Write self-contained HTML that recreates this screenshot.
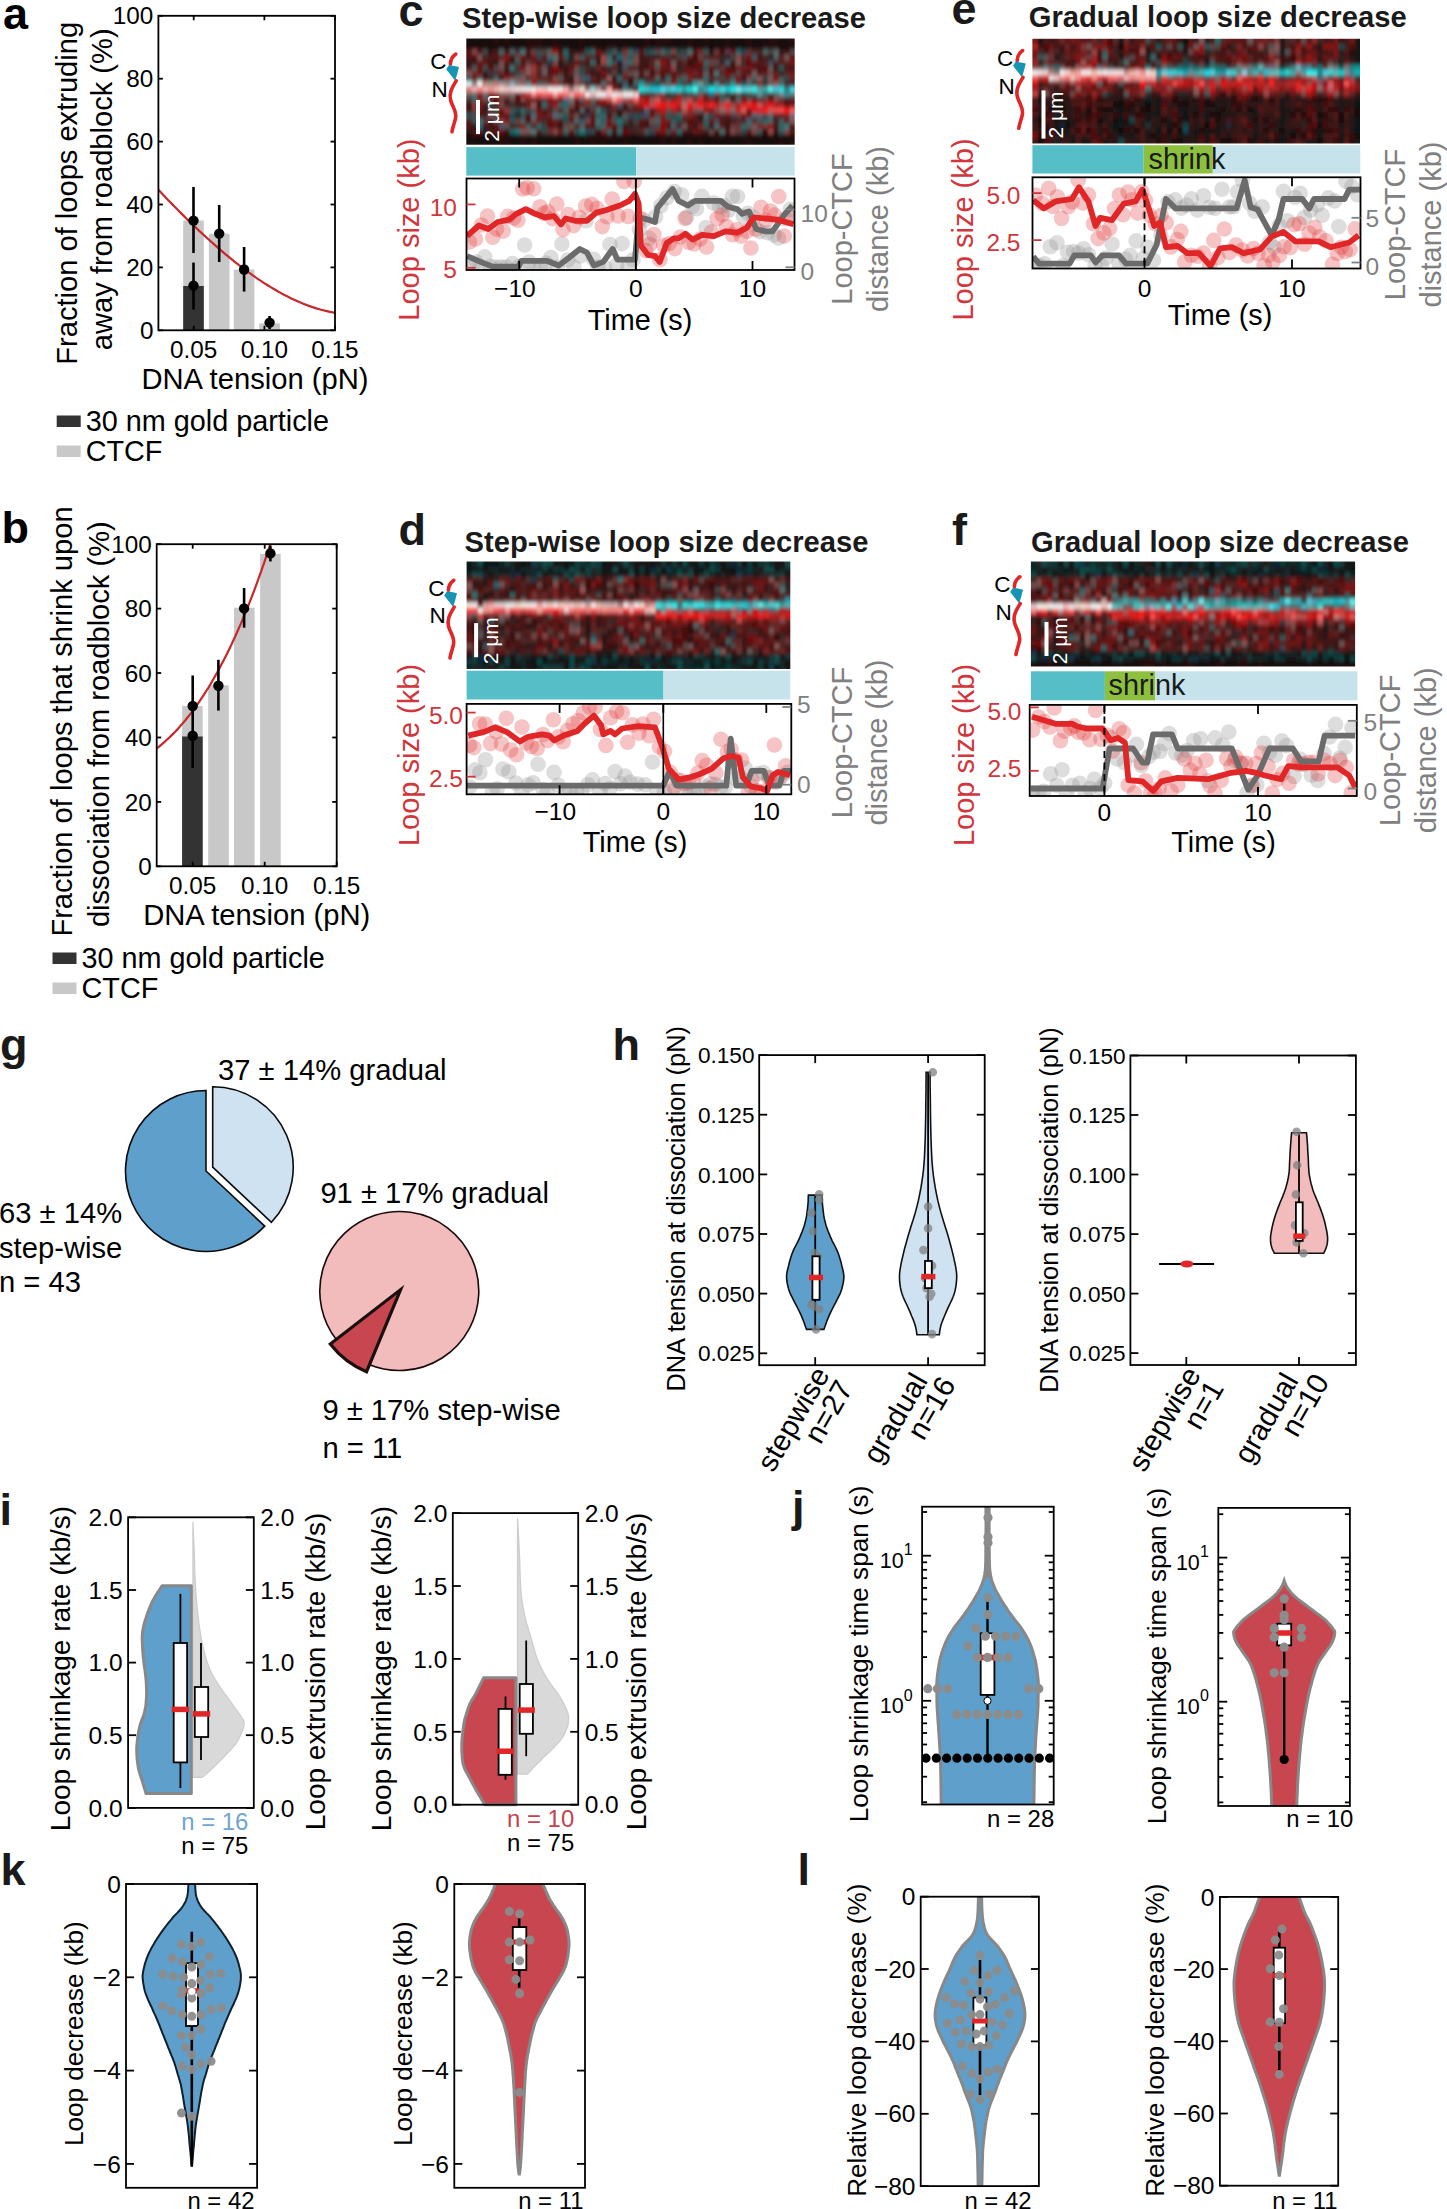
<!DOCTYPE html>
<html><head><meta charset="utf-8"><style>
html,body{margin:0;padding:0;background:#fff;}
svg{display:block;}
text{font-family:"Liberation Sans",sans-serif;}
</style></head><body>
<svg width="1447" height="2209" viewBox="0 0 1447 2209">
<defs><filter id="kblur" x="-2%" y="-5%" width="104%" height="110%"><feGaussianBlur stdDeviation="0.9 2.0"/></filter></defs>
<rect width="1447" height="2209" fill="#fff"/>
<rect x="183.2" y="220.5" width="20.6" height="109.8" fill="#c8c8c8"/>
<rect x="208.9" y="233.7" width="20.6" height="96.6" fill="#c8c8c8"/>
<rect x="233.8" y="269.6" width="20.6" height="60.7" fill="#c8c8c8"/>
<rect x="259.3" y="323.4" width="20.6" height="6.9" fill="#c8c8c8"/>
<rect x="183.2" y="286" width="20.6" height="44.3" fill="#333333"/>
<clipPath id="cpa"><rect x="158.4" y="15.8" width="176.6" height="314.5"/></clipPath>
<path d="M156.4 187.7 L158.7 190.1 L161 192.5 L163.3 194.9 L165.5 197.3 L167.8 199.7 L170.1 202.1 L172.4 204.4 L174.7 206.7 L177 209 L179.3 211.4 L181.5 213.6 L183.8 215.9 L186.1 218.2 L188.4 220.4 L190.7 222.6 L193 224.8 L195.3 227 L197.5 229.2 L199.8 231.4 L202.1 233.5 L204.4 235.6 L206.7 237.7 L209 239.8 L211.3 241.9 L213.6 243.9 L215.8 245.9 L218.1 247.9 L220.4 249.9 L222.7 251.8 L225 253.8 L227.3 255.7 L229.6 257.6 L231.8 259.4 L234.1 261.3 L236.4 263.1 L238.7 264.9 L241 266.6 L243.3 268.4 L245.6 270.1 L247.8 271.8 L250.1 273.4 L252.4 275.1 L254.7 276.7 L257 278.3 L259.3 279.8 L261.6 281.3 L263.8 282.8 L266.1 284.3 L268.4 285.7 L270.7 287.1 L273 288.5 L275.3 289.8 L277.6 291.2 L279.8 292.4 L282.1 293.7 L284.4 294.9 L286.7 296.1 L289 297.2 L291.3 298.4 L293.6 299.5 L295.9 300.5 L298.1 301.5 L300.4 302.5 L302.7 303.4 L305 304.4 L307.3 305.2 L309.6 306.1 L311.9 306.9 L314.1 307.6 L316.4 308.4 L318.7 309 L321 309.7 L323.3 310.3 L325.6 310.9 L327.9 311.4 L330.1 311.9 L332.4 312.3 L334.7 312.8 L337 313.1" stroke="#c8282a" stroke-width="2.2" fill="none" clip-path="url(#cpa)"/>
<line x1="193.5" y1="187" x2="193.5" y2="253" stroke="#000" stroke-width="2.6"/>
<line x1="193.5" y1="262.6" x2="193.5" y2="309.6" stroke="#000" stroke-width="2.6"/>
<line x1="219.2" y1="205" x2="219.2" y2="262" stroke="#000" stroke-width="2.6"/>
<line x1="244.1" y1="247" x2="244.1" y2="291.6" stroke="#000" stroke-width="2.6"/>
<line x1="269.6" y1="316" x2="269.6" y2="329" stroke="#000" stroke-width="2.6"/>
<circle cx="193.5" cy="220.6" r="5.2" fill="#000"/>
<circle cx="193.5" cy="285.6" r="5.2" fill="#000"/>
<circle cx="219.2" cy="233.6" r="5.2" fill="#000"/>
<circle cx="244.1" cy="269.5" r="5.2" fill="#000"/>
<circle cx="269.6" cy="322.6" r="5.2" fill="#000"/>
<rect x="158.4" y="15.8" width="176.6" height="314.5" fill="none" stroke="#000" stroke-width="1.8"/>
<line x1="193.7" y1="330.3" x2="193.7" y2="325.8" stroke="#000" stroke-width="1.8"/>
<line x1="193.7" y1="15.8" x2="193.7" y2="20.3" stroke="#000" stroke-width="1.8"/>
<line x1="264.4" y1="330.3" x2="264.4" y2="325.8" stroke="#000" stroke-width="1.8"/>
<line x1="264.4" y1="15.8" x2="264.4" y2="20.3" stroke="#000" stroke-width="1.8"/>
<line x1="335" y1="330.3" x2="335" y2="325.8" stroke="#000" stroke-width="1.8"/>
<line x1="335" y1="15.8" x2="335" y2="20.3" stroke="#000" stroke-width="1.8"/>
<line x1="158.4" y1="330.3" x2="162.9" y2="330.3" stroke="#000" stroke-width="1.8"/>
<line x1="335" y1="330.3" x2="330.5" y2="330.3" stroke="#000" stroke-width="1.8"/>
<text x="153.4" y="338.9" text-anchor="end" style="font-size:24.3px">0</text>
<line x1="158.4" y1="267.4" x2="162.9" y2="267.4" stroke="#000" stroke-width="1.8"/>
<line x1="335" y1="267.4" x2="330.5" y2="267.4" stroke="#000" stroke-width="1.8"/>
<text x="153.4" y="276" text-anchor="end" style="font-size:24.3px">20</text>
<line x1="158.4" y1="204.5" x2="162.9" y2="204.5" stroke="#000" stroke-width="1.8"/>
<line x1="335" y1="204.5" x2="330.5" y2="204.5" stroke="#000" stroke-width="1.8"/>
<text x="153.4" y="213.1" text-anchor="end" style="font-size:24.3px">40</text>
<line x1="158.4" y1="141.6" x2="162.9" y2="141.6" stroke="#000" stroke-width="1.8"/>
<line x1="335" y1="141.6" x2="330.5" y2="141.6" stroke="#000" stroke-width="1.8"/>
<text x="153.4" y="150.2" text-anchor="end" style="font-size:24.3px">60</text>
<line x1="158.4" y1="78.7" x2="162.9" y2="78.7" stroke="#000" stroke-width="1.8"/>
<line x1="335" y1="78.7" x2="330.5" y2="78.7" stroke="#000" stroke-width="1.8"/>
<text x="153.4" y="87.3" text-anchor="end" style="font-size:24.3px">80</text>
<line x1="158.4" y1="15.8" x2="162.9" y2="15.8" stroke="#000" stroke-width="1.8"/>
<line x1="335" y1="15.8" x2="330.5" y2="15.8" stroke="#000" stroke-width="1.8"/>
<text x="153.4" y="24.4" text-anchor="end" style="font-size:24.3px">100</text>
<text x="193.7" y="357.8" text-anchor="middle" style="font-size:24.3px">0.05</text>
<text x="264.4" y="357.8" text-anchor="middle" style="font-size:24.3px">0.10</text>
<text x="335" y="357.8" text-anchor="middle" style="font-size:24.3px">0.15</text>
<text x="255" y="388.8" text-anchor="middle" style="font-size:29.2px">DNA tension (pN)</text>
<text x="3" y="29" style="font-size:45px;font-weight:bold">a</text>
<text x="77.3" y="193.3" text-anchor="middle" transform="rotate(-90 77.3 193.3)" style="font-size:29.1px">Fraction of loops extruding</text>
<text x="112" y="189.3" text-anchor="middle" transform="rotate(-90 112 189.3)" style="font-size:29.1px">away from roadblock (%)</text>
<rect x="56.7" y="415.5" width="24" height="11.5" fill="#333333"/>
<text x="85.7" y="431" style="font-size:28.8px">30 nm gold particle</text>
<rect x="56.7" y="445.5" width="24" height="11.5" fill="#c8c8c8"/>
<text x="85.7" y="461" style="font-size:28.8px">CTCF</text>
<rect x="182.1" y="705.9" width="20.6" height="160.4" fill="#c8c8c8"/>
<rect x="208.2" y="685.3" width="20.6" height="181" fill="#c8c8c8"/>
<rect x="234" y="607.7" width="20.6" height="258.6" fill="#c8c8c8"/>
<rect x="260.1" y="553.9" width="20.6" height="312.4" fill="#c8c8c8"/>
<rect x="182.1" y="736.5" width="20.6" height="129.8" fill="#333333"/>
<clipPath id="cpb"><rect x="156.7" y="544.2" width="180" height="322.1"/></clipPath>
<path d="M154.7 750 L157 748.2 L159.4 746.4 L161.7 744.4 L164 742.4 L166.3 740.3 L168.7 738.2 L171 735.9 L173.3 733.6 L175.7 731.2 L178 728.7 L180.3 726.1 L182.6 723.4 L185 720.7 L187.3 717.8 L189.6 714.9 L192 711.8 L194.3 708.7 L196.6 705.5 L199 702.1 L201.3 698.7 L203.6 695.2 L205.9 691.5 L208.3 687.8 L210.6 684 L212.9 680 L215.3 675.9 L217.6 671.8 L219.9 667.5 L222.2 663.1 L224.6 658.6 L226.9 653.9 L229.2 649.2 L231.6 644.3 L233.9 639.3 L236.2 634.2 L238.5 629 L240.9 623.6 L243.2 618.1 L245.5 612.5 L247.9 606.7 L250.2 600.8 L252.5 594.8 L254.9 588.6 L257.2 582.3 L259.5 575.9 L261.8 569.3 L264.2 562.6 L266.5 555.7 L268.8 548.7 L271.2 541.6 L273.5 534.3 L275.8 526.8 L278.1 519.2 L280.5 511.5 L282.8 503.5 L285.1 495.5 L287.5 487.2 L289.8 478.9 L292.1 470.3 L294.4 461.6 L296.8 452.7 L299.1 443.7 L301.4 434.5 L303.8 425.1 L306.1 415.6 L308.4 405.9 L310.8 396 L313.1 386 L315.4 375.7 L317.7 365.3 L320.1 354.7 L322.4 344 L324.7 333 L327.1 321.9 L329.4 310.5 L331.7 299 L334 287.3 L336.4 275.5 L338.7 263.4" stroke="#c8282a" stroke-width="2.2" fill="none" clip-path="url(#cpb)"/>
<line x1="192.7" y1="675.5" x2="192.7" y2="768" stroke="#000" stroke-width="2.6"/>
<line x1="218.4" y1="659.8" x2="218.4" y2="710.6" stroke="#000" stroke-width="2.6"/>
<line x1="244.1" y1="588" x2="244.1" y2="627.7" stroke="#000" stroke-width="2.6"/>
<line x1="270.4" y1="545.6" x2="270.4" y2="561.4" stroke="#000" stroke-width="2.6"/>
<circle cx="192.7" cy="706" r="5.2" fill="#000"/>
<circle cx="192.7" cy="735.8" r="5.2" fill="#000"/>
<circle cx="218.4" cy="685.8" r="5.2" fill="#000"/>
<circle cx="244.1" cy="608.4" r="5.2" fill="#000"/>
<circle cx="270.4" cy="553.4" r="5.2" fill="#000"/>
<rect x="156.7" y="544.2" width="180" height="322.1" fill="none" stroke="#000" stroke-width="1.8"/>
<line x1="192.7" y1="866.3" x2="192.7" y2="861.8" stroke="#000" stroke-width="1.8"/>
<line x1="192.7" y1="544.2" x2="192.7" y2="548.7" stroke="#000" stroke-width="1.8"/>
<line x1="264.7" y1="866.3" x2="264.7" y2="861.8" stroke="#000" stroke-width="1.8"/>
<line x1="264.7" y1="544.2" x2="264.7" y2="548.7" stroke="#000" stroke-width="1.8"/>
<line x1="336.7" y1="866.3" x2="336.7" y2="861.8" stroke="#000" stroke-width="1.8"/>
<line x1="336.7" y1="544.2" x2="336.7" y2="548.7" stroke="#000" stroke-width="1.8"/>
<line x1="156.7" y1="866.3" x2="161.2" y2="866.3" stroke="#000" stroke-width="1.8"/>
<line x1="336.7" y1="866.3" x2="332.2" y2="866.3" stroke="#000" stroke-width="1.8"/>
<text x="151.7" y="874.9" text-anchor="end" style="font-size:24.3px">0</text>
<line x1="156.7" y1="801.9" x2="161.2" y2="801.9" stroke="#000" stroke-width="1.8"/>
<line x1="336.7" y1="801.9" x2="332.2" y2="801.9" stroke="#000" stroke-width="1.8"/>
<text x="151.7" y="810.5" text-anchor="end" style="font-size:24.3px">20</text>
<line x1="156.7" y1="737.5" x2="161.2" y2="737.5" stroke="#000" stroke-width="1.8"/>
<line x1="336.7" y1="737.5" x2="332.2" y2="737.5" stroke="#000" stroke-width="1.8"/>
<text x="151.7" y="746.1" text-anchor="end" style="font-size:24.3px">40</text>
<line x1="156.7" y1="673" x2="161.2" y2="673" stroke="#000" stroke-width="1.8"/>
<line x1="336.7" y1="673" x2="332.2" y2="673" stroke="#000" stroke-width="1.8"/>
<text x="151.7" y="681.6" text-anchor="end" style="font-size:24.3px">60</text>
<line x1="156.7" y1="608.6" x2="161.2" y2="608.6" stroke="#000" stroke-width="1.8"/>
<line x1="336.7" y1="608.6" x2="332.2" y2="608.6" stroke="#000" stroke-width="1.8"/>
<text x="151.7" y="617.2" text-anchor="end" style="font-size:24.3px">80</text>
<line x1="156.7" y1="544.2" x2="161.2" y2="544.2" stroke="#000" stroke-width="1.8"/>
<line x1="336.7" y1="544.2" x2="332.2" y2="544.2" stroke="#000" stroke-width="1.8"/>
<text x="151.7" y="552.8" text-anchor="end" style="font-size:24.3px">100</text>
<text x="192.7" y="893.8" text-anchor="middle" style="font-size:24.3px">0.05</text>
<text x="264.7" y="893.8" text-anchor="middle" style="font-size:24.3px">0.10</text>
<text x="336.7" y="893.8" text-anchor="middle" style="font-size:24.3px">0.15</text>
<text x="256.7" y="924.8" text-anchor="middle" style="font-size:29.2px">DNA tension (pN)</text>
<text x="1.5" y="542.5" style="font-size:45px;font-weight:bold">b</text>
<text x="72" y="721.5" text-anchor="middle" transform="rotate(-90 72 721.5)" style="font-size:29.1px">Fraction of loops that shrink upon</text>
<text x="109" y="724.2" text-anchor="middle" transform="rotate(-90 109 724.2)" style="font-size:29.1px">dissociation from roadblock (%)</text>
<rect x="52.5" y="952.5" width="24" height="11.5" fill="#333333"/>
<text x="81.5" y="968" style="font-size:28.8px">30 nm gold particle</text>
<rect x="52.5" y="982.5" width="24" height="11.5" fill="#c8c8c8"/>
<text x="81.5" y="998" style="font-size:28.8px">CTCF</text>
<text x="-0.5" y="1524.8" fill="#1a1a1a" style="font-size:45px;font-weight:bold">i</text>
<path d="M192.9 1522.3 L192.9 1522.3 L193.1 1526.7 L193.4 1533 L193.7 1540.3 L194.1 1547.8 L194.4 1554.6 L194.6 1560.8 L194.7 1567 L194.9 1573 L195.1 1578.9 L195.4 1584.5 L195.7 1589.9 L196.1 1595 L196.5 1600 L196.9 1604.8 L197.3 1609.4 L197.8 1613.7 L198.2 1617.7 L198.7 1621.6 L199.2 1625.4 L199.8 1629.3 L200.5 1633.3 L201.1 1637.2 L201.8 1641.2 L202.6 1645.2 L203.6 1649.2 L204.6 1653.2 L205.7 1657.3 L206.9 1661.3 L208.3 1665.3 L209.8 1669.1 L211.5 1672.7 L213.4 1676.2 L215.4 1679.7 L217.5 1683.1 L219.7 1686.5 L222.1 1690.1 L224.7 1693.7 L227.4 1697.3 L229.9 1700.7 L232.2 1703.9 L234.2 1706.8 L236.2 1709.5 L238 1712.1 L239.6 1714.3 L240.9 1716.4 L242 1718 L242.8 1719.2 L243.5 1720.2 L243.9 1721.3 L244.1 1722.6 L244.1 1724.1 L243.9 1725.7 L243.5 1727.4 L242.9 1729.3 L242.1 1731.3 L241.2 1733.5 L240.2 1736 L239 1738.6 L237.5 1741.2 L235.9 1743.7 L234 1746.2 L231.8 1748.7 L229.5 1751.2 L227.1 1753.7 L224.7 1756.2 L222.3 1758.7 L219.7 1761.3 L217.1 1763.9 L214.6 1766.4 L212.3 1768.6 L210 1770.7 L207.6 1772.8 L205.5 1774.6 L203.6 1776.2 L202.3 1777.3 L192.9 1777.3Z" fill="#d9d9d9" stroke="#cccccc" stroke-width="1.2" stroke-linejoin="round"/>
<path d="M191.3 1585.7 L162.2 1585.7 L160.9 1587.6 L159.2 1590.2 L157.2 1593.2 L155.2 1596.4 L153.5 1599.4 L152 1602.3 L150.7 1605.3 L149.5 1608.3 L148.3 1611.3 L147.2 1614.3 L146.2 1617.4 L145.2 1620.4 L144.3 1623.5 L143.6 1626.4 L143 1629.3 L142.6 1631.8 L142.4 1634.2 L142.2 1636.5 L142.2 1638.9 L142.3 1641.7 L142.4 1644.8 L142.6 1648.2 L142.8 1651.7 L143.1 1655.4 L143.5 1659.1 L143.9 1663 L144.5 1667 L145.1 1671.1 L145.6 1675.2 L146 1679 L146.3 1682.7 L146.4 1686.3 L146.5 1689.8 L146.6 1693.2 L146.5 1696.5 L146.3 1699.6 L146.1 1702.6 L145.8 1705.5 L145.3 1708.4 L144.7 1711.4 L143.9 1714.4 L142.9 1717.3 L141.7 1720.3 L140.7 1723.3 L139.8 1726.3 L139.1 1729.3 L138.5 1732.4 L138 1735.4 L137.6 1738.4 L137.3 1741.2 L137 1743.8 L136.8 1746.3 L136.7 1748.6 L136.7 1751.1 L136.8 1753.7 L137 1756.5 L137.2 1759.6 L137.6 1762.7 L138 1765.7 L138.5 1768.6 L139.1 1771.2 L139.9 1773.8 L140.7 1776.2 L141.5 1778.6 L142.3 1781 L143.1 1783.7 L143.9 1786.6 L144.8 1789.4 L145.5 1791.8 L146 1793.5 L191.3 1793.5Z" fill="#5e9fcb" stroke="#888888" stroke-width="3" stroke-linejoin="round"/>
<line x1="180.4" y1="1593.9" x2="180.4" y2="1788" stroke="#000" stroke-width="1.8"/>
<rect x="173.7" y="1643" width="13.4" height="119.4" fill="#fff" stroke="#000" stroke-width="1.8"/>
<line x1="171.7" y1="1709.4" x2="189.1" y2="1709.4" stroke="#e02626" stroke-width="5.5"/>
<line x1="201" y1="1643" x2="201" y2="1759.9" stroke="#000" stroke-width="1.8"/>
<rect x="194.8" y="1687" width="13.4" height="50" fill="#fff" stroke="#000" stroke-width="1.8"/>
<line x1="192.8" y1="1713.9" x2="210.2" y2="1713.9" stroke="#e02626" stroke-width="5.5"/>
<rect x="128.1" y="1517.3" width="125.7" height="290.6" fill="none" stroke="#000" stroke-width="1.8"/>
<line x1="128.1" y1="1807.9" x2="136.1" y2="1807.9" stroke="#000" stroke-width="1.8"/>
<line x1="253.8" y1="1807.9" x2="245.8" y2="1807.9" stroke="#000" stroke-width="1.8"/>
<line x1="128.1" y1="1735.2" x2="136.1" y2="1735.2" stroke="#000" stroke-width="1.8"/>
<line x1="253.8" y1="1735.2" x2="245.8" y2="1735.2" stroke="#000" stroke-width="1.8"/>
<line x1="128.1" y1="1662.6" x2="136.1" y2="1662.6" stroke="#000" stroke-width="1.8"/>
<line x1="253.8" y1="1662.6" x2="245.8" y2="1662.6" stroke="#000" stroke-width="1.8"/>
<line x1="128.1" y1="1590" x2="136.1" y2="1590" stroke="#000" stroke-width="1.8"/>
<line x1="253.8" y1="1590" x2="245.8" y2="1590" stroke="#000" stroke-width="1.8"/>
<line x1="128.1" y1="1517.3" x2="136.1" y2="1517.3" stroke="#000" stroke-width="1.8"/>
<line x1="253.8" y1="1517.3" x2="245.8" y2="1517.3" stroke="#000" stroke-width="1.8"/>
<text x="122.6" y="1816.6" text-anchor="end" style="font-size:24.5px">0.0</text>
<text x="260.3" y="1816.6" style="font-size:24.5px">0.0</text>
<text x="122.6" y="1744" text-anchor="end" style="font-size:24.5px">0.5</text>
<text x="260.3" y="1744" style="font-size:24.5px">0.5</text>
<text x="122.6" y="1671.3" text-anchor="end" style="font-size:24.5px">1.0</text>
<text x="260.3" y="1671.3" style="font-size:24.5px">1.0</text>
<text x="122.6" y="1598.7" text-anchor="end" style="font-size:24.5px">1.5</text>
<text x="260.3" y="1598.7" style="font-size:24.5px">1.5</text>
<text x="122.6" y="1526" text-anchor="end" style="font-size:24.5px">2.0</text>
<text x="260.3" y="1526" style="font-size:24.5px">2.0</text>
<text x="248.3" y="1829.9" text-anchor="end" fill="#6fa6cf" style="font-size:23.9px">n = 16</text>
<text x="248.3" y="1854.4" text-anchor="end" style="font-size:23.9px">n = 75</text>
<path d="M517.5 1518.6 L517.5 1518.6 L517.8 1523.4 L518.2 1530.3 L518.7 1538.4 L519.1 1546.8 L519.5 1554.6 L519.8 1562.2 L520 1570.1 L520.3 1577.9 L520.6 1585.3 L521 1592 L521.6 1597.8 L522.4 1603.2 L523.2 1608 L524.1 1612.5 L525 1616.8 L525.9 1620.7 L526.8 1624 L527.8 1627.1 L528.8 1630.4 L530 1634.3 L531.3 1638.8 L532.7 1643.9 L534.2 1649.2 L535.8 1654.4 L537.4 1659.1 L539.2 1663.5 L541.1 1667.6 L543.1 1671.5 L545.2 1675.3 L547.4 1679 L549.8 1682.7 L552.4 1686.3 L555.1 1689.8 L557.6 1693.2 L559.8 1696.5 L561.7 1699.7 L563.5 1702.9 L565 1706 L566.3 1708.8 L567.3 1711.4 L568 1713.5 L568.4 1715.3 L568.6 1716.9 L568.6 1718.4 L568.5 1720.1 L568.5 1721.8 L568.3 1723.4 L568 1725 L567.5 1726.8 L566.8 1728.8 L565.8 1731 L564.7 1733.5 L563.3 1736.1 L561.7 1738.7 L559.8 1741.2 L557.7 1743.7 L555.3 1746.2 L552.6 1748.7 L550 1751.2 L547.4 1753.7 L544.8 1756.2 L542.2 1758.9 L539.6 1761.5 L537.1 1763.9 L535 1766.1 L533 1768.1 L531.3 1770 L529.7 1771.7 L528.4 1773.1 L527.5 1774.1 L517.5 1774.1Z" fill="#d9d9d9" stroke="#cccccc" stroke-width="1.2" stroke-linejoin="round"/>
<path d="M515.9 1677.8 L483.6 1677.8 L482.5 1680.1 L480.9 1683.4 L479 1687.2 L477.2 1690.9 L475.6 1694 L474.3 1696.3 L473.1 1698.2 L472 1699.9 L471 1701.7 L469.9 1703.9 L468.8 1706.7 L467.7 1709.8 L466.7 1713 L465.7 1716.1 L464.9 1718.8 L464.4 1721.1 L464 1723.1 L463.7 1724.9 L463.5 1726.7 L463.2 1728.8 L462.9 1731.1 L462.6 1733.6 L462.3 1736.1 L462.1 1738.7 L462 1741.2 L461.8 1743.7 L461.8 1746.2 L461.8 1748.7 L461.8 1751.2 L462 1753.7 L462.1 1756.2 L462.3 1758.6 L462.6 1761.1 L463 1763.6 L463.7 1766.1 L464.6 1768.6 L465.8 1771.1 L467.2 1773.6 L468.6 1776.1 L469.9 1778.6 L471.2 1781 L472.5 1783.5 L473.8 1785.9 L475.2 1788.4 L476.6 1791 L478.3 1793.9 L480.2 1797 L482.1 1800.1 L483.7 1802.8 L484.8 1804.7 L515.9 1804.7Z" fill="#c8464f" stroke="#888888" stroke-width="3" stroke-linejoin="round"/>
<line x1="505.5" y1="1696.5" x2="505.5" y2="1779.8" stroke="#000" stroke-width="1.8"/>
<rect x="498.6" y="1708.9" width="13.2" height="65.9" fill="#fff" stroke="#000" stroke-width="1.8"/>
<line x1="496.6" y1="1751.2" x2="513.8" y2="1751.2" stroke="#e02626" stroke-width="5.5"/>
<line x1="526.2" y1="1640.5" x2="526.2" y2="1756.2" stroke="#000" stroke-width="1.8"/>
<rect x="519.7" y="1684" width="13.2" height="49.8" fill="#fff" stroke="#000" stroke-width="1.8"/>
<line x1="517.7" y1="1710.1" x2="534.9" y2="1710.1" stroke="#e02626" stroke-width="5.5"/>
<rect x="452.8" y="1513.1" width="125.4" height="291.6" fill="none" stroke="#000" stroke-width="1.8"/>
<line x1="452.8" y1="1804.7" x2="460.8" y2="1804.7" stroke="#000" stroke-width="1.8"/>
<line x1="578.2" y1="1804.7" x2="570.2" y2="1804.7" stroke="#000" stroke-width="1.8"/>
<line x1="452.8" y1="1731.8" x2="460.8" y2="1731.8" stroke="#000" stroke-width="1.8"/>
<line x1="578.2" y1="1731.8" x2="570.2" y2="1731.8" stroke="#000" stroke-width="1.8"/>
<line x1="452.8" y1="1658.9" x2="460.8" y2="1658.9" stroke="#000" stroke-width="1.8"/>
<line x1="578.2" y1="1658.9" x2="570.2" y2="1658.9" stroke="#000" stroke-width="1.8"/>
<line x1="452.8" y1="1586" x2="460.8" y2="1586" stroke="#000" stroke-width="1.8"/>
<line x1="578.2" y1="1586" x2="570.2" y2="1586" stroke="#000" stroke-width="1.8"/>
<line x1="452.8" y1="1513.1" x2="460.8" y2="1513.1" stroke="#000" stroke-width="1.8"/>
<line x1="578.2" y1="1513.1" x2="570.2" y2="1513.1" stroke="#000" stroke-width="1.8"/>
<text x="447.3" y="1813.4" text-anchor="end" style="font-size:24.5px">0.0</text>
<text x="584.7" y="1813.4" style="font-size:24.5px">0.0</text>
<text x="447.3" y="1740.5" text-anchor="end" style="font-size:24.5px">0.5</text>
<text x="584.7" y="1740.5" style="font-size:24.5px">0.5</text>
<text x="447.3" y="1667.6" text-anchor="end" style="font-size:24.5px">1.0</text>
<text x="584.7" y="1667.6" style="font-size:24.5px">1.0</text>
<text x="447.3" y="1594.7" text-anchor="end" style="font-size:24.5px">1.5</text>
<text x="584.7" y="1594.7" style="font-size:24.5px">1.5</text>
<text x="447.3" y="1521.8" text-anchor="end" style="font-size:24.5px">2.0</text>
<text x="584.7" y="1521.8" style="font-size:24.5px">2.0</text>
<text x="574.2" y="1826.7" text-anchor="end" fill="#c4434d" style="font-size:23.9px">n = 10</text>
<text x="574.2" y="1851.2" text-anchor="end" style="font-size:23.9px">n = 75</text>
<text x="69.8" y="1668.5" text-anchor="middle" transform="rotate(-90 69.8 1668.5)" style="font-size:28px">Loop shrinkage rate (kb/s)</text>
<text x="324.7" y="1671.5" text-anchor="middle" transform="rotate(-90 324.7 1671.5)" style="font-size:28px">Loop extrusion rate (kb/s)</text>
<text x="391" y="1668.5" text-anchor="middle" transform="rotate(-90 391 1668.5)" style="font-size:28px">Loop shrinkage rate (kb/s)</text>
<text x="645.5" y="1671.5" text-anchor="middle" transform="rotate(-90 645.5 1671.5)" style="font-size:28px">Loop extrusion rate (kb/s)</text>
<text x="792" y="1522" fill="#1a1a1a" style="font-size:45px;font-weight:bold">j</text>
<clipPath id="cj1"><rect x="922.1" y="1506.7" width="131.6" height="297.8"/></clipPath>
<g clip-path="url(#cj1)">
<path d="M989.1 1502.8 L989.1 1507.5 L989.1 1514.2 L989.1 1522 L989.1 1529.9 L989.1 1537 L989.2 1543.5 L989.2 1550.1 L989.3 1556.3 L989.4 1562 L989.6 1566.7 L989.8 1570.1 L990.1 1572.6 L990.4 1574.5 L990.7 1576.2 L991.2 1578.1 L991.7 1580.1 L992.3 1582 L993 1583.8 L993.7 1585.5 L994.4 1587.2 L995 1588.6 L995.6 1589.9 L996.2 1591.1 L996.9 1592.4 L997.8 1594 L998.9 1596 L1000.2 1598.3 L1001.7 1600.7 L1003.1 1603.1 L1004.6 1605.4 L1006.2 1607.7 L1007.7 1610 L1009.3 1612.3 L1011 1614.6 L1012.6 1616.8 L1014.3 1619.1 L1016.1 1621.4 L1017.9 1623.7 L1019.7 1626 L1021.3 1628.2 L1022.8 1630.5 L1024.3 1632.8 L1025.6 1635.1 L1026.9 1637.4 L1028.1 1639.6 L1029.2 1641.9 L1030.2 1644.2 L1031.1 1646.5 L1031.9 1648.8 L1032.7 1651 L1033.4 1653.3 L1034 1655.6 L1034.6 1657.9 L1035.2 1660.2 L1035.7 1662.4 L1036.1 1664.7 L1036.5 1667 L1036.9 1669.3 L1037.2 1671.6 L1037.5 1673.9 L1037.7 1676.1 L1038 1678.4 L1038.2 1680.7 L1038.3 1683 L1038.4 1685.3 L1038.4 1687.5 L1038.4 1689.8 L1038.3 1692.1 L1038.2 1694.4 L1038.2 1696.7 L1038.1 1698.8 L1038.1 1700.7 L1038.1 1702.7 L1038.1 1705.1 L1037.9 1708.1 L1037.7 1711.9 L1037.4 1716.4 L1037 1721.2 L1036.7 1726.1 L1036.3 1730.9 L1036 1735.4 L1035.7 1740 L1035.5 1744.6 L1035.2 1749.1 L1035 1753.7 L1034.8 1758.1 L1034.6 1762.4 L1034.5 1766.7 L1034.4 1771.3 L1034.3 1776.5 L1034.2 1782.8 L1034.1 1790.1 L1034 1797.5 L1033.9 1803.9 L1033.8 1808.4 L941.2 1808.4 L941.2 1803.9 L941.1 1797.5 L941 1790.1 L940.9 1782.8 L940.8 1776.5 L940.7 1771.3 L940.6 1766.7 L940.4 1762.4 L940.3 1758.1 L940.1 1753.7 L939.9 1749.1 L939.6 1744.6 L939.3 1740 L939 1735.4 L938.7 1730.9 L938.4 1726.1 L938 1721.2 L937.7 1716.4 L937.4 1711.9 L937.1 1708.1 L937 1705.1 L936.9 1702.7 L936.9 1700.7 L936.9 1698.8 L936.9 1696.7 L936.8 1694.4 L936.8 1692.1 L936.7 1689.8 L936.7 1687.5 L936.7 1685.3 L936.8 1683 L936.9 1680.7 L937.1 1678.4 L937.3 1676.1 L937.6 1673.9 L937.9 1671.6 L938.2 1669.3 L938.6 1667 L939 1664.7 L939.4 1662.4 L939.9 1660.2 L940.4 1657.9 L941 1655.6 L941.7 1653.3 L942.4 1651 L943.2 1648.8 L944 1646.5 L944.9 1644.2 L945.9 1641.9 L946.9 1639.6 L948.1 1637.4 L949.4 1635.1 L950.8 1632.8 L952.3 1630.5 L953.8 1628.2 L955.4 1626 L957.2 1623.7 L958.9 1621.4 L960.7 1619.1 L962.4 1616.8 L964.1 1614.6 L965.7 1612.3 L967.4 1610 L968.9 1607.7 L970.4 1605.4 L971.9 1603.1 L973.4 1600.7 L974.8 1598.3 L976.1 1596 L977.3 1594 L978.2 1592.4 L978.9 1591.1 L979.5 1589.9 L980.1 1588.6 L980.7 1587.2 L981.4 1585.5 L982.1 1583.8 L982.7 1582 L983.4 1580.1 L983.9 1578.1 L984.3 1576.2 L984.7 1574.5 L985 1572.6 L985.3 1570.1 L985.5 1566.7 L985.7 1562 L985.8 1556.3 L985.8 1550.1 L985.9 1543.5 L985.9 1537 L986 1529.9 L986 1522 L986 1514.2 L985.9 1507.5 L985.9 1502.8Z" fill="#5e9fcb" stroke="#888888" stroke-width="3"/>
<path d="M988.9 1502.8 L988.9 1507.5 L989 1514.2 L989 1522 L989.1 1529.9 L989.1 1537 L989.2 1543.5 L989.2 1550.1 L989.3 1556.3 L989.3 1562 L989.4 1566.7 L989.4 1570.3 L989.5 1573.1 L989.7 1575.2 L989.8 1576.8 L989.8 1578.1 L985.3 1578.1 L985.3 1576.8 L985.4 1575.2 L985.5 1573.1 L985.6 1570.3 L985.7 1566.7 L985.8 1562 L985.8 1556.3 L985.9 1550.1 L985.9 1543.5 L985.9 1537 L986 1529.9 L986 1522 L986.1 1514.2 L986.1 1507.5 L986.2 1502.8Z" fill="#888888"/>
<line x1="987.5" y1="1600.9" x2="987.5" y2="1756" stroke="#000" stroke-width="2.4"/>
<rect x="980.7" y="1633.3" width="13.7" height="61.6" fill="#fff" stroke="#000" stroke-width="1.8"/>
<line x1="980.2" y1="1657.4" x2="994.8" y2="1657.4" stroke="#e02626" stroke-width="5.5"/>
<path fill="#8c8c8c" d="M983.4 1517.6a4.6 4.6 0 1 0 9.2 0a4.6 4.6 0 1 0 -9.2 0M983.4 1537a4.6 4.6 0 1 0 9.2 0a4.6 4.6 0 1 0 -9.2 0M983.4 1542.7a4.6 4.6 0 1 0 9.2 0a4.6 4.6 0 1 0 -9.2 0M983.4 1597.5a4.6 4.6 0 1 0 9.2 0a4.6 4.6 0 1 0 -9.2 0M983.4 1614.6a4.6 4.6 0 1 0 9.2 0a4.6 4.6 0 1 0 -9.2 0M971.1 1628.2a4.6 4.6 0 1 0 9.2 0a4.6 4.6 0 1 0 -9.2 0M963.5 1646a4.6 4.6 0 1 0 9.2 0a4.6 4.6 0 1 0 -9.2 0M980.7 1636.2a4.6 4.6 0 1 0 9.2 0a4.6 4.6 0 1 0 -9.2 0M990.9 1636.2a4.6 4.6 0 1 0 9.2 0a4.6 4.6 0 1 0 -9.2 0M1001.2 1636.2a4.6 4.6 0 1 0 9.2 0a4.6 4.6 0 1 0 -9.2 0M1011.4 1636.2a4.6 4.6 0 1 0 9.2 0a4.6 4.6 0 1 0 -9.2 0M972.7 1657.4a4.6 4.6 0 1 0 9.2 0a4.6 4.6 0 1 0 -9.2 0M982.9 1657.4a4.6 4.6 0 1 0 9.2 0a4.6 4.6 0 1 0 -9.2 0M993.2 1657.4a4.6 4.6 0 1 0 9.2 0a4.6 4.6 0 1 0 -9.2 0M1003.5 1657.4a4.6 4.6 0 1 0 9.2 0a4.6 4.6 0 1 0 -9.2 0M923.2 1688.7a4.6 4.6 0 1 0 9.2 0a4.6 4.6 0 1 0 -9.2 0M932.8 1688.7a4.6 4.6 0 1 0 9.2 0a4.6 4.6 0 1 0 -9.2 0M943 1688.7a4.6 4.6 0 1 0 9.2 0a4.6 4.6 0 1 0 -9.2 0M1024 1688.7a4.6 4.6 0 1 0 9.2 0a4.6 4.6 0 1 0 -9.2 0M1034.2 1688.7a4.6 4.6 0 1 0 9.2 0a4.6 4.6 0 1 0 -9.2 0M952.1 1714.4a4.6 4.6 0 1 0 9.2 0a4.6 4.6 0 1 0 -9.2 0M962.4 1714.4a4.6 4.6 0 1 0 9.2 0a4.6 4.6 0 1 0 -9.2 0M972.7 1714.4a4.6 4.6 0 1 0 9.2 0a4.6 4.6 0 1 0 -9.2 0M982.9 1714.4a4.6 4.6 0 1 0 9.2 0a4.6 4.6 0 1 0 -9.2 0M993.2 1714.4a4.6 4.6 0 1 0 9.2 0a4.6 4.6 0 1 0 -9.2 0M1003.5 1714.4a4.6 4.6 0 1 0 9.2 0a4.6 4.6 0 1 0 -9.2 0M1013.7 1714.4a4.6 4.6 0 1 0 9.2 0a4.6 4.6 0 1 0 -9.2 0"/>
<circle cx="987.5" cy="1700.8" r="3.6" fill="#fff" stroke="#000" stroke-width="1"/>
<path fill="#000" d="M921.4 1758.2a4.6 4.6 0 1 0 9.2 0a4.6 4.6 0 1 0 -9.2 0M931.7 1758.2a4.6 4.6 0 1 0 9.2 0a4.6 4.6 0 1 0 -9.2 0M942 1758.2a4.6 4.6 0 1 0 9.2 0a4.6 4.6 0 1 0 -9.2 0M952.3 1758.2a4.6 4.6 0 1 0 9.2 0a4.6 4.6 0 1 0 -9.2 0M962.6 1758.2a4.6 4.6 0 1 0 9.2 0a4.6 4.6 0 1 0 -9.2 0M972.9 1758.2a4.6 4.6 0 1 0 9.2 0a4.6 4.6 0 1 0 -9.2 0M983.2 1758.2a4.6 4.6 0 1 0 9.2 0a4.6 4.6 0 1 0 -9.2 0M993.5 1758.2a4.6 4.6 0 1 0 9.2 0a4.6 4.6 0 1 0 -9.2 0M1003.8 1758.2a4.6 4.6 0 1 0 9.2 0a4.6 4.6 0 1 0 -9.2 0M1014.1 1758.2a4.6 4.6 0 1 0 9.2 0a4.6 4.6 0 1 0 -9.2 0M1024.4 1758.2a4.6 4.6 0 1 0 9.2 0a4.6 4.6 0 1 0 -9.2 0M1034.7 1758.2a4.6 4.6 0 1 0 9.2 0a4.6 4.6 0 1 0 -9.2 0M1045 1758.2a4.6 4.6 0 1 0 9.2 0a4.6 4.6 0 1 0 -9.2 0"/>
</g>
<rect x="922.1" y="1506.7" width="131.6" height="297.8" fill="none" stroke="#000" stroke-width="1.8"/>
<line x1="922.1" y1="1802.2" x2="927.1" y2="1802.2" stroke="#000" stroke-width="1.8"/>
<line x1="1053.7" y1="1802.2" x2="1048.7" y2="1802.2" stroke="#000" stroke-width="1.8"/>
<line x1="922.1" y1="1776.7" x2="927.1" y2="1776.7" stroke="#000" stroke-width="1.8"/>
<line x1="1053.7" y1="1776.7" x2="1048.7" y2="1776.7" stroke="#000" stroke-width="1.8"/>
<line x1="922.1" y1="1758.5" x2="927.1" y2="1758.5" stroke="#000" stroke-width="1.8"/>
<line x1="1053.7" y1="1758.5" x2="1048.7" y2="1758.5" stroke="#000" stroke-width="1.8"/>
<line x1="922.1" y1="1744.5" x2="927.1" y2="1744.5" stroke="#000" stroke-width="1.8"/>
<line x1="1053.7" y1="1744.5" x2="1048.7" y2="1744.5" stroke="#000" stroke-width="1.8"/>
<line x1="922.1" y1="1733" x2="927.1" y2="1733" stroke="#000" stroke-width="1.8"/>
<line x1="1053.7" y1="1733" x2="1048.7" y2="1733" stroke="#000" stroke-width="1.8"/>
<line x1="922.1" y1="1723.3" x2="927.1" y2="1723.3" stroke="#000" stroke-width="1.8"/>
<line x1="1053.7" y1="1723.3" x2="1048.7" y2="1723.3" stroke="#000" stroke-width="1.8"/>
<line x1="922.1" y1="1714.9" x2="927.1" y2="1714.9" stroke="#000" stroke-width="1.8"/>
<line x1="1053.7" y1="1714.9" x2="1048.7" y2="1714.9" stroke="#000" stroke-width="1.8"/>
<line x1="922.1" y1="1707.4" x2="927.1" y2="1707.4" stroke="#000" stroke-width="1.8"/>
<line x1="1053.7" y1="1707.4" x2="1048.7" y2="1707.4" stroke="#000" stroke-width="1.8"/>
<line x1="922.1" y1="1700.8" x2="931.1" y2="1700.8" stroke="#000" stroke-width="1.8"/>
<line x1="1053.7" y1="1700.8" x2="1044.7" y2="1700.8" stroke="#000" stroke-width="1.8"/>
<line x1="922.1" y1="1657.1" x2="927.1" y2="1657.1" stroke="#000" stroke-width="1.8"/>
<line x1="1053.7" y1="1657.1" x2="1048.7" y2="1657.1" stroke="#000" stroke-width="1.8"/>
<line x1="922.1" y1="1631.6" x2="927.1" y2="1631.6" stroke="#000" stroke-width="1.8"/>
<line x1="1053.7" y1="1631.6" x2="1048.7" y2="1631.6" stroke="#000" stroke-width="1.8"/>
<line x1="922.1" y1="1613.4" x2="927.1" y2="1613.4" stroke="#000" stroke-width="1.8"/>
<line x1="1053.7" y1="1613.4" x2="1048.7" y2="1613.4" stroke="#000" stroke-width="1.8"/>
<line x1="922.1" y1="1599.4" x2="927.1" y2="1599.4" stroke="#000" stroke-width="1.8"/>
<line x1="1053.7" y1="1599.4" x2="1048.7" y2="1599.4" stroke="#000" stroke-width="1.8"/>
<line x1="922.1" y1="1587.9" x2="927.1" y2="1587.9" stroke="#000" stroke-width="1.8"/>
<line x1="1053.7" y1="1587.9" x2="1048.7" y2="1587.9" stroke="#000" stroke-width="1.8"/>
<line x1="922.1" y1="1578.2" x2="927.1" y2="1578.2" stroke="#000" stroke-width="1.8"/>
<line x1="1053.7" y1="1578.2" x2="1048.7" y2="1578.2" stroke="#000" stroke-width="1.8"/>
<line x1="922.1" y1="1569.8" x2="927.1" y2="1569.8" stroke="#000" stroke-width="1.8"/>
<line x1="1053.7" y1="1569.8" x2="1048.7" y2="1569.8" stroke="#000" stroke-width="1.8"/>
<line x1="922.1" y1="1562.3" x2="927.1" y2="1562.3" stroke="#000" stroke-width="1.8"/>
<line x1="1053.7" y1="1562.3" x2="1048.7" y2="1562.3" stroke="#000" stroke-width="1.8"/>
<line x1="922.1" y1="1555.7" x2="931.1" y2="1555.7" stroke="#000" stroke-width="1.8"/>
<line x1="1053.7" y1="1555.7" x2="1044.7" y2="1555.7" stroke="#000" stroke-width="1.8"/>
<line x1="922.1" y1="1512" x2="927.1" y2="1512" stroke="#000" stroke-width="1.8"/>
<line x1="1053.7" y1="1512" x2="1048.7" y2="1512" stroke="#000" stroke-width="1.8"/>
<text x="903.6" y="1567.6" text-anchor="end" style="font-size:21.5px">10</text>
<text x="903.8" y="1555.4" style="font-size:16px">1</text>
<text x="903.6" y="1712.7" text-anchor="end" style="font-size:21.5px">10</text>
<text x="903.8" y="1700.5" style="font-size:16px">0</text>
<text x="1054.2" y="1826.6" text-anchor="end" style="font-size:23.9px">n = 28</text>
<text x="868.3" y="1653.9" text-anchor="middle" transform="rotate(-90 868.3 1653.9)" style="font-size:26.1px">Loop shrinkage time span (s)</text>
<clipPath id="cj2"><rect x="1218.3" y="1507.9" width="131.6" height="298.1"/></clipPath>
<g clip-path="url(#cj2)">
<path d="M1284.2 1580.6 L1284.5 1581.5 L1284.9 1582.6 L1285.4 1584 L1286.1 1585.5 L1287 1587.1 L1288.1 1588.8 L1289.4 1590.5 L1290.8 1592.4 L1292.6 1594.4 L1294.7 1596.4 L1297.2 1598.6 L1300.2 1600.9 L1303.4 1603.3 L1306.7 1605.7 L1309.8 1608.1 L1313 1610.5 L1316.2 1612.9 L1319.4 1615.2 L1322.4 1617.6 L1325 1619.7 L1327.1 1621.8 L1329 1623.9 L1330.7 1625.8 L1332 1627.5 L1333.1 1629.1 L1333.9 1630.2 L1334.5 1631 L1334.7 1631.7 L1334.8 1632.6 L1334.7 1633.7 L1334.5 1635.2 L1334.1 1637 L1333.5 1638.9 L1332.7 1640.9 L1331.7 1643 L1330.4 1645.2 L1328.9 1647.5 L1327.1 1649.9 L1325.4 1652.3 L1323.8 1654.7 L1322.3 1656.8 L1320.9 1658.8 L1319.6 1660.8 L1318.2 1663.2 L1316.8 1666.3 L1315.4 1670.2 L1313.9 1674.8 L1312.5 1679.7 L1311.1 1684.8 L1309.8 1689.6 L1308.7 1694.3 L1307.7 1698.9 L1306.8 1703.6 L1306 1708.2 L1305.2 1712.9 L1304.4 1717.6 L1303.6 1722.2 L1302.9 1726.9 L1302.3 1731.5 L1301.7 1736.2 L1301.1 1740.8 L1300.6 1745.5 L1300.2 1750.2 L1299.7 1754.8 L1299.3 1759.5 L1299 1764.1 L1298.6 1768.6 L1298.3 1773.1 L1298 1777.8 L1297.7 1782.8 L1297.4 1788.5 L1297.2 1794.9 L1296.9 1801.3 L1296.7 1806.8 L1296.5 1810.7 L1271.9 1810.7 L1271.7 1806.8 L1271.5 1801.3 L1271.3 1794.9 L1271 1788.5 L1270.7 1782.8 L1270.4 1777.8 L1270.1 1773.1 L1269.8 1768.6 L1269.4 1764.1 L1269.1 1759.5 L1268.7 1754.8 L1268.2 1750.2 L1267.8 1745.5 L1267.3 1740.8 L1266.7 1736.2 L1266.1 1731.5 L1265.5 1726.9 L1264.8 1722.2 L1264 1717.6 L1263.2 1712.9 L1262.4 1708.2 L1261.6 1703.6 L1260.7 1698.9 L1259.7 1694.3 L1258.6 1689.6 L1257.3 1684.8 L1256 1679.7 L1254.5 1674.8 L1253 1670.2 L1251.6 1666.3 L1250.2 1663.2 L1248.8 1660.8 L1247.5 1658.8 L1246.1 1656.8 L1244.6 1654.7 L1243 1652.3 L1241.3 1649.9 L1239.6 1647.5 L1238 1645.2 L1236.7 1643 L1235.7 1640.9 L1234.9 1638.9 L1234.3 1637 L1233.9 1635.2 L1233.7 1633.7 L1233.6 1632.6 L1233.7 1631.7 L1234 1631 L1234.5 1630.2 L1235.3 1629.1 L1236.4 1627.5 L1237.8 1625.8 L1239.4 1623.9 L1241.3 1621.8 L1243.4 1619.7 L1246 1617.6 L1249 1615.2 L1252.2 1612.9 L1255.4 1610.5 L1258.6 1608.1 L1261.7 1605.7 L1265 1603.3 L1268.2 1600.9 L1271.2 1598.6 L1273.7 1596.4 L1275.8 1594.4 L1277.6 1592.4 L1279 1590.5 L1280.3 1588.8 L1281.4 1587.1 L1282.3 1585.5 L1283 1584 L1283.5 1582.6 L1283.9 1581.5 L1284.2 1580.6Z" fill="#c8464f" stroke="#888888" stroke-width="3"/>
<line x1="1284.2" y1="1603.4" x2="1284.2" y2="1759.5" stroke="#000" stroke-width="2.4"/>
<rect x="1277.2" y="1623.7" width="14" height="21.7" fill="#fff" stroke="#000" stroke-width="1.8"/>
<line x1="1276.8" y1="1633" x2="1291.7" y2="1633" stroke="#e02626" stroke-width="5.5"/>
<path fill="#8c8c8c" d="M1279.6 1598.8a4.6 4.6 0 1 0 9.2 0a4.6 4.6 0 1 0 -9.2 0M1279.6 1615.1a4.6 4.6 0 1 0 9.2 0a4.6 4.6 0 1 0 -9.2 0M1279.6 1619.7a4.6 4.6 0 1 0 9.2 0a4.6 4.6 0 1 0 -9.2 0M1269.6 1628.4a4.6 4.6 0 1 0 9.2 0a4.6 4.6 0 1 0 -9.2 0M1296.8 1628.4a4.6 4.6 0 1 0 9.2 0a4.6 4.6 0 1 0 -9.2 0M1269.6 1637.2a4.6 4.6 0 1 0 9.2 0a4.6 4.6 0 1 0 -9.2 0M1296.8 1637.2a4.6 4.6 0 1 0 9.2 0a4.6 4.6 0 1 0 -9.2 0M1279.6 1647.2a4.6 4.6 0 1 0 9.2 0a4.6 4.6 0 1 0 -9.2 0M1269.6 1672.8a4.6 4.6 0 1 0 9.2 0a4.6 4.6 0 1 0 -9.2 0M1279.6 1672.8a4.6 4.6 0 1 0 9.2 0a4.6 4.6 0 1 0 -9.2 0"/>
<circle cx="1284.2" cy="1759.5" r="4.6" fill="#000"/>
</g>
<rect x="1218.3" y="1507.9" width="131.6" height="298.1" fill="none" stroke="#000" stroke-width="1.8"/>
<line x1="1218.3" y1="1802.4" x2="1223.3" y2="1802.4" stroke="#000" stroke-width="1.8"/>
<line x1="1349.9" y1="1802.4" x2="1344.9" y2="1802.4" stroke="#000" stroke-width="1.8"/>
<line x1="1218.3" y1="1777" x2="1223.3" y2="1777" stroke="#000" stroke-width="1.8"/>
<line x1="1349.9" y1="1777" x2="1344.9" y2="1777" stroke="#000" stroke-width="1.8"/>
<line x1="1218.3" y1="1759" x2="1223.3" y2="1759" stroke="#000" stroke-width="1.8"/>
<line x1="1349.9" y1="1759" x2="1344.9" y2="1759" stroke="#000" stroke-width="1.8"/>
<line x1="1218.3" y1="1745.1" x2="1223.3" y2="1745.1" stroke="#000" stroke-width="1.8"/>
<line x1="1349.9" y1="1745.1" x2="1344.9" y2="1745.1" stroke="#000" stroke-width="1.8"/>
<line x1="1218.3" y1="1733.7" x2="1223.3" y2="1733.7" stroke="#000" stroke-width="1.8"/>
<line x1="1349.9" y1="1733.7" x2="1344.9" y2="1733.7" stroke="#000" stroke-width="1.8"/>
<line x1="1218.3" y1="1724" x2="1223.3" y2="1724" stroke="#000" stroke-width="1.8"/>
<line x1="1349.9" y1="1724" x2="1344.9" y2="1724" stroke="#000" stroke-width="1.8"/>
<line x1="1218.3" y1="1715.7" x2="1223.3" y2="1715.7" stroke="#000" stroke-width="1.8"/>
<line x1="1349.9" y1="1715.7" x2="1344.9" y2="1715.7" stroke="#000" stroke-width="1.8"/>
<line x1="1218.3" y1="1708.3" x2="1223.3" y2="1708.3" stroke="#000" stroke-width="1.8"/>
<line x1="1349.9" y1="1708.3" x2="1344.9" y2="1708.3" stroke="#000" stroke-width="1.8"/>
<line x1="1218.3" y1="1701.7" x2="1227.3" y2="1701.7" stroke="#000" stroke-width="1.8"/>
<line x1="1349.9" y1="1701.7" x2="1340.9" y2="1701.7" stroke="#000" stroke-width="1.8"/>
<line x1="1218.3" y1="1658.3" x2="1223.3" y2="1658.3" stroke="#000" stroke-width="1.8"/>
<line x1="1349.9" y1="1658.3" x2="1344.9" y2="1658.3" stroke="#000" stroke-width="1.8"/>
<line x1="1218.3" y1="1632.9" x2="1223.3" y2="1632.9" stroke="#000" stroke-width="1.8"/>
<line x1="1349.9" y1="1632.9" x2="1344.9" y2="1632.9" stroke="#000" stroke-width="1.8"/>
<line x1="1218.3" y1="1614.9" x2="1223.3" y2="1614.9" stroke="#000" stroke-width="1.8"/>
<line x1="1349.9" y1="1614.9" x2="1344.9" y2="1614.9" stroke="#000" stroke-width="1.8"/>
<line x1="1218.3" y1="1601" x2="1223.3" y2="1601" stroke="#000" stroke-width="1.8"/>
<line x1="1349.9" y1="1601" x2="1344.9" y2="1601" stroke="#000" stroke-width="1.8"/>
<line x1="1218.3" y1="1589.6" x2="1223.3" y2="1589.6" stroke="#000" stroke-width="1.8"/>
<line x1="1349.9" y1="1589.6" x2="1344.9" y2="1589.6" stroke="#000" stroke-width="1.8"/>
<line x1="1218.3" y1="1579.9" x2="1223.3" y2="1579.9" stroke="#000" stroke-width="1.8"/>
<line x1="1349.9" y1="1579.9" x2="1344.9" y2="1579.9" stroke="#000" stroke-width="1.8"/>
<line x1="1218.3" y1="1571.6" x2="1223.3" y2="1571.6" stroke="#000" stroke-width="1.8"/>
<line x1="1349.9" y1="1571.6" x2="1344.9" y2="1571.6" stroke="#000" stroke-width="1.8"/>
<line x1="1218.3" y1="1564.2" x2="1223.3" y2="1564.2" stroke="#000" stroke-width="1.8"/>
<line x1="1349.9" y1="1564.2" x2="1344.9" y2="1564.2" stroke="#000" stroke-width="1.8"/>
<line x1="1218.3" y1="1557.6" x2="1227.3" y2="1557.6" stroke="#000" stroke-width="1.8"/>
<line x1="1349.9" y1="1557.6" x2="1340.9" y2="1557.6" stroke="#000" stroke-width="1.8"/>
<line x1="1218.3" y1="1514.2" x2="1223.3" y2="1514.2" stroke="#000" stroke-width="1.8"/>
<line x1="1349.9" y1="1514.2" x2="1344.9" y2="1514.2" stroke="#000" stroke-width="1.8"/>
<text x="1199.8" y="1569.5" text-anchor="end" style="font-size:21.5px">10</text>
<text x="1200" y="1557.3" style="font-size:16px">1</text>
<text x="1199.8" y="1713.6" text-anchor="end" style="font-size:21.5px">10</text>
<text x="1200" y="1701.4" style="font-size:16px">0</text>
<text x="1353.4" y="1827" text-anchor="end" style="font-size:23.9px">n = 10</text>
<text x="1166" y="1656" text-anchor="middle" transform="rotate(-90 1166 1656)" style="font-size:26.1px">Loop shrinkage time span (s)</text>
<text x="0.5" y="1885" fill="#1a1a1a" style="font-size:45px;font-weight:bold">k</text>
<clipPath id="cv284"><rect x="126" y="1884" width="131.1" height="303.8"/></clipPath>
<g clip-path="url(#cv284)">
<path d="M195.1 1884 L195.2 1885.8 L195.3 1888.2 L195.5 1891 L195.8 1893.9 L196.3 1896.5 L197 1898.7 L197.8 1900.8 L198.7 1902.8 L199.8 1904.8 L201.1 1906.8 L202.7 1908.9 L204.6 1911 L206.6 1913.1 L208.6 1915.1 L210.4 1917.2 L212.2 1919.3 L213.9 1921.3 L215.5 1923.4 L217.2 1925.5 L218.7 1927.6 L220.3 1929.6 L221.8 1931.7 L223.2 1933.8 L224.6 1935.9 L226 1937.9 L227.3 1940 L228.6 1942.1 L229.9 1944.2 L231.1 1946.2 L232.2 1948.3 L233.3 1950.4 L234.3 1952.4 L235.3 1954.5 L236.2 1956.6 L237 1958.7 L237.7 1960.8 L238.4 1962.9 L238.9 1965 L239.4 1967.1 L239.9 1969 L240.3 1970.8 L240.6 1972.3 L240.8 1973.8 L240.9 1975.4 L240.9 1977.3 L240.8 1979.6 L240.5 1982.1 L240.1 1984.7 L239.6 1987.3 L239 1989.8 L238.4 1992 L237.7 1994.1 L237 1996.1 L236.2 1998.1 L235.3 2000.1 L234.4 2002.2 L233.5 2004.3 L232.5 2006.3 L231.5 2008.4 L230.5 2010.5 L229.6 2012.6 L228.7 2014.6 L227.8 2016.7 L226.9 2018.8 L226 2020.9 L225.1 2022.9 L224.3 2025 L223.5 2027.1 L222.7 2029.2 L221.8 2031.2 L221 2033.3 L220.2 2035.4 L219.4 2037.4 L218.5 2039.5 L217.7 2041.6 L216.9 2043.7 L216 2045.7 L215.2 2047.8 L214.4 2049.9 L213.5 2052 L212.7 2054 L211.8 2056.1 L211 2058.2 L210.2 2060.3 L209.4 2062.3 L208.7 2064.4 L208.1 2066.5 L207.5 2068.5 L206.9 2070.6 L206.3 2072.7 L205.7 2074.8 L205 2076.8 L204.3 2078.9 L203.7 2081 L203.2 2083.1 L202.7 2085.1 L202.3 2087.2 L201.9 2089.3 L201.5 2091.4 L201.1 2093.4 L200.8 2095.3 L200.5 2097.1 L200.2 2098.9 L199.9 2101.1 L199.4 2103.8 L198.8 2107.3 L198.1 2111.3 L197.3 2115.7 L196.6 2120.2 L195.9 2124.5 L195.4 2128.7 L195 2132.8 L194.6 2137 L194.2 2141.1 L193.9 2145.3 L193.4 2149.7 L193 2154.5 L192.6 2159.2 L192.2 2163.2 L192 2166 L191.6 2166 L191.3 2163.2 L191 2159.2 L190.6 2154.5 L190.1 2149.7 L189.7 2145.3 L189.3 2141.1 L189 2137 L188.6 2132.8 L188.1 2128.7 L187.6 2124.5 L187 2120.2 L186.2 2115.7 L185.5 2111.3 L184.7 2107.3 L184.1 2103.8 L183.7 2101.1 L183.3 2098.9 L183.1 2097.1 L182.8 2095.3 L182.4 2093.4 L182.1 2091.4 L181.7 2089.3 L181.3 2087.2 L180.9 2085.1 L180.4 2083.1 L179.8 2081 L179.2 2078.9 L178.6 2076.8 L177.9 2074.8 L177.3 2072.7 L176.7 2070.6 L176.1 2068.5 L175.5 2066.5 L174.8 2064.4 L174.2 2062.3 L173.4 2060.3 L172.6 2058.2 L171.7 2056.1 L170.9 2054 L170 2052 L169.2 2049.9 L168.3 2047.8 L167.5 2045.7 L166.7 2043.7 L165.9 2041.6 L165 2039.5 L164.2 2037.4 L163.4 2035.4 L162.5 2033.3 L161.7 2031.2 L160.9 2029.2 L160.1 2027.1 L159.3 2025 L158.4 2022.9 L157.6 2020.9 L156.7 2018.8 L155.8 2016.7 L154.9 2014.6 L153.9 2012.6 L153 2010.5 L152.1 2008.4 L151.1 2006.3 L150.1 2004.3 L149.1 2002.2 L148.2 2000.1 L147.4 1998.1 L146.6 1996.1 L145.8 1994.1 L145.1 1992 L144.5 1989.8 L144 1987.3 L143.5 1984.7 L143.1 1982.1 L142.8 1979.6 L142.6 1977.3 L142.6 1975.4 L142.8 1973.8 L143 1972.3 L143.3 1970.8 L143.7 1969 L144.1 1967.1 L144.6 1965 L145.2 1962.9 L145.9 1960.8 L146.6 1958.7 L147.4 1956.6 L148.3 1954.5 L149.2 1952.4 L150.3 1950.4 L151.3 1948.3 L152.5 1946.2 L153.7 1944.2 L154.9 1942.1 L156.2 1940 L157.6 1937.9 L158.9 1935.9 L160.3 1933.8 L161.8 1931.7 L163.3 1929.6 L164.8 1927.6 L166.4 1925.5 L168 1923.4 L169.7 1921.3 L171.4 1919.3 L173.1 1917.2 L175 1915.1 L177 1913.1 L179 1911 L180.9 1908.9 L182.4 1906.8 L183.7 1904.8 L184.9 1902.8 L185.8 1900.8 L186.6 1898.7 L187.2 1896.5 L187.7 1893.9 L188 1891 L188.2 1888.2 L188.3 1885.8 L188.5 1884Z" fill="#5e9fcb" stroke="#10202c" stroke-width="2"/>
<line x1="191.8" y1="1931.7" x2="191.8" y2="2166" stroke="#000" stroke-width="2.6"/>
<rect x="186" y="1963.2" width="12" height="62.8" fill="#fff" stroke="#000" stroke-width="1.8"/>
<line x1="184.7" y1="1990.8" x2="199.2" y2="1990.8" stroke="#e02626" stroke-width="5"/>
<path fill="#8c8c8c" fill-opacity="0.95" d="M176.9 1944.2a4.5 4.5 0 1 0 9 0a4.5 4.5 0 1 0 -9 0M187.3 1946.2a4.5 4.5 0 1 0 9 0a4.5 4.5 0 1 0 -9 0M196.2 1942.1a4.5 4.5 0 1 0 9 0a4.5 4.5 0 1 0 -9 0M167.6 1958.2a4.5 4.5 0 1 0 9 0a4.5 4.5 0 1 0 -9 0M177.9 1961.8a4.5 4.5 0 1 0 9 0a4.5 4.5 0 1 0 -9 0M187.3 1967a4.5 4.5 0 1 0 9 0a4.5 4.5 0 1 0 -9 0M196.6 1964.5a4.5 4.5 0 1 0 9 0a4.5 4.5 0 1 0 -9 0M204.9 1956.6a4.5 4.5 0 1 0 9 0a4.5 4.5 0 1 0 -9 0M158.3 1974.2a4.5 4.5 0 1 0 9 0a4.5 4.5 0 1 0 -9 0M168.6 1976.3a4.5 4.5 0 1 0 9 0a4.5 4.5 0 1 0 -9 0M179 1977.3a4.5 4.5 0 1 0 9 0a4.5 4.5 0 1 0 -9 0M187.3 1983.5a4.5 4.5 0 1 0 9 0a4.5 4.5 0 1 0 -9 0M196.2 1980.4a4.5 4.5 0 1 0 9 0a4.5 4.5 0 1 0 -9 0M205.9 1974.2a4.5 4.5 0 1 0 9 0a4.5 4.5 0 1 0 -9 0M216.3 1973.6a4.5 4.5 0 1 0 9 0a4.5 4.5 0 1 0 -9 0M177.9 1989.8a4.5 4.5 0 1 0 9 0a4.5 4.5 0 1 0 -9 0M187.3 1991.8a4.5 4.5 0 1 0 9 0a4.5 4.5 0 1 0 -9 0M196.6 1993.5a4.5 4.5 0 1 0 9 0a4.5 4.5 0 1 0 -9 0M205.3 1987.7a4.5 4.5 0 1 0 9 0a4.5 4.5 0 1 0 -9 0M176.9 1994.3a4.5 4.5 0 1 0 9 0a4.5 4.5 0 1 0 -9 0M187.3 1998.1a4.5 4.5 0 1 0 9 0a4.5 4.5 0 1 0 -9 0M158.3 2005.9a4.5 4.5 0 1 0 9 0a4.5 4.5 0 1 0 -9 0M167.2 2010.9a4.5 4.5 0 1 0 9 0a4.5 4.5 0 1 0 -9 0M177.5 2014.6a4.5 4.5 0 1 0 9 0a4.5 4.5 0 1 0 -9 0M187.3 2016.3a4.5 4.5 0 1 0 9 0a4.5 4.5 0 1 0 -9 0M196.6 2014.6a4.5 4.5 0 1 0 9 0a4.5 4.5 0 1 0 -9 0M206.6 2009.5a4.5 4.5 0 1 0 9 0a4.5 4.5 0 1 0 -9 0M216.9 2008a4.5 4.5 0 1 0 9 0a4.5 4.5 0 1 0 -9 0M196.2 2029.2a4.5 4.5 0 1 0 9 0a4.5 4.5 0 1 0 -9 0M176.9 2035.4a4.5 4.5 0 1 0 9 0a4.5 4.5 0 1 0 -9 0M187.3 2035.4a4.5 4.5 0 1 0 9 0a4.5 4.5 0 1 0 -9 0M181.1 2047.4a4.5 4.5 0 1 0 9 0a4.5 4.5 0 1 0 -9 0M187.3 2055.1a4.5 4.5 0 1 0 9 0a4.5 4.5 0 1 0 -9 0M177.9 2066.1a4.5 4.5 0 1 0 9 0a4.5 4.5 0 1 0 -9 0M187.3 2069.6a4.5 4.5 0 1 0 9 0a4.5 4.5 0 1 0 -9 0M196.2 2064a4.5 4.5 0 1 0 9 0a4.5 4.5 0 1 0 -9 0M206.6 2061.3a4.5 4.5 0 1 0 9 0a4.5 4.5 0 1 0 -9 0M176.9 2113.1a4.5 4.5 0 1 0 9 0a4.5 4.5 0 1 0 -9 0M187.3 2116.2a4.5 4.5 0 1 0 9 0a4.5 4.5 0 1 0 -9 0"/>
<circle cx="191.8" cy="1991.4" r="3.5" fill="#fff"/>
</g>
<rect x="126" y="1884" width="131.1" height="303.8" fill="none" stroke="#000" stroke-width="1.8"/>
<line x1="126" y1="1884" x2="134" y2="1884" stroke="#000" stroke-width="1.8"/>
<line x1="257.1" y1="1884" x2="249.1" y2="1884" stroke="#000" stroke-width="1.8"/>
<line x1="126" y1="1977.3" x2="134" y2="1977.3" stroke="#000" stroke-width="1.8"/>
<line x1="257.1" y1="1977.3" x2="249.1" y2="1977.3" stroke="#000" stroke-width="1.8"/>
<line x1="126" y1="2070.6" x2="134" y2="2070.6" stroke="#000" stroke-width="1.8"/>
<line x1="257.1" y1="2070.6" x2="249.1" y2="2070.6" stroke="#000" stroke-width="1.8"/>
<line x1="126" y1="2163.9" x2="134" y2="2163.9" stroke="#000" stroke-width="1.8"/>
<line x1="257.1" y1="2163.9" x2="249.1" y2="2163.9" stroke="#000" stroke-width="1.8"/>
<text x="120.8" y="1892.7" text-anchor="end" style="font-size:24.5px">0</text>
<text x="120.8" y="1986" text-anchor="end" style="font-size:24.5px">−2</text>
<text x="120.8" y="2079.3" text-anchor="end" style="font-size:24.5px">−4</text>
<text x="120.8" y="2172.6" text-anchor="end" style="font-size:24.5px">−6</text>
<text x="254.5" y="2209" text-anchor="end" style="font-size:23.9px">n = 42</text>
<text x="83" y="2033.7" text-anchor="middle" transform="rotate(-90 83 2033.7)" style="font-size:26.1px">Loop decrease (kb)</text>
<clipPath id="cv308"><rect x="454.3" y="1884" width="130.7" height="303.8"/></clipPath>
<g clip-path="url(#cv308)">
<path d="M542 1879.9 L542.1 1880.3 L542.2 1880.8 L542.3 1881.6 L542.6 1882.6 L543.1 1884 L543.8 1886 L544.8 1888.5 L545.9 1891.2 L547.1 1894 L548.3 1896.5 L549.4 1898.7 L550.6 1900.8 L551.9 1902.8 L553.1 1904.8 L554.5 1906.8 L555.9 1908.9 L557.4 1911 L559 1913.1 L560.4 1915.1 L561.7 1917.2 L562.9 1919.3 L563.9 1921.3 L564.9 1923.4 L565.8 1925.5 L566.5 1927.6 L567.1 1929.7 L567.6 1931.8 L568 1933.9 L568.3 1936 L568.6 1937.9 L568.8 1939.7 L569 1941.2 L569 1942.7 L569.1 1944.3 L569 1946.2 L568.8 1948.5 L568.5 1951 L568.2 1953.6 L567.8 1956.2 L567.3 1958.7 L566.9 1960.9 L566.4 1963 L565.9 1965 L565.2 1967 L564.4 1969 L563.5 1971.1 L562.3 1973.2 L561.1 1975.2 L559.9 1977.3 L558.6 1979.4 L557.4 1981.5 L556.1 1983.5 L554.9 1985.6 L553.6 1987.7 L552.4 1989.8 L551.2 1991.8 L550 1993.9 L548.9 1996 L547.7 1998.1 L546.6 2000.1 L545.5 2002.2 L544.3 2004.3 L543.2 2006.3 L542.1 2008.4 L541 2010.5 L539.9 2012.6 L538.8 2014.6 L537.7 2016.7 L536.7 2018.8 L535.8 2020.9 L535 2022.9 L534.4 2025 L533.8 2027.1 L533.3 2029.2 L532.7 2031.2 L532.2 2033.1 L531.7 2034.9 L531.3 2036.7 L530.8 2038.9 L530.2 2041.6 L529.5 2045.1 L528.7 2049.1 L527.9 2053.5 L527.1 2058 L526.5 2062.3 L526 2066.5 L525.6 2070.6 L525.3 2074.8 L525.1 2078.9 L524.8 2083.1 L524.6 2087.2 L524.4 2091.4 L524.2 2095.5 L524 2099.6 L523.8 2103.8 L523.6 2107.9 L523.4 2112.1 L523.2 2116.2 L523 2120.4 L522.8 2124.5 L522.5 2128.7 L522.3 2132.8 L522.1 2137 L521.9 2141.1 L521.7 2145.3 L521.5 2149.6 L521.2 2154.1 L521 2158.5 L520.7 2162.6 L520.5 2166 L520.2 2168.7 L519.9 2171 L519.6 2172.8 L519.4 2174.2 L519.2 2175.3 L519.2 2175.3 L519.1 2174.2 L518.8 2172.8 L518.5 2171 L518.3 2168.7 L518 2166 L517.7 2162.6 L517.5 2158.5 L517.2 2154.1 L517 2149.6 L516.7 2145.3 L516.5 2141.1 L516.3 2137 L516.1 2132.8 L515.9 2128.7 L515.7 2124.5 L515.5 2120.4 L515.3 2116.2 L515.1 2112.1 L514.9 2107.9 L514.7 2103.8 L514.5 2099.6 L514.3 2095.5 L514.1 2091.4 L513.9 2087.2 L513.6 2083.1 L513.4 2078.9 L513.1 2074.8 L512.8 2070.6 L512.4 2066.5 L512 2062.3 L511.3 2058 L510.6 2053.5 L509.7 2049.1 L508.9 2045.1 L508.2 2041.6 L507.7 2038.9 L507.2 2036.7 L506.7 2034.9 L506.3 2033.1 L505.8 2031.2 L505.2 2029.2 L504.7 2027.1 L504.1 2025 L503.4 2022.9 L502.6 2020.9 L501.7 2018.8 L500.7 2016.7 L499.7 2014.6 L498.6 2012.6 L497.5 2010.5 L496.4 2008.4 L495.3 2006.3 L494.1 2004.3 L493 2002.2 L491.9 2000.1 L490.7 1998.1 L489.6 1996 L488.4 1993.9 L487.2 1991.8 L486.1 1989.8 L484.8 1987.7 L483.6 1985.6 L482.3 1983.5 L481.1 1981.5 L479.8 1979.4 L478.6 1977.3 L477.3 1975.2 L476.1 1973.2 L475 1971.1 L474 1969 L473.2 1967 L472.6 1965 L472.1 1963 L471.6 1960.9 L471.1 1958.7 L470.7 1956.2 L470.3 1953.6 L469.9 1951 L469.6 1948.5 L469.5 1946.2 L469.4 1944.3 L469.4 1942.7 L469.5 1941.2 L469.7 1939.7 L469.9 1937.9 L470.1 1936 L470.5 1933.9 L470.9 1931.8 L471.3 1929.7 L472 1927.6 L472.7 1925.5 L473.6 1923.4 L474.5 1921.3 L475.6 1919.3 L476.7 1917.2 L478 1915.1 L479.5 1913.1 L481 1911 L482.6 1908.9 L484 1906.8 L485.3 1904.8 L486.6 1902.8 L487.8 1900.8 L489 1898.7 L490.2 1896.5 L491.4 1894 L492.5 1891.2 L493.7 1888.5 L494.6 1886 L495.4 1884 L495.9 1882.6 L496.1 1881.6 L496.3 1880.8 L496.3 1880.3 L496.4 1879.9Z" fill="#c8464f" stroke="#888888" stroke-width="3"/>
<line x1="519.2" y1="1918.2" x2="519.2" y2="1987.7" stroke="#000" stroke-width="2.6"/>
<rect x="512.8" y="1927.1" width="13.5" height="42.9" fill="#fff" stroke="#000" stroke-width="1.8"/>
<line x1="511.6" y1="1942.1" x2="527.5" y2="1942.1" stroke="#e02626" stroke-width="5"/>
<path fill="#8c8c8c" fill-opacity="0.95" d="M504.8 1911.4a4.5 4.5 0 1 0 9 0a4.5 4.5 0 1 0 -9 0M515.1 1913.7a4.5 4.5 0 1 0 9 0a4.5 4.5 0 1 0 -9 0M504.8 1942.1a4.5 4.5 0 1 0 9 0a4.5 4.5 0 1 0 -9 0M515.1 1942.1a4.5 4.5 0 1 0 9 0a4.5 4.5 0 1 0 -9 0M525.5 1940a4.5 4.5 0 1 0 9 0a4.5 4.5 0 1 0 -9 0M504.8 1959.7a4.5 4.5 0 1 0 9 0a4.5 4.5 0 1 0 -9 0M515.1 1960.7a4.5 4.5 0 1 0 9 0a4.5 4.5 0 1 0 -9 0M511.4 1979.4a4.5 4.5 0 1 0 9 0a4.5 4.5 0 1 0 -9 0M515.1 1993.5a4.5 4.5 0 1 0 9 0a4.5 4.5 0 1 0 -9 0M515.1 2092.4a4.5 4.5 0 1 0 9 0a4.5 4.5 0 1 0 -9 0"/>
</g>
<rect x="454.3" y="1884" width="130.7" height="303.8" fill="none" stroke="#000" stroke-width="1.8"/>
<line x1="454.3" y1="1884" x2="462.3" y2="1884" stroke="#000" stroke-width="1.8"/>
<line x1="585" y1="1884" x2="577" y2="1884" stroke="#000" stroke-width="1.8"/>
<line x1="454.3" y1="1977.3" x2="462.3" y2="1977.3" stroke="#000" stroke-width="1.8"/>
<line x1="585" y1="1977.3" x2="577" y2="1977.3" stroke="#000" stroke-width="1.8"/>
<line x1="454.3" y1="2070.6" x2="462.3" y2="2070.6" stroke="#000" stroke-width="1.8"/>
<line x1="585" y1="2070.6" x2="577" y2="2070.6" stroke="#000" stroke-width="1.8"/>
<line x1="454.3" y1="2163.9" x2="462.3" y2="2163.9" stroke="#000" stroke-width="1.8"/>
<line x1="585" y1="2163.9" x2="577" y2="2163.9" stroke="#000" stroke-width="1.8"/>
<text x="449" y="1892.7" text-anchor="end" style="font-size:24.5px">0</text>
<text x="449" y="1986" text-anchor="end" style="font-size:24.5px">−2</text>
<text x="449" y="2079.3" text-anchor="end" style="font-size:24.5px">−4</text>
<text x="449" y="2172.6" text-anchor="end" style="font-size:24.5px">−6</text>
<text x="583.5" y="2209" text-anchor="end" style="font-size:23.9px">n = 11</text>
<text x="412" y="2033.7" text-anchor="middle" transform="rotate(-90 412 2033.7)" style="font-size:26.1px">Loop decrease (kb)</text>
<text x="797.5" y="1885" fill="#1a1a1a" style="font-size:45px;font-weight:bold">l</text>
<clipPath id="cv332"><rect x="920.7" y="1896.7" width="118.2" height="289.4"/></clipPath>
<g clip-path="url(#cv332)">
<path d="M981.6 1897.2 L981.7 1899.3 L981.7 1902.2 L981.8 1905.6 L981.9 1909 L982.1 1912 L982.2 1914.5 L982.4 1916.8 L982.7 1919 L983 1921.2 L983.4 1923.4 L983.9 1925.7 L984.5 1928 L985.2 1930.3 L986.1 1932.5 L987.3 1934.8 L989 1937.1 L991.1 1939.4 L993.4 1941.7 L995.6 1943.9 L997.6 1946.2 L999.3 1948.5 L1000.9 1950.8 L1002.4 1953.1 L1003.8 1955.3 L1005.1 1957.6 L1006.3 1959.9 L1007.3 1962.2 L1008.2 1964.5 L1009.1 1966.7 L1010.1 1969 L1011.2 1971.3 L1012.2 1973.6 L1013.3 1975.9 L1014.3 1978.2 L1015.4 1980.4 L1016.3 1982.7 L1017.3 1985 L1018.2 1987.3 L1019.1 1989.6 L1019.9 1991.8 L1020.7 1994.1 L1021.5 1996.4 L1022.2 1998.7 L1022.8 2001 L1023.3 2003.2 L1023.8 2005.5 L1024.3 2007.8 L1024.6 2010.1 L1024.9 2012.4 L1024.9 2014.6 L1024.9 2016.9 L1024.7 2019.2 L1024.3 2021.5 L1023.9 2023.8 L1023.3 2026 L1022.6 2028.3 L1021.8 2030.6 L1020.8 2032.9 L1019.8 2035.2 L1018.8 2037.4 L1017.7 2039.7 L1016.6 2042 L1015.4 2044.3 L1014.2 2046.6 L1013.1 2048.9 L1011.9 2051.1 L1010.7 2053.4 L1009.6 2055.7 L1008.4 2058 L1007.4 2060.3 L1006.4 2062.5 L1005.5 2064.8 L1004.6 2067.1 L1003.7 2069.4 L1002.8 2071.7 L1001.9 2073.9 L1001 2076.2 L1000 2078.5 L999.1 2080.8 L998.3 2083.1 L997.4 2085.3 L996.6 2087.6 L995.8 2089.9 L995 2092.2 L994.1 2094.5 L993.2 2096.7 L992.3 2099 L991.3 2101.3 L990.4 2103.6 L989.6 2105.9 L988.9 2108.1 L988.3 2110.4 L987.8 2112.7 L987.3 2115 L986.9 2117.3 L986.4 2119.4 L986.1 2121.3 L985.7 2123.3 L985.4 2125.7 L985 2128.7 L984.6 2132.3 L984.1 2136.3 L983.6 2140.8 L983.1 2145.9 L982.7 2151.5 L982.5 2158.5 L982.2 2166.8 L982.1 2175.3 L981.9 2182.8 L981.8 2188 L978.2 2188 L978.1 2182.8 L978 2175.3 L977.8 2166.8 L977.6 2158.5 L977.3 2151.5 L976.9 2145.9 L976.4 2140.8 L975.9 2136.3 L975.4 2132.3 L975 2128.7 L974.6 2125.7 L974.3 2123.3 L973.9 2121.3 L973.6 2119.4 L973.2 2117.3 L972.7 2115 L972.2 2112.7 L971.7 2110.4 L971.1 2108.1 L970.4 2105.9 L969.6 2103.6 L968.7 2101.3 L967.7 2099 L966.8 2096.7 L965.9 2094.5 L965 2092.2 L964.2 2089.9 L963.4 2087.6 L962.6 2085.3 L961.8 2083.1 L960.9 2080.8 L960 2078.5 L959 2076.2 L958.1 2073.9 L957.2 2071.7 L956.3 2069.4 L955.4 2067.1 L954.5 2064.8 L953.6 2062.5 L952.6 2060.3 L951.6 2058 L950.4 2055.7 L949.3 2053.4 L948.1 2051.1 L946.9 2048.9 L945.8 2046.6 L944.6 2044.3 L943.4 2042 L942.3 2039.7 L941.2 2037.4 L940.2 2035.2 L939.2 2032.9 L938.2 2030.6 L937.4 2028.3 L936.7 2026 L936.1 2023.8 L935.7 2021.5 L935.3 2019.2 L935.1 2016.9 L935.1 2014.6 L935.2 2012.4 L935.4 2010.1 L935.8 2007.8 L936.2 2005.5 L936.7 2003.2 L937.2 2001 L937.9 1998.7 L938.6 1996.4 L939.3 1994.1 L940.1 1991.8 L940.9 1989.6 L941.8 1987.3 L942.7 1985 L943.7 1982.7 L944.7 1980.4 L945.7 1978.2 L946.7 1975.9 L947.8 1973.6 L948.9 1971.3 L949.9 1969 L950.9 1966.7 L951.8 1964.5 L952.7 1962.2 L953.8 1959.9 L954.9 1957.6 L956.2 1955.3 L957.6 1953.1 L959.1 1950.8 L960.7 1948.5 L962.4 1946.2 L964.4 1943.9 L966.7 1941.7 L968.9 1939.4 L971 1937.1 L972.7 1934.8 L973.9 1932.5 L974.8 1930.3 L975.5 1928 L976.1 1925.7 L976.6 1923.4 L977 1921.2 L977.4 1919 L977.6 1916.8 L977.8 1914.5 L978 1912 L978.1 1909 L978.2 1905.6 L978.3 1902.2 L978.4 1899.3 L978.4 1897.2Z" fill="#5e9fcb" stroke="#888888" stroke-width="3"/>
<line x1="980" y1="1959.9" x2="980" y2="2095.6" stroke="#000" stroke-width="2.6"/>
<rect x="973.4" y="1997.5" width="13" height="47.9" fill="#fff" stroke="#000" stroke-width="1.8"/>
<line x1="972" y1="2021" x2="987.8" y2="2021" stroke="#e02626" stroke-width="5"/>
<path fill="#8c8c8c" fill-opacity="0.95" d="M975.5 1955.3a4.5 4.5 0 1 0 9 0a4.5 4.5 0 1 0 -9 0M969.4 1970.2a4.5 4.5 0 1 0 9 0a4.5 4.5 0 1 0 -9 0M983.5 1975.4a4.5 4.5 0 1 0 9 0a4.5 4.5 0 1 0 -9 0M992.6 1970.2a4.5 4.5 0 1 0 9 0a4.5 4.5 0 1 0 -9 0M960.2 1981.6a4.5 4.5 0 1 0 9 0a4.5 4.5 0 1 0 -9 0M975.5 1982.7a4.5 4.5 0 1 0 9 0a4.5 4.5 0 1 0 -9 0M966.6 1993a4.5 4.5 0 1 0 9 0a4.5 4.5 0 1 0 -9 0M984.2 1991.8a4.5 4.5 0 1 0 9 0a4.5 4.5 0 1 0 -9 0M1009.9 1990.7a4.5 4.5 0 1 0 9 0a4.5 4.5 0 1 0 -9 0M941.5 1997.5a4.5 4.5 0 1 0 9 0a4.5 4.5 0 1 0 -9 0M975.5 1999.1a4.5 4.5 0 1 0 9 0a4.5 4.5 0 1 0 -9 0M1000.1 1997.5a4.5 4.5 0 1 0 9 0a4.5 4.5 0 1 0 -9 0M950 2003.7a4.5 4.5 0 1 0 9 0a4.5 4.5 0 1 0 -9 0M959.1 2005.1a4.5 4.5 0 1 0 9 0a4.5 4.5 0 1 0 -9 0M983 2006.7a4.5 4.5 0 1 0 9 0a4.5 4.5 0 1 0 -9 0M991 2004.4a4.5 4.5 0 1 0 9 0a4.5 4.5 0 1 0 -9 0M967.1 2014.6a4.5 4.5 0 1 0 9 0a4.5 4.5 0 1 0 -9 0M975.5 2014.6a4.5 4.5 0 1 0 9 0a4.5 4.5 0 1 0 -9 0M1004.7 2013.5a4.5 4.5 0 1 0 9 0a4.5 4.5 0 1 0 -9 0M943.1 2023.3a4.5 4.5 0 1 0 9 0a4.5 4.5 0 1 0 -9 0M955.7 2019.7a4.5 4.5 0 1 0 9 0a4.5 4.5 0 1 0 -9 0M987.6 2021.9a4.5 4.5 0 1 0 9 0a4.5 4.5 0 1 0 -9 0M997.9 2024.9a4.5 4.5 0 1 0 9 0a4.5 4.5 0 1 0 -9 0M950.7 2032.4a4.5 4.5 0 1 0 9 0a4.5 4.5 0 1 0 -9 0M961.4 2031.1a4.5 4.5 0 1 0 9 0a4.5 4.5 0 1 0 -9 0M971.6 2034a4.5 4.5 0 1 0 9 0a4.5 4.5 0 1 0 -9 0M979.6 2031.1a4.5 4.5 0 1 0 9 0a4.5 4.5 0 1 0 -9 0M991.7 2035.6a4.5 4.5 0 1 0 9 0a4.5 4.5 0 1 0 -9 0M956.8 2043.8a4.5 4.5 0 1 0 9 0a4.5 4.5 0 1 0 -9 0M967.1 2046.6a4.5 4.5 0 1 0 9 0a4.5 4.5 0 1 0 -9 0M975.5 2046.6a4.5 4.5 0 1 0 9 0a4.5 4.5 0 1 0 -9 0M984.2 2045.4a4.5 4.5 0 1 0 9 0a4.5 4.5 0 1 0 -9 0M957.9 2066a4.5 4.5 0 1 0 9 0a4.5 4.5 0 1 0 -9 0M967.1 2073.5a4.5 4.5 0 1 0 9 0a4.5 4.5 0 1 0 -9 0M983.5 2072.1a4.5 4.5 0 1 0 9 0a4.5 4.5 0 1 0 -9 0M992.6 2069.4a4.5 4.5 0 1 0 9 0a4.5 4.5 0 1 0 -9 0M975.5 2079a4.5 4.5 0 1 0 9 0a4.5 4.5 0 1 0 -9 0M965.9 2094a4.5 4.5 0 1 0 9 0a4.5 4.5 0 1 0 -9 0M984.9 2094a4.5 4.5 0 1 0 9 0a4.5 4.5 0 1 0 -9 0M975.5 2099.5a4.5 4.5 0 1 0 9 0a4.5 4.5 0 1 0 -9 0"/>
</g>
<rect x="920.7" y="1896.7" width="118.2" height="289.4" fill="none" stroke="#000" stroke-width="1.8"/>
<line x1="920.7" y1="1896.7" x2="928.7" y2="1896.7" stroke="#000" stroke-width="1.8"/>
<line x1="1038.9" y1="1896.7" x2="1030.9" y2="1896.7" stroke="#000" stroke-width="1.8"/>
<line x1="920.7" y1="1969" x2="928.7" y2="1969" stroke="#000" stroke-width="1.8"/>
<line x1="1038.9" y1="1969" x2="1030.9" y2="1969" stroke="#000" stroke-width="1.8"/>
<line x1="920.7" y1="2041.4" x2="928.7" y2="2041.4" stroke="#000" stroke-width="1.8"/>
<line x1="1038.9" y1="2041.4" x2="1030.9" y2="2041.4" stroke="#000" stroke-width="1.8"/>
<line x1="920.7" y1="2113.8" x2="928.7" y2="2113.8" stroke="#000" stroke-width="1.8"/>
<line x1="1038.9" y1="2113.8" x2="1030.9" y2="2113.8" stroke="#000" stroke-width="1.8"/>
<line x1="920.7" y1="2186.1" x2="928.7" y2="2186.1" stroke="#000" stroke-width="1.8"/>
<line x1="1038.9" y1="2186.1" x2="1030.9" y2="2186.1" stroke="#000" stroke-width="1.8"/>
<text x="915.5" y="1905.4" text-anchor="end" style="font-size:24.5px">0</text>
<text x="915.5" y="1977.8" text-anchor="end" style="font-size:24.5px">−20</text>
<text x="915.5" y="2050.1" text-anchor="end" style="font-size:24.5px">−40</text>
<text x="915.5" y="2122.4" text-anchor="end" style="font-size:24.5px">−60</text>
<text x="915.5" y="2194.8" text-anchor="end" style="font-size:24.5px">−80</text>
<text x="1031.5" y="2209" text-anchor="end" style="font-size:23.9px">n = 42</text>
<text x="866.5" y="2040.2" text-anchor="middle" transform="rotate(-90 866.5 2040.2)" style="font-size:26.1px">Relative loop decrease (%)</text>
<clipPath id="cv358"><rect x="1219.9" y="1896.9" width="118.3" height="288.8"/></clipPath>
<g clip-path="url(#cv358)">
<path d="M1297.9 1892.3 L1298 1892.7 L1298.1 1893.2 L1298.3 1894 L1298.6 1895.2 L1299.1 1896.9 L1300 1899.5 L1301.1 1902.8 L1302.4 1906.5 L1303.7 1910.1 L1304.9 1913.2 L1306.1 1915.7 L1307.1 1917.7 L1308.3 1919.6 L1309.4 1921.9 L1310.8 1924.9 L1312.3 1928.8 L1314 1933.3 L1315.8 1938.3 L1317.5 1943.3 L1318.9 1948.2 L1320.1 1952.9 L1321.2 1957.7 L1322.1 1962.5 L1322.9 1967.1 L1323.6 1971.4 L1324.1 1975.3 L1324.4 1978.8 L1324.6 1982.2 L1324.6 1985.8 L1324.5 1990.1 L1324.2 1995.1 L1323.7 2000.8 L1323 2006.7 L1322.2 2012.6 L1321.2 2018 L1320 2023 L1318.6 2027.7 L1317 2032.2 L1315.4 2036.7 L1313.8 2041.3 L1312.2 2046 L1310.6 2050.6 L1308.9 2055.3 L1307.3 2059.9 L1305.6 2064.6 L1304 2069.3 L1302.3 2073.9 L1300.7 2078.6 L1299 2083.2 L1297.5 2087.9 L1296 2092.6 L1294.5 2097.2 L1293.1 2101.9 L1291.8 2106.5 L1290.5 2111.2 L1289.3 2115.8 L1288.1 2120.5 L1287 2125.2 L1286 2129.8 L1285.1 2134.5 L1284.4 2139.2 L1283.7 2144 L1283.2 2148.8 L1282.7 2153.4 L1282.1 2157.8 L1281.5 2162.1 L1280.8 2166.4 L1280.2 2170.5 L1279.7 2173.9 L1279.3 2176.4 L1279.3 2176.4 L1278.9 2173.9 L1278.4 2170.5 L1277.8 2166.4 L1277.1 2162.1 L1276.5 2157.8 L1276 2153.4 L1275.4 2148.8 L1274.9 2144 L1274.2 2139.2 L1273.5 2134.5 L1272.6 2129.8 L1271.6 2125.2 L1270.5 2120.5 L1269.3 2115.8 L1268.1 2111.2 L1266.9 2106.5 L1265.5 2101.9 L1264.1 2097.2 L1262.6 2092.6 L1261.1 2087.9 L1259.6 2083.2 L1258 2078.6 L1256.3 2073.9 L1254.6 2069.3 L1253 2064.6 L1251.4 2059.9 L1249.7 2055.3 L1248.1 2050.6 L1246.4 2046 L1244.8 2041.3 L1243.2 2036.7 L1241.6 2032.2 L1240 2027.7 L1238.6 2023 L1237.4 2018 L1236.4 2012.6 L1235.6 2006.7 L1234.9 2000.8 L1234.4 1995.1 L1234.1 1990.1 L1234 1985.8 L1234 1982.2 L1234.2 1978.8 L1234.6 1975.3 L1235.1 1971.4 L1235.7 1967.1 L1236.5 1962.5 L1237.4 1957.7 L1238.5 1952.9 L1239.7 1948.2 L1241.2 1943.3 L1242.8 1938.3 L1244.6 1933.3 L1246.3 1928.8 L1247.9 1924.9 L1249.2 1921.9 L1250.4 1919.6 L1251.5 1917.7 L1252.6 1915.7 L1253.7 1913.2 L1254.9 1910.1 L1256.2 1906.5 L1257.5 1902.8 L1258.7 1899.5 L1259.5 1896.9 L1260.1 1895.2 L1260.4 1894 L1260.5 1893.2 L1260.6 1892.7 L1260.7 1892.3Z" fill="#c8464f" stroke="#888888" stroke-width="3"/>
<line x1="1279.3" y1="1929.5" x2="1279.3" y2="2070.4" stroke="#000" stroke-width="2.6"/>
<rect x="1273.7" y="1947.7" width="11.4" height="75.5" fill="#fff" stroke="#000" stroke-width="1.8"/>
<line x1="1272.3" y1="1975.6" x2="1286.5" y2="1975.6" stroke="#e02626" stroke-width="5"/>
<path fill="#8c8c8c" fill-opacity="0.95" d="M1277.4 1929.1a4.5 4.5 0 1 0 9 0a4.5 4.5 0 1 0 -9 0M1270.9 1940a4.5 4.5 0 1 0 9 0a4.5 4.5 0 1 0 -9 0M1274.3 1955.1a4.5 4.5 0 1 0 9 0a4.5 4.5 0 1 0 -9 0M1265.7 1968.7a4.5 4.5 0 1 0 9 0a4.5 4.5 0 1 0 -9 0M1275 1975.6a4.5 4.5 0 1 0 9 0a4.5 4.5 0 1 0 -9 0M1279 2008.7a4.5 4.5 0 1 0 9 0a4.5 4.5 0 1 0 -9 0M1265.7 2022a4.5 4.5 0 1 0 9 0a4.5 4.5 0 1 0 -9 0M1274.8 2022.2a4.5 4.5 0 1 0 9 0a4.5 4.5 0 1 0 -9 0M1274.3 2046.4a4.5 4.5 0 1 0 9 0a4.5 4.5 0 1 0 -9 0M1274.8 2074.4a4.5 4.5 0 1 0 9 0a4.5 4.5 0 1 0 -9 0"/>
</g>
<rect x="1219.9" y="1896.9" width="118.3" height="288.8" fill="none" stroke="#000" stroke-width="1.8"/>
<line x1="1219.9" y1="1896.9" x2="1227.9" y2="1896.9" stroke="#000" stroke-width="1.8"/>
<line x1="1338.2" y1="1896.9" x2="1330.2" y2="1896.9" stroke="#000" stroke-width="1.8"/>
<line x1="1219.9" y1="1969.1" x2="1227.9" y2="1969.1" stroke="#000" stroke-width="1.8"/>
<line x1="1338.2" y1="1969.1" x2="1330.2" y2="1969.1" stroke="#000" stroke-width="1.8"/>
<line x1="1219.9" y1="2041.3" x2="1227.9" y2="2041.3" stroke="#000" stroke-width="1.8"/>
<line x1="1338.2" y1="2041.3" x2="1330.2" y2="2041.3" stroke="#000" stroke-width="1.8"/>
<line x1="1219.9" y1="2113.5" x2="1227.9" y2="2113.5" stroke="#000" stroke-width="1.8"/>
<line x1="1338.2" y1="2113.5" x2="1330.2" y2="2113.5" stroke="#000" stroke-width="1.8"/>
<line x1="1219.9" y1="2185.7" x2="1227.9" y2="2185.7" stroke="#000" stroke-width="1.8"/>
<line x1="1338.2" y1="2185.7" x2="1330.2" y2="2185.7" stroke="#000" stroke-width="1.8"/>
<text x="1214.5" y="1905.6" text-anchor="end" style="font-size:24.5px">0</text>
<text x="1214.5" y="1977.8" text-anchor="end" style="font-size:24.5px">−20</text>
<text x="1214.5" y="2050" text-anchor="end" style="font-size:24.5px">−40</text>
<text x="1214.5" y="2122.2" text-anchor="end" style="font-size:24.5px">−60</text>
<text x="1214.5" y="2194.4" text-anchor="end" style="font-size:24.5px">−80</text>
<text x="1337.5" y="2209" text-anchor="end" style="font-size:23.9px">n = 11</text>
<text x="1164.5" y="2040.2" text-anchor="middle" transform="rotate(-90 1164.5 2040.2)" style="font-size:26.1px">Relative loop decrease (%)</text>
<text x="0" y="1059.5" fill="#1a1a1a" style="font-size:45px;font-weight:bold">g</text>
<path d="M206 1171 L264.7 1226.1 A80.5 80.5 0 1 1 206 1090.5Z" fill="#5e9fcb" stroke="#0a0a0a" stroke-width="1.6" stroke-linejoin="miter"/>
<path d="M212.7 1167.2 L212.7 1086.7 A80.5 80.5 0 0 1 271.4 1222.3Z" fill="#cfe2f1" stroke="#0a0a0a" stroke-width="1.6" stroke-linejoin="miter"/>
<path d="M399.3 1291.1 L336.5 1339.8 A79.5 79.5 0 1 1 368.9 1364.5Z" fill="#f2bcbc" stroke="#1a0a0a" stroke-width="1.6"/>
<path d="M400.6 1289.6 L366.5 1371.8 A89 89 0 0 1 330.3 1344.1Z" fill="#c8464f" stroke="#1a1010" stroke-width="3.2" stroke-linejoin="miter"/>
<text x="218" y="1080.3" style="font-size:29.2px">37 ± 14% gradual</text>
<text x="-1" y="1223.3" style="font-size:29.2px">63 ± 14%</text>
<text x="-1" y="1257.5" style="font-size:29.2px">step-wise</text>
<text x="-1" y="1291.8" style="font-size:29.2px">n = 43</text>
<text x="320.4" y="1202.6" style="font-size:29.2px">91 ± 17% gradual</text>
<text x="322.4" y="1420.3" style="font-size:29.2px">9 ± 17% step-wise</text>
<text x="322.4" y="1457.6" style="font-size:29.2px">n = 11</text>
<text x="612.5" y="1060.4" fill="#1a1a1a" style="font-size:45px;font-weight:bold">h</text>
<path d="M822 1195.1 L822.1 1196.6 L822.2 1198.7 L822.3 1201.1 L822.4 1203.8 L822.7 1206.6 L823 1209.4 L823.4 1212.5 L823.8 1215.7 L824.4 1219 L825.2 1222.1 L826 1225.2 L827.1 1228.4 L828.2 1231.5 L829.5 1234.6 L830.8 1237.7 L832.2 1240.8 L833.8 1243.9 L835.4 1247 L836.9 1250.1 L838.2 1253.2 L839.3 1256.4 L840.3 1259.8 L841.2 1263 L841.9 1266.1 L842.6 1268.8 L843.1 1271 L843.5 1272.8 L843.7 1274.5 L843.9 1276.2 L843.8 1278.1 L843.6 1280.5 L843.2 1283 L842.6 1285.7 L842 1288.2 L841.3 1290.6 L840.6 1292.5 L839.9 1294.2 L839 1295.9 L838.1 1297.7 L837 1299.9 L835.6 1302.6 L834 1305.7 L832.3 1309 L830.6 1312.3 L829.2 1315.4 L827.9 1318.6 L826.6 1321.8 L825.5 1324.9 L824.6 1327.6 L823.9 1329.4 L806.5 1329.4 L805.8 1327.6 L804.9 1324.9 L803.8 1321.8 L802.5 1318.6 L801.2 1315.4 L799.8 1312.3 L798.1 1309 L796.4 1305.7 L794.8 1302.6 L793.4 1299.9 L792.3 1297.7 L791.4 1295.9 L790.5 1294.2 L789.8 1292.5 L789.1 1290.6 L788.4 1288.2 L787.8 1285.7 L787.2 1283 L786.8 1280.5 L786.6 1278.1 L786.6 1276.2 L786.7 1274.5 L786.9 1272.8 L787.3 1271 L787.8 1268.8 L788.5 1266.1 L789.2 1263 L790.1 1259.8 L791.1 1256.4 L792.2 1253.2 L793.5 1250.1 L795 1247 L796.7 1243.9 L798.2 1240.8 L799.7 1237.7 L800.9 1234.6 L802.2 1231.5 L803.3 1228.4 L804.4 1225.2 L805.2 1222.1 L806 1219 L806.6 1215.7 L807 1212.5 L807.4 1209.4 L807.7 1206.6 L808 1203.8 L808.2 1201.1 L808.2 1198.7 L808.3 1196.6 L808.4 1195.1Z" fill="#5e9fcb" stroke="#111" stroke-width="1.6"/>
<path d="M930.1 1072.2 L930.1 1075.4 L930.1 1079.6 L930.1 1084.8 L930.2 1090.9 L930.3 1097.7 L930.4 1106 L930.5 1115.6 L930.7 1125.8 L930.9 1135.7 L931.2 1144.4 L931.5 1151.6 L931.8 1158 L932.2 1163.8 L932.7 1169.5 L933.4 1175.5 L934.3 1181.7 L935.3 1187.9 L936.5 1194.2 L937.8 1200.4 L939.3 1206.6 L941 1212.9 L942.9 1219.3 L944.9 1225.7 L946.9 1231.9 L948.6 1237.7 L950.1 1243.2 L951.5 1248.5 L952.8 1253.6 L953.9 1258.3 L954.8 1262.6 L955.6 1266.3 L956.1 1269.5 L956.5 1272.3 L956.7 1275.2 L956.7 1278.1 L956.5 1281.2 L956.2 1284.3 L955.7 1287.4 L955.1 1290.6 L954.2 1293.7 L953.1 1296.8 L951.8 1299.9 L950.3 1303 L948.8 1306.1 L947.4 1309.2 L946 1312.4 L944.6 1315.7 L943.3 1318.9 L942.1 1322 L941.1 1324.8 L940.5 1327.3 L940 1329.6 L939.7 1331.7 L939.5 1333.5 L939.3 1334.7 L916.9 1334.7 L916.7 1333.5 L916.5 1331.7 L916.2 1329.6 L915.7 1327.3 L915 1324.8 L914.1 1322 L912.9 1318.9 L911.5 1315.7 L910.2 1312.4 L908.8 1309.2 L907.4 1306.1 L905.9 1303 L904.4 1299.9 L903.1 1296.8 L902 1293.7 L901.1 1290.6 L900.4 1287.4 L900 1284.3 L899.6 1281.2 L899.5 1278.1 L899.5 1275.2 L899.7 1272.3 L900.1 1269.5 L900.6 1266.3 L901.3 1262.6 L902.3 1258.3 L903.4 1253.6 L904.6 1248.5 L906.1 1243.2 L907.6 1237.7 L909.3 1231.9 L911.2 1225.7 L913.3 1219.3 L915.2 1212.9 L916.9 1206.6 L918.4 1200.4 L919.7 1194.2 L920.9 1187.9 L921.9 1181.7 L922.8 1175.5 L923.5 1169.5 L924 1163.8 L924.4 1158 L924.7 1151.6 L925 1144.4 L925.3 1135.7 L925.5 1125.8 L925.7 1115.6 L925.8 1106 L925.9 1097.7 L926 1090.9 L926 1084.8 L926.1 1079.6 L926.1 1075.4 L926.1 1072.2Z" fill="#cfe2f1" stroke="#111" stroke-width="1.6"/>
<line x1="815.2" y1="1195.1" x2="815.2" y2="1329.4" stroke="#000" stroke-width="1.8"/>
<line x1="928.1" y1="1072.2" x2="928.1" y2="1334.7" stroke="#000" stroke-width="1.8"/>
<path fill="#808080" fill-opacity="0.75" d="M814.9 1194.2a4.3 4.3 0 1 0 8.6 0a4.3 4.3 0 1 0 -8.6 0M814.9 1199.7a4.3 4.3 0 1 0 8.6 0a4.3 4.3 0 1 0 -8.6 0M807.2 1212.8a4.3 4.3 0 1 0 8.6 0a4.3 4.3 0 1 0 -8.6 0M808.7 1231.5a4.3 4.3 0 1 0 8.6 0a4.3 4.3 0 1 0 -8.6 0M810.3 1253.2a4.3 4.3 0 1 0 8.6 0a4.3 4.3 0 1 0 -8.6 0M813.4 1256.3a4.3 4.3 0 1 0 8.6 0a4.3 4.3 0 1 0 -8.6 0M811.8 1278.1a4.3 4.3 0 1 0 8.6 0a4.3 4.3 0 1 0 -8.6 0M809.7 1306.1a4.3 4.3 0 1 0 8.6 0a4.3 4.3 0 1 0 -8.6 0M814.9 1309.2a4.3 4.3 0 1 0 8.6 0a4.3 4.3 0 1 0 -8.6 0M811.8 1329.4a4.3 4.3 0 1 0 8.6 0a4.3 4.3 0 1 0 -8.6 0M807.2 1304.6a4.3 4.3 0 1 0 8.6 0a4.3 4.3 0 1 0 -8.6 0"/>
<path fill="#808080" fill-opacity="0.75" d="M928.5 1072.2a4.3 4.3 0 1 0 8.6 0a4.3 4.3 0 1 0 -8.6 0M923.8 1206.6a4.3 4.3 0 1 0 8.6 0a4.3 4.3 0 1 0 -8.6 0M923.8 1228.4a4.3 4.3 0 1 0 8.6 0a4.3 4.3 0 1 0 -8.6 0M919.1 1250.1a4.3 4.3 0 1 0 8.6 0a4.3 4.3 0 1 0 -8.6 0M927.8 1265.7a4.3 4.3 0 1 0 8.6 0a4.3 4.3 0 1 0 -8.6 0M925.3 1268.8a4.3 4.3 0 1 0 8.6 0a4.3 4.3 0 1 0 -8.6 0M920.7 1278.1a4.3 4.3 0 1 0 8.6 0a4.3 4.3 0 1 0 -8.6 0M922.2 1288.1a4.3 4.3 0 1 0 8.6 0a4.3 4.3 0 1 0 -8.6 0M926.9 1293.7a4.3 4.3 0 1 0 8.6 0a4.3 4.3 0 1 0 -8.6 0M925.3 1296.8a4.3 4.3 0 1 0 8.6 0a4.3 4.3 0 1 0 -8.6 0M927.8 1334.1a4.3 4.3 0 1 0 8.6 0a4.3 4.3 0 1 0 -8.6 0"/>
<rect x="812.4" y="1256.3" width="7.2" height="43.5" fill="#fff" stroke="#000" stroke-width="1.8"/>
<line x1="809" y1="1277.5" x2="823" y2="1277.5" stroke="#e02626" stroke-width="5.5"/>
<rect x="925" y="1261" width="6.8" height="27.1" fill="#fff" stroke="#000" stroke-width="1.8"/>
<line x1="921.4" y1="1276.6" x2="935.4" y2="1276.6" stroke="#e02626" stroke-width="5.5"/>
<rect x="759.2" y="1055.1" width="225.5" height="310.1" fill="none" stroke="#000" stroke-width="1.8"/>
<line x1="759.2" y1="1353.3" x2="767.2" y2="1353.3" stroke="#000" stroke-width="1.8"/>
<line x1="984.7" y1="1353.3" x2="976.7" y2="1353.3" stroke="#000" stroke-width="1.8"/>
<line x1="759.2" y1="1293.6" x2="767.2" y2="1293.6" stroke="#000" stroke-width="1.8"/>
<line x1="984.7" y1="1293.6" x2="976.7" y2="1293.6" stroke="#000" stroke-width="1.8"/>
<line x1="759.2" y1="1234" x2="767.2" y2="1234" stroke="#000" stroke-width="1.8"/>
<line x1="984.7" y1="1234" x2="976.7" y2="1234" stroke="#000" stroke-width="1.8"/>
<line x1="759.2" y1="1174.4" x2="767.2" y2="1174.4" stroke="#000" stroke-width="1.8"/>
<line x1="984.7" y1="1174.4" x2="976.7" y2="1174.4" stroke="#000" stroke-width="1.8"/>
<line x1="759.2" y1="1114.7" x2="767.2" y2="1114.7" stroke="#000" stroke-width="1.8"/>
<line x1="984.7" y1="1114.7" x2="976.7" y2="1114.7" stroke="#000" stroke-width="1.8"/>
<line x1="759.2" y1="1055.1" x2="767.2" y2="1055.1" stroke="#000" stroke-width="1.8"/>
<line x1="984.7" y1="1055.1" x2="976.7" y2="1055.1" stroke="#000" stroke-width="1.8"/>
<line x1="815.2" y1="1365.2" x2="815.2" y2="1357.2" stroke="#000" stroke-width="1.8"/>
<line x1="815.2" y1="1055.1" x2="815.2" y2="1063.1" stroke="#000" stroke-width="1.8"/>
<line x1="928.1" y1="1365.2" x2="928.1" y2="1357.2" stroke="#000" stroke-width="1.8"/>
<line x1="928.1" y1="1055.1" x2="928.1" y2="1063.1" stroke="#000" stroke-width="1.8"/>
<text x="754.5" y="1361.4" text-anchor="end" style="font-size:22.6px">0.025</text>
<text x="754.5" y="1301.7" text-anchor="end" style="font-size:22.6px">0.050</text>
<text x="754.5" y="1242.1" text-anchor="end" style="font-size:22.6px">0.075</text>
<text x="754.5" y="1182.5" text-anchor="end" style="font-size:22.6px">0.100</text>
<text x="754.5" y="1122.8" text-anchor="end" style="font-size:22.6px">0.125</text>
<text x="754.5" y="1063.2" text-anchor="end" style="font-size:22.6px">0.150</text>
<text x="684.8" y="1208.8" text-anchor="middle" transform="rotate(-90 684.8 1208.8)" style="font-size:25.4px">DNA tension at dissociation (pN)</text>
<text x="830.5" y="1374.4" text-anchor="end" transform="rotate(-60 830.5 1374.4)" style="font-size:29.4px">stepwise</text>
<text x="853.6" y="1388.2" text-anchor="end" transform="rotate(-60 853.6 1388.2)" style="font-size:29.4px">n=27</text>
<text x="928.4" y="1380.5" text-anchor="end" transform="rotate(-60 928.4 1380.5)" style="font-size:29.4px">gradual</text>
<text x="956.5" y="1384.4" text-anchor="end" transform="rotate(-60 956.5 1384.4)" style="font-size:29.4px">n=16</text>
<path d="M1306.4 1132.8 L1306.6 1134.2 L1306.8 1136.1 L1307 1138.4 L1307.2 1140.9 L1307.4 1143.6 L1307.6 1146.4 L1307.7 1149.4 L1307.9 1152.6 L1308.1 1155.8 L1308.3 1159 L1308.4 1162.1 L1308.5 1165.2 L1308.7 1168.3 L1308.9 1171.4 L1309.2 1174.5 L1309.8 1177.5 L1310.4 1180.6 L1311.1 1183.7 L1312 1186.8 L1312.9 1189.9 L1314 1193 L1315.3 1196.1 L1316.6 1199.2 L1317.9 1202.3 L1319.1 1205.4 L1320.3 1208.4 L1321.4 1211.5 L1322.5 1214.6 L1323.5 1217.7 L1324.4 1220.8 L1325.2 1224 L1325.9 1227.3 L1326.6 1230.5 L1327.1 1233.5 L1327.5 1236.2 L1327.6 1238.5 L1327.6 1240.5 L1327.4 1242.2 L1327.2 1243.9 L1326.8 1245.5 L1326.3 1247.3 L1325.6 1249.1 L1324.9 1250.8 L1324.2 1252.2 L1323.7 1253.2 L1274.3 1253.2 L1273.9 1252.2 L1273.2 1250.8 L1272.4 1249.1 L1271.7 1247.3 L1271.2 1245.5 L1270.9 1243.9 L1270.6 1242.2 L1270.5 1240.5 L1270.5 1238.5 L1270.6 1236.2 L1271 1233.5 L1271.5 1230.5 L1272.1 1227.3 L1272.9 1224 L1273.7 1220.8 L1274.6 1217.7 L1275.6 1214.6 L1276.7 1211.5 L1277.8 1208.4 L1279 1205.4 L1280.2 1202.3 L1281.5 1199.2 L1282.8 1196.1 L1284 1193 L1285.1 1189.9 L1286.1 1186.8 L1286.9 1183.7 L1287.7 1180.6 L1288.3 1177.5 L1288.8 1174.5 L1289.2 1171.4 L1289.4 1168.3 L1289.5 1165.2 L1289.6 1162.1 L1289.8 1159 L1290 1155.8 L1290.1 1152.6 L1290.3 1149.4 L1290.5 1146.4 L1290.7 1143.6 L1290.9 1140.9 L1291.1 1138.4 L1291.3 1136.1 L1291.5 1134.2 L1291.6 1132.8Z" fill="#f2bcbc" stroke="#111" stroke-width="1.6"/>
<line x1="1299" y1="1132.8" x2="1299" y2="1253.2" stroke="#000" stroke-width="1.8"/>
<path fill="#808080" fill-opacity="0.75" d="M1292.3 1131.8a4.3 4.3 0 1 0 8.6 0a4.3 4.3 0 1 0 -8.6 0M1292.9 1165.2a4.3 4.3 0 1 0 8.6 0a4.3 4.3 0 1 0 -8.6 0M1291.6 1194.5a4.3 4.3 0 1 0 8.6 0a4.3 4.3 0 1 0 -8.6 0M1290.7 1225.4a4.3 4.3 0 1 0 8.6 0a4.3 4.3 0 1 0 -8.6 0M1300 1233.2a4.3 4.3 0 1 0 8.6 0a4.3 4.3 0 1 0 -8.6 0M1292.3 1242.4a4.3 4.3 0 1 0 8.6 0a4.3 4.3 0 1 0 -8.6 0M1299.1 1253.2a4.3 4.3 0 1 0 8.6 0a4.3 4.3 0 1 0 -8.6 0"/>
<rect x="1295.9" y="1202.3" width="6.8" height="38.6" fill="#fff" stroke="#000" stroke-width="1.8"/>
<line x1="1293.3" y1="1236.2" x2="1305.3" y2="1236.2" stroke="#e02626" stroke-width="5.5"/>
<line x1="1159.1" y1="1264" x2="1214.1" y2="1264" stroke="#000" stroke-width="2.2"/>
<ellipse cx="1186.9" cy="1264" rx="6.5" ry="3.4" fill="#e02626"/>
<rect x="1130.4" y="1055.5" width="225.5" height="309.5" fill="none" stroke="#000" stroke-width="1.8"/>
<line x1="1130.4" y1="1353.1" x2="1138.4" y2="1353.1" stroke="#000" stroke-width="1.8"/>
<line x1="1355.9" y1="1353.1" x2="1347.9" y2="1353.1" stroke="#000" stroke-width="1.8"/>
<line x1="1130.4" y1="1293.6" x2="1138.4" y2="1293.6" stroke="#000" stroke-width="1.8"/>
<line x1="1355.9" y1="1293.6" x2="1347.9" y2="1293.6" stroke="#000" stroke-width="1.8"/>
<line x1="1130.4" y1="1234.1" x2="1138.4" y2="1234.1" stroke="#000" stroke-width="1.8"/>
<line x1="1355.9" y1="1234.1" x2="1347.9" y2="1234.1" stroke="#000" stroke-width="1.8"/>
<line x1="1130.4" y1="1174.5" x2="1138.4" y2="1174.5" stroke="#000" stroke-width="1.8"/>
<line x1="1355.9" y1="1174.5" x2="1347.9" y2="1174.5" stroke="#000" stroke-width="1.8"/>
<line x1="1130.4" y1="1115" x2="1138.4" y2="1115" stroke="#000" stroke-width="1.8"/>
<line x1="1355.9" y1="1115" x2="1347.9" y2="1115" stroke="#000" stroke-width="1.8"/>
<line x1="1130.4" y1="1055.5" x2="1138.4" y2="1055.5" stroke="#000" stroke-width="1.8"/>
<line x1="1355.9" y1="1055.5" x2="1347.9" y2="1055.5" stroke="#000" stroke-width="1.8"/>
<line x1="1186.3" y1="1365" x2="1186.3" y2="1357" stroke="#000" stroke-width="1.8"/>
<line x1="1186.3" y1="1055.5" x2="1186.3" y2="1063.5" stroke="#000" stroke-width="1.8"/>
<line x1="1299" y1="1365" x2="1299" y2="1357" stroke="#000" stroke-width="1.8"/>
<line x1="1299" y1="1055.5" x2="1299" y2="1063.5" stroke="#000" stroke-width="1.8"/>
<text x="1125.6" y="1361.2" text-anchor="end" style="font-size:22.6px">0.025</text>
<text x="1125.6" y="1301.7" text-anchor="end" style="font-size:22.6px">0.050</text>
<text x="1125.6" y="1242.2" text-anchor="end" style="font-size:22.6px">0.075</text>
<text x="1125.6" y="1182.6" text-anchor="end" style="font-size:22.6px">0.100</text>
<text x="1125.6" y="1123.1" text-anchor="end" style="font-size:22.6px">0.125</text>
<text x="1125.6" y="1063.6" text-anchor="end" style="font-size:22.6px">0.150</text>
<text x="1058.3" y="1210" text-anchor="middle" transform="rotate(-90 1058.3 1210)" style="font-size:25.4px">DNA tension at dissociation (pN)</text>
<text x="1201.6" y="1374.4" text-anchor="end" transform="rotate(-60 1201.6 1374.4)" style="font-size:29.4px">stepwise</text>
<text x="1224.7" y="1388.2" text-anchor="end" transform="rotate(-60 1224.7 1388.2)" style="font-size:29.4px">n=1</text>
<text x="1299.3" y="1380.5" text-anchor="end" transform="rotate(-60 1299.3 1380.5)" style="font-size:29.4px">gradual</text>
<text x="1330" y="1381.5" text-anchor="end" transform="rotate(-60 1330 1381.5)" style="font-size:29.4px">n=10</text>
<clipPath id="kcc"><rect x="466.3" y="38.6" width="328.4" height="106.2"/></clipPath>
<g clip-path="url(#kcc)"><g filter="url(#kblur)">
<rect x="463.3" y="35.6" width="334.4" height="112.2" fill="#3a0a0a"/>
<path fill="#180808" d="M463.3 35.6h8.7v8.6h-8.7zM471.7 35.6h5.7v8.6h-5.7zM477.1 35.6h5.7v8.6h-5.7zM482.5 35.6h5.7v8.6h-5.7zM487.8 35.6h5.7v8.6h-5.7zM498.6 35.6h5.7v8.6h-5.7zM509.4 35.6h5.7v8.6h-5.7zM514.8 35.6h5.7v8.6h-5.7zM520.1 35.6h5.7v8.6h-5.7zM541.7 35.6h5.7v8.6h-5.7zM547.1 35.6h5.7v8.6h-5.7zM557.8 35.6h5.7v8.6h-5.7zM563.2 35.6h5.7v8.6h-5.7zM568.6 35.6h5.7v8.6h-5.7zM574 35.6h5.7v8.6h-5.7zM584.7 35.6h5.7v8.6h-5.7zM590.1 35.6h5.7v8.6h-5.7zM595.5 35.6h5.7v8.6h-5.7zM600.9 35.6h5.7v8.6h-5.7zM606.3 35.6h5.7v8.6h-5.7zM611.7 35.6h5.7v8.6h-5.7zM617 35.6h5.7v8.6h-5.7zM622.4 35.6h5.7v8.6h-5.7zM627.8 35.6h5.7v8.6h-5.7zM633.2 35.6h5.7v8.6h-5.7zM638.6 35.6h5.7v8.6h-5.7zM649.3 35.6h5.7v8.6h-5.7zM670.9 35.6h5.7v8.6h-5.7zM676.3 35.6h5.7v8.6h-5.7zM681.6 35.6h5.7v8.6h-5.7zM692.4 35.6h5.7v8.6h-5.7zM697.8 35.6h5.7v8.6h-5.7zM708.6 35.6h5.7v8.6h-5.7zM713.9 35.6h5.7v8.6h-5.7zM719.3 35.6h5.7v8.6h-5.7zM730.1 35.6h5.7v8.6h-5.7zM735.5 35.6h5.7v8.6h-5.7zM740.9 35.6h5.7v8.6h-5.7zM751.6 35.6h5.7v8.6h-5.7zM757 35.6h5.7v8.6h-5.7zM762.4 35.6h5.7v8.6h-5.7zM778.5 35.6h5.7v8.6h-5.7zM783.9 35.6h5.7v8.6h-5.7zM463.3 43.9h8.7v5.6h-8.7zM471.7 43.9h5.7v5.6h-5.7zM477.1 43.9h5.7v5.6h-5.7zM482.5 43.9h5.7v5.6h-5.7zM487.8 43.9h5.7v5.6h-5.7zM493.2 43.9h5.7v5.6h-5.7zM498.6 43.9h5.7v5.6h-5.7zM504 43.9h5.7v5.6h-5.7zM509.4 43.9h5.7v5.6h-5.7zM514.8 43.9h5.7v5.6h-5.7zM520.1 43.9h5.7v5.6h-5.7zM541.7 43.9h5.7v5.6h-5.7zM547.1 43.9h5.7v5.6h-5.7zM563.2 43.9h5.7v5.6h-5.7zM568.6 43.9h5.7v5.6h-5.7zM574 43.9h5.7v5.6h-5.7zM579.4 43.9h5.7v5.6h-5.7zM584.7 43.9h5.7v5.6h-5.7zM595.5 43.9h5.7v5.6h-5.7zM600.9 43.9h5.7v5.6h-5.7zM617 43.9h5.7v5.6h-5.7zM627.8 43.9h5.7v5.6h-5.7zM633.2 43.9h5.7v5.6h-5.7zM638.6 43.9h5.7v5.6h-5.7zM649.3 43.9h5.7v5.6h-5.7zM654.7 43.9h5.7v5.6h-5.7zM660.1 43.9h5.7v5.6h-5.7zM665.5 43.9h5.7v5.6h-5.7zM670.9 43.9h5.7v5.6h-5.7zM676.3 43.9h5.7v5.6h-5.7zM681.6 43.9h5.7v5.6h-5.7zM692.4 43.9h5.7v5.6h-5.7zM697.8 43.9h5.7v5.6h-5.7zM703.2 43.9h5.7v5.6h-5.7zM708.6 43.9h5.7v5.6h-5.7zM713.9 43.9h5.7v5.6h-5.7zM719.3 43.9h5.7v5.6h-5.7zM730.1 43.9h5.7v5.6h-5.7zM735.5 43.9h5.7v5.6h-5.7zM740.9 43.9h5.7v5.6h-5.7zM746.2 43.9h5.7v5.6h-5.7zM751.6 43.9h5.7v5.6h-5.7zM757 43.9h5.7v5.6h-5.7zM773.2 43.9h5.7v5.6h-5.7zM778.5 43.9h5.7v5.6h-5.7zM783.9 43.9h5.7v5.6h-5.7zM789.3 43.9h8.7v5.6h-8.7zM463.3 134.2h8.7v5.6h-8.7zM477.1 134.2h5.7v5.6h-5.7zM482.5 134.2h5.7v5.6h-5.7zM487.8 134.2h5.7v5.6h-5.7zM493.2 134.2h5.7v5.6h-5.7zM509.4 134.2h5.7v5.6h-5.7zM514.8 134.2h5.7v5.6h-5.7zM520.1 134.2h5.7v5.6h-5.7zM525.5 134.2h5.7v5.6h-5.7zM536.3 134.2h5.7v5.6h-5.7zM541.7 134.2h5.7v5.6h-5.7zM547.1 134.2h5.7v5.6h-5.7zM552.4 134.2h5.7v5.6h-5.7zM557.8 134.2h5.7v5.6h-5.7zM563.2 134.2h5.7v5.6h-5.7zM568.6 134.2h5.7v5.6h-5.7zM574 134.2h5.7v5.6h-5.7zM579.4 134.2h5.7v5.6h-5.7zM590.1 134.2h5.7v5.6h-5.7zM600.9 134.2h5.7v5.6h-5.7zM617 134.2h5.7v5.6h-5.7zM622.4 134.2h5.7v5.6h-5.7zM627.8 134.2h5.7v5.6h-5.7zM633.2 134.2h5.7v5.6h-5.7zM638.6 134.2h5.7v5.6h-5.7zM644 134.2h5.7v5.6h-5.7zM649.3 134.2h5.7v5.6h-5.7zM654.7 134.2h5.7v5.6h-5.7zM665.5 134.2h5.7v5.6h-5.7zM676.3 134.2h5.7v5.6h-5.7zM681.6 134.2h5.7v5.6h-5.7zM687 134.2h5.7v5.6h-5.7zM692.4 134.2h5.7v5.6h-5.7zM697.8 134.2h5.7v5.6h-5.7zM703.2 134.2h5.7v5.6h-5.7zM708.6 134.2h5.7v5.6h-5.7zM719.3 134.2h5.7v5.6h-5.7zM724.7 134.2h5.7v5.6h-5.7zM730.1 134.2h5.7v5.6h-5.7zM735.5 134.2h5.7v5.6h-5.7zM746.2 134.2h5.7v5.6h-5.7zM751.6 134.2h5.7v5.6h-5.7zM757 134.2h5.7v5.6h-5.7zM762.4 134.2h5.7v5.6h-5.7zM767.8 134.2h5.7v5.6h-5.7zM773.2 134.2h5.7v5.6h-5.7zM778.5 134.2h5.7v5.6h-5.7zM783.9 134.2h5.7v5.6h-5.7zM789.3 134.2h8.7v5.6h-8.7zM463.3 139.5h8.7v8.6h-8.7zM471.7 139.5h5.7v8.6h-5.7zM477.1 139.5h5.7v8.6h-5.7zM482.5 139.5h5.7v8.6h-5.7zM487.8 139.5h5.7v8.6h-5.7zM493.2 139.5h5.7v8.6h-5.7zM509.4 139.5h5.7v8.6h-5.7zM514.8 139.5h5.7v8.6h-5.7zM525.5 139.5h5.7v8.6h-5.7zM536.3 139.5h5.7v8.6h-5.7zM541.7 139.5h5.7v8.6h-5.7zM547.1 139.5h5.7v8.6h-5.7zM552.4 139.5h5.7v8.6h-5.7zM557.8 139.5h5.7v8.6h-5.7zM563.2 139.5h5.7v8.6h-5.7zM568.6 139.5h5.7v8.6h-5.7zM579.4 139.5h5.7v8.6h-5.7zM584.7 139.5h5.7v8.6h-5.7zM595.5 139.5h5.7v8.6h-5.7zM606.3 139.5h5.7v8.6h-5.7zM611.7 139.5h5.7v8.6h-5.7zM617 139.5h5.7v8.6h-5.7zM627.8 139.5h5.7v8.6h-5.7zM633.2 139.5h5.7v8.6h-5.7zM638.6 139.5h5.7v8.6h-5.7zM644 139.5h5.7v8.6h-5.7zM649.3 139.5h5.7v8.6h-5.7zM654.7 139.5h5.7v8.6h-5.7zM665.5 139.5h5.7v8.6h-5.7zM676.3 139.5h5.7v8.6h-5.7zM681.6 139.5h5.7v8.6h-5.7zM692.4 139.5h5.7v8.6h-5.7zM703.2 139.5h5.7v8.6h-5.7zM708.6 139.5h5.7v8.6h-5.7zM713.9 139.5h5.7v8.6h-5.7zM719.3 139.5h5.7v8.6h-5.7zM724.7 139.5h5.7v8.6h-5.7zM730.1 139.5h5.7v8.6h-5.7zM735.5 139.5h5.7v8.6h-5.7zM740.9 139.5h5.7v8.6h-5.7zM751.6 139.5h5.7v8.6h-5.7zM757 139.5h5.7v8.6h-5.7zM762.4 139.5h5.7v8.6h-5.7zM767.8 139.5h5.7v8.6h-5.7zM773.2 139.5h5.7v8.6h-5.7zM783.9 139.5h5.7v8.6h-5.7z"/>
<path fill="#280808" d="M493.2 35.6h5.7v8.6h-5.7zM504 35.6h5.7v8.6h-5.7zM525.5 35.6h5.7v8.6h-5.7zM530.9 35.6h5.7v8.6h-5.7zM536.3 35.6h5.7v8.6h-5.7zM552.4 35.6h5.7v8.6h-5.7zM579.4 35.6h5.7v8.6h-5.7zM644 35.6h5.7v8.6h-5.7zM654.7 35.6h5.7v8.6h-5.7zM660.1 35.6h5.7v8.6h-5.7zM665.5 35.6h5.7v8.6h-5.7zM687 35.6h5.7v8.6h-5.7zM703.2 35.6h5.7v8.6h-5.7zM724.7 35.6h5.7v8.6h-5.7zM746.2 35.6h5.7v8.6h-5.7zM767.8 35.6h5.7v8.6h-5.7zM773.2 35.6h5.7v8.6h-5.7zM789.3 35.6h8.7v8.6h-8.7zM525.5 43.9h5.7v5.6h-5.7zM530.9 43.9h5.7v5.6h-5.7zM536.3 43.9h5.7v5.6h-5.7zM552.4 43.9h5.7v5.6h-5.7zM557.8 43.9h5.7v5.6h-5.7zM590.1 43.9h5.7v5.6h-5.7zM606.3 43.9h5.7v5.6h-5.7zM611.7 43.9h5.7v5.6h-5.7zM622.4 43.9h5.7v5.6h-5.7zM644 43.9h5.7v5.6h-5.7zM687 43.9h5.7v5.6h-5.7zM724.7 43.9h5.7v5.6h-5.7zM762.4 43.9h5.7v5.6h-5.7zM767.8 43.9h5.7v5.6h-5.7zM627.8 81.1h5.7v5.6h-5.7zM471.7 134.2h5.7v5.6h-5.7zM498.6 134.2h5.7v5.6h-5.7zM504 134.2h5.7v5.6h-5.7zM530.9 134.2h5.7v5.6h-5.7zM584.7 134.2h5.7v5.6h-5.7zM595.5 134.2h5.7v5.6h-5.7zM606.3 134.2h5.7v5.6h-5.7zM611.7 134.2h5.7v5.6h-5.7zM660.1 134.2h5.7v5.6h-5.7zM670.9 134.2h5.7v5.6h-5.7zM713.9 134.2h5.7v5.6h-5.7zM740.9 134.2h5.7v5.6h-5.7zM498.6 139.5h5.7v8.6h-5.7zM504 139.5h5.7v8.6h-5.7zM520.1 139.5h5.7v8.6h-5.7zM530.9 139.5h5.7v8.6h-5.7zM574 139.5h5.7v8.6h-5.7zM590.1 139.5h5.7v8.6h-5.7zM600.9 139.5h5.7v8.6h-5.7zM622.4 139.5h5.7v8.6h-5.7zM660.1 139.5h5.7v8.6h-5.7zM670.9 139.5h5.7v8.6h-5.7zM687 139.5h5.7v8.6h-5.7zM697.8 139.5h5.7v8.6h-5.7zM746.2 139.5h5.7v8.6h-5.7zM778.5 139.5h5.7v8.6h-5.7zM789.3 139.5h8.7v8.6h-8.7z"/>
<path fill="#581818" d="M463.3 49.2h8.7v5.6h-8.7zM477.1 49.2h5.7v5.6h-5.7zM525.5 49.2h5.7v5.6h-5.7zM638.6 49.2h5.7v5.6h-5.7zM692.4 49.2h5.7v5.6h-5.7zM487.8 54.5h5.7v5.6h-5.7zM493.2 54.5h5.7v5.6h-5.7zM498.6 54.5h5.7v5.6h-5.7zM541.7 54.5h5.7v5.6h-5.7zM660.1 54.5h5.7v5.6h-5.7zM703.2 54.5h5.7v5.6h-5.7zM789.3 54.5h8.7v5.6h-8.7zM504 59.8h5.7v5.6h-5.7zM665.5 59.8h5.7v5.6h-5.7zM757 59.8h5.7v5.6h-5.7zM778.5 59.8h5.7v5.6h-5.7zM627.8 65.2h5.7v5.6h-5.7zM681.6 65.2h5.7v5.6h-5.7zM687 65.2h5.7v5.6h-5.7zM708.6 65.2h5.7v5.6h-5.7zM547.1 70.5h5.7v5.6h-5.7zM584.7 70.5h5.7v5.6h-5.7zM638.6 70.5h5.7v5.6h-5.7zM660.1 70.5h5.7v5.6h-5.7zM665.5 70.5h5.7v5.6h-5.7zM670.9 70.5h5.7v5.6h-5.7zM676.3 70.5h5.7v5.6h-5.7zM708.6 70.5h5.7v5.6h-5.7zM525.5 75.8h5.7v5.6h-5.7zM541.7 75.8h5.7v5.6h-5.7zM692.4 75.8h5.7v5.6h-5.7zM697.8 75.8h5.7v5.6h-5.7zM713.9 75.8h5.7v5.6h-5.7zM563.2 81.1h5.7v5.6h-5.7zM611.7 81.1h5.7v5.6h-5.7zM783.9 81.1h5.7v5.6h-5.7zM514.8 91.7h5.7v5.6h-5.7zM493.2 97h5.7v5.6h-5.7zM530.9 97h5.7v5.6h-5.7zM713.9 97h5.7v5.6h-5.7zM751.6 97h5.7v5.6h-5.7zM789.3 97h8.7v5.6h-8.7zM493.2 102.3h5.7v5.6h-5.7zM574 102.3h5.7v5.6h-5.7zM595.5 102.3h5.7v5.6h-5.7zM783.9 102.3h5.7v5.6h-5.7zM557.8 107.6h5.7v5.6h-5.7zM627.8 107.6h5.7v5.6h-5.7zM633.2 107.6h5.7v5.6h-5.7zM504 112.9h5.7v5.6h-5.7zM590.1 112.9h5.7v5.6h-5.7zM692.4 112.9h5.7v5.6h-5.7zM778.5 112.9h5.7v5.6h-5.7zM463.3 118.2h8.7v5.6h-8.7zM547.1 118.2h5.7v5.6h-5.7zM568.6 118.2h5.7v5.6h-5.7zM638.6 118.2h5.7v5.6h-5.7zM692.4 118.2h5.7v5.6h-5.7zM719.3 118.2h5.7v5.6h-5.7zM783.9 118.2h5.7v5.6h-5.7zM514.8 123.6h5.7v5.6h-5.7zM552.4 123.6h5.7v5.6h-5.7zM574 123.6h5.7v5.6h-5.7zM676.3 123.6h5.7v5.6h-5.7zM687 123.6h5.7v5.6h-5.7zM719.3 123.6h5.7v5.6h-5.7zM493.2 128.9h5.7v5.6h-5.7zM627.8 128.9h5.7v5.6h-5.7zM697.8 128.9h5.7v5.6h-5.7zM746.2 128.9h5.7v5.6h-5.7zM789.3 128.9h8.7v5.6h-8.7z"/>
<path fill="#884848" d="M471.7 49.2h5.7v5.6h-5.7zM670.9 49.2h5.7v5.6h-5.7zM574 54.5h5.7v5.6h-5.7zM735.5 54.5h5.7v5.6h-5.7zM670.9 65.2h5.7v5.6h-5.7zM552.4 75.8h5.7v5.6h-5.7zM746.2 75.8h5.7v5.6h-5.7zM574 81.1h5.7v5.6h-5.7zM520.1 97h5.7v5.6h-5.7zM773.2 97h5.7v5.6h-5.7zM692.4 107.6h5.7v5.6h-5.7zM713.9 107.6h5.7v5.6h-5.7zM552.4 128.9h5.7v5.6h-5.7z"/>
<path fill="#484848" d="M482.5 49.2h5.7v5.6h-5.7zM536.3 49.2h5.7v5.6h-5.7zM541.7 49.2h5.7v5.6h-5.7zM767.8 49.2h5.7v5.6h-5.7zM611.7 59.8h5.7v5.6h-5.7zM611.7 70.5h5.7v5.6h-5.7zM735.5 70.5h5.7v5.6h-5.7zM719.3 75.8h5.7v5.6h-5.7zM590.1 102.3h5.7v5.6h-5.7zM552.4 107.6h5.7v5.6h-5.7zM471.7 112.9h5.7v5.6h-5.7zM493.2 112.9h5.7v5.6h-5.7zM611.7 112.9h5.7v5.6h-5.7zM654.7 112.9h5.7v5.6h-5.7zM735.5 112.9h5.7v5.6h-5.7zM665.5 128.9h5.7v5.6h-5.7z"/>
<path fill="#281818" d="M487.8 49.2h5.7v5.6h-5.7zM574 49.2h5.7v5.6h-5.7zM708.6 49.2h5.7v5.6h-5.7zM654.7 54.5h5.7v5.6h-5.7zM463.3 59.8h8.7v5.6h-8.7zM493.2 59.8h5.7v5.6h-5.7zM557.8 59.8h5.7v5.6h-5.7zM617 59.8h5.7v5.6h-5.7zM649.3 70.5h5.7v5.6h-5.7zM617 81.1h5.7v5.6h-5.7zM617 112.9h5.7v5.6h-5.7zM471.7 123.6h5.7v5.6h-5.7zM463.3 128.9h8.7v5.6h-8.7z"/>
<path fill="#481818" d="M493.2 49.2h5.7v5.6h-5.7zM504 49.2h5.7v5.6h-5.7zM557.8 49.2h5.7v5.6h-5.7zM463.3 54.5h8.7v5.6h-8.7zM595.5 54.5h5.7v5.6h-5.7zM644 54.5h5.7v5.6h-5.7zM757 54.5h5.7v5.6h-5.7zM762.4 54.5h5.7v5.6h-5.7zM520.1 59.8h5.7v5.6h-5.7zM579.4 59.8h5.7v5.6h-5.7zM584.7 59.8h5.7v5.6h-5.7zM638.6 59.8h5.7v5.6h-5.7zM676.3 59.8h5.7v5.6h-5.7zM730.1 59.8h5.7v5.6h-5.7zM463.3 65.2h8.7v5.6h-8.7zM504 65.2h5.7v5.6h-5.7zM547.1 65.2h5.7v5.6h-5.7zM697.8 65.2h5.7v5.6h-5.7zM724.7 65.2h5.7v5.6h-5.7zM751.6 65.2h5.7v5.6h-5.7zM757 65.2h5.7v5.6h-5.7zM783.9 65.2h5.7v5.6h-5.7zM509.4 70.5h5.7v5.6h-5.7zM746.2 70.5h5.7v5.6h-5.7zM757 70.5h5.7v5.6h-5.7zM487.8 75.8h5.7v5.6h-5.7zM563.2 75.8h5.7v5.6h-5.7zM595.5 75.8h5.7v5.6h-5.7zM600.9 75.8h5.7v5.6h-5.7zM660.1 75.8h5.7v5.6h-5.7zM595.5 81.1h5.7v5.6h-5.7zM606.3 81.1h5.7v5.6h-5.7zM504 97h5.7v5.6h-5.7zM514.8 97h5.7v5.6h-5.7zM783.9 97h5.7v5.6h-5.7zM482.5 102.3h5.7v5.6h-5.7zM514.8 102.3h5.7v5.6h-5.7zM622.4 102.3h5.7v5.6h-5.7zM463.3 107.6h8.7v5.6h-8.7zM541.7 107.6h5.7v5.6h-5.7zM622.4 107.6h5.7v5.6h-5.7zM649.3 107.6h5.7v5.6h-5.7zM477.1 112.9h5.7v5.6h-5.7zM525.5 112.9h5.7v5.6h-5.7zM606.3 112.9h5.7v5.6h-5.7zM487.8 118.2h5.7v5.6h-5.7zM557.8 118.2h5.7v5.6h-5.7zM627.8 118.2h5.7v5.6h-5.7zM644 118.2h5.7v5.6h-5.7zM730.1 118.2h5.7v5.6h-5.7zM463.3 123.6h8.7v5.6h-8.7zM487.8 123.6h5.7v5.6h-5.7zM509.4 123.6h5.7v5.6h-5.7zM584.7 123.6h5.7v5.6h-5.7zM590.1 123.6h5.7v5.6h-5.7zM638.6 123.6h5.7v5.6h-5.7zM665.5 123.6h5.7v5.6h-5.7zM773.2 123.6h5.7v5.6h-5.7zM789.3 123.6h8.7v5.6h-8.7zM471.7 128.9h5.7v5.6h-5.7zM487.8 128.9h5.7v5.6h-5.7zM681.6 128.9h5.7v5.6h-5.7zM703.2 128.9h5.7v5.6h-5.7zM713.9 128.9h5.7v5.6h-5.7zM724.7 128.9h5.7v5.6h-5.7z"/>
<path fill="#486868" d="M498.6 49.2h5.7v5.6h-5.7zM509.4 49.2h5.7v5.6h-5.7zM660.1 49.2h5.7v5.6h-5.7zM762.4 49.2h5.7v5.6h-5.7zM547.1 54.5h5.7v5.6h-5.7zM773.2 54.5h5.7v5.6h-5.7zM633.2 81.1h5.7v5.6h-5.7zM703.2 81.1h5.7v5.6h-5.7zM778.5 81.1h5.7v5.6h-5.7zM773.2 91.7h5.7v5.6h-5.7zM579.4 107.6h5.7v5.6h-5.7zM557.8 112.9h5.7v5.6h-5.7zM703.2 112.9h5.7v5.6h-5.7zM520.1 118.2h5.7v5.6h-5.7zM574 118.2h5.7v5.6h-5.7zM654.7 118.2h5.7v5.6h-5.7zM719.3 128.9h5.7v5.6h-5.7z"/>
<path fill="#483848" d="M514.8 49.2h5.7v5.6h-5.7zM541.7 97h5.7v5.6h-5.7zM730.1 112.9h5.7v5.6h-5.7z"/>
<path fill="#487878" d="M520.1 49.2h5.7v5.6h-5.7zM687 49.2h5.7v5.6h-5.7zM713.9 70.5h5.7v5.6h-5.7zM595.5 107.6h5.7v5.6h-5.7z"/>
<path fill="#584848" d="M530.9 49.2h5.7v5.6h-5.7zM789.3 49.2h8.7v5.6h-8.7zM697.8 54.5h5.7v5.6h-5.7zM713.9 59.8h5.7v5.6h-5.7zM493.2 65.2h5.7v5.6h-5.7zM633.2 75.8h5.7v5.6h-5.7zM676.3 75.8h5.7v5.6h-5.7zM660.1 81.1h5.7v5.6h-5.7zM509.4 97h5.7v5.6h-5.7zM627.8 102.3h5.7v5.6h-5.7zM530.9 107.6h5.7v5.6h-5.7zM665.5 107.6h5.7v5.6h-5.7z"/>
<path fill="#685858" d="M547.1 49.2h5.7v5.6h-5.7zM670.9 59.8h5.7v5.6h-5.7zM498.6 65.2h5.7v5.6h-5.7zM541.7 65.2h5.7v5.6h-5.7zM767.8 65.2h5.7v5.6h-5.7zM541.7 70.5h5.7v5.6h-5.7zM633.2 70.5h5.7v5.6h-5.7zM514.8 75.8h5.7v5.6h-5.7zM665.5 81.1h5.7v5.6h-5.7zM697.8 107.6h5.7v5.6h-5.7zM649.3 118.2h5.7v5.6h-5.7zM568.6 123.6h5.7v5.6h-5.7zM681.6 123.6h5.7v5.6h-5.7z"/>
<path fill="#981818" d="M552.4 49.2h5.7v5.6h-5.7zM530.9 81.1h5.7v5.6h-5.7zM552.4 102.3h5.7v5.6h-5.7zM703.2 107.6h5.7v5.6h-5.7z"/>
<path fill="#286868" d="M563.2 49.2h5.7v5.6h-5.7zM735.5 49.2h5.7v5.6h-5.7zM493.2 75.8h5.7v5.6h-5.7zM665.5 75.8h5.7v5.6h-5.7zM751.6 75.8h5.7v5.6h-5.7zM762.4 91.7h5.7v5.6h-5.7zM557.8 102.3h5.7v5.6h-5.7zM563.2 102.3h5.7v5.6h-5.7zM762.4 118.2h5.7v5.6h-5.7zM778.5 123.6h5.7v5.6h-5.7zM676.3 128.9h5.7v5.6h-5.7z"/>
<path fill="#381818" d="M568.6 49.2h5.7v5.6h-5.7zM600.9 49.2h5.7v5.6h-5.7zM778.5 49.2h5.7v5.6h-5.7zM783.9 49.2h5.7v5.6h-5.7zM509.4 54.5h5.7v5.6h-5.7zM525.5 54.5h5.7v5.6h-5.7zM611.7 54.5h5.7v5.6h-5.7zM638.6 54.5h5.7v5.6h-5.7zM649.3 54.5h5.7v5.6h-5.7zM670.9 54.5h5.7v5.6h-5.7zM724.7 54.5h5.7v5.6h-5.7zM767.8 54.5h5.7v5.6h-5.7zM471.7 59.8h5.7v5.6h-5.7zM487.8 59.8h5.7v5.6h-5.7zM509.4 59.8h5.7v5.6h-5.7zM595.5 59.8h5.7v5.6h-5.7zM644 59.8h5.7v5.6h-5.7zM692.4 59.8h5.7v5.6h-5.7zM557.8 65.2h5.7v5.6h-5.7zM563.2 65.2h5.7v5.6h-5.7zM600.9 65.2h5.7v5.6h-5.7zM638.6 65.2h5.7v5.6h-5.7zM730.1 65.2h5.7v5.6h-5.7zM773.2 65.2h5.7v5.6h-5.7zM789.3 65.2h8.7v5.6h-8.7zM482.5 70.5h5.7v5.6h-5.7zM563.2 70.5h5.7v5.6h-5.7zM590.1 70.5h5.7v5.6h-5.7zM595.5 70.5h5.7v5.6h-5.7zM778.5 70.5h5.7v5.6h-5.7zM482.5 75.8h5.7v5.6h-5.7zM498.6 75.8h5.7v5.6h-5.7zM568.6 75.8h5.7v5.6h-5.7zM611.7 75.8h5.7v5.6h-5.7zM627.8 75.8h5.7v5.6h-5.7zM638.6 75.8h5.7v5.6h-5.7zM644 75.8h5.7v5.6h-5.7zM740.9 75.8h5.7v5.6h-5.7zM568.6 81.1h5.7v5.6h-5.7zM590.1 81.1h5.7v5.6h-5.7zM789.3 81.1h8.7v5.6h-8.7zM463.3 102.3h8.7v5.6h-8.7zM536.3 102.3h5.7v5.6h-5.7zM606.3 102.3h5.7v5.6h-5.7zM482.5 107.6h5.7v5.6h-5.7zM574 107.6h5.7v5.6h-5.7zM584.7 107.6h5.7v5.6h-5.7zM617 107.6h5.7v5.6h-5.7zM638.6 107.6h5.7v5.6h-5.7zM697.8 112.9h5.7v5.6h-5.7zM697.8 118.2h5.7v5.6h-5.7zM724.7 118.2h5.7v5.6h-5.7zM482.5 123.6h5.7v5.6h-5.7zM557.8 123.6h5.7v5.6h-5.7zM622.4 123.6h5.7v5.6h-5.7zM692.4 123.6h5.7v5.6h-5.7zM724.7 123.6h5.7v5.6h-5.7zM611.7 128.9h5.7v5.6h-5.7zM687 128.9h5.7v5.6h-5.7zM773.2 128.9h5.7v5.6h-5.7z"/>
<path fill="#480808" d="M579.4 49.2h5.7v5.6h-5.7zM719.3 49.2h5.7v5.6h-5.7zM692.4 54.5h5.7v5.6h-5.7zM644 65.2h5.7v5.6h-5.7zM504 70.5h5.7v5.6h-5.7zM568.6 107.6h5.7v5.6h-5.7zM525.5 118.2h5.7v5.6h-5.7zM493.2 123.6h5.7v5.6h-5.7zM644 123.6h5.7v5.6h-5.7z"/>
<path fill="#285858" d="M584.7 49.2h5.7v5.6h-5.7zM649.3 49.2h5.7v5.6h-5.7zM665.5 49.2h5.7v5.6h-5.7zM563.2 54.5h5.7v5.6h-5.7zM627.8 54.5h5.7v5.6h-5.7zM514.8 59.8h5.7v5.6h-5.7zM482.5 65.2h5.7v5.6h-5.7zM654.7 65.2h5.7v5.6h-5.7zM778.5 65.2h5.7v5.6h-5.7zM649.3 81.1h5.7v5.6h-5.7zM563.2 112.9h5.7v5.6h-5.7zM665.5 112.9h5.7v5.6h-5.7zM509.4 118.2h5.7v5.6h-5.7zM617 123.6h5.7v5.6h-5.7zM574 128.9h5.7v5.6h-5.7z"/>
<path fill="#386868" d="M590.1 49.2h5.7v5.6h-5.7zM627.8 49.2h5.7v5.6h-5.7zM606.3 54.5h5.7v5.6h-5.7zM590.1 59.8h5.7v5.6h-5.7zM627.8 59.8h5.7v5.6h-5.7zM703.2 59.8h5.7v5.6h-5.7zM617 75.8h5.7v5.6h-5.7zM654.7 75.8h5.7v5.6h-5.7zM681.6 75.8h5.7v5.6h-5.7zM703.2 75.8h5.7v5.6h-5.7zM471.7 97h5.7v5.6h-5.7zM735.5 97h5.7v5.6h-5.7zM541.7 102.3h5.7v5.6h-5.7zM520.1 107.6h5.7v5.6h-5.7zM600.9 112.9h5.7v5.6h-5.7zM767.8 118.2h5.7v5.6h-5.7zM525.5 123.6h5.7v5.6h-5.7zM536.3 123.6h5.7v5.6h-5.7zM595.5 123.6h5.7v5.6h-5.7zM740.9 123.6h5.7v5.6h-5.7zM563.2 128.9h5.7v5.6h-5.7zM606.3 128.9h5.7v5.6h-5.7zM617 128.9h5.7v5.6h-5.7z"/>
<path fill="#681818" d="M595.5 49.2h5.7v5.6h-5.7zM730.1 49.2h5.7v5.6h-5.7zM520.1 54.5h5.7v5.6h-5.7zM557.8 54.5h5.7v5.6h-5.7zM687 54.5h5.7v5.6h-5.7zM713.9 54.5h5.7v5.6h-5.7zM477.1 59.8h5.7v5.6h-5.7zM751.6 59.8h5.7v5.6h-5.7zM477.1 65.2h5.7v5.6h-5.7zM611.7 65.2h5.7v5.6h-5.7zM649.3 65.2h5.7v5.6h-5.7zM660.1 65.2h5.7v5.6h-5.7zM665.5 65.2h5.7v5.6h-5.7zM477.1 70.5h5.7v5.6h-5.7zM697.8 70.5h5.7v5.6h-5.7zM730.1 70.5h5.7v5.6h-5.7zM740.9 70.5h5.7v5.6h-5.7zM762.4 70.5h5.7v5.6h-5.7zM471.7 75.8h5.7v5.6h-5.7zM536.3 75.8h5.7v5.6h-5.7zM622.4 75.8h5.7v5.6h-5.7zM649.3 75.8h5.7v5.6h-5.7zM670.9 75.8h5.7v5.6h-5.7zM557.8 97h5.7v5.6h-5.7zM574 97h5.7v5.6h-5.7zM708.6 97h5.7v5.6h-5.7zM767.8 97h5.7v5.6h-5.7zM579.4 102.3h5.7v5.6h-5.7zM477.1 107.6h5.7v5.6h-5.7zM498.6 107.6h5.7v5.6h-5.7zM536.3 107.6h5.7v5.6h-5.7zM541.7 112.9h5.7v5.6h-5.7zM649.3 112.9h5.7v5.6h-5.7zM724.7 112.9h5.7v5.6h-5.7zM746.2 112.9h5.7v5.6h-5.7zM552.4 118.2h5.7v5.6h-5.7zM590.1 118.2h5.7v5.6h-5.7zM708.6 118.2h5.7v5.6h-5.7zM751.6 118.2h5.7v5.6h-5.7zM606.3 123.6h5.7v5.6h-5.7zM477.1 128.9h5.7v5.6h-5.7zM568.6 128.9h5.7v5.6h-5.7zM692.4 128.9h5.7v5.6h-5.7z"/>
<path fill="#284848" d="M606.3 49.2h5.7v5.6h-5.7zM644 49.2h5.7v5.6h-5.7zM676.3 49.2h5.7v5.6h-5.7zM579.4 65.2h5.7v5.6h-5.7zM514.8 70.5h5.7v5.6h-5.7zM762.4 75.8h5.7v5.6h-5.7zM783.9 75.8h5.7v5.6h-5.7zM654.7 81.1h5.7v5.6h-5.7zM514.8 107.6h5.7v5.6h-5.7zM600.9 107.6h5.7v5.6h-5.7zM633.2 112.9h5.7v5.6h-5.7zM670.9 112.9h5.7v5.6h-5.7zM563.2 118.2h5.7v5.6h-5.7zM676.3 118.2h5.7v5.6h-5.7zM541.7 123.6h5.7v5.6h-5.7zM740.9 128.9h5.7v5.6h-5.7z"/>
<path fill="#485858" d="M611.7 49.2h5.7v5.6h-5.7zM579.4 54.5h5.7v5.6h-5.7zM471.7 65.2h5.7v5.6h-5.7zM557.8 75.8h5.7v5.6h-5.7zM778.5 75.8h5.7v5.6h-5.7zM536.3 81.1h5.7v5.6h-5.7zM627.8 86.4h5.7v5.6h-5.7zM719.3 91.7h5.7v5.6h-5.7zM751.6 91.7h5.7v5.6h-5.7zM778.5 118.2h5.7v5.6h-5.7zM644 128.9h5.7v5.6h-5.7z"/>
<path fill="#283838" d="M617 49.2h5.7v5.6h-5.7zM687 81.1h5.7v5.6h-5.7zM708.6 81.1h5.7v5.6h-5.7zM740.9 91.7h5.7v5.6h-5.7z"/>
<path fill="#783838" d="M622.4 49.2h5.7v5.6h-5.7zM660.1 91.7h5.7v5.6h-5.7zM713.9 91.7h5.7v5.6h-5.7zM498.6 97h5.7v5.6h-5.7zM762.4 97h5.7v5.6h-5.7zM471.7 107.6h5.7v5.6h-5.7zM762.4 123.6h5.7v5.6h-5.7z"/>
<path fill="#384858" d="M633.2 49.2h5.7v5.6h-5.7zM681.6 54.5h5.7v5.6h-5.7zM767.8 59.8h5.7v5.6h-5.7zM638.6 112.9h5.7v5.6h-5.7zM713.9 118.2h5.7v5.6h-5.7z"/>
<path fill="#684848" d="M654.7 49.2h5.7v5.6h-5.7zM514.8 54.5h5.7v5.6h-5.7zM622.4 54.5h5.7v5.6h-5.7zM708.6 59.8h5.7v5.6h-5.7zM520.1 70.5h5.7v5.6h-5.7zM627.8 70.5h5.7v5.6h-5.7zM644 70.5h5.7v5.6h-5.7zM767.8 70.5h5.7v5.6h-5.7zM735.5 91.7h5.7v5.6h-5.7zM482.5 97h5.7v5.6h-5.7zM665.5 97h5.7v5.6h-5.7zM746.2 97h5.7v5.6h-5.7zM574 112.9h5.7v5.6h-5.7zM514.8 118.2h5.7v5.6h-5.7zM563.2 123.6h5.7v5.6h-5.7zM708.6 128.9h5.7v5.6h-5.7z"/>
<path fill="#384848" d="M681.6 49.2h5.7v5.6h-5.7zM730.1 54.5h5.7v5.6h-5.7zM703.2 65.2h5.7v5.6h-5.7zM579.4 70.5h5.7v5.6h-5.7zM463.3 75.8h8.7v5.6h-8.7zM740.9 81.1h5.7v5.6h-5.7zM746.2 91.7h5.7v5.6h-5.7zM493.2 107.6h5.7v5.6h-5.7zM525.5 107.6h5.7v5.6h-5.7zM520.1 112.9h5.7v5.6h-5.7zM762.4 112.9h5.7v5.6h-5.7zM622.4 118.2h5.7v5.6h-5.7zM633.2 118.2h5.7v5.6h-5.7zM654.7 123.6h5.7v5.6h-5.7zM541.7 128.9h5.7v5.6h-5.7zM590.1 128.9h5.7v5.6h-5.7z"/>
<path fill="#782828" d="M697.8 49.2h5.7v5.6h-5.7zM471.7 70.5h5.7v5.6h-5.7zM687 75.8h5.7v5.6h-5.7zM547.1 81.1h5.7v5.6h-5.7zM670.9 81.1h5.7v5.6h-5.7zM757 81.1h5.7v5.6h-5.7zM477.1 97h5.7v5.6h-5.7zM670.9 97h5.7v5.6h-5.7zM692.4 97h5.7v5.6h-5.7zM633.2 102.3h5.7v5.6h-5.7zM660.1 112.9h5.7v5.6h-5.7zM681.6 112.9h5.7v5.6h-5.7zM687 112.9h5.7v5.6h-5.7zM783.9 112.9h5.7v5.6h-5.7zM697.8 123.6h5.7v5.6h-5.7zM757 123.6h5.7v5.6h-5.7zM600.9 128.9h5.7v5.6h-5.7z"/>
<path fill="#385858" d="M703.2 49.2h5.7v5.6h-5.7zM730.1 75.8h5.7v5.6h-5.7zM724.7 81.1h5.7v5.6h-5.7zM692.4 91.7h5.7v5.6h-5.7zM719.3 97h5.7v5.6h-5.7zM509.4 107.6h5.7v5.6h-5.7zM595.5 112.9h5.7v5.6h-5.7zM471.7 118.2h5.7v5.6h-5.7zM611.7 118.2h5.7v5.6h-5.7zM670.9 118.2h5.7v5.6h-5.7zM703.2 118.2h5.7v5.6h-5.7zM757 118.2h5.7v5.6h-5.7zM703.2 123.6h5.7v5.6h-5.7zM757 128.9h5.7v5.6h-5.7zM778.5 128.9h5.7v5.6h-5.7z"/>
<path fill="#683838" d="M713.9 49.2h5.7v5.6h-5.7zM746.2 49.2h5.7v5.6h-5.7zM525.5 59.8h5.7v5.6h-5.7zM719.3 65.2h5.7v5.6h-5.7zM622.4 70.5h5.7v5.6h-5.7zM579.4 81.1h5.7v5.6h-5.7zM735.5 81.1h5.7v5.6h-5.7zM654.7 91.7h5.7v5.6h-5.7zM584.7 102.3h5.7v5.6h-5.7zM482.5 118.2h5.7v5.6h-5.7zM730.1 123.6h5.7v5.6h-5.7zM735.5 123.6h5.7v5.6h-5.7zM547.1 128.9h5.7v5.6h-5.7zM735.5 128.9h5.7v5.6h-5.7z"/>
<path fill="#583848" d="M724.7 49.2h5.7v5.6h-5.7z"/>
<path fill="#284858" d="M740.9 49.2h5.7v5.6h-5.7zM536.3 54.5h5.7v5.6h-5.7zM509.4 112.9h5.7v5.6h-5.7zM627.8 112.9h5.7v5.6h-5.7zM708.6 112.9h5.7v5.6h-5.7zM584.7 128.9h5.7v5.6h-5.7zM649.3 128.9h5.7v5.6h-5.7z"/>
<path fill="#482828" d="M751.6 49.2h5.7v5.6h-5.7zM757 49.2h5.7v5.6h-5.7zM590.1 54.5h5.7v5.6h-5.7zM708.6 54.5h5.7v5.6h-5.7zM530.9 59.8h5.7v5.6h-5.7zM541.7 59.8h5.7v5.6h-5.7zM563.2 59.8h5.7v5.6h-5.7zM740.9 59.8h5.7v5.6h-5.7zM762.4 59.8h5.7v5.6h-5.7zM773.2 59.8h5.7v5.6h-5.7zM584.7 65.2h5.7v5.6h-5.7zM633.2 65.2h5.7v5.6h-5.7zM713.9 65.2h5.7v5.6h-5.7zM536.3 70.5h5.7v5.6h-5.7zM606.3 70.5h5.7v5.6h-5.7zM762.4 81.1h5.7v5.6h-5.7zM617 86.4h5.7v5.6h-5.7zM633.2 86.4h5.7v5.6h-5.7zM649.3 91.7h5.7v5.6h-5.7zM730.1 91.7h5.7v5.6h-5.7zM767.8 91.7h5.7v5.6h-5.7zM509.4 102.3h5.7v5.6h-5.7zM547.1 107.6h5.7v5.6h-5.7zM606.3 107.6h5.7v5.6h-5.7zM611.7 107.6h5.7v5.6h-5.7zM482.5 112.9h5.7v5.6h-5.7zM719.3 112.9h5.7v5.6h-5.7zM541.7 118.2h5.7v5.6h-5.7zM681.6 118.2h5.7v5.6h-5.7zM740.9 118.2h5.7v5.6h-5.7zM530.9 123.6h5.7v5.6h-5.7zM633.2 123.6h5.7v5.6h-5.7zM536.3 128.9h5.7v5.6h-5.7z"/>
<path fill="#586868" d="M773.2 49.2h5.7v5.6h-5.7zM600.9 81.1h5.7v5.6h-5.7zM463.3 91.7h8.7v5.6h-8.7zM724.7 97h5.7v5.6h-5.7zM767.8 112.9h5.7v5.6h-5.7zM713.9 123.6h5.7v5.6h-5.7z"/>
<path fill="#580808" d="M471.7 54.5h5.7v5.6h-5.7zM536.3 59.8h5.7v5.6h-5.7zM746.2 59.8h5.7v5.6h-5.7zM487.8 65.2h5.7v5.6h-5.7zM762.4 65.2h5.7v5.6h-5.7zM552.4 70.5h5.7v5.6h-5.7zM600.9 102.3h5.7v5.6h-5.7zM687 118.2h5.7v5.6h-5.7z"/>
<path fill="#785858" d="M477.1 54.5h5.7v5.6h-5.7zM783.9 54.5h5.7v5.6h-5.7zM654.7 59.8h5.7v5.6h-5.7zM735.5 59.8h5.7v5.6h-5.7zM463.3 70.5h8.7v5.6h-8.7zM751.6 70.5h5.7v5.6h-5.7zM520.1 75.8h5.7v5.6h-5.7zM767.8 75.8h5.7v5.6h-5.7zM498.6 91.7h5.7v5.6h-5.7zM487.8 112.9h5.7v5.6h-5.7zM751.6 123.6h5.7v5.6h-5.7zM525.5 128.9h5.7v5.6h-5.7z"/>
<path fill="#382828" d="M482.5 54.5h5.7v5.6h-5.7zM719.3 54.5h5.7v5.6h-5.7zM719.3 59.8h5.7v5.6h-5.7zM590.1 65.2h5.7v5.6h-5.7zM606.3 65.2h5.7v5.6h-5.7zM584.7 81.1h5.7v5.6h-5.7zM638.6 91.7h5.7v5.6h-5.7zM644 91.7h5.7v5.6h-5.7zM665.5 91.7h5.7v5.6h-5.7zM724.7 91.7h5.7v5.6h-5.7zM730.1 97h5.7v5.6h-5.7zM504 102.3h5.7v5.6h-5.7zM773.2 118.2h5.7v5.6h-5.7zM633.2 128.9h5.7v5.6h-5.7z"/>
<path fill="#881818" d="M504 54.5h5.7v5.6h-5.7zM660.1 59.8h5.7v5.6h-5.7zM611.7 86.4h5.7v5.6h-5.7zM477.1 91.7h5.7v5.6h-5.7zM552.4 97h5.7v5.6h-5.7zM654.7 107.6h5.7v5.6h-5.7zM504 118.2h5.7v5.6h-5.7zM660.1 118.2h5.7v5.6h-5.7zM767.8 123.6h5.7v5.6h-5.7z"/>
<path fill="#780808" d="M530.9 54.5h5.7v5.6h-5.7zM697.8 59.8h5.7v5.6h-5.7zM724.7 70.5h5.7v5.6h-5.7zM773.2 75.8h5.7v5.6h-5.7z"/>
<path fill="#387878" d="M552.4 54.5h5.7v5.6h-5.7zM606.3 59.8h5.7v5.6h-5.7zM509.4 65.2h5.7v5.6h-5.7zM477.1 118.2h5.7v5.6h-5.7zM595.5 118.2h5.7v5.6h-5.7zM783.9 123.6h5.7v5.6h-5.7z"/>
<path fill="#282828" d="M568.6 54.5h5.7v5.6h-5.7zM568.6 59.8h5.7v5.6h-5.7zM617 65.2h5.7v5.6h-5.7zM676.3 65.2h5.7v5.6h-5.7zM617 70.5h5.7v5.6h-5.7zM514.8 112.9h5.7v5.6h-5.7zM627.8 123.6h5.7v5.6h-5.7zM708.6 123.6h5.7v5.6h-5.7zM482.5 128.9h5.7v5.6h-5.7z"/>
<path fill="#582828" d="M584.7 54.5h5.7v5.6h-5.7zM665.5 54.5h5.7v5.6h-5.7zM740.9 54.5h5.7v5.6h-5.7zM778.5 54.5h5.7v5.6h-5.7zM649.3 59.8h5.7v5.6h-5.7zM681.6 59.8h5.7v5.6h-5.7zM783.9 59.8h5.7v5.6h-5.7zM514.8 65.2h5.7v5.6h-5.7zM740.9 65.2h5.7v5.6h-5.7zM493.2 70.5h5.7v5.6h-5.7zM568.6 70.5h5.7v5.6h-5.7zM681.6 70.5h5.7v5.6h-5.7zM719.3 70.5h5.7v5.6h-5.7zM773.2 70.5h5.7v5.6h-5.7zM783.9 70.5h5.7v5.6h-5.7zM547.1 75.8h5.7v5.6h-5.7zM590.1 75.8h5.7v5.6h-5.7zM708.6 75.8h5.7v5.6h-5.7zM724.7 75.8h5.7v5.6h-5.7zM719.3 81.1h5.7v5.6h-5.7zM751.6 81.1h5.7v5.6h-5.7zM703.2 91.7h5.7v5.6h-5.7zM536.3 97h5.7v5.6h-5.7zM757 97h5.7v5.6h-5.7zM487.8 107.6h5.7v5.6h-5.7zM773.2 112.9h5.7v5.6h-5.7zM536.3 118.2h5.7v5.6h-5.7zM735.5 118.2h5.7v5.6h-5.7zM638.6 128.9h5.7v5.6h-5.7z"/>
<path fill="#984848" d="M600.9 54.5h5.7v5.6h-5.7zM600.9 59.8h5.7v5.6h-5.7zM730.1 102.3h5.7v5.6h-5.7zM767.8 128.9h5.7v5.6h-5.7z"/>
<path fill="#286878" d="M617 54.5h5.7v5.6h-5.7zM751.6 112.9h5.7v5.6h-5.7zM477.1 123.6h5.7v5.6h-5.7z"/>
<path fill="#784848" d="M633.2 54.5h5.7v5.6h-5.7zM498.6 59.8h5.7v5.6h-5.7zM552.4 59.8h5.7v5.6h-5.7zM633.2 59.8h5.7v5.6h-5.7zM574 65.2h5.7v5.6h-5.7zM509.4 75.8h5.7v5.6h-5.7zM767.8 81.1h5.7v5.6h-5.7zM600.9 86.4h5.7v5.6h-5.7zM697.8 91.7h5.7v5.6h-5.7zM498.6 102.3h5.7v5.6h-5.7zM568.6 102.3h5.7v5.6h-5.7zM493.2 118.2h5.7v5.6h-5.7zM498.6 118.2h5.7v5.6h-5.7zM530.9 118.2h5.7v5.6h-5.7zM584.7 118.2h5.7v5.6h-5.7zM730.1 128.9h5.7v5.6h-5.7zM751.6 128.9h5.7v5.6h-5.7zM783.9 128.9h5.7v5.6h-5.7z"/>
<path fill="#583838" d="M676.3 54.5h5.7v5.6h-5.7zM487.8 97h5.7v5.6h-5.7zM590.1 107.6h5.7v5.6h-5.7zM649.3 123.6h5.7v5.6h-5.7z"/>
<path fill="#781818" d="M746.2 54.5h5.7v5.6h-5.7zM789.3 59.8h8.7v5.6h-8.7zM520.1 65.2h5.7v5.6h-5.7zM735.5 65.2h5.7v5.6h-5.7zM746.2 65.2h5.7v5.6h-5.7zM600.9 70.5h5.7v5.6h-5.7zM654.7 70.5h5.7v5.6h-5.7zM687 70.5h5.7v5.6h-5.7zM789.3 70.5h8.7v5.6h-8.7zM735.5 75.8h5.7v5.6h-5.7zM487.8 91.7h5.7v5.6h-5.7zM547.1 97h5.7v5.6h-5.7zM703.2 97h5.7v5.6h-5.7zM740.9 97h5.7v5.6h-5.7zM477.1 102.3h5.7v5.6h-5.7zM525.5 102.3h5.7v5.6h-5.7zM789.3 102.3h8.7v5.6h-8.7zM676.3 107.6h5.7v5.6h-5.7zM708.6 107.6h5.7v5.6h-5.7zM746.2 107.6h5.7v5.6h-5.7zM536.3 112.9h5.7v5.6h-5.7zM713.9 112.9h5.7v5.6h-5.7zM740.9 112.9h5.7v5.6h-5.7zM606.3 118.2h5.7v5.6h-5.7zM520.1 123.6h5.7v5.6h-5.7zM654.7 128.9h5.7v5.6h-5.7zM660.1 128.9h5.7v5.6h-5.7z"/>
<path fill="#385868" d="M751.6 54.5h5.7v5.6h-5.7zM584.7 75.8h5.7v5.6h-5.7zM617 102.3h5.7v5.6h-5.7zM579.4 118.2h5.7v5.6h-5.7zM600.9 118.2h5.7v5.6h-5.7z"/>
<path fill="#680808" d="M482.5 59.8h5.7v5.6h-5.7zM574 59.8h5.7v5.6h-5.7zM568.6 65.2h5.7v5.6h-5.7zM692.4 65.2h5.7v5.6h-5.7zM498.6 112.9h5.7v5.6h-5.7zM547.1 123.6h5.7v5.6h-5.7zM611.7 123.6h5.7v5.6h-5.7zM498.6 128.9h5.7v5.6h-5.7zM622.4 128.9h5.7v5.6h-5.7z"/>
<path fill="#283848" d="M547.1 59.8h5.7v5.6h-5.7z"/>
<path fill="#585868" d="M622.4 59.8h5.7v5.6h-5.7z"/>
<path fill="#380808" d="M687 59.8h5.7v5.6h-5.7zM520.1 102.3h5.7v5.6h-5.7zM579.4 112.9h5.7v5.6h-5.7zM504 128.9h5.7v5.6h-5.7zM595.5 128.9h5.7v5.6h-5.7zM762.4 128.9h5.7v5.6h-5.7z"/>
<path fill="#485868" d="M724.7 59.8h5.7v5.6h-5.7zM579.4 75.8h5.7v5.6h-5.7zM644 107.6h5.7v5.6h-5.7zM498.6 123.6h5.7v5.6h-5.7zM670.9 123.6h5.7v5.6h-5.7z"/>
<path fill="#885858" d="M525.5 65.2h5.7v5.6h-5.7zM525.5 70.5h5.7v5.6h-5.7zM574 75.8h5.7v5.6h-5.7zM757 75.8h5.7v5.6h-5.7zM773.2 81.1h5.7v5.6h-5.7zM504 91.7h5.7v5.6h-5.7zM681.6 97h5.7v5.6h-5.7zM789.3 118.2h8.7v5.6h-8.7zM520.1 128.9h5.7v5.6h-5.7z"/>
<path fill="#a83838" d="M530.9 65.2h5.7v5.6h-5.7z"/>
<path fill="#682828" d="M536.3 65.2h5.7v5.6h-5.7zM595.5 65.2h5.7v5.6h-5.7zM498.6 70.5h5.7v5.6h-5.7zM557.8 70.5h5.7v5.6h-5.7zM692.4 70.5h5.7v5.6h-5.7zM789.3 75.8h8.7v5.6h-8.7zM557.8 81.1h5.7v5.6h-5.7zM676.3 91.7h5.7v5.6h-5.7zM525.5 97h5.7v5.6h-5.7zM778.5 97h5.7v5.6h-5.7zM547.1 102.3h5.7v5.6h-5.7zM547.1 112.9h5.7v5.6h-5.7zM568.6 112.9h5.7v5.6h-5.7zM665.5 118.2h5.7v5.6h-5.7zM557.8 128.9h5.7v5.6h-5.7zM670.9 128.9h5.7v5.6h-5.7z"/>
<path fill="#880808" d="M552.4 65.2h5.7v5.6h-5.7zM660.1 123.6h5.7v5.6h-5.7z"/>
<path fill="#484858" d="M622.4 65.2h5.7v5.6h-5.7zM644 112.9h5.7v5.6h-5.7z"/>
<path fill="#383848" d="M487.8 70.5h5.7v5.6h-5.7zM584.7 112.9h5.7v5.6h-5.7z"/>
<path fill="#883838" d="M530.9 70.5h5.7v5.6h-5.7zM471.7 102.3h5.7v5.6h-5.7z"/>
<path fill="#585858" d="M574 70.5h5.7v5.6h-5.7zM703.2 70.5h5.7v5.6h-5.7zM477.1 75.8h5.7v5.6h-5.7zM541.7 81.1h5.7v5.6h-5.7zM644 81.1h5.7v5.6h-5.7zM579.4 97h5.7v5.6h-5.7zM563.2 107.6h5.7v5.6h-5.7zM622.4 112.9h5.7v5.6h-5.7zM504 123.6h5.7v5.6h-5.7zM579.4 123.6h5.7v5.6h-5.7zM600.9 123.6h5.7v5.6h-5.7zM746.2 123.6h5.7v5.6h-5.7z"/>
<path fill="#882828" d="M504 75.8h5.7v5.6h-5.7zM530.9 75.8h5.7v5.6h-5.7zM493.2 91.7h5.7v5.6h-5.7zM595.5 97h5.7v5.6h-5.7zM611.7 102.3h5.7v5.6h-5.7z"/>
<path fill="#985858" d="M606.3 75.8h5.7v5.6h-5.7zM520.1 81.1h5.7v5.6h-5.7zM649.3 97h5.7v5.6h-5.7zM530.9 102.3h5.7v5.6h-5.7z"/>
<path fill="#d8f8f8" d="M463.3 81.1h8.7v5.6h-8.7z"/>
<path fill="#888888" d="M471.7 81.1h5.7v5.6h-5.7zM504 81.1h5.7v5.6h-5.7z"/>
<path fill="#f8f8f8" d="M477.1 81.1h5.7v5.6h-5.7zM520.1 86.4h5.7v5.6h-5.7zM525.5 86.4h5.7v5.6h-5.7zM530.9 86.4h5.7v5.6h-5.7zM547.1 86.4h5.7v5.6h-5.7zM552.4 86.4h5.7v5.6h-5.7zM557.8 86.4h5.7v5.6h-5.7zM584.7 91.7h5.7v5.6h-5.7zM595.5 91.7h5.7v5.6h-5.7zM600.9 91.7h5.7v5.6h-5.7zM622.4 91.7h5.7v5.6h-5.7zM627.8 91.7h5.7v5.6h-5.7z"/>
<path fill="#b88878" d="M482.5 81.1h5.7v5.6h-5.7z"/>
<path fill="#989888" d="M487.8 81.1h5.7v5.6h-5.7z"/>
<path fill="#c87878" d="M493.2 81.1h5.7v5.6h-5.7z"/>
<path fill="#a89898" d="M498.6 81.1h5.7v5.6h-5.7z"/>
<path fill="#88a8b8" d="M509.4 81.1h5.7v5.6h-5.7z"/>
<path fill="#887878" d="M514.8 81.1h5.7v5.6h-5.7z"/>
<path fill="#588888" d="M525.5 81.1h5.7v5.6h-5.7z"/>
<path fill="#982828" d="M552.4 81.1h5.7v5.6h-5.7zM660.1 97h5.7v5.6h-5.7zM778.5 102.3h5.7v5.6h-5.7zM670.9 107.6h5.7v5.6h-5.7zM687 107.6h5.7v5.6h-5.7z"/>
<path fill="#285868" d="M622.4 81.1h5.7v5.6h-5.7z"/>
<path fill="#289898" d="M638.6 81.1h5.7v5.6h-5.7zM692.4 81.1h5.7v5.6h-5.7z"/>
<path fill="#186868" d="M676.3 81.1h5.7v5.6h-5.7zM676.3 112.9h5.7v5.6h-5.7zM509.4 128.9h5.7v5.6h-5.7z"/>
<path fill="#483838" d="M681.6 81.1h5.7v5.6h-5.7zM463.3 97h8.7v5.6h-8.7z"/>
<path fill="#789898" d="M697.8 81.1h5.7v5.6h-5.7z"/>
<path fill="#488888" d="M713.9 81.1h5.7v5.6h-5.7z"/>
<path fill="#388888" d="M730.1 81.1h5.7v5.6h-5.7z"/>
<path fill="#386878" d="M746.2 81.1h5.7v5.6h-5.7zM746.2 118.2h5.7v5.6h-5.7z"/>
<path fill="#e87878" d="M463.3 86.4h8.7v5.6h-8.7z"/>
<path fill="#f8b8b8" d="M471.7 86.4h5.7v5.6h-5.7zM482.5 86.4h5.7v5.6h-5.7zM493.2 86.4h5.7v5.6h-5.7zM563.2 86.4h5.7v5.6h-5.7zM590.1 91.7h5.7v5.6h-5.7z"/>
<path fill="#f88888" d="M477.1 86.4h5.7v5.6h-5.7zM530.9 91.7h5.7v5.6h-5.7z"/>
<path fill="#f89898" d="M487.8 86.4h5.7v5.6h-5.7zM611.7 97h5.7v5.6h-5.7z"/>
<path fill="#f8d8c8" d="M498.6 86.4h5.7v5.6h-5.7z"/>
<path fill="#f8c8c8" d="M504 86.4h5.7v5.6h-5.7zM541.7 86.4h5.7v5.6h-5.7zM606.3 91.7h5.7v5.6h-5.7z"/>
<path fill="#f8d8d8" d="M509.4 86.4h5.7v5.6h-5.7zM536.3 86.4h5.7v5.6h-5.7zM617 91.7h5.7v5.6h-5.7zM633.2 91.7h5.7v5.6h-5.7z"/>
<path fill="#f8e8e8" d="M514.8 86.4h5.7v5.6h-5.7zM611.7 91.7h5.7v5.6h-5.7z"/>
<path fill="#987878" d="M568.6 86.4h5.7v5.6h-5.7z"/>
<path fill="#d8b8b8" d="M574 86.4h5.7v5.6h-5.7z"/>
<path fill="#e8e8d8" d="M579.4 86.4h5.7v5.6h-5.7z"/>
<path fill="#a87878" d="M584.7 86.4h5.7v5.6h-5.7z"/>
<path fill="#98d8d8" d="M590.1 86.4h5.7v5.6h-5.7z"/>
<path fill="#b89898" d="M595.5 86.4h5.7v5.6h-5.7z"/>
<path fill="#f8a8a8" d="M606.3 86.4h5.7v5.6h-5.7zM552.4 91.7h5.7v5.6h-5.7zM568.6 91.7h5.7v5.6h-5.7z"/>
<path fill="#587878" d="M622.4 86.4h5.7v5.6h-5.7zM789.3 91.7h8.7v5.6h-8.7zM530.9 128.9h5.7v5.6h-5.7z"/>
<path fill="#08e8e8" d="M638.6 86.4h5.7v5.6h-5.7zM778.5 86.4h5.7v5.6h-5.7z"/>
<path fill="#48c8c8" d="M644 86.4h5.7v5.6h-5.7zM665.5 86.4h5.7v5.6h-5.7z"/>
<path fill="#08c8d8" d="M649.3 86.4h5.7v5.6h-5.7zM654.7 86.4h5.7v5.6h-5.7z"/>
<path fill="#38e8f8" d="M660.1 86.4h5.7v5.6h-5.7zM670.9 86.4h5.7v5.6h-5.7z"/>
<path fill="#28d8d8" d="M676.3 86.4h5.7v5.6h-5.7z"/>
<path fill="#28b8b8" d="M681.6 86.4h5.7v5.6h-5.7z"/>
<path fill="#18e8e8" d="M687 86.4h5.7v5.6h-5.7z"/>
<path fill="#58f8f8" d="M692.4 86.4h5.7v5.6h-5.7z"/>
<path fill="#189898" d="M697.8 86.4h5.7v5.6h-5.7z"/>
<path fill="#38a8b8" d="M703.2 86.4h5.7v5.6h-5.7z"/>
<path fill="#08f8f8" d="M708.6 86.4h5.7v5.6h-5.7zM730.1 86.4h5.7v5.6h-5.7z"/>
<path fill="#28c8d8" d="M713.9 86.4h5.7v5.6h-5.7zM724.7 86.4h5.7v5.6h-5.7z"/>
<path fill="#38e8e8" d="M719.3 86.4h5.7v5.6h-5.7z"/>
<path fill="#78f8f8" d="M735.5 86.4h5.7v5.6h-5.7z"/>
<path fill="#48d8e8" d="M740.9 86.4h5.7v5.6h-5.7zM789.3 86.4h8.7v5.6h-8.7z"/>
<path fill="#68d8d8" d="M746.2 86.4h5.7v5.6h-5.7z"/>
<path fill="#28f8f8" d="M751.6 86.4h5.7v5.6h-5.7z"/>
<path fill="#58a8a8" d="M757 86.4h5.7v5.6h-5.7z"/>
<path fill="#48a8a8" d="M762.4 86.4h5.7v5.6h-5.7z"/>
<path fill="#48f8f8" d="M767.8 86.4h5.7v5.6h-5.7z"/>
<path fill="#48c8d8" d="M773.2 86.4h5.7v5.6h-5.7z"/>
<path fill="#288888" d="M783.9 86.4h5.7v5.6h-5.7z"/>
<path fill="#686868" d="M471.7 91.7h5.7v5.6h-5.7zM482.5 91.7h5.7v5.6h-5.7zM590.1 97h5.7v5.6h-5.7z"/>
<path fill="#886868" d="M509.4 91.7h5.7v5.6h-5.7zM730.1 107.6h5.7v5.6h-5.7z"/>
<path fill="#a81818" d="M520.1 91.7h5.7v5.6h-5.7zM644 97h5.7v5.6h-5.7zM773.2 102.3h5.7v5.6h-5.7z"/>
<path fill="#c83838" d="M525.5 91.7h5.7v5.6h-5.7z"/>
<path fill="#f84848" d="M536.3 91.7h5.7v5.6h-5.7zM773.2 107.6h5.7v5.6h-5.7zM778.5 107.6h5.7v5.6h-5.7z"/>
<path fill="#f86868" d="M541.7 91.7h5.7v5.6h-5.7zM574 91.7h5.7v5.6h-5.7zM633.2 97h5.7v5.6h-5.7z"/>
<path fill="#f85858" d="M547.1 91.7h5.7v5.6h-5.7zM557.8 91.7h5.7v5.6h-5.7zM617 97h5.7v5.6h-5.7zM789.3 107.6h8.7v5.6h-8.7z"/>
<path fill="#f87878" d="M563.2 91.7h5.7v5.6h-5.7zM579.4 91.7h5.7v5.6h-5.7z"/>
<path fill="#383838" d="M670.9 91.7h5.7v5.6h-5.7zM681.6 91.7h5.7v5.6h-5.7zM687 91.7h5.7v5.6h-5.7z"/>
<path fill="#186878" d="M708.6 91.7h5.7v5.6h-5.7z"/>
<path fill="#589898" d="M757 91.7h5.7v5.6h-5.7z"/>
<path fill="#788888" d="M778.5 91.7h5.7v5.6h-5.7z"/>
<path fill="#388898" d="M783.9 91.7h5.7v5.6h-5.7z"/>
<path fill="#486878" d="M563.2 97h5.7v5.6h-5.7zM530.9 112.9h5.7v5.6h-5.7z"/>
<path fill="#687878" d="M568.6 97h5.7v5.6h-5.7z"/>
<path fill="#a82828" d="M584.7 97h5.7v5.6h-5.7zM735.5 102.3h5.7v5.6h-5.7z"/>
<path fill="#b82828" d="M600.9 97h5.7v5.6h-5.7zM638.6 97h5.7v5.6h-5.7zM676.3 97h5.7v5.6h-5.7zM697.8 97h5.7v5.6h-5.7zM676.3 102.3h5.7v5.6h-5.7zM713.9 102.3h5.7v5.6h-5.7zM762.4 102.3h5.7v5.6h-5.7z"/>
<path fill="#c84848" d="M606.3 97h5.7v5.6h-5.7zM692.4 102.3h5.7v5.6h-5.7z"/>
<path fill="#a85858" d="M622.4 97h5.7v5.6h-5.7zM687 97h5.7v5.6h-5.7zM681.6 107.6h5.7v5.6h-5.7z"/>
<path fill="#b83838" d="M627.8 97h5.7v5.6h-5.7z"/>
<path fill="#c85858" d="M654.7 97h5.7v5.6h-5.7zM757 102.3h5.7v5.6h-5.7zM767.8 107.6h5.7v5.6h-5.7z"/>
<path fill="#184848" d="M487.8 102.3h5.7v5.6h-5.7z"/>
<path fill="#b81818" d="M638.6 102.3h5.7v5.6h-5.7zM660.1 107.6h5.7v5.6h-5.7z"/>
<path fill="#d81818" d="M644 102.3h5.7v5.6h-5.7zM751.6 107.6h5.7v5.6h-5.7zM757 107.6h5.7v5.6h-5.7z"/>
<path fill="#c84858" d="M649.3 102.3h5.7v5.6h-5.7z"/>
<path fill="#f82828" d="M654.7 102.3h5.7v5.6h-5.7zM708.6 102.3h5.7v5.6h-5.7zM746.2 102.3h5.7v5.6h-5.7z"/>
<path fill="#f81818" d="M660.1 102.3h5.7v5.6h-5.7zM670.9 102.3h5.7v5.6h-5.7zM687 102.3h5.7v5.6h-5.7zM697.8 102.3h5.7v5.6h-5.7zM724.7 102.3h5.7v5.6h-5.7zM762.4 107.6h5.7v5.6h-5.7zM783.9 107.6h5.7v5.6h-5.7z"/>
<path fill="#d82828" d="M665.5 102.3h5.7v5.6h-5.7zM740.9 102.3h5.7v5.6h-5.7z"/>
<path fill="#c86868" d="M681.6 102.3h5.7v5.6h-5.7z"/>
<path fill="#c82828" d="M703.2 102.3h5.7v5.6h-5.7zM735.5 107.6h5.7v5.6h-5.7z"/>
<path fill="#b84848" d="M719.3 102.3h5.7v5.6h-5.7zM724.7 107.6h5.7v5.6h-5.7z"/>
<path fill="#e81818" d="M751.6 102.3h5.7v5.6h-5.7zM767.8 102.3h5.7v5.6h-5.7z"/>
<path fill="#983838" d="M504 107.6h5.7v5.6h-5.7z"/>
<path fill="#986868" d="M719.3 107.6h5.7v5.6h-5.7z"/>
<path fill="#d85858" d="M740.9 107.6h5.7v5.6h-5.7z"/>
<path fill="#185858" d="M463.3 112.9h8.7v5.6h-8.7z"/>
<path fill="#586878" d="M552.4 112.9h5.7v5.6h-5.7z"/>
<path fill="#685868" d="M757 112.9h5.7v5.6h-5.7z"/>
<path fill="#786878" d="M789.3 112.9h8.7v5.6h-8.7z"/>
<path fill="#287878" d="M617 118.2h5.7v5.6h-5.7zM514.8 128.9h5.7v5.6h-5.7zM579.4 128.9h5.7v5.6h-5.7z"/>
</g></g>
<rect x="476" y="99.9" width="4" height="34.2" fill="#fff"/>
<text x="499" y="141.7" fill="#fff" transform="rotate(-90 499 141.7)" style="font-size:21px">2 μm</text>
<rect x="466.3" y="147.1" width="169.9" height="28.5" fill="#56bec6"/>
<rect x="636.2" y="147.1" width="158.5" height="28.5" fill="#c6e3ec"/>
<text x="462.1" y="28.3" fill="#1a1a1a" style="font-size:29.2px;font-weight:bold">Step-wise loop size decrease</text>
<text x="398.5" y="26" fill="#1a1a1a" style="font-size:45px;font-weight:bold">c</text>
<text x="430.3" y="69.3" style="font-size:22.5px">C</text>
<text x="431.6" y="97.2" style="font-size:22.5px">N</text>
<path d="M455.8 54.1 Q450.5 57.8 450.4 64.1" fill="none" stroke="#e02626" stroke-width="3.6" stroke-linecap="round"/>
<path d="M446.2 69.3 L449 65.1 L454 65.9 L459 67.1 Q457.5 73.3 455.2 80.7 Z" fill="#1793b3"/>
<path d="M456.2 80.9 C453 86.3 448.5 92.3 450.6 100.3 C452.5 107.3 457 111.3 455.5 118.3 C454.5 123.3 452.5 127.3 452 131.8" fill="none" stroke="#e02626" stroke-width="3.6" stroke-linecap="round"/>
<clipPath id="pcc"><rect x="466.5" y="178.5" width="328" height="91.5"/></clipPath>
<g clip-path="url(#pcc)">
<g fill="#999999" fill-opacity="0.33">
<circle cx="469.5" cy="264.2" r="7.8"/>
<circle cx="476" cy="262" r="7.8"/>
<circle cx="480.6" cy="267" r="7.8"/>
<circle cx="484.7" cy="256.9" r="7.8"/>
<circle cx="490.3" cy="266.6" r="7.8"/>
<circle cx="495.3" cy="267" r="7.8"/>
<circle cx="501" cy="267" r="7.8"/>
<circle cx="506.1" cy="267" r="7.8"/>
<circle cx="512.6" cy="263.6" r="7.8"/>
<circle cx="518.1" cy="267" r="7.8"/>
<circle cx="524.6" cy="245" r="7.8"/>
<circle cx="529.1" cy="262" r="7.8"/>
<circle cx="533.6" cy="267" r="7.8"/>
<circle cx="540.7" cy="267" r="7.8"/>
<circle cx="546.1" cy="263" r="7.8"/>
<circle cx="550.9" cy="257.5" r="7.8"/>
<circle cx="557.3" cy="267" r="7.8"/>
<circle cx="561.9" cy="244" r="7.8"/>
<circle cx="567.8" cy="260" r="7.8"/>
<circle cx="573.9" cy="267" r="7.8"/>
<circle cx="580.4" cy="256" r="7.8"/>
<circle cx="586" cy="220.7" r="7.8"/>
<circle cx="593.6" cy="259.2" r="7.8"/>
<circle cx="598" cy="267" r="7.8"/>
<circle cx="604.5" cy="267" r="7.8"/>
<circle cx="609.9" cy="244.5" r="7.8"/>
<circle cx="616.8" cy="265" r="7.8"/>
<circle cx="622.1" cy="243.6" r="7.8"/>
<circle cx="627.9" cy="267" r="7.8"/>
<circle cx="633" cy="259.8" r="7.8"/>
<circle cx="639.4" cy="229.4" r="7.8"/>
<circle cx="643.9" cy="220.1" r="7.8"/>
<circle cx="649.2" cy="238.4" r="7.8"/>
<circle cx="655.5" cy="216.7" r="7.8"/>
<circle cx="660.8" cy="205.8" r="7.8"/>
<circle cx="666.8" cy="197.8" r="7.8"/>
<circle cx="674.3" cy="191.6" r="7.8"/>
<circle cx="681.7" cy="194.9" r="7.8"/>
<circle cx="686.5" cy="217.4" r="7.8"/>
<circle cx="692.2" cy="206.5" r="7.8"/>
<circle cx="696.5" cy="208.8" r="7.8"/>
<circle cx="701.9" cy="196.4" r="7.8"/>
<circle cx="706.1" cy="227.6" r="7.8"/>
<circle cx="713.5" cy="203.1" r="7.8"/>
<circle cx="719.7" cy="206.7" r="7.8"/>
<circle cx="724.3" cy="205.6" r="7.8"/>
<circle cx="728.4" cy="210.3" r="7.8"/>
<circle cx="732.5" cy="196.3" r="7.8"/>
<circle cx="737.5" cy="196.5" r="7.8"/>
<circle cx="743.4" cy="216.6" r="7.8"/>
<circle cx="747.9" cy="213.3" r="7.8"/>
<circle cx="753.5" cy="217.9" r="7.8"/>
<circle cx="760.1" cy="231.8" r="7.8"/>
<circle cx="767.6" cy="232.8" r="7.8"/>
<circle cx="774.1" cy="235" r="7.8"/>
<circle cx="778.5" cy="238.1" r="7.8"/>
<circle cx="785.4" cy="218.8" r="7.8"/>
<circle cx="790.3" cy="209.4" r="7.8"/>
</g>
<g fill="#e23c3c" fill-opacity="0.3">
<circle cx="469.5" cy="241.9" r="7.8"/>
<circle cx="475.5" cy="238.9" r="7.8"/>
<circle cx="481.4" cy="225" r="7.8"/>
<circle cx="487.5" cy="216.1" r="7.8"/>
<circle cx="492.8" cy="237.2" r="7.8"/>
<circle cx="496.6" cy="229.1" r="7.8"/>
<circle cx="503.2" cy="231.1" r="7.8"/>
<circle cx="507.8" cy="216.4" r="7.8"/>
<circle cx="513.8" cy="218.1" r="7.8"/>
<circle cx="518" cy="220.2" r="7.8"/>
<circle cx="522.8" cy="189" r="7.8"/>
<circle cx="527.1" cy="187.7" r="7.8"/>
<circle cx="533.7" cy="188.7" r="7.8"/>
<circle cx="539.9" cy="206.7" r="7.8"/>
<circle cx="544" cy="213.4" r="7.8"/>
<circle cx="547.7" cy="211.9" r="7.8"/>
<circle cx="552.5" cy="218.6" r="7.8"/>
<circle cx="556.8" cy="204" r="7.8"/>
<circle cx="563" cy="229.4" r="7.8"/>
<circle cx="568.1" cy="214.5" r="7.8"/>
<circle cx="573.7" cy="225.6" r="7.8"/>
<circle cx="579.1" cy="217.2" r="7.8"/>
<circle cx="585.7" cy="206.1" r="7.8"/>
<circle cx="591.8" cy="204.4" r="7.8"/>
<circle cx="597" cy="208.4" r="7.8"/>
<circle cx="602.3" cy="226.6" r="7.8"/>
<circle cx="607" cy="216.7" r="7.8"/>
<circle cx="612.2" cy="199" r="7.8"/>
<circle cx="618.2" cy="215.9" r="7.8"/>
<circle cx="623.9" cy="181.5" r="7.8"/>
<circle cx="628.3" cy="216.4" r="7.8"/>
<circle cx="634.2" cy="181.5" r="7.8"/>
<circle cx="640.2" cy="218.5" r="7.8"/>
<circle cx="645.7" cy="250.6" r="7.8"/>
<circle cx="649.8" cy="244.5" r="7.8"/>
<circle cx="653.9" cy="234.6" r="7.8"/>
<circle cx="659.9" cy="259.8" r="7.8"/>
<circle cx="663.7" cy="245.5" r="7.8"/>
<circle cx="669.2" cy="243.5" r="7.8"/>
<circle cx="674.8" cy="248.6" r="7.8"/>
<circle cx="680.4" cy="237" r="7.8"/>
<circle cx="685.1" cy="218.5" r="7.8"/>
<circle cx="688.8" cy="242.4" r="7.8"/>
<circle cx="694.1" cy="244" r="7.8"/>
<circle cx="700" cy="239" r="7.8"/>
<circle cx="706.5" cy="246.9" r="7.8"/>
<circle cx="711.4" cy="232" r="7.8"/>
<circle cx="717.1" cy="218.5" r="7.8"/>
<circle cx="722.2" cy="214.8" r="7.8"/>
<circle cx="726.4" cy="226.3" r="7.8"/>
<circle cx="732.5" cy="234.7" r="7.8"/>
<circle cx="736.8" cy="229.8" r="7.8"/>
<circle cx="741.2" cy="236.1" r="7.8"/>
<circle cx="746.8" cy="231.3" r="7.8"/>
<circle cx="750.9" cy="248" r="7.8"/>
<circle cx="755.8" cy="229.3" r="7.8"/>
<circle cx="761.1" cy="207.2" r="7.8"/>
<circle cx="766.1" cy="220.3" r="7.8"/>
<circle cx="770.4" cy="211" r="7.8"/>
<circle cx="774.5" cy="215" r="7.8"/>
<circle cx="778.8" cy="196.5" r="7.8"/>
<circle cx="784.3" cy="236.1" r="7.8"/>
<circle cx="791" cy="216" r="7.8"/>
</g>
<path d="M467 256.1 L483.5 263.1 L492.9 266.6 L518.7 266.6 L521.1 260.8 L546.9 260.8 L558.7 265.5 L568.1 258.4 L579.8 249 L586.9 252.5 L593.9 265.5 L603.3 261.9 L612.7 249 L617.4 259.6 L635 259.6 L638.6 217.3 L648 219.6 L655 222 L657.4 207.9 L666.8 196.1 L672.6 189.1 L678.5 200.8 L687.9 205.5 L695 200.8 L720.8 200.8 L727.9 206.7 L737.3 209.1 L742 213.8 L749 211.4 L756.1 229 L765.5 231.4 L772.5 231.4 L784.2 214.9 L792.5 205.5" stroke="#6b6b6b" stroke-width="5.8" fill="none" stroke-linejoin="round"/>
<path d="M467 236.1 L478.8 225.5 L488.2 229 L497.6 222 L509.3 219.6 L516.4 213.8 L525.8 209.1 L535.2 213.8 L544.6 217.3 L554 216.1 L561 224.3 L565.7 218.5 L575.1 220.8 L586.9 220.8 L596.3 212.6 L605.7 210.2 L619.8 205.5 L629.2 200.8 L635 193.8 L638.6 203.2 L640.9 245.5 L648 254.9 L655 256.1 L659.7 261.9 L666.8 243.1 L673.8 238.4 L678.5 238.4 L685.6 233.7 L692.6 239.6 L702 234.9 L713.8 236.1 L725.5 231.4 L737.3 232.6 L746.7 227.9 L753.7 217.3 L765.5 218.5 L777.2 219.6 L793.6 224.3" stroke="#e02626" stroke-width="5.8" fill="none" stroke-linejoin="round"/>
</g>
<line x1="635.8" y1="178.5" x2="635.8" y2="270" stroke="#000" stroke-width="1.6"/>
<rect x="466.5" y="178.5" width="328" height="91.5" fill="none" stroke="#000" stroke-width="1.8"/>
<line x1="519.2" y1="270" x2="519.2" y2="261" stroke="#000" stroke-width="1.8"/>
<line x1="519.2" y1="178.5" x2="519.2" y2="187.5" stroke="#000" stroke-width="1.8"/>
<text x="514.9" y="297" text-anchor="middle" style="font-size:24.5px">−10</text>
<line x1="635.8" y1="270" x2="635.8" y2="261" stroke="#000" stroke-width="1.8"/>
<line x1="635.8" y1="178.5" x2="635.8" y2="187.5" stroke="#000" stroke-width="1.8"/>
<text x="635.8" y="297" text-anchor="middle" style="font-size:24.5px">0</text>
<line x1="752.5" y1="270" x2="752.5" y2="261" stroke="#000" stroke-width="1.8"/>
<line x1="752.5" y1="178.5" x2="752.5" y2="187.5" stroke="#000" stroke-width="1.8"/>
<text x="752.5" y="297" text-anchor="middle" style="font-size:24.5px">10</text>
<line x1="466.5" y1="204.4" x2="475.5" y2="204.4" stroke="#d0363b" stroke-width="1.8"/>
<text x="457" y="216" text-anchor="end" fill="#d0363b" style="font-size:24.5px">10</text>
<line x1="466.5" y1="267.8" x2="475.5" y2="267.8" stroke="#d0363b" stroke-width="1.8"/>
<text x="457" y="278.2" text-anchor="end" fill="#d0363b" style="font-size:24.5px">5</text>
<line x1="794.5" y1="209.5" x2="785.5" y2="209.5" stroke="#808080" stroke-width="1.8"/>
<text x="800.5" y="222" fill="#808080" style="font-size:24.5px">10</text>
<line x1="794.5" y1="267.3" x2="785.5" y2="267.3" stroke="#808080" stroke-width="1.8"/>
<text x="800.5" y="280" fill="#808080" style="font-size:24.5px">0</text>
<text x="640.1" y="330.1" text-anchor="middle" style="font-size:28.8px">Time (s)</text>
<text x="419.3" y="229.6" text-anchor="middle" fill="#d0363b" transform="rotate(-90 419.3 229.6)" style="font-size:29px">Loop size (kb)</text>
<text x="852.3" y="229" text-anchor="middle" fill="#808080" transform="rotate(-90 852.3 229)" style="font-size:29px">Loop-CTCF</text>
<text x="888.1" y="229" text-anchor="middle" fill="#808080" transform="rotate(-90 888.1 229)" style="font-size:29px">distance (kb)</text>
<clipPath id="kce"><rect x="1032.4" y="38.7" width="327.6" height="104.7"/></clipPath>
<g clip-path="url(#kce)"><g filter="url(#kblur)">
<rect x="1029.4" y="35.7" width="333.6" height="110.7" fill="#3a0a0a"/>
<path fill="#781818" d="M1029.4 35.7h8.7v8.5h-8.7zM1070 35.7h5.7v8.5h-5.7zM1102.2 35.7h5.7v8.5h-5.7zM1258 35.7h5.7v8.5h-5.7zM1333.1 35.7h5.7v8.5h-5.7zM1091.5 43.9h5.7v5.5h-5.7zM1102.2 43.9h5.7v5.5h-5.7zM1123.7 43.9h5.7v5.5h-5.7zM1333.1 43.9h5.7v5.5h-5.7zM1029.4 49.2h8.7v5.5h-8.7zM1107.6 49.2h5.7v5.5h-5.7zM1333.1 49.2h5.7v5.5h-5.7zM1029.4 54.4h8.7v5.5h-8.7zM1080.7 54.4h5.7v5.5h-5.7zM1161.3 54.4h5.7v5.5h-5.7zM1333.1 54.4h5.7v5.5h-5.7zM1306.3 59.6h5.7v5.5h-5.7zM1295.6 75.3h5.7v5.5h-5.7zM1064.6 80.6h5.7v5.5h-5.7zM1322.4 80.6h5.7v5.5h-5.7zM1096.8 85.8h5.7v5.5h-5.7zM1123.7 85.8h5.7v5.5h-5.7zM1129.1 85.8h5.7v5.5h-5.7zM1134.4 85.8h5.7v5.5h-5.7zM1177.4 85.8h5.7v5.5h-5.7zM1182.8 85.8h5.7v5.5h-5.7zM1129.1 91.1h5.7v5.5h-5.7zM1236.5 91.1h5.7v5.5h-5.7zM1311.7 91.1h5.7v5.5h-5.7z"/>
<path fill="#181818" d="M1037.8 35.7h5.7v8.5h-5.7zM1118.3 35.7h5.7v8.5h-5.7zM1354.6 35.7h8.7v8.5h-8.7zM1354.6 43.9h8.7v5.5h-8.7zM1182.8 49.2h5.7v5.5h-5.7zM1354.6 49.2h8.7v5.5h-8.7zM1118.3 54.4h5.7v5.5h-5.7zM1354.6 54.4h8.7v5.5h-8.7zM1204.3 59.6h5.7v5.5h-5.7zM1354.6 59.6h8.7v5.5h-8.7zM1053.9 96.3h5.7v5.5h-5.7zM1118.3 96.3h5.7v5.5h-5.7zM1155.9 96.3h5.7v5.5h-5.7zM1182.8 96.3h5.7v5.5h-5.7zM1215 96.3h5.7v5.5h-5.7zM1247.2 96.3h5.7v5.5h-5.7zM1279.4 96.3h5.7v5.5h-5.7zM1284.8 96.3h5.7v5.5h-5.7zM1354.6 96.3h8.7v5.5h-8.7zM1037.8 101.5h5.7v5.5h-5.7zM1053.9 101.5h5.7v5.5h-5.7zM1059.3 101.5h5.7v5.5h-5.7zM1155.9 101.5h5.7v5.5h-5.7zM1172 101.5h5.7v5.5h-5.7zM1220.4 101.5h5.7v5.5h-5.7zM1279.4 101.5h5.7v5.5h-5.7zM1338.5 101.5h5.7v5.5h-5.7zM1113 106.8h5.7v5.5h-5.7zM1129.1 106.8h5.7v5.5h-5.7zM1155.9 106.8h5.7v5.5h-5.7zM1177.4 106.8h5.7v5.5h-5.7zM1182.8 106.8h5.7v5.5h-5.7zM1193.5 106.8h5.7v5.5h-5.7zM1215 106.8h5.7v5.5h-5.7zM1252.6 106.8h5.7v5.5h-5.7zM1279.4 106.8h5.7v5.5h-5.7zM1284.8 106.8h5.7v5.5h-5.7zM1118.3 112h5.7v5.5h-5.7zM1145.2 112h5.7v5.5h-5.7zM1150.6 112h5.7v5.5h-5.7zM1155.9 112h5.7v5.5h-5.7zM1220.4 112h5.7v5.5h-5.7zM1225.7 112h5.7v5.5h-5.7zM1231.1 112h5.7v5.5h-5.7zM1252.6 112h5.7v5.5h-5.7zM1279.4 112h5.7v5.5h-5.7zM1059.3 117.2h5.7v5.5h-5.7zM1064.6 117.2h5.7v5.5h-5.7zM1102.2 117.2h5.7v5.5h-5.7zM1145.2 117.2h5.7v5.5h-5.7zM1166.7 117.2h5.7v5.5h-5.7zM1204.3 117.2h5.7v5.5h-5.7zM1279.4 117.2h5.7v5.5h-5.7zM1317 117.2h5.7v5.5h-5.7zM1053.9 122.5h5.7v5.5h-5.7zM1070 122.5h5.7v5.5h-5.7zM1118.3 122.5h5.7v5.5h-5.7zM1123.7 122.5h5.7v5.5h-5.7zM1129.1 122.5h5.7v5.5h-5.7zM1166.7 122.5h5.7v5.5h-5.7zM1215 122.5h5.7v5.5h-5.7zM1252.6 122.5h5.7v5.5h-5.7zM1279.4 122.5h5.7v5.5h-5.7zM1338.5 122.5h5.7v5.5h-5.7zM1053.9 127.7h5.7v5.5h-5.7zM1059.3 127.7h5.7v5.5h-5.7zM1064.6 127.7h5.7v5.5h-5.7zM1113 127.7h5.7v5.5h-5.7zM1193.5 127.7h5.7v5.5h-5.7zM1204.3 127.7h5.7v5.5h-5.7zM1215 127.7h5.7v5.5h-5.7zM1290.2 127.7h5.7v5.5h-5.7zM1317 127.7h5.7v5.5h-5.7zM1349.3 127.7h5.7v5.5h-5.7zM1096.8 132.9h5.7v5.5h-5.7zM1118.3 132.9h5.7v5.5h-5.7zM1123.7 132.9h5.7v5.5h-5.7zM1129.1 132.9h5.7v5.5h-5.7zM1145.2 132.9h5.7v5.5h-5.7zM1155.9 132.9h5.7v5.5h-5.7zM1166.7 132.9h5.7v5.5h-5.7zM1177.4 132.9h5.7v5.5h-5.7zM1182.8 132.9h5.7v5.5h-5.7zM1193.5 132.9h5.7v5.5h-5.7zM1204.3 132.9h5.7v5.5h-5.7zM1215 132.9h5.7v5.5h-5.7zM1225.7 132.9h5.7v5.5h-5.7zM1252.6 132.9h5.7v5.5h-5.7zM1279.4 132.9h5.7v5.5h-5.7zM1338.5 132.9h5.7v5.5h-5.7zM1070 138.2h5.7v8.5h-5.7zM1080.7 138.2h5.7v8.5h-5.7zM1086.1 138.2h5.7v8.5h-5.7zM1102.2 138.2h5.7v8.5h-5.7zM1204.3 138.2h5.7v8.5h-5.7zM1252.6 138.2h5.7v8.5h-5.7zM1263.3 138.2h5.7v8.5h-5.7zM1306.3 138.2h5.7v8.5h-5.7zM1311.7 138.2h5.7v8.5h-5.7zM1338.5 138.2h5.7v8.5h-5.7zM1354.6 138.2h8.7v8.5h-8.7z"/>
<path fill="#481818" d="M1043.1 35.7h5.7v8.5h-5.7zM1053.9 35.7h5.7v8.5h-5.7zM1209.6 35.7h5.7v8.5h-5.7zM1295.6 35.7h5.7v8.5h-5.7zM1322.4 35.7h5.7v8.5h-5.7zM1327.8 35.7h5.7v8.5h-5.7zM1343.9 35.7h5.7v8.5h-5.7zM1053.9 43.9h5.7v5.5h-5.7zM1113 43.9h5.7v5.5h-5.7zM1134.4 43.9h5.7v5.5h-5.7zM1241.8 43.9h5.7v5.5h-5.7zM1284.8 43.9h5.7v5.5h-5.7zM1096.8 49.2h5.7v5.5h-5.7zM1155.9 49.2h5.7v5.5h-5.7zM1177.4 49.2h5.7v5.5h-5.7zM1215 49.2h5.7v5.5h-5.7zM1252.6 49.2h5.7v5.5h-5.7zM1258 49.2h5.7v5.5h-5.7zM1306.3 49.2h5.7v5.5h-5.7zM1327.8 49.2h5.7v5.5h-5.7zM1096.8 54.4h5.7v5.5h-5.7zM1107.6 54.4h5.7v5.5h-5.7zM1139.8 54.4h5.7v5.5h-5.7zM1193.5 54.4h5.7v5.5h-5.7zM1220.4 54.4h5.7v5.5h-5.7zM1252.6 54.4h5.7v5.5h-5.7zM1284.8 54.4h5.7v5.5h-5.7zM1059.3 59.6h5.7v5.5h-5.7zM1064.6 59.6h5.7v5.5h-5.7zM1129.1 59.6h5.7v5.5h-5.7zM1134.4 59.6h5.7v5.5h-5.7zM1177.4 59.6h5.7v5.5h-5.7zM1193.5 59.6h5.7v5.5h-5.7zM1215 59.6h5.7v5.5h-5.7zM1220.4 59.6h5.7v5.5h-5.7zM1252.6 59.6h5.7v5.5h-5.7zM1102.2 80.6h5.7v5.5h-5.7zM1091.5 85.8h5.7v5.5h-5.7zM1113 85.8h5.7v5.5h-5.7zM1064.6 91.1h5.7v5.5h-5.7zM1155.9 91.1h5.7v5.5h-5.7zM1172 91.1h5.7v5.5h-5.7zM1188.1 91.1h5.7v5.5h-5.7zM1231.1 91.1h5.7v5.5h-5.7zM1252.6 91.1h5.7v5.5h-5.7zM1258 91.1h5.7v5.5h-5.7zM1029.4 96.3h8.7v5.5h-8.7zM1070 96.3h5.7v5.5h-5.7zM1075.4 96.3h5.7v5.5h-5.7zM1129.1 96.3h5.7v5.5h-5.7zM1166.7 96.3h5.7v5.5h-5.7zM1209.6 96.3h5.7v5.5h-5.7zM1263.3 96.3h5.7v5.5h-5.7zM1274.1 96.3h5.7v5.5h-5.7zM1070 101.5h5.7v5.5h-5.7zM1075.4 101.5h5.7v5.5h-5.7zM1102.2 101.5h5.7v5.5h-5.7zM1107.6 101.5h5.7v5.5h-5.7zM1263.3 101.5h5.7v5.5h-5.7zM1274.1 101.5h5.7v5.5h-5.7zM1043.1 106.8h5.7v5.5h-5.7zM1080.7 106.8h5.7v5.5h-5.7zM1134.4 106.8h5.7v5.5h-5.7zM1172 106.8h5.7v5.5h-5.7zM1241.8 106.8h5.7v5.5h-5.7zM1268.7 106.8h5.7v5.5h-5.7zM1322.4 106.8h5.7v5.5h-5.7zM1161.3 112h5.7v5.5h-5.7zM1295.6 112h5.7v5.5h-5.7zM1311.7 112h5.7v5.5h-5.7zM1327.8 112h5.7v5.5h-5.7zM1343.9 112h5.7v5.5h-5.7zM1048.5 117.2h5.7v5.5h-5.7zM1091.5 117.2h5.7v5.5h-5.7zM1134.4 117.2h5.7v5.5h-5.7zM1172 117.2h5.7v5.5h-5.7zM1198.9 117.2h5.7v5.5h-5.7zM1209.6 117.2h5.7v5.5h-5.7zM1225.7 117.2h5.7v5.5h-5.7zM1236.5 117.2h5.7v5.5h-5.7zM1295.6 117.2h5.7v5.5h-5.7zM1333.1 117.2h5.7v5.5h-5.7zM1029.4 122.5h8.7v5.5h-8.7zM1075.4 122.5h5.7v5.5h-5.7zM1086.1 122.5h5.7v5.5h-5.7zM1091.5 122.5h5.7v5.5h-5.7zM1102.2 122.5h5.7v5.5h-5.7zM1134.4 122.5h5.7v5.5h-5.7zM1241.8 122.5h5.7v5.5h-5.7zM1327.8 122.5h5.7v5.5h-5.7zM1070 127.7h5.7v5.5h-5.7zM1139.8 127.7h5.7v5.5h-5.7zM1161.3 127.7h5.7v5.5h-5.7zM1172 127.7h5.7v5.5h-5.7zM1343.9 127.7h5.7v5.5h-5.7zM1048.5 132.9h5.7v5.5h-5.7zM1075.4 132.9h5.7v5.5h-5.7zM1086.1 132.9h5.7v5.5h-5.7zM1102.2 132.9h5.7v5.5h-5.7zM1139.8 132.9h5.7v5.5h-5.7zM1209.6 132.9h5.7v5.5h-5.7zM1236.5 132.9h5.7v5.5h-5.7zM1241.8 132.9h5.7v5.5h-5.7zM1322.4 132.9h5.7v5.5h-5.7zM1327.8 132.9h5.7v5.5h-5.7zM1333.1 132.9h5.7v5.5h-5.7zM1075.4 138.2h5.7v8.5h-5.7zM1139.8 138.2h5.7v8.5h-5.7zM1198.9 138.2h5.7v8.5h-5.7zM1327.8 138.2h5.7v8.5h-5.7z"/>
<path fill="#381818" d="M1048.5 35.7h5.7v8.5h-5.7zM1129.1 35.7h5.7v8.5h-5.7zM1193.5 35.7h5.7v8.5h-5.7zM1037.8 43.9h5.7v5.5h-5.7zM1059.3 43.9h5.7v5.5h-5.7zM1070 43.9h5.7v5.5h-5.7zM1145.2 43.9h5.7v5.5h-5.7zM1290.2 43.9h5.7v5.5h-5.7zM1311.7 43.9h5.7v5.5h-5.7zM1043.1 49.2h5.7v5.5h-5.7zM1059.3 49.2h5.7v5.5h-5.7zM1118.3 49.2h5.7v5.5h-5.7zM1166.7 49.2h5.7v5.5h-5.7zM1172 49.2h5.7v5.5h-5.7zM1220.4 49.2h5.7v5.5h-5.7zM1231.1 49.2h5.7v5.5h-5.7zM1247.2 49.2h5.7v5.5h-5.7zM1300.9 49.2h5.7v5.5h-5.7zM1317 49.2h5.7v5.5h-5.7zM1322.4 49.2h5.7v5.5h-5.7zM1188.1 54.4h5.7v5.5h-5.7zM1204.3 54.4h5.7v5.5h-5.7zM1258 54.4h5.7v5.5h-5.7zM1279.4 54.4h5.7v5.5h-5.7zM1317 54.4h5.7v5.5h-5.7zM1343.9 54.4h5.7v5.5h-5.7zM1070 59.6h5.7v5.5h-5.7zM1107.6 59.6h5.7v5.5h-5.7zM1113 59.6h5.7v5.5h-5.7zM1172 59.6h5.7v5.5h-5.7zM1284.8 59.6h5.7v5.5h-5.7zM1290.2 59.6h5.7v5.5h-5.7zM1349.3 59.6h5.7v5.5h-5.7zM1037.8 80.6h5.7v5.5h-5.7zM1037.8 91.1h5.7v5.5h-5.7zM1059.3 91.1h5.7v5.5h-5.7zM1113 91.1h5.7v5.5h-5.7zM1118.3 91.1h5.7v5.5h-5.7zM1150.6 91.1h5.7v5.5h-5.7zM1284.8 91.1h5.7v5.5h-5.7zM1354.6 91.1h8.7v5.5h-8.7zM1048.5 96.3h5.7v5.5h-5.7zM1080.7 96.3h5.7v5.5h-5.7zM1123.7 96.3h5.7v5.5h-5.7zM1290.2 96.3h5.7v5.5h-5.7zM1306.3 96.3h5.7v5.5h-5.7zM1349.3 96.3h5.7v5.5h-5.7zM1091.5 101.5h5.7v5.5h-5.7zM1096.8 101.5h5.7v5.5h-5.7zM1166.7 101.5h5.7v5.5h-5.7zM1247.2 101.5h5.7v5.5h-5.7zM1252.6 101.5h5.7v5.5h-5.7zM1258 101.5h5.7v5.5h-5.7zM1284.8 101.5h5.7v5.5h-5.7zM1290.2 101.5h5.7v5.5h-5.7zM1300.9 101.5h5.7v5.5h-5.7zM1333.1 101.5h5.7v5.5h-5.7zM1166.7 106.8h5.7v5.5h-5.7zM1231.1 106.8h5.7v5.5h-5.7zM1263.3 106.8h5.7v5.5h-5.7zM1274.1 106.8h5.7v5.5h-5.7zM1349.3 106.8h5.7v5.5h-5.7zM1059.3 112h5.7v5.5h-5.7zM1070 112h5.7v5.5h-5.7zM1107.6 112h5.7v5.5h-5.7zM1166.7 112h5.7v5.5h-5.7zM1236.5 112h5.7v5.5h-5.7zM1258 112h5.7v5.5h-5.7zM1263.3 112h5.7v5.5h-5.7zM1080.7 117.2h5.7v5.5h-5.7zM1107.6 117.2h5.7v5.5h-5.7zM1139.8 117.2h5.7v5.5h-5.7zM1150.6 117.2h5.7v5.5h-5.7zM1188.1 117.2h5.7v5.5h-5.7zM1231.1 117.2h5.7v5.5h-5.7zM1258 117.2h5.7v5.5h-5.7zM1268.7 117.2h5.7v5.5h-5.7zM1290.2 117.2h5.7v5.5h-5.7zM1300.9 117.2h5.7v5.5h-5.7zM1343.9 117.2h5.7v5.5h-5.7zM1048.5 122.5h5.7v5.5h-5.7zM1161.3 122.5h5.7v5.5h-5.7zM1177.4 122.5h5.7v5.5h-5.7zM1188.1 122.5h5.7v5.5h-5.7zM1198.9 122.5h5.7v5.5h-5.7zM1236.5 122.5h5.7v5.5h-5.7zM1258 122.5h5.7v5.5h-5.7zM1284.8 122.5h5.7v5.5h-5.7zM1290.2 122.5h5.7v5.5h-5.7zM1295.6 122.5h5.7v5.5h-5.7zM1333.1 122.5h5.7v5.5h-5.7zM1343.9 122.5h5.7v5.5h-5.7zM1029.4 127.7h8.7v5.5h-8.7zM1150.6 127.7h5.7v5.5h-5.7zM1225.7 127.7h5.7v5.5h-5.7zM1231.1 127.7h5.7v5.5h-5.7zM1236.5 127.7h5.7v5.5h-5.7zM1247.2 127.7h5.7v5.5h-5.7zM1258 127.7h5.7v5.5h-5.7zM1300.9 127.7h5.7v5.5h-5.7zM1043.1 132.9h5.7v5.5h-5.7zM1053.9 132.9h5.7v5.5h-5.7zM1080.7 132.9h5.7v5.5h-5.7zM1134.4 132.9h5.7v5.5h-5.7zM1220.4 132.9h5.7v5.5h-5.7zM1231.1 132.9h5.7v5.5h-5.7zM1247.2 132.9h5.7v5.5h-5.7zM1263.3 132.9h5.7v5.5h-5.7zM1343.9 132.9h5.7v5.5h-5.7zM1029.4 138.2h8.7v8.5h-8.7zM1048.5 138.2h5.7v8.5h-5.7zM1059.3 138.2h5.7v8.5h-5.7zM1064.6 138.2h5.7v8.5h-5.7zM1123.7 138.2h5.7v8.5h-5.7zM1150.6 138.2h5.7v8.5h-5.7zM1215 138.2h5.7v8.5h-5.7zM1236.5 138.2h5.7v8.5h-5.7zM1290.2 138.2h5.7v8.5h-5.7zM1300.9 138.2h5.7v8.5h-5.7zM1322.4 138.2h5.7v8.5h-5.7z"/>
<path fill="#682828" d="M1059.3 35.7h5.7v8.5h-5.7zM1091.5 35.7h5.7v8.5h-5.7zM1123.7 35.7h5.7v8.5h-5.7zM1263.3 35.7h5.7v8.5h-5.7zM1064.6 43.9h5.7v5.5h-5.7zM1048.5 49.2h5.7v5.5h-5.7zM1241.8 49.2h5.7v5.5h-5.7zM1209.6 54.4h5.7v5.5h-5.7zM1231.1 54.4h5.7v5.5h-5.7zM1043.1 59.6h5.7v5.5h-5.7zM1102.2 59.6h5.7v5.5h-5.7zM1198.9 59.6h5.7v5.5h-5.7zM1258 59.6h5.7v5.5h-5.7zM1268.7 59.6h5.7v5.5h-5.7zM1048.5 80.6h5.7v5.5h-5.7zM1053.9 80.6h5.7v5.5h-5.7zM1354.6 80.6h8.7v5.5h-8.7zM1043.1 85.8h5.7v5.5h-5.7zM1172 85.8h5.7v5.5h-5.7zM1188.1 85.8h5.7v5.5h-5.7zM1215 85.8h5.7v5.5h-5.7zM1134.4 91.1h5.7v5.5h-5.7zM1225.7 91.1h5.7v5.5h-5.7zM1268.7 91.1h5.7v5.5h-5.7zM1322.4 91.1h5.7v5.5h-5.7z"/>
<path fill="#581818" d="M1064.6 35.7h5.7v8.5h-5.7zM1080.7 35.7h5.7v8.5h-5.7zM1086.1 35.7h5.7v8.5h-5.7zM1134.4 35.7h5.7v8.5h-5.7zM1139.8 35.7h5.7v8.5h-5.7zM1161.3 35.7h5.7v8.5h-5.7zM1172 35.7h5.7v8.5h-5.7zM1188.1 35.7h5.7v8.5h-5.7zM1231.1 35.7h5.7v8.5h-5.7zM1236.5 35.7h5.7v8.5h-5.7zM1241.8 35.7h5.7v8.5h-5.7zM1306.3 35.7h5.7v8.5h-5.7zM1129.1 43.9h5.7v5.5h-5.7zM1172 43.9h5.7v5.5h-5.7zM1247.2 43.9h5.7v5.5h-5.7zM1252.6 43.9h5.7v5.5h-5.7zM1300.9 43.9h5.7v5.5h-5.7zM1070 49.2h5.7v5.5h-5.7zM1086.1 49.2h5.7v5.5h-5.7zM1123.7 49.2h5.7v5.5h-5.7zM1161.3 49.2h5.7v5.5h-5.7zM1343.9 49.2h5.7v5.5h-5.7zM1113 54.4h5.7v5.5h-5.7zM1177.4 54.4h5.7v5.5h-5.7zM1215 54.4h5.7v5.5h-5.7zM1263.3 54.4h5.7v5.5h-5.7zM1274.1 54.4h5.7v5.5h-5.7zM1327.8 54.4h5.7v5.5h-5.7zM1247.2 59.6h5.7v5.5h-5.7zM1263.3 59.6h5.7v5.5h-5.7zM1322.4 59.6h5.7v5.5h-5.7zM1139.8 64.9h5.7v5.5h-5.7zM1150.6 64.9h5.7v5.5h-5.7zM1043.1 80.6h5.7v5.5h-5.7zM1113 80.6h5.7v5.5h-5.7zM1064.6 85.8h5.7v5.5h-5.7zM1086.1 91.1h5.7v5.5h-5.7zM1198.9 91.1h5.7v5.5h-5.7zM1215 91.1h5.7v5.5h-5.7zM1236.5 96.3h5.7v5.5h-5.7zM1029.4 101.5h8.7v5.5h-8.7zM1295.6 101.5h5.7v5.5h-5.7zM1327.8 101.5h5.7v5.5h-5.7zM1091.5 106.8h5.7v5.5h-5.7zM1161.3 106.8h5.7v5.5h-5.7zM1258 106.8h5.7v5.5h-5.7zM1029.4 112h8.7v5.5h-8.7zM1274.1 112h5.7v5.5h-5.7zM1333.1 112h5.7v5.5h-5.7zM1043.1 117.2h5.7v5.5h-5.7zM1311.7 117.2h5.7v5.5h-5.7zM1080.7 122.5h5.7v5.5h-5.7zM1091.5 138.2h5.7v8.5h-5.7zM1241.8 138.2h5.7v8.5h-5.7zM1295.6 138.2h5.7v8.5h-5.7zM1343.9 138.2h5.7v8.5h-5.7z"/>
<path fill="#681818" d="M1075.4 35.7h5.7v8.5h-5.7zM1166.7 35.7h5.7v8.5h-5.7zM1225.7 35.7h5.7v8.5h-5.7zM1268.7 35.7h5.7v8.5h-5.7zM1349.3 35.7h5.7v8.5h-5.7zM1048.5 43.9h5.7v5.5h-5.7zM1075.4 43.9h5.7v5.5h-5.7zM1188.1 43.9h5.7v5.5h-5.7zM1064.6 49.2h5.7v5.5h-5.7zM1075.4 49.2h5.7v5.5h-5.7zM1236.5 49.2h5.7v5.5h-5.7zM1290.2 49.2h5.7v5.5h-5.7zM1311.7 49.2h5.7v5.5h-5.7zM1070 54.4h5.7v5.5h-5.7zM1134.4 54.4h5.7v5.5h-5.7zM1172 54.4h5.7v5.5h-5.7zM1236.5 54.4h5.7v5.5h-5.7zM1300.9 54.4h5.7v5.5h-5.7zM1311.7 54.4h5.7v5.5h-5.7zM1322.4 54.4h5.7v5.5h-5.7zM1048.5 59.6h5.7v5.5h-5.7zM1075.4 59.6h5.7v5.5h-5.7zM1166.7 59.6h5.7v5.5h-5.7zM1231.1 59.6h5.7v5.5h-5.7zM1241.8 59.6h5.7v5.5h-5.7zM1300.9 59.6h5.7v5.5h-5.7zM1343.9 59.6h5.7v5.5h-5.7zM1064.6 64.9h5.7v5.5h-5.7zM1123.7 64.9h5.7v5.5h-5.7zM1129.1 64.9h5.7v5.5h-5.7zM1123.7 80.6h5.7v5.5h-5.7zM1129.1 80.6h5.7v5.5h-5.7zM1059.3 85.8h5.7v5.5h-5.7zM1080.7 85.8h5.7v5.5h-5.7zM1107.6 85.8h5.7v5.5h-5.7zM1252.6 85.8h5.7v5.5h-5.7zM1338.5 85.8h5.7v5.5h-5.7zM1048.5 91.1h5.7v5.5h-5.7zM1096.8 91.1h5.7v5.5h-5.7zM1247.2 91.1h5.7v5.5h-5.7zM1274.1 91.1h5.7v5.5h-5.7zM1290.2 91.1h5.7v5.5h-5.7zM1091.5 96.3h5.7v5.5h-5.7zM1080.7 101.5h5.7v5.5h-5.7zM1241.8 117.2h5.7v5.5h-5.7zM1080.7 127.7h5.7v5.5h-5.7zM1268.7 132.9h5.7v5.5h-5.7zM1306.3 132.9h5.7v5.5h-5.7z"/>
<path fill="#382828" d="M1096.8 35.7h5.7v8.5h-5.7zM1317 35.7h5.7v8.5h-5.7zM1231.1 43.9h5.7v5.5h-5.7zM1343.9 43.9h5.7v5.5h-5.7zM1150.6 49.2h5.7v5.5h-5.7zM1209.6 49.2h5.7v5.5h-5.7zM1263.3 49.2h5.7v5.5h-5.7zM1059.3 54.4h5.7v5.5h-5.7zM1182.8 54.4h5.7v5.5h-5.7zM1150.6 59.6h5.7v5.5h-5.7zM1333.1 59.6h5.7v5.5h-5.7zM1118.3 64.9h5.7v5.5h-5.7zM1338.5 75.3h5.7v5.5h-5.7zM1354.6 75.3h8.7v5.5h-8.7zM1048.5 85.8h5.7v5.5h-5.7zM1053.9 91.1h5.7v5.5h-5.7zM1107.6 91.1h5.7v5.5h-5.7zM1145.2 91.1h5.7v5.5h-5.7zM1317 91.1h5.7v5.5h-5.7z"/>
<path fill="#480808" d="M1107.6 35.7h5.7v8.5h-5.7zM1096.8 59.6h5.7v5.5h-5.7zM1086.1 96.3h5.7v5.5h-5.7zM1327.8 96.3h5.7v5.5h-5.7zM1043.1 101.5h5.7v5.5h-5.7zM1086.1 101.5h5.7v5.5h-5.7zM1306.3 101.5h5.7v5.5h-5.7zM1322.4 101.5h5.7v5.5h-5.7zM1029.4 106.8h8.7v5.5h-8.7zM1198.9 106.8h5.7v5.5h-5.7zM1311.7 106.8h5.7v5.5h-5.7zM1048.5 112h5.7v5.5h-5.7zM1075.4 112h5.7v5.5h-5.7zM1091.5 112h5.7v5.5h-5.7zM1096.8 112h5.7v5.5h-5.7zM1123.7 112h5.7v5.5h-5.7zM1172 112h5.7v5.5h-5.7zM1247.2 122.5h5.7v5.5h-5.7zM1306.3 122.5h5.7v5.5h-5.7zM1322.4 122.5h5.7v5.5h-5.7zM1306.3 127.7h5.7v5.5h-5.7zM1333.1 127.7h5.7v5.5h-5.7zM1091.5 132.9h5.7v5.5h-5.7zM1172 132.9h5.7v5.5h-5.7zM1198.9 132.9h5.7v5.5h-5.7zM1311.7 132.9h5.7v5.5h-5.7zM1043.1 138.2h5.7v8.5h-5.7zM1258 138.2h5.7v8.5h-5.7z"/>
<path fill="#582828" d="M1113 35.7h5.7v8.5h-5.7zM1220.4 35.7h5.7v8.5h-5.7zM1252.6 35.7h5.7v8.5h-5.7zM1290.2 35.7h5.7v8.5h-5.7zM1263.3 43.9h5.7v5.5h-5.7zM1225.7 49.2h5.7v5.5h-5.7zM1064.6 54.4h5.7v5.5h-5.7zM1123.7 54.4h5.7v5.5h-5.7zM1247.2 54.4h5.7v5.5h-5.7zM1295.6 54.4h5.7v5.5h-5.7zM1070 64.9h5.7v5.5h-5.7zM1231.1 75.3h5.7v5.5h-5.7zM1327.8 75.3h5.7v5.5h-5.7zM1134.4 80.6h5.7v5.5h-5.7zM1295.6 91.1h5.7v5.5h-5.7zM1338.5 91.1h5.7v5.5h-5.7zM1349.3 91.1h5.7v5.5h-5.7z"/>
<path fill="#484848" d="M1145.2 35.7h5.7v8.5h-5.7zM1215 43.9h5.7v5.5h-5.7zM1155.9 59.6h5.7v5.5h-5.7zM1172 64.9h5.7v5.5h-5.7zM1204.3 75.3h5.7v5.5h-5.7z"/>
<path fill="#482828" d="M1150.6 35.7h5.7v8.5h-5.7zM1284.8 35.7h5.7v8.5h-5.7zM1161.3 43.9h5.7v5.5h-5.7zM1037.8 49.2h5.7v5.5h-5.7zM1053.9 49.2h5.7v5.5h-5.7zM1053.9 59.6h5.7v5.5h-5.7zM1188.1 59.6h5.7v5.5h-5.7zM1113 64.9h5.7v5.5h-5.7zM1284.8 75.3h5.7v5.5h-5.7zM1037.8 85.8h5.7v5.5h-5.7zM1279.4 91.1h5.7v5.5h-5.7z"/>
<path fill="#281818" d="M1155.9 35.7h5.7v8.5h-5.7zM1204.3 35.7h5.7v8.5h-5.7zM1279.4 35.7h5.7v8.5h-5.7zM1182.8 43.9h5.7v5.5h-5.7zM1225.7 43.9h5.7v5.5h-5.7zM1279.4 43.9h5.7v5.5h-5.7zM1317 43.9h5.7v5.5h-5.7zM1145.2 49.2h5.7v5.5h-5.7zM1279.4 49.2h5.7v5.5h-5.7zM1338.5 49.2h5.7v5.5h-5.7zM1053.9 54.4h5.7v5.5h-5.7zM1155.9 54.4h5.7v5.5h-5.7zM1349.3 54.4h5.7v5.5h-5.7zM1037.8 59.6h5.7v5.5h-5.7zM1145.2 59.6h5.7v5.5h-5.7zM1225.7 59.6h5.7v5.5h-5.7zM1317 59.6h5.7v5.5h-5.7zM1338.5 59.6h5.7v5.5h-5.7zM1053.9 85.8h5.7v5.5h-5.7zM1118.3 85.8h5.7v5.5h-5.7zM1043.1 96.3h5.7v5.5h-5.7zM1059.3 96.3h5.7v5.5h-5.7zM1064.6 96.3h5.7v5.5h-5.7zM1107.6 96.3h5.7v5.5h-5.7zM1113 96.3h5.7v5.5h-5.7zM1139.8 96.3h5.7v5.5h-5.7zM1150.6 96.3h5.7v5.5h-5.7zM1161.3 96.3h5.7v5.5h-5.7zM1177.4 96.3h5.7v5.5h-5.7zM1188.1 96.3h5.7v5.5h-5.7zM1220.4 96.3h5.7v5.5h-5.7zM1225.7 96.3h5.7v5.5h-5.7zM1258 96.3h5.7v5.5h-5.7zM1295.6 96.3h5.7v5.5h-5.7zM1300.9 96.3h5.7v5.5h-5.7zM1333.1 96.3h5.7v5.5h-5.7zM1338.5 96.3h5.7v5.5h-5.7zM1343.9 96.3h5.7v5.5h-5.7zM1048.5 101.5h5.7v5.5h-5.7zM1064.6 101.5h5.7v5.5h-5.7zM1134.4 101.5h5.7v5.5h-5.7zM1139.8 101.5h5.7v5.5h-5.7zM1150.6 101.5h5.7v5.5h-5.7zM1188.1 101.5h5.7v5.5h-5.7zM1193.5 101.5h5.7v5.5h-5.7zM1215 101.5h5.7v5.5h-5.7zM1225.7 101.5h5.7v5.5h-5.7zM1241.8 101.5h5.7v5.5h-5.7zM1268.7 101.5h5.7v5.5h-5.7zM1311.7 101.5h5.7v5.5h-5.7zM1317 101.5h5.7v5.5h-5.7zM1343.9 101.5h5.7v5.5h-5.7zM1349.3 101.5h5.7v5.5h-5.7zM1037.8 106.8h5.7v5.5h-5.7zM1064.6 106.8h5.7v5.5h-5.7zM1070 106.8h5.7v5.5h-5.7zM1150.6 106.8h5.7v5.5h-5.7zM1188.1 106.8h5.7v5.5h-5.7zM1204.3 106.8h5.7v5.5h-5.7zM1209.6 106.8h5.7v5.5h-5.7zM1225.7 106.8h5.7v5.5h-5.7zM1290.2 106.8h5.7v5.5h-5.7zM1300.9 106.8h5.7v5.5h-5.7zM1317 106.8h5.7v5.5h-5.7zM1338.5 106.8h5.7v5.5h-5.7zM1037.8 112h5.7v5.5h-5.7zM1064.6 112h5.7v5.5h-5.7zM1080.7 112h5.7v5.5h-5.7zM1102.2 112h5.7v5.5h-5.7zM1129.1 112h5.7v5.5h-5.7zM1177.4 112h5.7v5.5h-5.7zM1188.1 112h5.7v5.5h-5.7zM1198.9 112h5.7v5.5h-5.7zM1241.8 112h5.7v5.5h-5.7zM1247.2 112h5.7v5.5h-5.7zM1268.7 112h5.7v5.5h-5.7zM1284.8 112h5.7v5.5h-5.7zM1349.3 112h5.7v5.5h-5.7zM1029.4 117.2h8.7v5.5h-8.7zM1070 117.2h5.7v5.5h-5.7zM1155.9 117.2h5.7v5.5h-5.7zM1193.5 117.2h5.7v5.5h-5.7zM1220.4 117.2h5.7v5.5h-5.7zM1247.2 117.2h5.7v5.5h-5.7zM1274.1 117.2h5.7v5.5h-5.7zM1284.8 117.2h5.7v5.5h-5.7zM1327.8 117.2h5.7v5.5h-5.7zM1349.3 117.2h5.7v5.5h-5.7zM1096.8 122.5h5.7v5.5h-5.7zM1107.6 122.5h5.7v5.5h-5.7zM1139.8 122.5h5.7v5.5h-5.7zM1150.6 122.5h5.7v5.5h-5.7zM1155.9 122.5h5.7v5.5h-5.7zM1193.5 122.5h5.7v5.5h-5.7zM1220.4 122.5h5.7v5.5h-5.7zM1231.1 122.5h5.7v5.5h-5.7zM1263.3 122.5h5.7v5.5h-5.7zM1274.1 122.5h5.7v5.5h-5.7zM1349.3 122.5h5.7v5.5h-5.7zM1037.8 127.7h5.7v5.5h-5.7zM1096.8 127.7h5.7v5.5h-5.7zM1107.6 127.7h5.7v5.5h-5.7zM1129.1 127.7h5.7v5.5h-5.7zM1145.2 127.7h5.7v5.5h-5.7zM1188.1 127.7h5.7v5.5h-5.7zM1220.4 127.7h5.7v5.5h-5.7zM1241.8 127.7h5.7v5.5h-5.7zM1252.6 127.7h5.7v5.5h-5.7zM1268.7 127.7h5.7v5.5h-5.7zM1274.1 127.7h5.7v5.5h-5.7zM1284.8 127.7h5.7v5.5h-5.7zM1338.5 127.7h5.7v5.5h-5.7zM1059.3 132.9h5.7v5.5h-5.7zM1064.6 132.9h5.7v5.5h-5.7zM1070 132.9h5.7v5.5h-5.7zM1113 132.9h5.7v5.5h-5.7zM1188.1 132.9h5.7v5.5h-5.7zM1258 132.9h5.7v5.5h-5.7zM1284.8 132.9h5.7v5.5h-5.7zM1295.6 132.9h5.7v5.5h-5.7zM1107.6 138.2h5.7v8.5h-5.7zM1113 138.2h5.7v8.5h-5.7zM1129.1 138.2h5.7v8.5h-5.7zM1134.4 138.2h5.7v8.5h-5.7zM1145.2 138.2h5.7v8.5h-5.7zM1166.7 138.2h5.7v8.5h-5.7zM1182.8 138.2h5.7v8.5h-5.7zM1188.1 138.2h5.7v8.5h-5.7zM1193.5 138.2h5.7v8.5h-5.7zM1268.7 138.2h5.7v8.5h-5.7z"/>
<path fill="#380808" d="M1177.4 35.7h5.7v8.5h-5.7zM1338.5 35.7h5.7v8.5h-5.7zM1129.1 49.2h5.7v5.5h-5.7zM1198.9 54.4h5.7v5.5h-5.7zM1290.2 54.4h5.7v5.5h-5.7zM1279.4 59.6h5.7v5.5h-5.7zM1070 85.8h5.7v5.5h-5.7zM1220.4 91.1h5.7v5.5h-5.7zM1096.8 96.3h5.7v5.5h-5.7zM1134.4 96.3h5.7v5.5h-5.7zM1311.7 96.3h5.7v5.5h-5.7zM1123.7 101.5h5.7v5.5h-5.7zM1198.9 101.5h5.7v5.5h-5.7zM1231.1 101.5h5.7v5.5h-5.7zM1236.5 101.5h5.7v5.5h-5.7zM1075.4 106.8h5.7v5.5h-5.7zM1343.9 106.8h5.7v5.5h-5.7zM1043.1 112h5.7v5.5h-5.7zM1113 112h5.7v5.5h-5.7zM1139.8 112h5.7v5.5h-5.7zM1075.4 117.2h5.7v5.5h-5.7zM1086.1 117.2h5.7v5.5h-5.7zM1322.4 117.2h5.7v5.5h-5.7zM1043.1 122.5h5.7v5.5h-5.7zM1268.7 122.5h5.7v5.5h-5.7zM1048.5 127.7h5.7v5.5h-5.7zM1075.4 127.7h5.7v5.5h-5.7zM1102.2 127.7h5.7v5.5h-5.7zM1123.7 127.7h5.7v5.5h-5.7zM1295.6 127.7h5.7v5.5h-5.7zM1107.6 132.9h5.7v5.5h-5.7zM1161.3 132.9h5.7v5.5h-5.7zM1274.1 132.9h5.7v5.5h-5.7zM1349.3 132.9h5.7v5.5h-5.7zM1161.3 138.2h5.7v8.5h-5.7zM1231.1 138.2h5.7v8.5h-5.7zM1284.8 138.2h5.7v8.5h-5.7zM1333.1 138.2h5.7v8.5h-5.7z"/>
<path fill="#180808" d="M1182.8 35.7h5.7v8.5h-5.7zM1118.3 43.9h5.7v5.5h-5.7zM1204.3 96.3h5.7v5.5h-5.7zM1252.6 96.3h5.7v5.5h-5.7zM1113 101.5h5.7v5.5h-5.7zM1118.3 101.5h5.7v5.5h-5.7zM1182.8 101.5h5.7v5.5h-5.7zM1204.3 101.5h5.7v5.5h-5.7zM1209.6 101.5h5.7v5.5h-5.7zM1048.5 106.8h5.7v5.5h-5.7zM1053.9 106.8h5.7v5.5h-5.7zM1059.3 106.8h5.7v5.5h-5.7zM1086.1 106.8h5.7v5.5h-5.7zM1102.2 106.8h5.7v5.5h-5.7zM1107.6 106.8h5.7v5.5h-5.7zM1139.8 106.8h5.7v5.5h-5.7zM1145.2 106.8h5.7v5.5h-5.7zM1247.2 106.8h5.7v5.5h-5.7zM1354.6 106.8h8.7v5.5h-8.7zM1209.6 112h5.7v5.5h-5.7zM1215 112h5.7v5.5h-5.7zM1338.5 112h5.7v5.5h-5.7zM1354.6 112h8.7v5.5h-8.7zM1096.8 117.2h5.7v5.5h-5.7zM1113 117.2h5.7v5.5h-5.7zM1161.3 117.2h5.7v5.5h-5.7zM1182.8 117.2h5.7v5.5h-5.7zM1338.5 117.2h5.7v5.5h-5.7zM1064.6 122.5h5.7v5.5h-5.7zM1172 122.5h5.7v5.5h-5.7zM1317 122.5h5.7v5.5h-5.7zM1086.1 127.7h5.7v5.5h-5.7zM1134.4 127.7h5.7v5.5h-5.7zM1166.7 127.7h5.7v5.5h-5.7zM1177.4 127.7h5.7v5.5h-5.7zM1198.9 127.7h5.7v5.5h-5.7zM1209.6 127.7h5.7v5.5h-5.7zM1279.4 127.7h5.7v5.5h-5.7zM1311.7 127.7h5.7v5.5h-5.7zM1037.8 132.9h5.7v5.5h-5.7zM1150.6 132.9h5.7v5.5h-5.7zM1290.2 132.9h5.7v5.5h-5.7zM1354.6 132.9h8.7v5.5h-8.7zM1037.8 138.2h5.7v8.5h-5.7zM1172 138.2h5.7v8.5h-5.7zM1177.4 138.2h5.7v8.5h-5.7zM1220.4 138.2h5.7v8.5h-5.7zM1225.7 138.2h5.7v8.5h-5.7zM1317 138.2h5.7v8.5h-5.7z"/>
<path fill="#785858" d="M1198.9 35.7h5.7v8.5h-5.7zM1086.1 43.9h5.7v5.5h-5.7zM1193.5 43.9h5.7v5.5h-5.7zM1349.3 75.3h5.7v5.5h-5.7zM1043.1 91.1h5.7v5.5h-5.7zM1193.5 91.1h5.7v5.5h-5.7z"/>
<path fill="#286868" d="M1215 35.7h5.7v8.5h-5.7zM1053.9 64.9h5.7v5.5h-5.7z"/>
<path fill="#685858" d="M1247.2 35.7h5.7v8.5h-5.7zM1274.1 49.2h5.7v5.5h-5.7zM1043.1 54.4h5.7v5.5h-5.7zM1048.5 64.9h5.7v5.5h-5.7zM1059.3 64.9h5.7v5.5h-5.7z"/>
<path fill="#783838" d="M1274.1 35.7h5.7v8.5h-5.7zM1029.4 64.9h8.7v5.5h-8.7zM1172 75.3h5.7v5.5h-5.7z"/>
<path fill="#684848" d="M1300.9 35.7h5.7v8.5h-5.7zM1209.6 43.9h5.7v5.5h-5.7zM1188.1 49.2h5.7v5.5h-5.7zM1086.1 54.4h5.7v5.5h-5.7zM1037.8 64.9h5.7v5.5h-5.7z"/>
<path fill="#882828" d="M1311.7 35.7h5.7v8.5h-5.7zM1139.8 43.9h5.7v5.5h-5.7zM1295.6 49.2h5.7v5.5h-5.7zM1268.7 54.4h5.7v5.5h-5.7zM1236.5 59.6h5.7v5.5h-5.7zM1182.8 75.3h5.7v5.5h-5.7zM1086.1 80.6h5.7v5.5h-5.7zM1155.9 85.8h5.7v5.5h-5.7zM1220.4 85.8h5.7v5.5h-5.7zM1284.8 85.8h5.7v5.5h-5.7zM1161.3 91.1h5.7v5.5h-5.7z"/>
<path fill="#a82828" d="M1029.4 43.9h8.7v5.5h-8.7zM1080.7 64.9h5.7v5.5h-5.7zM1188.1 75.3h5.7v5.5h-5.7zM1300.9 75.3h5.7v5.5h-5.7zM1306.3 75.3h5.7v5.5h-5.7zM1204.3 80.6h5.7v5.5h-5.7zM1263.3 80.6h5.7v5.5h-5.7zM1268.7 85.8h5.7v5.5h-5.7zM1274.1 85.8h5.7v5.5h-5.7zM1343.9 85.8h5.7v5.5h-5.7zM1343.9 91.1h5.7v5.5h-5.7z"/>
<path fill="#580808" d="M1043.1 43.9h5.7v5.5h-5.7zM1107.6 43.9h5.7v5.5h-5.7zM1150.6 43.9h5.7v5.5h-5.7zM1349.3 43.9h5.7v5.5h-5.7zM1134.4 49.2h5.7v5.5h-5.7zM1166.7 54.4h5.7v5.5h-5.7zM1198.9 96.3h5.7v5.5h-5.7zM1161.3 101.5h5.7v5.5h-5.7zM1306.3 106.8h5.7v5.5h-5.7zM1306.3 112h5.7v5.5h-5.7zM1209.6 122.5h5.7v5.5h-5.7zM1311.7 122.5h5.7v5.5h-5.7zM1091.5 127.7h5.7v5.5h-5.7zM1096.8 138.2h5.7v8.5h-5.7zM1209.6 138.2h5.7v8.5h-5.7z"/>
<path fill="#883838" d="M1080.7 43.9h5.7v5.5h-5.7zM1198.9 75.3h5.7v5.5h-5.7zM1209.6 75.3h5.7v5.5h-5.7zM1139.8 91.1h5.7v5.5h-5.7z"/>
<path fill="#881818" d="M1096.8 43.9h5.7v5.5h-5.7zM1322.4 43.9h5.7v5.5h-5.7zM1327.8 43.9h5.7v5.5h-5.7zM1198.9 49.2h5.7v5.5h-5.7zM1075.4 54.4h5.7v5.5h-5.7zM1139.8 59.6h5.7v5.5h-5.7zM1091.5 64.9h5.7v5.5h-5.7zM1134.4 64.9h5.7v5.5h-5.7zM1155.9 80.6h5.7v5.5h-5.7zM1338.5 80.6h5.7v5.5h-5.7zM1086.1 85.8h5.7v5.5h-5.7zM1102.2 85.8h5.7v5.5h-5.7zM1161.3 85.8h5.7v5.5h-5.7zM1231.1 85.8h5.7v5.5h-5.7zM1279.4 85.8h5.7v5.5h-5.7zM1354.6 85.8h8.7v5.5h-8.7zM1166.7 91.1h5.7v5.5h-5.7zM1209.6 91.1h5.7v5.5h-5.7z"/>
<path fill="#185858" d="M1155.9 43.9h5.7v5.5h-5.7zM1338.5 64.9h5.7v5.5h-5.7z"/>
<path fill="#584848" d="M1166.7 43.9h5.7v5.5h-5.7zM1129.1 54.4h5.7v5.5h-5.7zM1231.1 64.9h5.7v5.5h-5.7z"/>
<path fill="#285858" d="M1177.4 43.9h5.7v5.5h-5.7zM1182.8 64.9h5.7v5.5h-5.7zM1193.5 64.9h5.7v5.5h-5.7z"/>
<path fill="#981818" d="M1198.9 43.9h5.7v5.5h-5.7zM1295.6 43.9h5.7v5.5h-5.7zM1306.3 43.9h5.7v5.5h-5.7zM1306.3 54.4h5.7v5.5h-5.7zM1161.3 59.6h5.7v5.5h-5.7zM1220.4 75.3h5.7v5.5h-5.7zM1252.6 75.3h5.7v5.5h-5.7zM1029.4 85.8h8.7v5.5h-8.7zM1241.8 91.1h5.7v5.5h-5.7z"/>
<path fill="#385858" d="M1204.3 43.9h5.7v5.5h-5.7zM1037.8 54.4h5.7v5.5h-5.7zM1209.6 59.6h5.7v5.5h-5.7zM1166.7 64.9h5.7v5.5h-5.7zM1284.8 64.9h5.7v5.5h-5.7z"/>
<path fill="#680808" d="M1220.4 43.9h5.7v5.5h-5.7zM1225.7 54.4h5.7v5.5h-5.7zM1241.8 96.3h5.7v5.5h-5.7z"/>
<path fill="#782828" d="M1236.5 43.9h5.7v5.5h-5.7zM1080.7 49.2h5.7v5.5h-5.7zM1311.7 59.6h5.7v5.5h-5.7zM1263.3 75.3h5.7v5.5h-5.7zM1290.2 75.3h5.7v5.5h-5.7zM1107.6 80.6h5.7v5.5h-5.7zM1150.6 85.8h5.7v5.5h-5.7zM1080.7 91.1h5.7v5.5h-5.7z"/>
<path fill="#884848" d="M1258 43.9h5.7v5.5h-5.7zM1268.7 49.2h5.7v5.5h-5.7zM1102.2 64.9h5.7v5.5h-5.7zM1225.7 75.3h5.7v5.5h-5.7zM1166.7 85.8h5.7v5.5h-5.7zM1300.9 91.1h5.7v5.5h-5.7z"/>
<path fill="#485858" d="M1268.7 43.9h5.7v5.5h-5.7zM1102.2 49.2h5.7v5.5h-5.7zM1284.8 49.2h5.7v5.5h-5.7zM1198.9 64.9h5.7v5.5h-5.7zM1118.3 80.6h5.7v5.5h-5.7zM1204.3 91.1h5.7v5.5h-5.7z"/>
<path fill="#885858" d="M1274.1 43.9h5.7v5.5h-5.7zM1075.4 85.8h5.7v5.5h-5.7zM1333.1 91.1h5.7v5.5h-5.7z"/>
<path fill="#284848" d="M1338.5 43.9h5.7v5.5h-5.7zM1204.3 64.9h5.7v5.5h-5.7z"/>
<path fill="#984848" d="M1091.5 49.2h5.7v5.5h-5.7zM1070 80.6h5.7v5.5h-5.7zM1215 80.6h5.7v5.5h-5.7zM1306.3 80.6h5.7v5.5h-5.7zM1241.8 85.8h5.7v5.5h-5.7z"/>
<path fill="#282828" d="M1113 49.2h5.7v5.5h-5.7zM1204.3 49.2h5.7v5.5h-5.7zM1145.2 54.4h5.7v5.5h-5.7zM1338.5 54.4h5.7v5.5h-5.7zM1177.4 91.1h5.7v5.5h-5.7zM1182.8 91.1h5.7v5.5h-5.7zM1300.9 122.5h5.7v5.5h-5.7z"/>
<path fill="#985858" d="M1139.8 49.2h5.7v5.5h-5.7zM1080.7 59.6h5.7v5.5h-5.7zM1274.1 59.6h5.7v5.5h-5.7zM1075.4 64.9h5.7v5.5h-5.7zM1166.7 75.3h5.7v5.5h-5.7zM1193.5 75.3h5.7v5.5h-5.7zM1322.4 75.3h5.7v5.5h-5.7zM1193.5 85.8h5.7v5.5h-5.7z"/>
<path fill="#780808" d="M1193.5 49.2h5.7v5.5h-5.7zM1241.8 54.4h5.7v5.5h-5.7zM1086.1 59.6h5.7v5.5h-5.7z"/>
<path fill="#280808" d="M1349.3 49.2h5.7v5.5h-5.7zM1102.2 96.3h5.7v5.5h-5.7zM1172 96.3h5.7v5.5h-5.7zM1193.5 96.3h5.7v5.5h-5.7zM1231.1 96.3h5.7v5.5h-5.7zM1268.7 96.3h5.7v5.5h-5.7zM1317 96.3h5.7v5.5h-5.7zM1322.4 96.3h5.7v5.5h-5.7zM1129.1 101.5h5.7v5.5h-5.7zM1177.4 101.5h5.7v5.5h-5.7zM1096.8 106.8h5.7v5.5h-5.7zM1123.7 106.8h5.7v5.5h-5.7zM1220.4 106.8h5.7v5.5h-5.7zM1236.5 106.8h5.7v5.5h-5.7zM1295.6 106.8h5.7v5.5h-5.7zM1327.8 106.8h5.7v5.5h-5.7zM1333.1 106.8h5.7v5.5h-5.7zM1086.1 112h5.7v5.5h-5.7zM1134.4 112h5.7v5.5h-5.7zM1193.5 112h5.7v5.5h-5.7zM1290.2 112h5.7v5.5h-5.7zM1300.9 112h5.7v5.5h-5.7zM1322.4 112h5.7v5.5h-5.7zM1053.9 117.2h5.7v5.5h-5.7zM1123.7 117.2h5.7v5.5h-5.7zM1177.4 117.2h5.7v5.5h-5.7zM1215 117.2h5.7v5.5h-5.7zM1252.6 117.2h5.7v5.5h-5.7zM1263.3 117.2h5.7v5.5h-5.7zM1306.3 117.2h5.7v5.5h-5.7zM1037.8 122.5h5.7v5.5h-5.7zM1043.1 127.7h5.7v5.5h-5.7zM1263.3 127.7h5.7v5.5h-5.7zM1322.4 127.7h5.7v5.5h-5.7zM1327.8 127.7h5.7v5.5h-5.7zM1300.9 132.9h5.7v5.5h-5.7zM1155.9 138.2h5.7v8.5h-5.7zM1247.2 138.2h5.7v8.5h-5.7zM1274.1 138.2h5.7v8.5h-5.7zM1349.3 138.2h5.7v8.5h-5.7z"/>
<path fill="#683838" d="M1048.5 54.4h5.7v5.5h-5.7zM1327.8 59.6h5.7v5.5h-5.7z"/>
<path fill="#982828" d="M1091.5 54.4h5.7v5.5h-5.7zM1029.4 59.6h8.7v5.5h-8.7zM1274.1 75.3h5.7v5.5h-5.7zM1080.7 80.6h5.7v5.5h-5.7zM1274.1 80.6h5.7v5.5h-5.7zM1279.4 80.6h5.7v5.5h-5.7zM1333.1 80.6h5.7v5.5h-5.7zM1236.5 85.8h5.7v5.5h-5.7zM1091.5 91.1h5.7v5.5h-5.7z"/>
<path fill="#386868" d="M1102.2 54.4h5.7v5.5h-5.7zM1150.6 54.4h5.7v5.5h-5.7z"/>
<path fill="#a81818" d="M1091.5 59.6h5.7v5.5h-5.7zM1295.6 59.6h5.7v5.5h-5.7zM1333.1 75.3h5.7v5.5h-5.7zM1343.9 75.3h5.7v5.5h-5.7zM1091.5 80.6h5.7v5.5h-5.7zM1188.1 80.6h5.7v5.5h-5.7zM1300.9 80.6h5.7v5.5h-5.7zM1139.8 85.8h5.7v5.5h-5.7zM1225.7 85.8h5.7v5.5h-5.7zM1290.2 85.8h5.7v5.5h-5.7zM1349.3 85.8h5.7v5.5h-5.7z"/>
<path fill="#383838" d="M1118.3 59.6h5.7v5.5h-5.7z"/>
<path fill="#486868" d="M1123.7 59.6h5.7v5.5h-5.7zM1096.8 80.6h5.7v5.5h-5.7z"/>
<path fill="#184848" d="M1182.8 59.6h5.7v5.5h-5.7zM1129.1 117.2h5.7v5.5h-5.7z"/>
<path fill="#587878" d="M1043.1 64.9h5.7v5.5h-5.7z"/>
<path fill="#b84848" d="M1086.1 64.9h5.7v5.5h-5.7zM1300.9 85.8h5.7v5.5h-5.7z"/>
<path fill="#586878" d="M1096.8 64.9h5.7v5.5h-5.7z"/>
<path fill="#484858" d="M1107.6 64.9h5.7v5.5h-5.7z"/>
<path fill="#187878" d="M1145.2 64.9h5.7v5.5h-5.7zM1317 64.9h5.7v5.5h-5.7z"/>
<path fill="#283838" d="M1155.9 64.9h5.7v5.5h-5.7z"/>
<path fill="#686868" d="M1161.3 64.9h5.7v5.5h-5.7zM1263.3 64.9h5.7v5.5h-5.7z"/>
<path fill="#186868" d="M1177.4 64.9h5.7v5.5h-5.7zM1215 64.9h5.7v5.5h-5.7zM1220.4 64.9h5.7v5.5h-5.7z"/>
<path fill="#187888" d="M1188.1 64.9h5.7v5.5h-5.7z"/>
<path fill="#387878" d="M1209.6 64.9h5.7v5.5h-5.7zM1252.6 64.9h5.7v5.5h-5.7zM1145.2 85.8h5.7v5.5h-5.7z"/>
<path fill="#483838" d="M1225.7 64.9h5.7v5.5h-5.7z"/>
<path fill="#588888" d="M1236.5 64.9h5.7v5.5h-5.7z"/>
<path fill="#886868" d="M1241.8 64.9h5.7v5.5h-5.7z"/>
<path fill="#687878" d="M1247.2 64.9h5.7v5.5h-5.7zM1274.1 64.9h5.7v5.5h-5.7zM1333.1 64.9h5.7v5.5h-5.7z"/>
<path fill="#58b8b8" d="M1258 64.9h5.7v5.5h-5.7z"/>
<path fill="#786878" d="M1268.7 64.9h5.7v5.5h-5.7z"/>
<path fill="#183838" d="M1279.4 64.9h5.7v5.5h-5.7zM1145.2 122.5h5.7v5.5h-5.7z"/>
<path fill="#487878" d="M1290.2 64.9h5.7v5.5h-5.7z"/>
<path fill="#58b8c8" d="M1295.6 64.9h5.7v5.5h-5.7z"/>
<path fill="#487888" d="M1300.9 64.9h5.7v5.5h-5.7z"/>
<path fill="#288898" d="M1306.3 64.9h5.7v5.5h-5.7z"/>
<path fill="#384858" d="M1311.7 64.9h5.7v5.5h-5.7z"/>
<path fill="#583838" d="M1322.4 64.9h5.7v5.5h-5.7z"/>
<path fill="#788888" d="M1327.8 64.9h5.7v5.5h-5.7z"/>
<path fill="#787878" d="M1343.9 64.9h5.7v5.5h-5.7zM1317 85.8h5.7v5.5h-5.7z"/>
<path fill="#188888" d="M1349.3 64.9h5.7v5.5h-5.7z"/>
<path fill="#089898" d="M1354.6 64.9h8.7v5.5h-8.7z"/>
<path fill="#f8f8f8" d="M1029.4 70.1h8.7v5.5h-8.7zM1059.3 70.1h5.7v5.5h-5.7zM1080.7 70.1h5.7v5.5h-5.7zM1086.1 70.1h5.7v5.5h-5.7zM1102.2 70.1h5.7v5.5h-5.7z"/>
<path fill="#f8e8e8" d="M1037.8 70.1h5.7v5.5h-5.7zM1096.8 70.1h5.7v5.5h-5.7zM1107.6 70.1h5.7v5.5h-5.7zM1113 70.1h5.7v5.5h-5.7zM1118.3 70.1h5.7v5.5h-5.7zM1145.2 70.1h5.7v5.5h-5.7zM1048.5 75.3h5.7v5.5h-5.7z"/>
<path fill="#f8d8d8" d="M1043.1 70.1h5.7v5.5h-5.7zM1064.6 70.1h5.7v5.5h-5.7z"/>
<path fill="#b88888" d="M1048.5 70.1h5.7v5.5h-5.7z"/>
<path fill="#887878" d="M1053.9 70.1h5.7v5.5h-5.7z"/>
<path fill="#e8a898" d="M1070 70.1h5.7v5.5h-5.7z"/>
<path fill="#f8a8a8" d="M1075.4 70.1h5.7v5.5h-5.7zM1145.2 75.3h5.7v5.5h-5.7zM1150.6 75.3h5.7v5.5h-5.7z"/>
<path fill="#f8c8b8" d="M1091.5 70.1h5.7v5.5h-5.7zM1070 75.3h5.7v5.5h-5.7z"/>
<path fill="#c89898" d="M1123.7 70.1h5.7v5.5h-5.7z"/>
<path fill="#f8b8a8" d="M1129.1 70.1h5.7v5.5h-5.7z"/>
<path fill="#f8c8c8" d="M1134.4 70.1h5.7v5.5h-5.7zM1053.9 75.3h5.7v5.5h-5.7z"/>
<path fill="#f89898" d="M1139.8 70.1h5.7v5.5h-5.7zM1059.3 75.3h5.7v5.5h-5.7zM1075.4 75.3h5.7v5.5h-5.7zM1134.4 75.3h5.7v5.5h-5.7z"/>
<path fill="#f8d8c8" d="M1150.6 70.1h5.7v5.5h-5.7z"/>
<path fill="#18a8b8" d="M1155.9 70.1h5.7v5.5h-5.7z"/>
<path fill="#68d8d8" d="M1161.3 70.1h5.7v5.5h-5.7z"/>
<path fill="#38d8e8" d="M1166.7 70.1h5.7v5.5h-5.7zM1322.4 70.1h5.7v5.5h-5.7z"/>
<path fill="#38d8d8" d="M1172 70.1h5.7v5.5h-5.7zM1231.1 70.1h5.7v5.5h-5.7zM1284.8 70.1h5.7v5.5h-5.7zM1327.8 70.1h5.7v5.5h-5.7z"/>
<path fill="#18c8d8" d="M1177.4 70.1h5.7v5.5h-5.7zM1263.3 70.1h5.7v5.5h-5.7z"/>
<path fill="#08a8b8" d="M1182.8 70.1h5.7v5.5h-5.7z"/>
<path fill="#689898" d="M1188.1 70.1h5.7v5.5h-5.7z"/>
<path fill="#38a8a8" d="M1193.5 70.1h5.7v5.5h-5.7z"/>
<path fill="#48b8b8" d="M1198.9 70.1h5.7v5.5h-5.7zM1252.6 70.1h5.7v5.5h-5.7z"/>
<path fill="#08e8f8" d="M1204.3 70.1h5.7v5.5h-5.7z"/>
<path fill="#48d8e8" d="M1209.6 70.1h5.7v5.5h-5.7zM1225.7 70.1h5.7v5.5h-5.7z"/>
<path fill="#18a8a8" d="M1215 70.1h5.7v5.5h-5.7z"/>
<path fill="#2898a8" d="M1220.4 70.1h5.7v5.5h-5.7z"/>
<path fill="#688888" d="M1236.5 70.1h5.7v5.5h-5.7z"/>
<path fill="#88d8e8" d="M1241.8 70.1h5.7v5.5h-5.7z"/>
<path fill="#489898" d="M1247.2 70.1h5.7v5.5h-5.7z"/>
<path fill="#388888" d="M1258 70.1h5.7v5.5h-5.7z"/>
<path fill="#38c8c8" d="M1268.7 70.1h5.7v5.5h-5.7z"/>
<path fill="#68c8c8" d="M1274.1 70.1h5.7v5.5h-5.7z"/>
<path fill="#08c8c8" d="M1279.4 70.1h5.7v5.5h-5.7z"/>
<path fill="#38b8b8" d="M1290.2 70.1h5.7v5.5h-5.7z"/>
<path fill="#987878" d="M1295.6 70.1h5.7v5.5h-5.7z"/>
<path fill="#48a8a8" d="M1300.9 70.1h5.7v5.5h-5.7z"/>
<path fill="#38f8f8" d="M1306.3 70.1h5.7v5.5h-5.7z"/>
<path fill="#18f8f8" d="M1311.7 70.1h5.7v5.5h-5.7z"/>
<path fill="#189898" d="M1317 70.1h5.7v5.5h-5.7z"/>
<path fill="#48c8c8" d="M1333.1 70.1h5.7v5.5h-5.7z"/>
<path fill="#08d8d8" d="M1338.5 70.1h5.7v5.5h-5.7z"/>
<path fill="#7898a8" d="M1343.9 70.1h5.7v5.5h-5.7z"/>
<path fill="#388898" d="M1349.3 70.1h5.7v5.5h-5.7z"/>
<path fill="#08b8b8" d="M1354.6 70.1h8.7v5.5h-8.7z"/>
<path fill="#f85858" d="M1029.4 75.3h8.7v5.5h-8.7zM1198.9 80.6h5.7v5.5h-5.7zM1343.9 80.6h5.7v5.5h-5.7z"/>
<path fill="#b83838" d="M1037.8 75.3h5.7v5.5h-5.7z"/>
<path fill="#d82828" d="M1043.1 75.3h5.7v5.5h-5.7zM1177.4 80.6h5.7v5.5h-5.7zM1295.6 80.6h5.7v5.5h-5.7zM1247.2 85.8h5.7v5.5h-5.7z"/>
<path fill="#f87878" d="M1064.6 75.3h5.7v5.5h-5.7zM1113 75.3h5.7v5.5h-5.7z"/>
<path fill="#f84848" d="M1080.7 75.3h5.7v5.5h-5.7zM1172 80.6h5.7v5.5h-5.7z"/>
<path fill="#e83838" d="M1086.1 75.3h5.7v5.5h-5.7zM1096.8 75.3h5.7v5.5h-5.7zM1161.3 75.3h5.7v5.5h-5.7z"/>
<path fill="#f88888" d="M1091.5 75.3h5.7v5.5h-5.7zM1129.1 75.3h5.7v5.5h-5.7z"/>
<path fill="#c82828" d="M1102.2 75.3h5.7v5.5h-5.7zM1241.8 75.3h5.7v5.5h-5.7zM1268.7 75.3h5.7v5.5h-5.7zM1150.6 80.6h5.7v5.5h-5.7zM1209.6 80.6h5.7v5.5h-5.7zM1231.1 80.6h5.7v5.5h-5.7zM1241.8 80.6h5.7v5.5h-5.7zM1247.2 80.6h5.7v5.5h-5.7zM1349.3 80.6h5.7v5.5h-5.7z"/>
<path fill="#f86868" d="M1107.6 75.3h5.7v5.5h-5.7z"/>
<path fill="#e86868" d="M1118.3 75.3h5.7v5.5h-5.7z"/>
<path fill="#f8b8b8" d="M1123.7 75.3h5.7v5.5h-5.7z"/>
<path fill="#f8a898" d="M1139.8 75.3h5.7v5.5h-5.7z"/>
<path fill="#586868" d="M1155.9 75.3h5.7v5.5h-5.7z"/>
<path fill="#a84848" d="M1177.4 75.3h5.7v5.5h-5.7zM1263.3 91.1h5.7v5.5h-5.7z"/>
<path fill="#786868" d="M1215 75.3h5.7v5.5h-5.7z"/>
<path fill="#d86868" d="M1236.5 75.3h5.7v5.5h-5.7z"/>
<path fill="#b82828" d="M1247.2 75.3h5.7v5.5h-5.7zM1145.2 80.6h5.7v5.5h-5.7zM1161.3 80.6h5.7v5.5h-5.7zM1225.7 80.6h5.7v5.5h-5.7zM1252.6 80.6h5.7v5.5h-5.7zM1258 80.6h5.7v5.5h-5.7zM1284.8 80.6h5.7v5.5h-5.7zM1290.2 80.6h5.7v5.5h-5.7zM1322.4 85.8h5.7v5.5h-5.7z"/>
<path fill="#e82828" d="M1258 75.3h5.7v5.5h-5.7zM1295.6 85.8h5.7v5.5h-5.7zM1306.3 85.8h5.7v5.5h-5.7z"/>
<path fill="#482838" d="M1279.4 75.3h5.7v5.5h-5.7z"/>
<path fill="#a86868" d="M1311.7 75.3h5.7v5.5h-5.7z"/>
<path fill="#386878" d="M1317 75.3h5.7v5.5h-5.7z"/>
<path fill="#d81818" d="M1029.4 80.6h8.7v5.5h-8.7zM1193.5 80.6h5.7v5.5h-5.7zM1236.5 80.6h5.7v5.5h-5.7zM1209.6 85.8h5.7v5.5h-5.7z"/>
<path fill="#784848" d="M1059.3 80.6h5.7v5.5h-5.7zM1204.3 85.8h5.7v5.5h-5.7zM1070 91.1h5.7v5.5h-5.7z"/>
<path fill="#b81818" d="M1075.4 80.6h5.7v5.5h-5.7zM1166.7 80.6h5.7v5.5h-5.7zM1311.7 80.6h5.7v5.5h-5.7zM1198.9 85.8h5.7v5.5h-5.7zM1258 85.8h5.7v5.5h-5.7zM1311.7 85.8h5.7v5.5h-5.7zM1306.3 91.1h5.7v5.5h-5.7zM1327.8 91.1h5.7v5.5h-5.7z"/>
<path fill="#f81818" d="M1139.8 80.6h5.7v5.5h-5.7z"/>
<path fill="#c81818" d="M1182.8 80.6h5.7v5.5h-5.7zM1333.1 85.8h5.7v5.5h-5.7z"/>
<path fill="#e81818" d="M1220.4 80.6h5.7v5.5h-5.7z"/>
<path fill="#f82828" d="M1268.7 80.6h5.7v5.5h-5.7z"/>
<path fill="#984858" d="M1317 80.6h5.7v5.5h-5.7z"/>
<path fill="#e85858" d="M1327.8 80.6h5.7v5.5h-5.7z"/>
<path fill="#a83838" d="M1263.3 85.8h5.7v5.5h-5.7z"/>
<path fill="#a86878" d="M1327.8 85.8h5.7v5.5h-5.7z"/>
<path fill="#c84848" d="M1029.4 91.1h8.7v5.5h-8.7z"/>
<path fill="#880808" d="M1075.4 91.1h5.7v5.5h-5.7zM1029.4 132.9h8.7v5.5h-8.7z"/>
<path fill="#384848" d="M1102.2 91.1h5.7v5.5h-5.7z"/>
<path fill="#585858" d="M1123.7 91.1h5.7v5.5h-5.7z"/>
<path fill="#081818" d="M1037.8 96.3h5.7v5.5h-5.7zM1354.6 101.5h8.7v5.5h-8.7zM1118.3 106.8h5.7v5.5h-5.7zM1182.8 112h5.7v5.5h-5.7zM1204.3 112h5.7v5.5h-5.7zM1118.3 117.2h5.7v5.5h-5.7zM1354.6 117.2h8.7v5.5h-8.7zM1113 122.5h5.7v5.5h-5.7zM1354.6 122.5h8.7v5.5h-8.7zM1155.9 127.7h5.7v5.5h-5.7zM1354.6 127.7h8.7v5.5h-8.7zM1317 132.9h5.7v5.5h-5.7zM1279.4 138.2h5.7v8.5h-5.7z"/>
<path fill="#082828" d="M1145.2 96.3h5.7v5.5h-5.7z"/>
<path fill="#080808" d="M1145.2 101.5h5.7v5.5h-5.7zM1317 112h5.7v5.5h-5.7zM1037.8 117.2h5.7v5.5h-5.7zM1204.3 122.5h5.7v5.5h-5.7zM1118.3 127.7h5.7v5.5h-5.7z"/>
<path fill="#182828" d="M1053.9 112h5.7v5.5h-5.7zM1053.9 138.2h5.7v8.5h-5.7z"/>
<path fill="#182838" d="M1059.3 122.5h5.7v5.5h-5.7zM1225.7 122.5h5.7v5.5h-5.7z"/>
<path fill="#084848" d="M1182.8 122.5h5.7v5.5h-5.7zM1118.3 138.2h5.7v8.5h-5.7z"/>
<path fill="#084858" d="M1182.8 127.7h5.7v5.5h-5.7z"/>
</g></g>
<rect x="1041.5" y="90.4" width="4" height="48.2" fill="#fff"/>
<text x="1063.5" y="138.6" fill="#fff" transform="rotate(-90 1063.5 138.6)" style="font-size:21px">2 μm</text>
<rect x="1032.4" y="145.2" width="111.3" height="28.3" fill="#56bec6"/>
<rect x="1143.7" y="145.2" width="69.1" height="28.3" fill="#8dc03f"/>
<rect x="1212.8" y="145.2" width="147.5" height="28.3" fill="#c6e3ec"/>
<text x="1148.5" y="168.5" fill="#1a1a1a" style="font-size:28.8px">shrink</text>
<text x="1028.7" y="26.8" fill="#1a1a1a" style="font-size:29.2px;font-weight:bold">Gradual loop size decrease</text>
<text x="951.6" y="24" fill="#1a1a1a" style="font-size:45px;font-weight:bold">e</text>
<text x="997.1" y="65.8" style="font-size:22.5px">C</text>
<text x="998.4" y="93.7" style="font-size:22.5px">N</text>
<path d="M1022.6 50.6 Q1017.3 54.3 1017.2 60.6" fill="none" stroke="#e02626" stroke-width="3.6" stroke-linecap="round"/>
<path d="M1013 65.8 L1015.8 61.6 L1020.8 62.4 L1025.8 63.6 Q1024.3 69.8 1022 77.2 Z" fill="#1793b3"/>
<path d="M1023 77.4 C1019.8 82.8 1015.3 88.8 1017.4 96.8 C1019.3 103.8 1023.8 107.8 1022.3 114.8 C1021.3 119.8 1019.3 123.8 1018.8 128.3" fill="none" stroke="#e02626" stroke-width="3.6" stroke-linecap="round"/>
<clipPath id="pce"><rect x="1032.5" y="177.3" width="328" height="91.2"/></clipPath>
<g clip-path="url(#pce)">
<g fill="#999999" fill-opacity="0.33">
<circle cx="1035.5" cy="265.5" r="7.8"/>
<circle cx="1039.6" cy="265.5" r="7.8"/>
<circle cx="1044.6" cy="263.9" r="7.8"/>
<circle cx="1050.3" cy="246.7" r="7.8"/>
<circle cx="1057" cy="242.7" r="7.8"/>
<circle cx="1063.2" cy="265.5" r="7.8"/>
<circle cx="1067.7" cy="252.2" r="7.8"/>
<circle cx="1073.6" cy="251.5" r="7.8"/>
<circle cx="1078.5" cy="253" r="7.8"/>
<circle cx="1083.6" cy="248.7" r="7.8"/>
<circle cx="1088.5" cy="254.7" r="7.8"/>
<circle cx="1095.1" cy="265.5" r="7.8"/>
<circle cx="1101.5" cy="265.5" r="7.8"/>
<circle cx="1105.8" cy="258.1" r="7.8"/>
<circle cx="1112.1" cy="244" r="7.8"/>
<circle cx="1118.9" cy="262.9" r="7.8"/>
<circle cx="1125.6" cy="259.4" r="7.8"/>
<circle cx="1130" cy="255.3" r="7.8"/>
<circle cx="1136.1" cy="240.9" r="7.8"/>
<circle cx="1143.2" cy="258.6" r="7.8"/>
<circle cx="1147.9" cy="247.4" r="7.8"/>
<circle cx="1153.5" cy="260.3" r="7.8"/>
<circle cx="1160.9" cy="235.2" r="7.8"/>
<circle cx="1167.9" cy="201.9" r="7.8"/>
<circle cx="1175.2" cy="199.9" r="7.8"/>
<circle cx="1181.4" cy="208.1" r="7.8"/>
<circle cx="1186.5" cy="205.1" r="7.8"/>
<circle cx="1191.3" cy="198.9" r="7.8"/>
<circle cx="1197.4" cy="210.1" r="7.8"/>
<circle cx="1203.5" cy="195.8" r="7.8"/>
<circle cx="1209.5" cy="207.2" r="7.8"/>
<circle cx="1214.9" cy="208.2" r="7.8"/>
<circle cx="1222" cy="189.2" r="7.8"/>
<circle cx="1229.4" cy="207" r="7.8"/>
<circle cx="1233.6" cy="206.7" r="7.8"/>
<circle cx="1237.6" cy="191.8" r="7.8"/>
<circle cx="1242.4" cy="180.3" r="7.8"/>
<circle cx="1249.5" cy="203" r="7.8"/>
<circle cx="1254.8" cy="211.3" r="7.8"/>
<circle cx="1262.2" cy="206.9" r="7.8"/>
<circle cx="1269.6" cy="242.3" r="7.8"/>
<circle cx="1274.1" cy="247.2" r="7.8"/>
<circle cx="1279.3" cy="225.5" r="7.8"/>
<circle cx="1283.4" cy="191.4" r="7.8"/>
<circle cx="1287.5" cy="220.7" r="7.8"/>
<circle cx="1294.9" cy="197.2" r="7.8"/>
<circle cx="1300.2" cy="193.3" r="7.8"/>
<circle cx="1304.4" cy="217.6" r="7.8"/>
<circle cx="1310.6" cy="209.9" r="7.8"/>
<circle cx="1317.2" cy="204.8" r="7.8"/>
<circle cx="1322.1" cy="215.3" r="7.8"/>
<circle cx="1328.3" cy="197.9" r="7.8"/>
<circle cx="1334.6" cy="200.9" r="7.8"/>
<circle cx="1338.8" cy="226.6" r="7.8"/>
<circle cx="1346" cy="181.5" r="7.8"/>
<circle cx="1352" cy="186.6" r="7.8"/>
<circle cx="1357.4" cy="194.8" r="7.8"/>
</g>
<g fill="#e23c3c" fill-opacity="0.3">
<circle cx="1035.5" cy="195.1" r="7.8"/>
<circle cx="1042.2" cy="203.3" r="7.8"/>
<circle cx="1048.7" cy="188.2" r="7.8"/>
<circle cx="1053" cy="206.5" r="7.8"/>
<circle cx="1057.3" cy="196.7" r="7.8"/>
<circle cx="1061.6" cy="218.4" r="7.8"/>
<circle cx="1068.3" cy="206.7" r="7.8"/>
<circle cx="1072.2" cy="202" r="7.8"/>
<circle cx="1078.2" cy="180.3" r="7.8"/>
<circle cx="1082.9" cy="203.1" r="7.8"/>
<circle cx="1088.5" cy="194.9" r="7.8"/>
<circle cx="1093.5" cy="223.8" r="7.8"/>
<circle cx="1098.1" cy="238.6" r="7.8"/>
<circle cx="1103.9" cy="232.9" r="7.8"/>
<circle cx="1109.6" cy="228.6" r="7.8"/>
<circle cx="1114.4" cy="208.6" r="7.8"/>
<circle cx="1119.4" cy="195" r="7.8"/>
<circle cx="1123" cy="214.7" r="7.8"/>
<circle cx="1128.1" cy="192.1" r="7.8"/>
<circle cx="1131.8" cy="199.7" r="7.8"/>
<circle cx="1137.7" cy="213.1" r="7.8"/>
<circle cx="1141.8" cy="191.7" r="7.8"/>
<circle cx="1145.5" cy="200.6" r="7.8"/>
<circle cx="1149.6" cy="215.4" r="7.8"/>
<circle cx="1155.4" cy="223.8" r="7.8"/>
<circle cx="1161.1" cy="215.4" r="7.8"/>
<circle cx="1166.2" cy="222.7" r="7.8"/>
<circle cx="1170.8" cy="246.9" r="7.8"/>
<circle cx="1177.2" cy="239.5" r="7.8"/>
<circle cx="1180.8" cy="231.4" r="7.8"/>
<circle cx="1184.7" cy="262.1" r="7.8"/>
<circle cx="1191.3" cy="255.3" r="7.8"/>
<circle cx="1197.7" cy="256.3" r="7.8"/>
<circle cx="1203.5" cy="253.1" r="7.8"/>
<circle cx="1209.6" cy="265.5" r="7.8"/>
<circle cx="1213.7" cy="240.4" r="7.8"/>
<circle cx="1217.9" cy="257.6" r="7.8"/>
<circle cx="1224.3" cy="229" r="7.8"/>
<circle cx="1229.3" cy="252.5" r="7.8"/>
<circle cx="1236" cy="245.1" r="7.8"/>
<circle cx="1242.4" cy="250.1" r="7.8"/>
<circle cx="1247.7" cy="256" r="7.8"/>
<circle cx="1253.5" cy="248.5" r="7.8"/>
<circle cx="1258" cy="253.3" r="7.8"/>
<circle cx="1264.2" cy="265.5" r="7.8"/>
<circle cx="1268.6" cy="255.2" r="7.8"/>
<circle cx="1272.9" cy="261.9" r="7.8"/>
<circle cx="1279.4" cy="255.4" r="7.8"/>
<circle cx="1284" cy="246.8" r="7.8"/>
<circle cx="1290.4" cy="247.4" r="7.8"/>
<circle cx="1294.1" cy="224.6" r="7.8"/>
<circle cx="1299.2" cy="223.8" r="7.8"/>
<circle cx="1304.6" cy="244.3" r="7.8"/>
<circle cx="1309.1" cy="233" r="7.8"/>
<circle cx="1314.8" cy="227.3" r="7.8"/>
<circle cx="1319.5" cy="236.9" r="7.8"/>
<circle cx="1326" cy="240.7" r="7.8"/>
<circle cx="1332.5" cy="264.3" r="7.8"/>
<circle cx="1337.3" cy="253.4" r="7.8"/>
<circle cx="1341.2" cy="247.3" r="7.8"/>
<circle cx="1345.3" cy="251.5" r="7.8"/>
<circle cx="1350.1" cy="249.4" r="7.8"/>
<circle cx="1355.1" cy="228.9" r="7.8"/>
</g>
<path d="M1033.2 256.6 L1039.1 263.6 L1069.6 263.6 L1074.3 255.4 L1090.8 255.4 L1095.5 262.5 L1102.5 255.4 L1119 255.4 L1126 263.6 L1147.2 263.6 L1156.6 244.8 L1166 199 L1175.4 208.4 L1236.5 208.4 L1244.7 180.2 L1250.6 207.2 L1257.6 209.6 L1271.7 235.4 L1278.8 219 L1283.5 199 L1302.3 199 L1309.3 208.4 L1314 199 L1344.5 199 L1349.2 189.6 L1359.8 189.6" stroke="#6b6b6b" stroke-width="5.8" fill="none" stroke-linejoin="round"/>
<path d="M1033.2 200.2 L1043.8 208.4 L1055.5 201.4 L1072 199 L1079 187.3 L1088.4 201.4 L1095.5 226 L1100.2 217.8 L1111.9 220.2 L1123.7 203.7 L1135.4 201.4 L1142.5 189.6 L1148.4 207.2 L1154.2 226 L1160.1 222.5 L1166 247.2 L1177.7 246 L1187.1 253.1 L1198.9 253.1 L1210.6 266 L1220 248.4 L1231.8 247.2 L1243.5 253.1 L1260 249.5 L1271.7 236.6 L1283.5 231.9 L1295.2 241.3 L1318.7 241.3 L1330.5 247.2 L1349.2 242.5 L1358.6 235.4" stroke="#e02626" stroke-width="5.8" fill="none" stroke-linejoin="round"/>
</g>
<line x1="1144.5" y1="177.3" x2="1144.5" y2="268.5" stroke="#000" stroke-width="1.8" stroke-dasharray="7 4.5"/>
<rect x="1032.5" y="177.3" width="328" height="91.2" fill="none" stroke="#000" stroke-width="1.8"/>
<line x1="1144.5" y1="268.5" x2="1144.5" y2="259.5" stroke="#000" stroke-width="1.8"/>
<line x1="1144.5" y1="177.3" x2="1144.5" y2="186.3" stroke="#000" stroke-width="1.8"/>
<text x="1144.5" y="296.5" text-anchor="middle" style="font-size:24.5px">0</text>
<line x1="1292" y1="268.5" x2="1292" y2="259.5" stroke="#000" stroke-width="1.8"/>
<line x1="1292" y1="177.3" x2="1292" y2="186.3" stroke="#000" stroke-width="1.8"/>
<text x="1292" y="296.5" text-anchor="middle" style="font-size:24.5px">10</text>
<line x1="1032.5" y1="193.1" x2="1041.5" y2="193.1" stroke="#d0363b" stroke-width="1.8"/>
<text x="1020.5" y="204.1" text-anchor="end" fill="#d0363b" style="font-size:24.5px">5.0</text>
<line x1="1032.5" y1="240.1" x2="1041.5" y2="240.1" stroke="#d0363b" stroke-width="1.8"/>
<text x="1020.5" y="251.3" text-anchor="end" fill="#d0363b" style="font-size:24.5px">2.5</text>
<line x1="1360.5" y1="217.8" x2="1351.5" y2="217.8" stroke="#808080" stroke-width="1.8"/>
<text x="1365.5" y="226.7" fill="#808080" style="font-size:24.5px">5</text>
<line x1="1360.5" y1="262.5" x2="1351.5" y2="262.5" stroke="#808080" stroke-width="1.8"/>
<text x="1365.5" y="274.7" fill="#808080" style="font-size:24.5px">0</text>
<text x="1220" y="324.8" text-anchor="middle" style="font-size:28.8px">Time (s)</text>
<text x="973" y="229.5" text-anchor="middle" fill="#d0363b" transform="rotate(-90 973 229.5)" style="font-size:29px">Loop size (kb)</text>
<text x="1404.8" y="224.5" text-anchor="middle" fill="#808080" transform="rotate(-90 1404.8 224.5)" style="font-size:29px">Loop-CTCF</text>
<text x="1441" y="224.5" text-anchor="middle" fill="#808080" transform="rotate(-90 1441 224.5)" style="font-size:29px">distance (kb)</text>
<clipPath id="kcd"><rect x="466.6" y="561.6" width="323.7" height="107.4"/></clipPath>
<g clip-path="url(#kcd)"><g filter="url(#kblur)">
<rect x="463.6" y="558.6" width="329.7" height="113.4" fill="#3a0a0a"/>
<path fill="#081818" d="M463.6 558.6h8.7v8.4h-8.7zM482.8 558.6h5.7v8.4h-5.7zM488.2 558.6h5.7v8.4h-5.7zM493.6 558.6h5.7v8.4h-5.7zM520.5 558.6h5.7v8.4h-5.7zM563.7 558.6h5.7v8.4h-5.7zM569.1 558.6h5.7v8.4h-5.7zM601.5 558.6h5.7v8.4h-5.7zM650 558.6h5.7v8.4h-5.7zM463.6 566.7h8.7v5.4h-8.7zM698.6 566.7h5.7v5.4h-5.7zM731 566.7h5.7v5.4h-5.7zM520.5 571.8h5.7v5.4h-5.7zM542.1 571.8h5.7v5.4h-5.7zM612.3 571.8h5.7v5.4h-5.7zM731 571.8h5.7v5.4h-5.7zM493.6 653.7h5.7v5.4h-5.7zM499 653.7h5.7v5.4h-5.7zM606.9 653.7h5.7v5.4h-5.7zM628.5 653.7h5.7v5.4h-5.7zM650 653.7h5.7v5.4h-5.7zM666.2 653.7h5.7v5.4h-5.7zM687.8 653.7h5.7v5.4h-5.7zM482.8 658.8h5.7v5.4h-5.7zM531.3 658.8h5.7v5.4h-5.7zM542.1 658.8h5.7v5.4h-5.7zM628.5 658.8h5.7v5.4h-5.7zM693.2 658.8h5.7v5.4h-5.7zM531.3 663.9h5.7v8.4h-5.7zM606.9 663.9h5.7v8.4h-5.7zM709.4 663.9h5.7v8.4h-5.7zM774.1 663.9h5.7v8.4h-5.7z"/>
<path fill="#182828" d="M472 558.6h5.7v8.4h-5.7zM509.8 558.6h5.7v8.4h-5.7zM585.3 558.6h5.7v8.4h-5.7zM617.7 558.6h5.7v8.4h-5.7zM628.5 558.6h5.7v8.4h-5.7zM725.6 558.6h5.7v8.4h-5.7zM488.2 566.7h5.7v5.4h-5.7zM493.6 566.7h5.7v5.4h-5.7zM509.8 566.7h5.7v5.4h-5.7zM520.5 566.7h5.7v5.4h-5.7zM525.9 566.7h5.7v5.4h-5.7zM531.3 566.7h5.7v5.4h-5.7zM704 566.7h5.7v5.4h-5.7zM741.7 566.7h5.7v5.4h-5.7zM752.5 566.7h5.7v5.4h-5.7zM779.5 566.7h5.7v5.4h-5.7zM784.9 566.7h8.7v5.4h-8.7zM463.6 571.8h8.7v5.4h-8.7zM482.8 571.8h5.7v5.4h-5.7zM493.6 571.8h5.7v5.4h-5.7zM499 571.8h5.7v5.4h-5.7zM504.4 571.8h5.7v5.4h-5.7zM590.7 571.8h5.7v5.4h-5.7zM596.1 571.8h5.7v5.4h-5.7zM639.2 571.8h5.7v5.4h-5.7zM655.4 571.8h5.7v5.4h-5.7zM671.6 571.8h5.7v5.4h-5.7zM698.6 571.8h5.7v5.4h-5.7zM720.2 571.8h5.7v5.4h-5.7zM757.9 571.8h5.7v5.4h-5.7zM763.3 571.8h5.7v5.4h-5.7zM768.7 571.8h5.7v5.4h-5.7zM714.8 628.1h5.7v5.4h-5.7zM504.4 653.7h5.7v5.4h-5.7zM520.5 653.7h5.7v5.4h-5.7zM574.5 653.7h5.7v5.4h-5.7zM585.3 653.7h5.7v5.4h-5.7zM623.1 653.7h5.7v5.4h-5.7zM633.8 653.7h5.7v5.4h-5.7zM639.2 653.7h5.7v5.4h-5.7zM644.6 653.7h5.7v5.4h-5.7zM671.6 653.7h5.7v5.4h-5.7zM682.4 653.7h5.7v5.4h-5.7zM714.8 653.7h5.7v5.4h-5.7zM720.2 653.7h5.7v5.4h-5.7zM741.7 653.7h5.7v5.4h-5.7zM515.2 658.8h5.7v5.4h-5.7zM520.5 658.8h5.7v5.4h-5.7zM606.9 658.8h5.7v5.4h-5.7zM644.6 658.8h5.7v5.4h-5.7zM666.2 658.8h5.7v5.4h-5.7zM682.4 658.8h5.7v5.4h-5.7zM687.8 658.8h5.7v5.4h-5.7zM736.3 658.8h5.7v5.4h-5.7zM763.3 658.8h5.7v5.4h-5.7zM779.5 658.8h5.7v5.4h-5.7zM472 663.9h5.7v8.4h-5.7zM477.4 663.9h5.7v8.4h-5.7zM504.4 663.9h5.7v8.4h-5.7zM596.1 663.9h5.7v8.4h-5.7zM617.7 663.9h5.7v8.4h-5.7zM623.1 663.9h5.7v8.4h-5.7zM655.4 663.9h5.7v8.4h-5.7zM682.4 663.9h5.7v8.4h-5.7zM731 663.9h5.7v8.4h-5.7zM779.5 663.9h5.7v8.4h-5.7z"/>
<path fill="#084848" d="M477.4 558.6h5.7v8.4h-5.7zM547.5 558.6h5.7v8.4h-5.7zM590.7 558.6h5.7v8.4h-5.7zM682.4 558.6h5.7v8.4h-5.7zM585.3 566.7h5.7v5.4h-5.7zM709.4 566.7h5.7v5.4h-5.7zM477.4 571.8h5.7v5.4h-5.7zM536.7 571.8h5.7v5.4h-5.7zM704 571.8h5.7v5.4h-5.7zM472 653.7h5.7v5.4h-5.7zM547.5 653.7h5.7v5.4h-5.7zM569.1 653.7h5.7v5.4h-5.7zM612.3 653.7h5.7v5.4h-5.7zM655.4 653.7h5.7v5.4h-5.7zM504.4 658.8h5.7v5.4h-5.7zM536.7 658.8h5.7v5.4h-5.7zM569.1 658.8h5.7v5.4h-5.7zM585.3 658.8h5.7v5.4h-5.7zM569.1 663.9h5.7v8.4h-5.7zM579.9 663.9h5.7v8.4h-5.7zM644.6 663.9h5.7v8.4h-5.7zM677 663.9h5.7v8.4h-5.7z"/>
<path fill="#082828" d="M499 558.6h5.7v8.4h-5.7zM714.8 558.6h5.7v8.4h-5.7zM768.7 558.6h5.7v8.4h-5.7zM671.6 566.7h5.7v5.4h-5.7zM525.9 571.8h5.7v5.4h-5.7zM547.5 571.8h5.7v5.4h-5.7zM569.1 571.8h5.7v5.4h-5.7zM666.2 571.8h5.7v5.4h-5.7zM709.4 571.8h5.7v5.4h-5.7zM741.7 571.8h5.7v5.4h-5.7zM525.9 653.7h5.7v5.4h-5.7zM563.7 653.7h5.7v5.4h-5.7zM579.9 653.7h5.7v5.4h-5.7zM601.5 653.7h5.7v5.4h-5.7zM747.1 653.7h5.7v5.4h-5.7zM752.5 653.7h5.7v5.4h-5.7zM612.3 658.8h5.7v5.4h-5.7zM623.1 658.8h5.7v5.4h-5.7zM655.4 658.8h5.7v5.4h-5.7zM709.4 658.8h5.7v5.4h-5.7zM725.6 658.8h5.7v5.4h-5.7zM463.6 663.9h8.7v8.4h-8.7zM482.8 663.9h5.7v8.4h-5.7zM493.6 663.9h5.7v8.4h-5.7zM520.5 663.9h5.7v8.4h-5.7zM536.7 663.9h5.7v8.4h-5.7zM660.8 663.9h5.7v8.4h-5.7zM687.8 663.9h5.7v8.4h-5.7zM693.2 663.9h5.7v8.4h-5.7zM698.6 663.9h5.7v8.4h-5.7zM714.8 663.9h5.7v8.4h-5.7zM720.2 663.9h5.7v8.4h-5.7zM736.3 663.9h5.7v8.4h-5.7z"/>
<path fill="#183838" d="M504.4 558.6h5.7v8.4h-5.7zM574.5 558.6h5.7v8.4h-5.7zM596.1 558.6h5.7v8.4h-5.7zM660.8 558.6h5.7v8.4h-5.7zM671.6 558.6h5.7v8.4h-5.7zM736.3 558.6h5.7v8.4h-5.7zM763.3 558.6h5.7v8.4h-5.7zM542.1 566.7h5.7v5.4h-5.7zM552.9 566.7h5.7v5.4h-5.7zM574.5 566.7h5.7v5.4h-5.7zM628.5 566.7h5.7v5.4h-5.7zM655.4 566.7h5.7v5.4h-5.7zM687.8 566.7h5.7v5.4h-5.7zM579.9 571.8h5.7v5.4h-5.7zM650 571.8h5.7v5.4h-5.7zM682.4 571.8h5.7v5.4h-5.7zM774.1 571.8h5.7v5.4h-5.7zM779.5 571.8h5.7v5.4h-5.7zM515.2 653.7h5.7v5.4h-5.7zM693.2 653.7h5.7v5.4h-5.7zM768.7 653.7h5.7v5.4h-5.7zM784.9 653.7h8.7v5.4h-8.7zM472 658.8h5.7v5.4h-5.7zM671.6 658.8h5.7v5.4h-5.7zM741.7 658.8h5.7v5.4h-5.7zM757.9 658.8h5.7v5.4h-5.7zM768.7 658.8h5.7v5.4h-5.7zM499 663.9h5.7v8.4h-5.7zM542.1 663.9h5.7v8.4h-5.7zM547.5 663.9h5.7v8.4h-5.7zM552.9 663.9h5.7v8.4h-5.7zM558.3 663.9h5.7v8.4h-5.7z"/>
<path fill="#181818" d="M515.2 558.6h5.7v8.4h-5.7zM525.9 558.6h5.7v8.4h-5.7zM552.9 558.6h5.7v8.4h-5.7zM558.3 558.6h5.7v8.4h-5.7zM606.9 558.6h5.7v8.4h-5.7zM612.3 558.6h5.7v8.4h-5.7zM633.8 558.6h5.7v8.4h-5.7zM639.2 558.6h5.7v8.4h-5.7zM644.6 558.6h5.7v8.4h-5.7zM655.4 558.6h5.7v8.4h-5.7zM666.2 558.6h5.7v8.4h-5.7zM677 558.6h5.7v8.4h-5.7zM687.8 558.6h5.7v8.4h-5.7zM693.2 558.6h5.7v8.4h-5.7zM704 558.6h5.7v8.4h-5.7zM720.2 558.6h5.7v8.4h-5.7zM741.7 558.6h5.7v8.4h-5.7zM752.5 558.6h5.7v8.4h-5.7zM774.1 558.6h5.7v8.4h-5.7zM779.5 558.6h5.7v8.4h-5.7zM472 566.7h5.7v5.4h-5.7zM477.4 566.7h5.7v5.4h-5.7zM482.8 566.7h5.7v5.4h-5.7zM499 566.7h5.7v5.4h-5.7zM504.4 566.7h5.7v5.4h-5.7zM515.2 566.7h5.7v5.4h-5.7zM536.7 566.7h5.7v5.4h-5.7zM547.5 566.7h5.7v5.4h-5.7zM563.7 566.7h5.7v5.4h-5.7zM579.9 566.7h5.7v5.4h-5.7zM601.5 566.7h5.7v5.4h-5.7zM606.9 566.7h5.7v5.4h-5.7zM617.7 566.7h5.7v5.4h-5.7zM623.1 566.7h5.7v5.4h-5.7zM633.8 566.7h5.7v5.4h-5.7zM644.6 566.7h5.7v5.4h-5.7zM660.8 566.7h5.7v5.4h-5.7zM682.4 566.7h5.7v5.4h-5.7zM693.2 566.7h5.7v5.4h-5.7zM720.2 566.7h5.7v5.4h-5.7zM725.6 566.7h5.7v5.4h-5.7zM774.1 566.7h5.7v5.4h-5.7zM488.2 571.8h5.7v5.4h-5.7zM552.9 571.8h5.7v5.4h-5.7zM558.3 571.8h5.7v5.4h-5.7zM601.5 571.8h5.7v5.4h-5.7zM606.9 571.8h5.7v5.4h-5.7zM617.7 571.8h5.7v5.4h-5.7zM623.1 571.8h5.7v5.4h-5.7zM633.8 571.8h5.7v5.4h-5.7zM644.6 571.8h5.7v5.4h-5.7zM660.8 571.8h5.7v5.4h-5.7zM693.2 571.8h5.7v5.4h-5.7zM714.8 571.8h5.7v5.4h-5.7zM725.6 571.8h5.7v5.4h-5.7zM752.5 571.8h5.7v5.4h-5.7zM784.9 571.8h8.7v5.4h-8.7zM463.6 653.7h8.7v5.4h-8.7zM482.8 653.7h5.7v5.4h-5.7zM488.2 653.7h5.7v5.4h-5.7zM509.8 653.7h5.7v5.4h-5.7zM531.3 653.7h5.7v5.4h-5.7zM536.7 653.7h5.7v5.4h-5.7zM542.1 653.7h5.7v5.4h-5.7zM558.3 653.7h5.7v5.4h-5.7zM596.1 653.7h5.7v5.4h-5.7zM617.7 653.7h5.7v5.4h-5.7zM660.8 653.7h5.7v5.4h-5.7zM677 653.7h5.7v5.4h-5.7zM704 653.7h5.7v5.4h-5.7zM709.4 653.7h5.7v5.4h-5.7zM731 653.7h5.7v5.4h-5.7zM736.3 653.7h5.7v5.4h-5.7zM757.9 653.7h5.7v5.4h-5.7zM763.3 653.7h5.7v5.4h-5.7zM779.5 653.7h5.7v5.4h-5.7zM493.6 658.8h5.7v5.4h-5.7zM499 658.8h5.7v5.4h-5.7zM509.8 658.8h5.7v5.4h-5.7zM525.9 658.8h5.7v5.4h-5.7zM547.5 658.8h5.7v5.4h-5.7zM552.9 658.8h5.7v5.4h-5.7zM558.3 658.8h5.7v5.4h-5.7zM563.7 658.8h5.7v5.4h-5.7zM574.5 658.8h5.7v5.4h-5.7zM579.9 658.8h5.7v5.4h-5.7zM596.1 658.8h5.7v5.4h-5.7zM617.7 658.8h5.7v5.4h-5.7zM660.8 658.8h5.7v5.4h-5.7zM698.6 658.8h5.7v5.4h-5.7zM720.2 658.8h5.7v5.4h-5.7zM731 658.8h5.7v5.4h-5.7zM752.5 658.8h5.7v5.4h-5.7zM784.9 658.8h8.7v5.4h-8.7zM509.8 663.9h5.7v8.4h-5.7zM515.2 663.9h5.7v8.4h-5.7zM525.9 663.9h5.7v8.4h-5.7zM563.7 663.9h5.7v8.4h-5.7zM590.7 663.9h5.7v8.4h-5.7zM601.5 663.9h5.7v8.4h-5.7zM612.3 663.9h5.7v8.4h-5.7zM628.5 663.9h5.7v8.4h-5.7zM633.8 663.9h5.7v8.4h-5.7zM639.2 663.9h5.7v8.4h-5.7zM650 663.9h5.7v8.4h-5.7zM666.2 663.9h5.7v8.4h-5.7zM671.6 663.9h5.7v8.4h-5.7zM741.7 663.9h5.7v8.4h-5.7zM747.1 663.9h5.7v8.4h-5.7zM752.5 663.9h5.7v8.4h-5.7zM763.3 663.9h5.7v8.4h-5.7zM784.9 663.9h8.7v8.4h-8.7z"/>
<path fill="#183848" d="M531.3 558.6h5.7v8.4h-5.7zM736.3 571.8h5.7v5.4h-5.7zM488.2 658.8h5.7v5.4h-5.7zM590.7 658.8h5.7v5.4h-5.7zM768.7 663.9h5.7v8.4h-5.7z"/>
<path fill="#083838" d="M536.7 558.6h5.7v8.4h-5.7zM579.9 558.6h5.7v8.4h-5.7zM698.6 558.6h5.7v8.4h-5.7zM709.4 558.6h5.7v8.4h-5.7zM747.1 558.6h5.7v8.4h-5.7zM757.9 558.6h5.7v8.4h-5.7zM558.3 566.7h5.7v5.4h-5.7zM596.1 566.7h5.7v5.4h-5.7zM639.2 566.7h5.7v5.4h-5.7zM677 566.7h5.7v5.4h-5.7zM714.8 566.7h5.7v5.4h-5.7zM747.1 566.7h5.7v5.4h-5.7zM585.3 571.8h5.7v5.4h-5.7zM590.7 653.7h5.7v5.4h-5.7zM698.6 653.7h5.7v5.4h-5.7zM463.6 658.8h8.7v5.4h-8.7zM601.5 658.8h5.7v5.4h-5.7zM639.2 658.8h5.7v5.4h-5.7zM704 658.8h5.7v5.4h-5.7zM714.8 658.8h5.7v5.4h-5.7zM585.3 663.9h5.7v8.4h-5.7zM725.6 663.9h5.7v8.4h-5.7zM757.9 663.9h5.7v8.4h-5.7z"/>
<path fill="#184848" d="M542.1 558.6h5.7v8.4h-5.7zM623.1 558.6h5.7v8.4h-5.7zM784.9 558.6h8.7v8.4h-8.7zM569.1 566.7h5.7v5.4h-5.7zM612.3 566.7h5.7v5.4h-5.7zM763.3 566.7h5.7v5.4h-5.7zM768.7 566.7h5.7v5.4h-5.7zM472 571.8h5.7v5.4h-5.7zM563.7 571.8h5.7v5.4h-5.7zM574.5 571.8h5.7v5.4h-5.7zM628.5 571.8h5.7v5.4h-5.7zM677 571.8h5.7v5.4h-5.7zM687.8 571.8h5.7v5.4h-5.7zM725.6 653.7h5.7v5.4h-5.7zM774.1 653.7h5.7v5.4h-5.7zM677 658.8h5.7v5.4h-5.7zM747.1 658.8h5.7v5.4h-5.7zM774.1 658.8h5.7v5.4h-5.7zM704 663.9h5.7v8.4h-5.7z"/>
<path fill="#082838" d="M731 558.6h5.7v8.4h-5.7zM650 566.7h5.7v5.4h-5.7zM736.3 566.7h5.7v5.4h-5.7zM509.8 571.8h5.7v5.4h-5.7zM477.4 653.7h5.7v5.4h-5.7zM477.4 658.8h5.7v5.4h-5.7z"/>
<path fill="#282828" d="M590.7 566.7h5.7v5.4h-5.7zM784.9 582.1h8.7v5.4h-8.7zM725.6 587.2h5.7v5.4h-5.7zM509.8 617.9h5.7v5.4h-5.7zM709.4 623h5.7v5.4h-5.7zM499 628.1h5.7v5.4h-5.7zM731 628.1h5.7v5.4h-5.7zM482.8 633.2h5.7v5.4h-5.7zM779.5 633.2h5.7v5.4h-5.7zM612.3 648.5h5.7v5.4h-5.7zM709.4 648.5h5.7v5.4h-5.7zM552.9 653.7h5.7v5.4h-5.7zM574.5 663.9h5.7v8.4h-5.7z"/>
<path fill="#083848" d="M666.2 566.7h5.7v5.4h-5.7z"/>
<path fill="#281818" d="M757.9 566.7h5.7v5.4h-5.7zM655.4 576.9h5.7v5.4h-5.7zM472 582.1h5.7v5.4h-5.7zM477.4 582.1h5.7v5.4h-5.7zM482.8 582.1h5.7v5.4h-5.7zM601.5 582.1h5.7v5.4h-5.7zM596.1 587.2h5.7v5.4h-5.7zM606.9 587.2h5.7v5.4h-5.7zM666.2 587.2h5.7v5.4h-5.7zM482.8 592.3h5.7v5.4h-5.7zM660.8 592.3h5.7v5.4h-5.7zM741.7 592.3h5.7v5.4h-5.7zM482.8 597.4h5.7v5.4h-5.7zM531.3 617.9h5.7v5.4h-5.7zM499 623h5.7v5.4h-5.7zM558.3 623h5.7v5.4h-5.7zM585.3 623h5.7v5.4h-5.7zM585.3 628.1h5.7v5.4h-5.7zM606.9 628.1h5.7v5.4h-5.7zM601.5 633.2h5.7v5.4h-5.7zM628.5 633.2h5.7v5.4h-5.7zM709.4 633.2h5.7v5.4h-5.7zM477.4 638.3h5.7v5.4h-5.7zM509.8 638.3h5.7v5.4h-5.7zM601.5 638.3h5.7v5.4h-5.7zM525.9 643.4h5.7v5.4h-5.7zM547.5 643.4h5.7v5.4h-5.7zM612.3 643.4h5.7v5.4h-5.7zM644.6 643.4h5.7v5.4h-5.7zM477.4 648.5h5.7v5.4h-5.7zM601.5 648.5h5.7v5.4h-5.7zM606.9 648.5h5.7v5.4h-5.7zM633.8 658.8h5.7v5.4h-5.7zM488.2 663.9h5.7v8.4h-5.7z"/>
<path fill="#182838" d="M515.2 571.8h5.7v5.4h-5.7zM531.3 571.8h5.7v5.4h-5.7zM747.1 571.8h5.7v5.4h-5.7zM650 658.8h5.7v5.4h-5.7z"/>
<path fill="#481818" d="M463.6 576.9h8.7v5.4h-8.7zM520.5 576.9h5.7v5.4h-5.7zM606.9 576.9h5.7v5.4h-5.7zM633.8 576.9h5.7v5.4h-5.7zM714.8 576.9h5.7v5.4h-5.7zM720.2 576.9h5.7v5.4h-5.7zM725.6 576.9h5.7v5.4h-5.7zM784.9 576.9h8.7v5.4h-8.7zM509.8 582.1h5.7v5.4h-5.7zM515.2 582.1h5.7v5.4h-5.7zM525.9 582.1h5.7v5.4h-5.7zM547.5 582.1h5.7v5.4h-5.7zM558.3 582.1h5.7v5.4h-5.7zM623.1 582.1h5.7v5.4h-5.7zM698.6 582.1h5.7v5.4h-5.7zM725.6 582.1h5.7v5.4h-5.7zM736.3 582.1h5.7v5.4h-5.7zM763.3 582.1h5.7v5.4h-5.7zM504.4 587.2h5.7v5.4h-5.7zM525.9 587.2h5.7v5.4h-5.7zM542.1 587.2h5.7v5.4h-5.7zM590.7 587.2h5.7v5.4h-5.7zM644.6 587.2h5.7v5.4h-5.7zM660.8 587.2h5.7v5.4h-5.7zM671.6 587.2h5.7v5.4h-5.7zM698.6 587.2h5.7v5.4h-5.7zM499 592.3h5.7v5.4h-5.7zM515.2 592.3h5.7v5.4h-5.7zM601.5 592.3h5.7v5.4h-5.7zM644.6 592.3h5.7v5.4h-5.7zM666.2 592.3h5.7v5.4h-5.7zM709.4 592.3h5.7v5.4h-5.7zM747.1 592.3h5.7v5.4h-5.7zM757.9 592.3h5.7v5.4h-5.7zM774.1 592.3h5.7v5.4h-5.7zM617.7 597.4h5.7v5.4h-5.7zM525.9 612.7h5.7v5.4h-5.7zM542.1 612.7h5.7v5.4h-5.7zM639.2 612.7h5.7v5.4h-5.7zM482.8 617.9h5.7v5.4h-5.7zM504.4 617.9h5.7v5.4h-5.7zM552.9 617.9h5.7v5.4h-5.7zM579.9 617.9h5.7v5.4h-5.7zM601.5 617.9h5.7v5.4h-5.7zM709.4 617.9h5.7v5.4h-5.7zM504.4 623h5.7v5.4h-5.7zM509.8 623h5.7v5.4h-5.7zM547.5 623h5.7v5.4h-5.7zM579.9 623h5.7v5.4h-5.7zM601.5 623h5.7v5.4h-5.7zM682.4 623h5.7v5.4h-5.7zM720.2 623h5.7v5.4h-5.7zM736.3 623h5.7v5.4h-5.7zM747.1 623h5.7v5.4h-5.7zM463.6 628.1h8.7v5.4h-8.7zM482.8 628.1h5.7v5.4h-5.7zM493.6 628.1h5.7v5.4h-5.7zM660.8 628.1h5.7v5.4h-5.7zM677 628.1h5.7v5.4h-5.7zM693.2 628.1h5.7v5.4h-5.7zM784.9 628.1h8.7v5.4h-8.7zM569.1 633.2h5.7v5.4h-5.7zM639.2 633.2h5.7v5.4h-5.7zM644.6 633.2h5.7v5.4h-5.7zM671.6 633.2h5.7v5.4h-5.7zM687.8 633.2h5.7v5.4h-5.7zM725.6 633.2h5.7v5.4h-5.7zM741.7 633.2h5.7v5.4h-5.7zM757.9 633.2h5.7v5.4h-5.7zM472 638.3h5.7v5.4h-5.7zM482.8 638.3h5.7v5.4h-5.7zM488.2 638.3h5.7v5.4h-5.7zM493.6 638.3h5.7v5.4h-5.7zM515.2 638.3h5.7v5.4h-5.7zM569.1 638.3h5.7v5.4h-5.7zM606.9 638.3h5.7v5.4h-5.7zM655.4 638.3h5.7v5.4h-5.7zM682.4 638.3h5.7v5.4h-5.7zM714.8 638.3h5.7v5.4h-5.7zM720.2 638.3h5.7v5.4h-5.7zM774.1 638.3h5.7v5.4h-5.7zM515.2 643.4h5.7v5.4h-5.7zM542.1 643.4h5.7v5.4h-5.7zM558.3 643.4h5.7v5.4h-5.7zM569.1 643.4h5.7v5.4h-5.7zM639.2 643.4h5.7v5.4h-5.7zM650 643.4h5.7v5.4h-5.7zM671.6 643.4h5.7v5.4h-5.7zM714.8 643.4h5.7v5.4h-5.7zM741.7 643.4h5.7v5.4h-5.7zM747.1 643.4h5.7v5.4h-5.7zM784.9 643.4h8.7v5.4h-8.7zM463.6 648.5h8.7v5.4h-8.7zM547.5 648.5h5.7v5.4h-5.7zM569.1 648.5h5.7v5.4h-5.7zM633.8 648.5h5.7v5.4h-5.7zM650 648.5h5.7v5.4h-5.7zM687.8 648.5h5.7v5.4h-5.7zM725.6 648.5h5.7v5.4h-5.7zM784.9 648.5h8.7v5.4h-8.7z"/>
<path fill="#581818" d="M472 576.9h5.7v5.4h-5.7zM542.1 576.9h5.7v5.4h-5.7zM547.5 576.9h5.7v5.4h-5.7zM644.6 576.9h5.7v5.4h-5.7zM671.6 576.9h5.7v5.4h-5.7zM677 576.9h5.7v5.4h-5.7zM704 576.9h5.7v5.4h-5.7zM709.4 576.9h5.7v5.4h-5.7zM741.7 576.9h5.7v5.4h-5.7zM747.1 576.9h5.7v5.4h-5.7zM752.5 576.9h5.7v5.4h-5.7zM757.9 576.9h5.7v5.4h-5.7zM639.2 582.1h5.7v5.4h-5.7zM644.6 582.1h5.7v5.4h-5.7zM677 582.1h5.7v5.4h-5.7zM720.2 582.1h5.7v5.4h-5.7zM768.7 582.1h5.7v5.4h-5.7zM499 587.2h5.7v5.4h-5.7zM515.2 587.2h5.7v5.4h-5.7zM520.5 587.2h5.7v5.4h-5.7zM536.7 587.2h5.7v5.4h-5.7zM569.1 587.2h5.7v5.4h-5.7zM574.5 587.2h5.7v5.4h-5.7zM704 587.2h5.7v5.4h-5.7zM741.7 587.2h5.7v5.4h-5.7zM463.6 592.3h8.7v5.4h-8.7zM525.9 592.3h5.7v5.4h-5.7zM547.5 592.3h5.7v5.4h-5.7zM558.3 592.3h5.7v5.4h-5.7zM585.3 592.3h5.7v5.4h-5.7zM671.6 592.3h5.7v5.4h-5.7zM731 592.3h5.7v5.4h-5.7zM768.7 592.3h5.7v5.4h-5.7zM779.5 592.3h5.7v5.4h-5.7zM463.6 597.4h8.7v5.4h-8.7zM515.2 597.4h5.7v5.4h-5.7zM525.9 597.4h5.7v5.4h-5.7zM596.1 597.4h5.7v5.4h-5.7zM606.9 597.4h5.7v5.4h-5.7zM520.5 617.9h5.7v5.4h-5.7zM547.5 617.9h5.7v5.4h-5.7zM623.1 617.9h5.7v5.4h-5.7zM628.5 617.9h5.7v5.4h-5.7zM644.6 617.9h5.7v5.4h-5.7zM731 617.9h5.7v5.4h-5.7zM752.5 617.9h5.7v5.4h-5.7zM763.3 617.9h5.7v5.4h-5.7zM493.6 623h5.7v5.4h-5.7zM515.2 623h5.7v5.4h-5.7zM612.3 623h5.7v5.4h-5.7zM617.7 623h5.7v5.4h-5.7zM666.2 623h5.7v5.4h-5.7zM704 623h5.7v5.4h-5.7zM741.7 623h5.7v5.4h-5.7zM784.9 623h8.7v5.4h-8.7zM488.2 628.1h5.7v5.4h-5.7zM520.5 628.1h5.7v5.4h-5.7zM552.9 628.1h5.7v5.4h-5.7zM558.3 628.1h5.7v5.4h-5.7zM633.8 628.1h5.7v5.4h-5.7zM650 628.1h5.7v5.4h-5.7zM666.2 628.1h5.7v5.4h-5.7zM709.4 628.1h5.7v5.4h-5.7zM741.7 628.1h5.7v5.4h-5.7zM779.5 628.1h5.7v5.4h-5.7zM493.6 633.2h5.7v5.4h-5.7zM525.9 633.2h5.7v5.4h-5.7zM612.3 633.2h5.7v5.4h-5.7zM660.8 633.2h5.7v5.4h-5.7zM784.9 633.2h8.7v5.4h-8.7zM463.6 638.3h8.7v5.4h-8.7zM542.1 638.3h5.7v5.4h-5.7zM547.5 638.3h5.7v5.4h-5.7zM563.7 638.3h5.7v5.4h-5.7zM585.3 638.3h5.7v5.4h-5.7zM612.3 638.3h5.7v5.4h-5.7zM698.6 638.3h5.7v5.4h-5.7zM704 638.3h5.7v5.4h-5.7zM763.3 638.3h5.7v5.4h-5.7zM509.8 643.4h5.7v5.4h-5.7zM617.7 643.4h5.7v5.4h-5.7zM698.6 643.4h5.7v5.4h-5.7zM704 643.4h5.7v5.4h-5.7zM757.9 643.4h5.7v5.4h-5.7zM482.8 648.5h5.7v5.4h-5.7zM493.6 648.5h5.7v5.4h-5.7zM520.5 648.5h5.7v5.4h-5.7zM531.3 648.5h5.7v5.4h-5.7zM590.7 648.5h5.7v5.4h-5.7zM671.6 648.5h5.7v5.4h-5.7zM768.7 648.5h5.7v5.4h-5.7zM774.1 648.5h5.7v5.4h-5.7z"/>
<path fill="#482828" d="M477.4 576.9h5.7v5.4h-5.7zM520.5 582.1h5.7v5.4h-5.7zM574.5 582.1h5.7v5.4h-5.7zM472 587.2h5.7v5.4h-5.7zM488.2 587.2h5.7v5.4h-5.7zM736.3 587.2h5.7v5.4h-5.7zM752.5 587.2h5.7v5.4h-5.7zM477.4 592.3h5.7v5.4h-5.7zM536.7 592.3h5.7v5.4h-5.7zM563.7 592.3h5.7v5.4h-5.7zM590.7 592.3h5.7v5.4h-5.7zM650 592.3h5.7v5.4h-5.7zM784.9 592.3h8.7v5.4h-8.7zM472 597.4h5.7v5.4h-5.7zM547.5 597.4h5.7v5.4h-5.7zM660.8 597.4h5.7v5.4h-5.7zM709.4 597.4h5.7v5.4h-5.7zM493.6 617.9h5.7v5.4h-5.7zM542.1 617.9h5.7v5.4h-5.7zM563.7 617.9h5.7v5.4h-5.7zM569.1 617.9h5.7v5.4h-5.7zM650 617.9h5.7v5.4h-5.7zM477.4 623h5.7v5.4h-5.7zM488.2 623h5.7v5.4h-5.7zM714.8 623h5.7v5.4h-5.7zM525.9 628.1h5.7v5.4h-5.7zM601.5 628.1h5.7v5.4h-5.7zM639.2 628.1h5.7v5.4h-5.7zM747.1 628.1h5.7v5.4h-5.7zM596.1 633.2h5.7v5.4h-5.7zM650 633.2h5.7v5.4h-5.7zM525.9 638.3h5.7v5.4h-5.7zM531.3 638.3h5.7v5.4h-5.7zM660.8 643.4h5.7v5.4h-5.7zM779.5 643.4h5.7v5.4h-5.7zM644.6 648.5h5.7v5.4h-5.7zM660.8 648.5h5.7v5.4h-5.7zM752.5 648.5h5.7v5.4h-5.7z"/>
<path fill="#381818" d="M482.8 576.9h5.7v5.4h-5.7zM488.2 576.9h5.7v5.4h-5.7zM493.6 576.9h5.7v5.4h-5.7zM563.7 576.9h5.7v5.4h-5.7zM590.7 576.9h5.7v5.4h-5.7zM601.5 576.9h5.7v5.4h-5.7zM666.2 576.9h5.7v5.4h-5.7zM687.8 576.9h5.7v5.4h-5.7zM774.1 576.9h5.7v5.4h-5.7zM531.3 582.1h5.7v5.4h-5.7zM542.1 582.1h5.7v5.4h-5.7zM569.1 582.1h5.7v5.4h-5.7zM687.8 582.1h5.7v5.4h-5.7zM693.2 582.1h5.7v5.4h-5.7zM704 582.1h5.7v5.4h-5.7zM714.8 582.1h5.7v5.4h-5.7zM731 582.1h5.7v5.4h-5.7zM741.7 582.1h5.7v5.4h-5.7zM747.1 582.1h5.7v5.4h-5.7zM558.3 587.2h5.7v5.4h-5.7zM585.3 587.2h5.7v5.4h-5.7zM601.5 587.2h5.7v5.4h-5.7zM612.3 587.2h5.7v5.4h-5.7zM633.8 587.2h5.7v5.4h-5.7zM655.4 587.2h5.7v5.4h-5.7zM687.8 587.2h5.7v5.4h-5.7zM709.4 587.2h5.7v5.4h-5.7zM731 587.2h5.7v5.4h-5.7zM763.3 587.2h5.7v5.4h-5.7zM504.4 592.3h5.7v5.4h-5.7zM574.5 592.3h5.7v5.4h-5.7zM612.3 592.3h5.7v5.4h-5.7zM628.5 592.3h5.7v5.4h-5.7zM633.8 592.3h5.7v5.4h-5.7zM477.4 597.4h5.7v5.4h-5.7zM569.1 597.4h5.7v5.4h-5.7zM579.9 597.4h5.7v5.4h-5.7zM601.5 597.4h5.7v5.4h-5.7zM612.3 597.4h5.7v5.4h-5.7zM628.5 597.4h5.7v5.4h-5.7zM509.8 612.7h5.7v5.4h-5.7zM520.5 612.7h5.7v5.4h-5.7zM585.3 612.7h5.7v5.4h-5.7zM472 617.9h5.7v5.4h-5.7zM515.2 617.9h5.7v5.4h-5.7zM536.7 617.9h5.7v5.4h-5.7zM585.3 617.9h5.7v5.4h-5.7zM596.1 617.9h5.7v5.4h-5.7zM639.2 617.9h5.7v5.4h-5.7zM463.6 623h8.7v5.4h-8.7zM482.8 623h5.7v5.4h-5.7zM520.5 623h5.7v5.4h-5.7zM531.3 623h5.7v5.4h-5.7zM596.1 623h5.7v5.4h-5.7zM725.6 623h5.7v5.4h-5.7zM509.8 628.1h5.7v5.4h-5.7zM515.2 628.1h5.7v5.4h-5.7zM542.1 628.1h5.7v5.4h-5.7zM612.3 628.1h5.7v5.4h-5.7zM623.1 628.1h5.7v5.4h-5.7zM671.6 628.1h5.7v5.4h-5.7zM704 628.1h5.7v5.4h-5.7zM725.6 628.1h5.7v5.4h-5.7zM757.9 628.1h5.7v5.4h-5.7zM472 633.2h5.7v5.4h-5.7zM579.9 633.2h5.7v5.4h-5.7zM585.3 633.2h5.7v5.4h-5.7zM606.9 633.2h5.7v5.4h-5.7zM714.8 633.2h5.7v5.4h-5.7zM763.3 633.2h5.7v5.4h-5.7zM536.7 638.3h5.7v5.4h-5.7zM558.3 638.3h5.7v5.4h-5.7zM574.5 638.3h5.7v5.4h-5.7zM628.5 638.3h5.7v5.4h-5.7zM633.8 638.3h5.7v5.4h-5.7zM741.7 638.3h5.7v5.4h-5.7zM477.4 643.4h5.7v5.4h-5.7zM504.4 643.4h5.7v5.4h-5.7zM520.5 643.4h5.7v5.4h-5.7zM531.3 643.4h5.7v5.4h-5.7zM579.9 643.4h5.7v5.4h-5.7zM601.5 643.4h5.7v5.4h-5.7zM655.4 643.4h5.7v5.4h-5.7zM693.2 643.4h5.7v5.4h-5.7zM768.7 643.4h5.7v5.4h-5.7zM515.2 648.5h5.7v5.4h-5.7zM552.9 648.5h5.7v5.4h-5.7zM585.3 648.5h5.7v5.4h-5.7zM698.6 648.5h5.7v5.4h-5.7zM741.7 648.5h5.7v5.4h-5.7zM757.9 648.5h5.7v5.4h-5.7z"/>
<path fill="#681818" d="M499 576.9h5.7v5.4h-5.7zM504.4 576.9h5.7v5.4h-5.7zM515.2 576.9h5.7v5.4h-5.7zM579.9 576.9h5.7v5.4h-5.7zM639.2 576.9h5.7v5.4h-5.7zM650 576.9h5.7v5.4h-5.7zM693.2 576.9h5.7v5.4h-5.7zM763.3 576.9h5.7v5.4h-5.7zM488.2 582.1h5.7v5.4h-5.7zM617.7 582.1h5.7v5.4h-5.7zM752.5 582.1h5.7v5.4h-5.7zM563.7 587.2h5.7v5.4h-5.7zM677 587.2h5.7v5.4h-5.7zM757.9 587.2h5.7v5.4h-5.7zM774.1 587.2h5.7v5.4h-5.7zM569.1 592.3h5.7v5.4h-5.7zM579.9 592.3h5.7v5.4h-5.7zM617.7 592.3h5.7v5.4h-5.7zM655.4 592.3h5.7v5.4h-5.7zM682.4 592.3h5.7v5.4h-5.7zM720.2 592.3h5.7v5.4h-5.7zM650 597.4h5.7v5.4h-5.7zM482.8 612.7h5.7v5.4h-5.7zM563.7 612.7h5.7v5.4h-5.7zM601.5 612.7h5.7v5.4h-5.7zM606.9 612.7h5.7v5.4h-5.7zM612.3 612.7h5.7v5.4h-5.7zM633.8 612.7h5.7v5.4h-5.7zM558.3 617.9h5.7v5.4h-5.7zM590.7 617.9h5.7v5.4h-5.7zM687.8 617.9h5.7v5.4h-5.7zM542.1 623h5.7v5.4h-5.7zM552.9 623h5.7v5.4h-5.7zM563.7 623h5.7v5.4h-5.7zM623.1 623h5.7v5.4h-5.7zM633.8 623h5.7v5.4h-5.7zM671.6 623h5.7v5.4h-5.7zM677 623h5.7v5.4h-5.7zM757.9 623h5.7v5.4h-5.7zM763.3 623h5.7v5.4h-5.7zM779.5 623h5.7v5.4h-5.7zM563.7 628.1h5.7v5.4h-5.7zM590.7 628.1h5.7v5.4h-5.7zM763.3 628.1h5.7v5.4h-5.7zM463.6 633.2h8.7v5.4h-8.7zM536.7 633.2h5.7v5.4h-5.7zM563.7 633.2h5.7v5.4h-5.7zM574.5 633.2h5.7v5.4h-5.7zM666.2 633.2h5.7v5.4h-5.7zM677 633.2h5.7v5.4h-5.7zM720.2 633.2h5.7v5.4h-5.7zM747.1 633.2h5.7v5.4h-5.7zM752.5 633.2h5.7v5.4h-5.7zM644.6 638.3h5.7v5.4h-5.7zM768.7 638.3h5.7v5.4h-5.7zM585.3 643.4h5.7v5.4h-5.7zM763.3 643.4h5.7v5.4h-5.7zM499 648.5h5.7v5.4h-5.7zM579.9 648.5h5.7v5.4h-5.7zM623.1 648.5h5.7v5.4h-5.7zM639.2 648.5h5.7v5.4h-5.7z"/>
<path fill="#382828" d="M509.8 576.9h5.7v5.4h-5.7zM655.4 582.1h5.7v5.4h-5.7zM493.6 587.2h5.7v5.4h-5.7zM639.2 587.2h5.7v5.4h-5.7zM768.7 587.2h5.7v5.4h-5.7zM784.9 587.2h8.7v5.4h-8.7zM520.5 592.3h5.7v5.4h-5.7zM623.1 592.3h5.7v5.4h-5.7zM714.8 592.3h5.7v5.4h-5.7zM493.6 597.4h5.7v5.4h-5.7zM499 597.4h5.7v5.4h-5.7zM757.9 597.4h5.7v5.4h-5.7zM774.1 597.4h5.7v5.4h-5.7zM606.9 617.9h5.7v5.4h-5.7zM612.3 617.9h5.7v5.4h-5.7zM531.3 628.1h5.7v5.4h-5.7zM720.2 628.1h5.7v5.4h-5.7zM752.5 628.1h5.7v5.4h-5.7zM499 633.2h5.7v5.4h-5.7zM504.4 633.2h5.7v5.4h-5.7zM520.5 633.2h5.7v5.4h-5.7zM552.9 633.2h5.7v5.4h-5.7zM623.1 633.2h5.7v5.4h-5.7zM574.5 643.4h5.7v5.4h-5.7zM725.6 643.4h5.7v5.4h-5.7zM509.8 648.5h5.7v5.4h-5.7zM525.9 648.5h5.7v5.4h-5.7z"/>
<path fill="#483838" d="M525.9 576.9h5.7v5.4h-5.7zM671.6 597.4h5.7v5.4h-5.7z"/>
<path fill="#283848" d="M531.3 576.9h5.7v5.4h-5.7zM731 633.2h5.7v5.4h-5.7z"/>
<path fill="#480808" d="M536.7 576.9h5.7v5.4h-5.7zM585.3 576.9h5.7v5.4h-5.7zM596.1 612.7h5.7v5.4h-5.7zM472 623h5.7v5.4h-5.7zM655.4 623h5.7v5.4h-5.7zM687.8 623h5.7v5.4h-5.7zM682.4 628.1h5.7v5.4h-5.7zM509.8 633.2h5.7v5.4h-5.7zM682.4 633.2h5.7v5.4h-5.7zM736.3 633.2h5.7v5.4h-5.7zM671.6 638.3h5.7v5.4h-5.7zM606.9 643.4h5.7v5.4h-5.7zM731 648.5h5.7v5.4h-5.7z"/>
<path fill="#385858" d="M552.9 576.9h5.7v5.4h-5.7zM472 612.7h5.7v5.4h-5.7zM617.7 628.1h5.7v5.4h-5.7zM482.8 643.4h5.7v5.4h-5.7zM666.2 643.4h5.7v5.4h-5.7z"/>
<path fill="#582828" d="M558.3 576.9h5.7v5.4h-5.7zM731 576.9h5.7v5.4h-5.7zM736.3 576.9h5.7v5.4h-5.7zM504.4 582.1h5.7v5.4h-5.7zM612.3 582.1h5.7v5.4h-5.7zM482.8 587.2h5.7v5.4h-5.7zM547.5 587.2h5.7v5.4h-5.7zM493.6 592.3h5.7v5.4h-5.7zM639.2 592.3h5.7v5.4h-5.7zM704 592.3h5.7v5.4h-5.7zM763.3 592.3h5.7v5.4h-5.7zM504.4 597.4h5.7v5.4h-5.7zM558.3 597.4h5.7v5.4h-5.7zM633.8 597.4h5.7v5.4h-5.7zM736.3 597.4h5.7v5.4h-5.7zM477.4 602.5h5.7v5.4h-5.7zM741.7 607.6h5.7v5.4h-5.7zM623.1 612.7h5.7v5.4h-5.7zM650 612.7h5.7v5.4h-5.7zM463.6 617.9h8.7v5.4h-8.7zM536.7 623h5.7v5.4h-5.7zM590.7 623h5.7v5.4h-5.7zM606.9 623h5.7v5.4h-5.7zM698.6 623h5.7v5.4h-5.7zM768.7 623h5.7v5.4h-5.7zM504.4 628.1h5.7v5.4h-5.7zM579.9 628.1h5.7v5.4h-5.7zM596.1 628.1h5.7v5.4h-5.7zM547.5 633.2h5.7v5.4h-5.7zM768.7 633.2h5.7v5.4h-5.7zM520.5 638.3h5.7v5.4h-5.7zM617.7 638.3h5.7v5.4h-5.7zM650 638.3h5.7v5.4h-5.7zM709.4 638.3h5.7v5.4h-5.7zM731 638.3h5.7v5.4h-5.7zM736.3 638.3h5.7v5.4h-5.7zM779.5 638.3h5.7v5.4h-5.7zM472 643.4h5.7v5.4h-5.7zM493.6 643.4h5.7v5.4h-5.7zM499 643.4h5.7v5.4h-5.7zM504.4 648.5h5.7v5.4h-5.7zM563.7 648.5h5.7v5.4h-5.7zM682.4 648.5h5.7v5.4h-5.7z"/>
<path fill="#284848" d="M569.1 576.9h5.7v5.4h-5.7zM741.7 597.4h5.7v5.4h-5.7zM558.3 648.5h5.7v5.4h-5.7z"/>
<path fill="#781818" d="M574.5 576.9h5.7v5.4h-5.7zM596.1 576.9h5.7v5.4h-5.7zM563.7 582.1h5.7v5.4h-5.7zM590.7 582.1h5.7v5.4h-5.7zM628.5 582.1h5.7v5.4h-5.7zM650 582.1h5.7v5.4h-5.7zM682.4 582.1h5.7v5.4h-5.7zM757.9 582.1h5.7v5.4h-5.7zM552.9 587.2h5.7v5.4h-5.7zM590.7 597.4h5.7v5.4h-5.7zM623.1 597.4h5.7v5.4h-5.7zM747.1 597.4h5.7v5.4h-5.7zM536.7 612.7h5.7v5.4h-5.7zM569.1 612.7h5.7v5.4h-5.7zM617.7 617.9h5.7v5.4h-5.7zM633.8 617.9h5.7v5.4h-5.7zM655.4 617.9h5.7v5.4h-5.7zM660.8 617.9h5.7v5.4h-5.7zM747.1 617.9h5.7v5.4h-5.7zM639.2 623h5.7v5.4h-5.7zM536.7 628.1h5.7v5.4h-5.7zM617.7 633.2h5.7v5.4h-5.7zM633.8 633.2h5.7v5.4h-5.7zM752.5 638.3h5.7v5.4h-5.7zM623.1 643.4h5.7v5.4h-5.7zM693.2 648.5h5.7v5.4h-5.7z"/>
<path fill="#683838" d="M612.3 576.9h5.7v5.4h-5.7zM628.5 587.2h5.7v5.4h-5.7zM736.3 592.3h5.7v5.4h-5.7zM552.9 597.4h5.7v5.4h-5.7zM693.2 597.4h5.7v5.4h-5.7zM725.6 607.6h5.7v5.4h-5.7zM525.9 617.9h5.7v5.4h-5.7zM784.9 638.3h8.7v5.4h-8.7zM542.1 648.5h5.7v5.4h-5.7zM736.3 648.5h5.7v5.4h-5.7z"/>
<path fill="#287878" d="M617.7 576.9h5.7v5.4h-5.7zM472 592.3h5.7v5.4h-5.7z"/>
<path fill="#883838" d="M623.1 576.9h5.7v5.4h-5.7zM644.6 597.4h5.7v5.4h-5.7zM720.2 607.6h5.7v5.4h-5.7zM628.5 623h5.7v5.4h-5.7zM628.5 648.5h5.7v5.4h-5.7z"/>
<path fill="#680808" d="M628.5 576.9h5.7v5.4h-5.7zM531.3 587.2h5.7v5.4h-5.7zM752.5 592.3h5.7v5.4h-5.7zM666.2 617.9h5.7v5.4h-5.7zM650 623h5.7v5.4h-5.7zM628.5 628.1h5.7v5.4h-5.7zM747.1 638.3h5.7v5.4h-5.7zM536.7 643.4h5.7v5.4h-5.7zM574.5 648.5h5.7v5.4h-5.7z"/>
<path fill="#784848" d="M660.8 576.9h5.7v5.4h-5.7zM774.1 582.1h5.7v5.4h-5.7zM720.2 587.2h5.7v5.4h-5.7zM606.9 592.3h5.7v5.4h-5.7zM687.8 592.3h5.7v5.4h-5.7zM725.6 592.3h5.7v5.4h-5.7zM531.3 633.2h5.7v5.4h-5.7zM463.6 643.4h8.7v5.4h-8.7z"/>
<path fill="#782828" d="M682.4 576.9h5.7v5.4h-5.7zM552.9 592.3h5.7v5.4h-5.7zM536.7 597.4h5.7v5.4h-5.7zM639.2 597.4h5.7v5.4h-5.7zM558.3 612.7h5.7v5.4h-5.7zM617.7 612.7h5.7v5.4h-5.7zM720.2 617.9h5.7v5.4h-5.7zM757.9 617.9h5.7v5.4h-5.7zM768.7 617.9h5.7v5.4h-5.7zM774.1 617.9h5.7v5.4h-5.7zM596.1 638.3h5.7v5.4h-5.7zM757.9 638.3h5.7v5.4h-5.7zM552.9 643.4h5.7v5.4h-5.7zM763.3 648.5h5.7v5.4h-5.7z"/>
<path fill="#584848" d="M698.6 576.9h5.7v5.4h-5.7zM660.8 582.1h5.7v5.4h-5.7zM547.5 612.7h5.7v5.4h-5.7zM655.4 633.2h5.7v5.4h-5.7zM682.4 643.4h5.7v5.4h-5.7zM731 643.4h5.7v5.4h-5.7z"/>
<path fill="#785858" d="M768.7 576.9h5.7v5.4h-5.7zM499 582.1h5.7v5.4h-5.7zM520.5 597.4h5.7v5.4h-5.7zM677 597.4h5.7v5.4h-5.7zM752.5 597.4h5.7v5.4h-5.7zM569.1 628.1h5.7v5.4h-5.7zM655.4 628.1h5.7v5.4h-5.7zM768.7 628.1h5.7v5.4h-5.7zM579.9 638.3h5.7v5.4h-5.7zM687.8 643.4h5.7v5.4h-5.7z"/>
<path fill="#682828" d="M779.5 576.9h5.7v5.4h-5.7zM623.1 587.2h5.7v5.4h-5.7zM650 587.2h5.7v5.4h-5.7zM542.1 592.3h5.7v5.4h-5.7zM698.6 592.3h5.7v5.4h-5.7zM488.2 597.4h5.7v5.4h-5.7zM509.8 597.4h5.7v5.4h-5.7zM531.3 597.4h5.7v5.4h-5.7zM542.1 597.4h5.7v5.4h-5.7zM574.5 597.4h5.7v5.4h-5.7zM704 597.4h5.7v5.4h-5.7zM693.2 607.6h5.7v5.4h-5.7zM493.6 612.7h5.7v5.4h-5.7zM515.2 612.7h5.7v5.4h-5.7zM644.6 612.7h5.7v5.4h-5.7zM574.5 617.9h5.7v5.4h-5.7zM714.8 617.9h5.7v5.4h-5.7zM741.7 617.9h5.7v5.4h-5.7zM784.9 617.9h8.7v5.4h-8.7zM660.8 623h5.7v5.4h-5.7zM731 623h5.7v5.4h-5.7zM774.1 623h5.7v5.4h-5.7zM644.6 628.1h5.7v5.4h-5.7zM736.3 628.1h5.7v5.4h-5.7zM774.1 628.1h5.7v5.4h-5.7zM693.2 633.2h5.7v5.4h-5.7zM698.6 633.2h5.7v5.4h-5.7zM666.2 638.3h5.7v5.4h-5.7zM563.7 643.4h5.7v5.4h-5.7zM736.3 643.4h5.7v5.4h-5.7zM752.5 643.4h5.7v5.4h-5.7zM472 648.5h5.7v5.4h-5.7zM536.7 648.5h5.7v5.4h-5.7zM617.7 648.5h5.7v5.4h-5.7zM655.4 648.5h5.7v5.4h-5.7zM704 648.5h5.7v5.4h-5.7zM779.5 648.5h5.7v5.4h-5.7z"/>
<path fill="#885858" d="M463.6 582.1h8.7v5.4h-8.7zM671.6 582.1h5.7v5.4h-5.7zM499 612.7h5.7v5.4h-5.7zM504.4 612.7h5.7v5.4h-5.7zM644.6 623h5.7v5.4h-5.7zM574.5 628.1h5.7v5.4h-5.7zM488.2 643.4h5.7v5.4h-5.7zM633.8 643.4h5.7v5.4h-5.7zM774.1 643.4h5.7v5.4h-5.7zM488.2 648.5h5.7v5.4h-5.7zM720.2 648.5h5.7v5.4h-5.7z"/>
<path fill="#286878" d="M493.6 582.1h5.7v5.4h-5.7z"/>
<path fill="#684848" d="M536.7 582.1h5.7v5.4h-5.7zM579.9 582.1h5.7v5.4h-5.7zM606.9 582.1h5.7v5.4h-5.7zM463.6 587.2h8.7v5.4h-8.7zM617.7 587.2h5.7v5.4h-5.7zM682.4 607.6h5.7v5.4h-5.7zM569.1 623h5.7v5.4h-5.7zM698.6 628.1h5.7v5.4h-5.7zM515.2 633.2h5.7v5.4h-5.7zM558.3 633.2h5.7v5.4h-5.7zM704 633.2h5.7v5.4h-5.7zM677 648.5h5.7v5.4h-5.7z"/>
<path fill="#884848" d="M552.9 582.1h5.7v5.4h-5.7zM682.4 587.2h5.7v5.4h-5.7zM693.2 592.3h5.7v5.4h-5.7zM563.7 597.4h5.7v5.4h-5.7zM768.7 597.4h5.7v5.4h-5.7zM671.6 607.6h5.7v5.4h-5.7zM779.5 617.9h5.7v5.4h-5.7zM488.2 633.2h5.7v5.4h-5.7zM542.1 633.2h5.7v5.4h-5.7z"/>
<path fill="#380808" d="M585.3 582.1h5.7v5.4h-5.7zM633.8 582.1h5.7v5.4h-5.7zM709.4 582.1h5.7v5.4h-5.7zM472 628.1h5.7v5.4h-5.7zM774.1 633.2h5.7v5.4h-5.7zM720.2 643.4h5.7v5.4h-5.7zM596.1 648.5h5.7v5.4h-5.7z"/>
<path fill="#580808" d="M596.1 582.1h5.7v5.4h-5.7zM477.4 587.2h5.7v5.4h-5.7zM752.5 623h5.7v5.4h-5.7zM504.4 638.3h5.7v5.4h-5.7zM677 638.3h5.7v5.4h-5.7zM693.2 638.3h5.7v5.4h-5.7zM677 643.4h5.7v5.4h-5.7zM666.2 648.5h5.7v5.4h-5.7z"/>
<path fill="#585858" d="M666.2 582.1h5.7v5.4h-5.7zM585.3 597.4h5.7v5.4h-5.7zM499 617.9h5.7v5.4h-5.7z"/>
<path fill="#484848" d="M779.5 582.1h5.7v5.4h-5.7zM714.8 587.2h5.7v5.4h-5.7zM596.1 592.3h5.7v5.4h-5.7zM677 592.3h5.7v5.4h-5.7zM779.5 597.4h5.7v5.4h-5.7zM574.5 623h5.7v5.4h-5.7zM477.4 628.1h5.7v5.4h-5.7z"/>
<path fill="#280808" d="M509.8 587.2h5.7v5.4h-5.7zM488.2 592.3h5.7v5.4h-5.7zM525.9 623h5.7v5.4h-5.7zM687.8 628.1h5.7v5.4h-5.7zM687.8 638.3h5.7v5.4h-5.7z"/>
<path fill="#985858" d="M579.9 587.2h5.7v5.4h-5.7z"/>
<path fill="#685858" d="M693.2 587.2h5.7v5.4h-5.7zM747.1 587.2h5.7v5.4h-5.7zM698.6 597.4h5.7v5.4h-5.7zM774.1 607.6h5.7v5.4h-5.7zM477.4 617.9h5.7v5.4h-5.7zM477.4 633.2h5.7v5.4h-5.7zM623.1 638.3h5.7v5.4h-5.7zM747.1 648.5h5.7v5.4h-5.7z"/>
<path fill="#487878" d="M779.5 587.2h5.7v5.4h-5.7z"/>
<path fill="#286868" d="M509.8 592.3h5.7v5.4h-5.7z"/>
<path fill="#783838" d="M531.3 592.3h5.7v5.4h-5.7zM655.4 607.6h5.7v5.4h-5.7zM709.4 607.6h5.7v5.4h-5.7zM714.8 607.6h5.7v5.4h-5.7z"/>
<path fill="#583838" d="M655.4 597.4h5.7v5.4h-5.7zM547.5 628.1h5.7v5.4h-5.7zM499 638.3h5.7v5.4h-5.7zM660.8 638.3h5.7v5.4h-5.7zM709.4 643.4h5.7v5.4h-5.7z"/>
<path fill="#285858" d="M666.2 597.4h5.7v5.4h-5.7zM731 597.4h5.7v5.4h-5.7z"/>
<path fill="#383838" d="M682.4 597.4h5.7v5.4h-5.7zM725.6 597.4h5.7v5.4h-5.7z"/>
<path fill="#283838" d="M687.8 597.4h5.7v5.4h-5.7zM720.2 597.4h5.7v5.4h-5.7z"/>
<path fill="#386868" d="M714.8 597.4h5.7v5.4h-5.7zM639.2 638.3h5.7v5.4h-5.7zM725.6 638.3h5.7v5.4h-5.7zM714.8 648.5h5.7v5.4h-5.7z"/>
<path fill="#384848" d="M763.3 597.4h5.7v5.4h-5.7z"/>
<path fill="#2898a8" d="M784.9 597.4h8.7v5.4h-8.7z"/>
<path fill="#f8f8e8" d="M463.6 602.5h8.7v5.4h-8.7zM520.5 602.5h5.7v5.4h-5.7z"/>
<path fill="#f8f8f8" d="M472 602.5h5.7v5.4h-5.7zM509.8 602.5h5.7v5.4h-5.7zM525.9 602.5h5.7v5.4h-5.7zM531.3 602.5h5.7v5.4h-5.7zM552.9 602.5h5.7v5.4h-5.7zM590.7 602.5h5.7v5.4h-5.7zM623.1 602.5h5.7v5.4h-5.7zM633.8 602.5h5.7v5.4h-5.7zM477.4 607.6h5.7v5.4h-5.7z"/>
<path fill="#d8a8a8" d="M482.8 602.5h5.7v5.4h-5.7z"/>
<path fill="#f8a8a8" d="M488.2 602.5h5.7v5.4h-5.7zM628.5 607.6h5.7v5.4h-5.7z"/>
<path fill="#e8d8d8" d="M493.6 602.5h5.7v5.4h-5.7z"/>
<path fill="#f8d8d8" d="M499 602.5h5.7v5.4h-5.7zM569.1 602.5h5.7v5.4h-5.7zM579.9 602.5h5.7v5.4h-5.7z"/>
<path fill="#e8f8f8" d="M504.4 602.5h5.7v5.4h-5.7z"/>
<path fill="#f8e8d8" d="M515.2 602.5h5.7v5.4h-5.7zM639.2 602.5h5.7v5.4h-5.7z"/>
<path fill="#e8a8a8" d="M536.7 602.5h5.7v5.4h-5.7z"/>
<path fill="#f8e8e8" d="M542.1 602.5h5.7v5.4h-5.7z"/>
<path fill="#f8d8c8" d="M547.5 602.5h5.7v5.4h-5.7zM558.3 602.5h5.7v5.4h-5.7z"/>
<path fill="#f8c8c8" d="M563.7 602.5h5.7v5.4h-5.7zM563.7 607.6h5.7v5.4h-5.7z"/>
<path fill="#e8c8b8" d="M574.5 602.5h5.7v5.4h-5.7zM596.1 602.5h5.7v5.4h-5.7z"/>
<path fill="#c8a8a8" d="M585.3 602.5h5.7v5.4h-5.7z"/>
<path fill="#d8b8b8" d="M601.5 602.5h5.7v5.4h-5.7zM612.3 602.5h5.7v5.4h-5.7z"/>
<path fill="#c8b8b8" d="M606.9 602.5h5.7v5.4h-5.7z"/>
<path fill="#a88888" d="M617.7 602.5h5.7v5.4h-5.7z"/>
<path fill="#e8b8b8" d="M628.5 602.5h5.7v5.4h-5.7z"/>
<path fill="#c88888" d="M644.6 602.5h5.7v5.4h-5.7z"/>
<path fill="#e89898" d="M650 602.5h5.7v5.4h-5.7z"/>
<path fill="#08f8f8" d="M655.4 602.5h5.7v5.4h-5.7zM671.6 602.5h5.7v5.4h-5.7z"/>
<path fill="#48c8c8" d="M660.8 602.5h5.7v5.4h-5.7zM736.3 602.5h5.7v5.4h-5.7z"/>
<path fill="#48e8e8" d="M666.2 602.5h5.7v5.4h-5.7zM774.1 602.5h5.7v5.4h-5.7z"/>
<path fill="#188888" d="M677 602.5h5.7v5.4h-5.7z"/>
<path fill="#38e8e8" d="M682.4 602.5h5.7v5.4h-5.7z"/>
<path fill="#18d8d8" d="M687.8 602.5h5.7v5.4h-5.7zM752.5 602.5h5.7v5.4h-5.7z"/>
<path fill="#38f8f8" d="M693.2 602.5h5.7v5.4h-5.7z"/>
<path fill="#28f8f8" d="M698.6 602.5h5.7v5.4h-5.7zM714.8 602.5h5.7v5.4h-5.7z"/>
<path fill="#28c8c8" d="M704 602.5h5.7v5.4h-5.7zM731 602.5h5.7v5.4h-5.7zM763.3 602.5h5.7v5.4h-5.7z"/>
<path fill="#28b8b8" d="M709.4 602.5h5.7v5.4h-5.7z"/>
<path fill="#38d8e8" d="M720.2 602.5h5.7v5.4h-5.7z"/>
<path fill="#28e8e8" d="M725.6 602.5h5.7v5.4h-5.7z"/>
<path fill="#08d8e8" d="M741.7 602.5h5.7v5.4h-5.7z"/>
<path fill="#38a8b8" d="M747.1 602.5h5.7v5.4h-5.7z"/>
<path fill="#78f8f8" d="M757.9 602.5h5.7v5.4h-5.7z"/>
<path fill="#48d8d8" d="M768.7 602.5h5.7v5.4h-5.7z"/>
<path fill="#28a8a8" d="M779.5 602.5h5.7v5.4h-5.7z"/>
<path fill="#48b8c8" d="M784.9 602.5h8.7v5.4h-8.7z"/>
<path fill="#f84848" d="M463.6 607.6h8.7v5.4h-8.7zM472 607.6h5.7v5.4h-5.7zM525.9 607.6h5.7v5.4h-5.7zM547.5 607.6h5.7v5.4h-5.7zM633.8 607.6h5.7v5.4h-5.7z"/>
<path fill="#f89888" d="M482.8 607.6h5.7v5.4h-5.7z"/>
<path fill="#f89898" d="M488.2 607.6h5.7v5.4h-5.7zM504.4 607.6h5.7v5.4h-5.7z"/>
<path fill="#f85858" d="M493.6 607.6h5.7v5.4h-5.7zM515.2 607.6h5.7v5.4h-5.7zM542.1 607.6h5.7v5.4h-5.7zM590.7 607.6h5.7v5.4h-5.7zM639.2 607.6h5.7v5.4h-5.7z"/>
<path fill="#e84848" d="M499 607.6h5.7v5.4h-5.7zM509.8 607.6h5.7v5.4h-5.7z"/>
<path fill="#d84848" d="M520.5 607.6h5.7v5.4h-5.7z"/>
<path fill="#f86868" d="M531.3 607.6h5.7v5.4h-5.7zM558.3 607.6h5.7v5.4h-5.7zM579.9 607.6h5.7v5.4h-5.7z"/>
<path fill="#f8a898" d="M536.7 607.6h5.7v5.4h-5.7z"/>
<path fill="#f82828" d="M552.9 607.6h5.7v5.4h-5.7zM655.4 612.7h5.7v5.4h-5.7zM660.8 612.7h5.7v5.4h-5.7zM671.6 612.7h5.7v5.4h-5.7zM687.8 612.7h5.7v5.4h-5.7zM698.6 612.7h5.7v5.4h-5.7z"/>
<path fill="#f87878" d="M569.1 607.6h5.7v5.4h-5.7zM585.3 607.6h5.7v5.4h-5.7zM596.1 607.6h5.7v5.4h-5.7zM606.9 607.6h5.7v5.4h-5.7zM612.3 607.6h5.7v5.4h-5.7z"/>
<path fill="#f86858" d="M574.5 607.6h5.7v5.4h-5.7z"/>
<path fill="#f88878" d="M601.5 607.6h5.7v5.4h-5.7z"/>
<path fill="#f88888" d="M617.7 607.6h5.7v5.4h-5.7z"/>
<path fill="#f83838" d="M623.1 607.6h5.7v5.4h-5.7z"/>
<path fill="#f8b8b8" d="M644.6 607.6h5.7v5.4h-5.7z"/>
<path fill="#f8c8b8" d="M650 607.6h5.7v5.4h-5.7z"/>
<path fill="#589898" d="M660.8 607.6h5.7v5.4h-5.7z"/>
<path fill="#c85858" d="M666.2 607.6h5.7v5.4h-5.7z"/>
<path fill="#786878" d="M677 607.6h5.7v5.4h-5.7z"/>
<path fill="#a86868" d="M687.8 607.6h5.7v5.4h-5.7zM731 612.7h5.7v5.4h-5.7z"/>
<path fill="#485858" d="M698.6 607.6h5.7v5.4h-5.7zM757.9 607.6h5.7v5.4h-5.7zM628.5 643.4h5.7v5.4h-5.7z"/>
<path fill="#785868" d="M704 607.6h5.7v5.4h-5.7z"/>
<path fill="#b85858" d="M731 607.6h5.7v5.4h-5.7z"/>
<path fill="#586878" d="M736.3 607.6h5.7v5.4h-5.7z"/>
<path fill="#688888" d="M747.1 607.6h5.7v5.4h-5.7z"/>
<path fill="#b81818" d="M752.5 607.6h5.7v5.4h-5.7zM677 612.7h5.7v5.4h-5.7zM774.1 612.7h5.7v5.4h-5.7z"/>
<path fill="#983838" d="M763.3 607.6h5.7v5.4h-5.7zM590.7 643.4h5.7v5.4h-5.7z"/>
<path fill="#485868" d="M768.7 607.6h5.7v5.4h-5.7z"/>
<path fill="#a81818" d="M779.5 607.6h5.7v5.4h-5.7zM628.5 612.7h5.7v5.4h-5.7z"/>
<path fill="#982828" d="M784.9 607.6h8.7v5.4h-8.7zM682.4 617.9h5.7v5.4h-5.7z"/>
<path fill="#984848" d="M463.6 612.7h8.7v5.4h-8.7zM596.1 643.4h5.7v5.4h-5.7z"/>
<path fill="#d83838" d="M477.4 612.7h5.7v5.4h-5.7z"/>
<path fill="#880808" d="M488.2 612.7h5.7v5.4h-5.7z"/>
<path fill="#881818" d="M531.3 612.7h5.7v5.4h-5.7zM579.9 612.7h5.7v5.4h-5.7zM590.7 612.7h5.7v5.4h-5.7zM677 617.9h5.7v5.4h-5.7zM693.2 617.9h5.7v5.4h-5.7zM704 617.9h5.7v5.4h-5.7zM725.6 617.9h5.7v5.4h-5.7zM552.9 638.3h5.7v5.4h-5.7z"/>
<path fill="#981818" d="M552.9 612.7h5.7v5.4h-5.7z"/>
<path fill="#a84848" d="M574.5 612.7h5.7v5.4h-5.7z"/>
<path fill="#e81818" d="M666.2 612.7h5.7v5.4h-5.7zM704 612.7h5.7v5.4h-5.7zM741.7 612.7h5.7v5.4h-5.7z"/>
<path fill="#f81818" d="M682.4 612.7h5.7v5.4h-5.7zM693.2 612.7h5.7v5.4h-5.7zM757.9 612.7h5.7v5.4h-5.7z"/>
<path fill="#c82828" d="M709.4 612.7h5.7v5.4h-5.7zM779.5 612.7h5.7v5.4h-5.7z"/>
<path fill="#d82828" d="M714.8 612.7h5.7v5.4h-5.7zM720.2 612.7h5.7v5.4h-5.7z"/>
<path fill="#c81818" d="M725.6 612.7h5.7v5.4h-5.7zM768.7 612.7h5.7v5.4h-5.7z"/>
<path fill="#e82828" d="M736.3 612.7h5.7v5.4h-5.7zM763.3 612.7h5.7v5.4h-5.7z"/>
<path fill="#b82828" d="M747.1 612.7h5.7v5.4h-5.7z"/>
<path fill="#d81818" d="M752.5 612.7h5.7v5.4h-5.7zM784.9 612.7h8.7v5.4h-8.7z"/>
<path fill="#285868" d="M488.2 617.9h5.7v5.4h-5.7z"/>
<path fill="#882828" d="M671.6 617.9h5.7v5.4h-5.7z"/>
<path fill="#b84848" d="M698.6 617.9h5.7v5.4h-5.7z"/>
<path fill="#c84848" d="M736.3 617.9h5.7v5.4h-5.7z"/>
<path fill="#486868" d="M693.2 623h5.7v5.4h-5.7z"/>
<path fill="#284858" d="M590.7 633.2h5.7v5.4h-5.7z"/>
<path fill="#387878" d="M590.7 638.3h5.7v5.4h-5.7z"/>
</g></g>
<rect x="474.1" y="623.1" width="4" height="34.1" fill="#fff"/>
<text x="498" y="664.3" fill="#fff" transform="rotate(-90 498 664.3)" style="font-size:21px">2 μm</text>
<rect x="466.6" y="670.7" width="196.9" height="28.8" fill="#56bec6"/>
<rect x="663.5" y="670.7" width="126.8" height="28.8" fill="#c6e3ec"/>
<text x="464.5" y="551.6" fill="#1a1a1a" style="font-size:29.2px;font-weight:bold">Step-wise loop size decrease</text>
<text x="398.5" y="544.5" fill="#1a1a1a" style="font-size:45px;font-weight:bold">d</text>
<text x="428.3" y="595.5" style="font-size:22.5px">C</text>
<text x="429.6" y="623.4" style="font-size:22.5px">N</text>
<path d="M453.8 580.3 Q448.5 584 448.4 590.3" fill="none" stroke="#e02626" stroke-width="3.6" stroke-linecap="round"/>
<path d="M444.2 595.5 L447 591.3 L452 592.1 L457 593.3 Q455.5 599.5 453.2 606.9 Z" fill="#1793b3"/>
<path d="M454.2 607.1 C451 612.5 446.5 618.5 448.6 626.5 C450.5 633.5 455 637.5 453.5 644.5 C452.5 649.5 450.5 653.5 450 658" fill="none" stroke="#e02626" stroke-width="3.6" stroke-linecap="round"/>
<clipPath id="pcd"><rect x="466.6" y="703.9" width="324.7" height="90.4"/></clipPath>
<g clip-path="url(#pcd)">
<g fill="#999999" fill-opacity="0.33">
<circle cx="469.6" cy="787.1" r="7.8"/>
<circle cx="475.1" cy="769.9" r="7.8"/>
<circle cx="479.8" cy="772.8" r="7.8"/>
<circle cx="485.4" cy="759.7" r="7.8"/>
<circle cx="492.4" cy="791.3" r="7.8"/>
<circle cx="497.2" cy="788.7" r="7.8"/>
<circle cx="502.9" cy="769.1" r="7.8"/>
<circle cx="508.8" cy="771.8" r="7.8"/>
<circle cx="515.9" cy="783" r="7.8"/>
<circle cx="521.6" cy="790.8" r="7.8"/>
<circle cx="528.1" cy="784.9" r="7.8"/>
<circle cx="533.1" cy="782.8" r="7.8"/>
<circle cx="538" cy="764.2" r="7.8"/>
<circle cx="543" cy="789.6" r="7.8"/>
<circle cx="547.2" cy="791.3" r="7.8"/>
<circle cx="554" cy="772.4" r="7.8"/>
<circle cx="558.2" cy="785.2" r="7.8"/>
<circle cx="565.4" cy="791.3" r="7.8"/>
<circle cx="569.9" cy="791.1" r="7.8"/>
<circle cx="576.7" cy="791.3" r="7.8"/>
<circle cx="581.5" cy="791.3" r="7.8"/>
<circle cx="587.8" cy="784.7" r="7.8"/>
<circle cx="592.5" cy="779.9" r="7.8"/>
<circle cx="600" cy="791.3" r="7.8"/>
<circle cx="605" cy="783.5" r="7.8"/>
<circle cx="609.7" cy="788.8" r="7.8"/>
<circle cx="615.1" cy="771.5" r="7.8"/>
<circle cx="620.4" cy="783.8" r="7.8"/>
<circle cx="625" cy="776.1" r="7.8"/>
<circle cx="630.2" cy="782.2" r="7.8"/>
<circle cx="637.7" cy="784.1" r="7.8"/>
<circle cx="645.1" cy="784.7" r="7.8"/>
<circle cx="652.5" cy="762.1" r="7.8"/>
<circle cx="656.9" cy="791.3" r="7.8"/>
<circle cx="664.2" cy="791.3" r="7.8"/>
<circle cx="670.6" cy="791.3" r="7.8"/>
<circle cx="678" cy="780.5" r="7.8"/>
<circle cx="685.3" cy="791.3" r="7.8"/>
<circle cx="689.8" cy="791.3" r="7.8"/>
<circle cx="694.4" cy="791.3" r="7.8"/>
<circle cx="698.6" cy="791.3" r="7.8"/>
<circle cx="704.9" cy="786.7" r="7.8"/>
<circle cx="710.6" cy="783.7" r="7.8"/>
<circle cx="715" cy="784.2" r="7.8"/>
<circle cx="721.1" cy="786.7" r="7.8"/>
<circle cx="725.3" cy="787.2" r="7.8"/>
<circle cx="731.7" cy="759.4" r="7.8"/>
<circle cx="735.7" cy="778.6" r="7.8"/>
<circle cx="740.5" cy="777.5" r="7.8"/>
<circle cx="745.3" cy="768" r="7.8"/>
<circle cx="750.9" cy="786.2" r="7.8"/>
<circle cx="757.6" cy="773.9" r="7.8"/>
<circle cx="763.4" cy="772.6" r="7.8"/>
<circle cx="769.8" cy="777.9" r="7.8"/>
<circle cx="775.5" cy="782.3" r="7.8"/>
<circle cx="781.1" cy="777.2" r="7.8"/>
<circle cx="787.4" cy="772.2" r="7.8"/>
</g>
<g fill="#e23c3c" fill-opacity="0.3">
<circle cx="469.6" cy="745.2" r="7.8"/>
<circle cx="473.8" cy="747.6" r="7.8"/>
<circle cx="479.6" cy="723.8" r="7.8"/>
<circle cx="485.2" cy="724" r="7.8"/>
<circle cx="490.6" cy="743.4" r="7.8"/>
<circle cx="496.2" cy="731.7" r="7.8"/>
<circle cx="501.4" cy="744.1" r="7.8"/>
<circle cx="506.3" cy="718.3" r="7.8"/>
<circle cx="510.6" cy="749.9" r="7.8"/>
<circle cx="516.4" cy="754.7" r="7.8"/>
<circle cx="521.9" cy="727.1" r="7.8"/>
<circle cx="526.3" cy="742.9" r="7.8"/>
<circle cx="531.6" cy="746.4" r="7.8"/>
<circle cx="537.2" cy="748.5" r="7.8"/>
<circle cx="542.9" cy="734.6" r="7.8"/>
<circle cx="547.6" cy="740.6" r="7.8"/>
<circle cx="553.4" cy="719.8" r="7.8"/>
<circle cx="558.4" cy="736.9" r="7.8"/>
<circle cx="563.2" cy="741.7" r="7.8"/>
<circle cx="567.5" cy="730.2" r="7.8"/>
<circle cx="573" cy="723.7" r="7.8"/>
<circle cx="578.4" cy="720.6" r="7.8"/>
<circle cx="583.4" cy="712.7" r="7.8"/>
<circle cx="589.6" cy="706.9" r="7.8"/>
<circle cx="595.2" cy="706.9" r="7.8"/>
<circle cx="600.3" cy="729.5" r="7.8"/>
<circle cx="605.9" cy="745.5" r="7.8"/>
<circle cx="610.7" cy="717.8" r="7.8"/>
<circle cx="616.7" cy="711.5" r="7.8"/>
<circle cx="622.3" cy="712.8" r="7.8"/>
<circle cx="627.6" cy="742.3" r="7.8"/>
<circle cx="632.5" cy="724.7" r="7.8"/>
<circle cx="639" cy="733.2" r="7.8"/>
<circle cx="642.9" cy="724" r="7.8"/>
<circle cx="649.2" cy="735.7" r="7.8"/>
<circle cx="653.6" cy="719.3" r="7.8"/>
<circle cx="659.4" cy="747" r="7.8"/>
<circle cx="664.5" cy="751.2" r="7.8"/>
<circle cx="670.2" cy="772.4" r="7.8"/>
<circle cx="674.3" cy="786.9" r="7.8"/>
<circle cx="679.4" cy="780.1" r="7.8"/>
<circle cx="684.2" cy="783.4" r="7.8"/>
<circle cx="688.3" cy="782.7" r="7.8"/>
<circle cx="693.3" cy="780.9" r="7.8"/>
<circle cx="697.9" cy="773" r="7.8"/>
<circle cx="702.3" cy="760.6" r="7.8"/>
<circle cx="706.6" cy="765.3" r="7.8"/>
<circle cx="710.8" cy="788" r="7.8"/>
<circle cx="715.9" cy="772.9" r="7.8"/>
<circle cx="721" cy="739.2" r="7.8"/>
<circle cx="727.3" cy="751.8" r="7.8"/>
<circle cx="731.2" cy="749.3" r="7.8"/>
<circle cx="735.4" cy="759.8" r="7.8"/>
<circle cx="741.6" cy="760" r="7.8"/>
<circle cx="748.3" cy="791.3" r="7.8"/>
<circle cx="751.9" cy="780" r="7.8"/>
<circle cx="756.4" cy="790.8" r="7.8"/>
<circle cx="762.3" cy="791.3" r="7.8"/>
<circle cx="768.8" cy="777.8" r="7.8"/>
<circle cx="774.4" cy="745" r="7.8"/>
<circle cx="779.5" cy="777.4" r="7.8"/>
<circle cx="785.6" cy="765.8" r="7.8"/>
</g>
<path d="M466 785.7 L663.2 785.7 L669.9 770.8 L676.5 785.7 L726.3 785.7 L730.7 738.7 L736.2 785.7 L746.2 785.7 L751.7 770.8 L763.9 770.8 L769.4 785.7 L779.4 785.7 L783.8 770.8 L791 770.8" stroke="#6b6b6b" stroke-width="5.8" fill="none" stroke-linejoin="round"/>
<path d="M468.2 735.6 L483.5 732.1 L495.2 727.4 L507 732.1 L519.9 741.5 L528.1 736.8 L542.2 734.4 L549.3 735.6 L554 740.3 L563.4 735.6 L577.5 730.9 L584.5 723.8 L593.9 715.6 L601 725 L603.3 734.4 L610.4 730.9 L615.1 734.4 L622.1 728.5 L638.6 726.2 L655 727.4 L662.1 746.5 L668.8 768.6 L678.7 779.6 L689.8 777.4 L700 774 L711.9 768.6 L723 758.6 L731 756 L738.5 757.5 L742.9 777.4 L750.6 786.3 L761.7 788.5 L767.2 790.7 L772.7 775.2 L778 772 L790 775.2" stroke="#e02626" stroke-width="5.8" fill="none" stroke-linejoin="round"/>
</g>
<line x1="663.3" y1="703.9" x2="663.3" y2="794.3" stroke="#000" stroke-width="1.6"/>
<rect x="466.6" y="703.9" width="324.7" height="90.4" fill="none" stroke="#000" stroke-width="1.8"/>
<line x1="559.6" y1="794.3" x2="559.6" y2="785.3" stroke="#000" stroke-width="1.8"/>
<line x1="559.6" y1="703.9" x2="559.6" y2="712.9" stroke="#000" stroke-width="1.8"/>
<text x="555.3" y="819.5" text-anchor="middle" style="font-size:24.5px">−10</text>
<line x1="663.3" y1="794.3" x2="663.3" y2="785.3" stroke="#000" stroke-width="1.8"/>
<line x1="663.3" y1="703.9" x2="663.3" y2="712.9" stroke="#000" stroke-width="1.8"/>
<text x="663.3" y="819.5" text-anchor="middle" style="font-size:24.5px">0</text>
<line x1="766.3" y1="794.3" x2="766.3" y2="785.3" stroke="#000" stroke-width="1.8"/>
<line x1="766.3" y1="703.9" x2="766.3" y2="712.9" stroke="#000" stroke-width="1.8"/>
<text x="766.3" y="819.5" text-anchor="middle" style="font-size:24.5px">10</text>
<line x1="466.6" y1="712.6" x2="475.6" y2="712.6" stroke="#d0363b" stroke-width="1.8"/>
<text x="463" y="723.8" text-anchor="end" fill="#d0363b" style="font-size:24.5px">5.0</text>
<line x1="466.6" y1="776.7" x2="475.6" y2="776.7" stroke="#d0363b" stroke-width="1.8"/>
<text x="463" y="787" text-anchor="end" fill="#d0363b" style="font-size:24.5px">2.5</text>
<line x1="791.3" y1="707" x2="782.3" y2="707" stroke="#808080" stroke-width="1.8"/>
<text x="797" y="713.2" fill="#808080" style="font-size:24.5px">5</text>
<line x1="791.3" y1="784.7" x2="782.3" y2="784.7" stroke="#808080" stroke-width="1.8"/>
<text x="797" y="793.4" fill="#808080" style="font-size:24.5px">0</text>
<text x="635" y="852.2" text-anchor="middle" style="font-size:28.8px">Time (s)</text>
<text x="419.3" y="755" text-anchor="middle" fill="#d0363b" transform="rotate(-90 419.3 755)" style="font-size:29px">Loop size (kb)</text>
<text x="852.3" y="742.5" text-anchor="middle" fill="#808080" transform="rotate(-90 852.3 742.5)" style="font-size:29px">Loop-CTCF</text>
<text x="887.3" y="742.5" text-anchor="middle" fill="#808080" transform="rotate(-90 887.3 742.5)" style="font-size:29px">distance (kb)</text>
<clipPath id="kcf"><rect x="1030.9" y="561.6" width="324.2" height="105"/></clipPath>
<g clip-path="url(#kcf)"><g filter="url(#kblur)">
<rect x="1027.9" y="558.6" width="330.2" height="111" fill="#3a0a0a"/>
<path fill="#082828" d="M1027.9 558.6h8.7v8.6h-8.7zM1171.4 558.6h5.7v8.6h-5.7zM1230.8 558.6h5.7v8.6h-5.7zM1268.6 558.6h5.7v8.6h-5.7zM1284.9 558.6h5.7v8.6h-5.7zM1295.7 558.6h5.7v8.6h-5.7zM1027.9 566.9h8.7v5.5h-8.7zM1133.6 566.9h5.7v5.5h-5.7zM1214.6 566.9h5.7v5.5h-5.7zM1252.4 566.9h5.7v5.5h-5.7zM1295.7 566.9h5.7v5.5h-5.7zM1306.5 566.9h5.7v5.5h-5.7zM1122.8 572.1h5.7v5.5h-5.7zM1230.8 572.1h5.7v5.5h-5.7zM1279.5 572.1h5.7v5.5h-5.7zM1328.1 572.1h5.7v5.5h-5.7zM1349.7 572.1h8.7v5.5h-8.7zM1052.5 650.9h5.7v5.5h-5.7zM1057.9 650.9h5.7v5.5h-5.7zM1068.7 650.9h5.7v5.5h-5.7zM1144.4 650.9h5.7v5.5h-5.7zM1166 650.9h5.7v5.5h-5.7zM1209.2 650.9h5.7v5.5h-5.7zM1057.9 656.1h5.7v5.5h-5.7zM1122.8 656.1h5.7v5.5h-5.7zM1160.6 656.1h5.7v5.5h-5.7zM1236.2 656.1h5.7v5.5h-5.7zM1263.2 656.1h5.7v5.5h-5.7zM1311.9 656.1h5.7v5.5h-5.7z"/>
<path fill="#282828" d="M1036.3 558.6h5.7v8.6h-5.7zM1247 558.6h5.7v8.6h-5.7zM1144.4 566.9h5.7v5.5h-5.7zM1149.8 566.9h5.7v5.5h-5.7zM1198.4 566.9h5.7v5.5h-5.7zM1198.4 572.1h5.7v5.5h-5.7zM1214.6 572.1h5.7v5.5h-5.7zM1209.2 577.4h5.7v5.5h-5.7zM1322.7 587.9h5.7v5.5h-5.7zM1328.1 593.1h5.7v5.5h-5.7zM1052.5 598.4h5.7v5.5h-5.7zM1027.9 619.4h8.7v5.5h-8.7zM1268.6 640.4h5.7v5.5h-5.7zM1198.4 650.9h5.7v5.5h-5.7zM1247 650.9h5.7v5.5h-5.7z"/>
<path fill="#184848" d="M1041.7 558.6h5.7v8.6h-5.7zM1063.3 558.6h5.7v8.6h-5.7zM1155.2 558.6h5.7v8.6h-5.7zM1166 558.6h5.7v8.6h-5.7zM1198.4 558.6h5.7v8.6h-5.7zM1084.9 566.9h5.7v5.5h-5.7zM1106.5 566.9h5.7v5.5h-5.7zM1263.2 566.9h5.7v5.5h-5.7zM1079.5 572.1h5.7v5.5h-5.7zM1112 572.1h5.7v5.5h-5.7zM1155.2 572.1h5.7v5.5h-5.7zM1317.3 572.1h5.7v5.5h-5.7zM1344.3 572.1h5.7v5.5h-5.7zM1139 650.9h5.7v5.5h-5.7zM1214.6 650.9h5.7v5.5h-5.7zM1225.4 650.9h5.7v5.5h-5.7zM1301.1 650.9h5.7v5.5h-5.7zM1027.9 656.1h8.7v5.5h-8.7zM1117.4 656.1h5.7v5.5h-5.7zM1306.5 656.1h5.7v5.5h-5.7z"/>
<path fill="#183838" d="M1047.1 558.6h5.7v8.6h-5.7zM1236.2 558.6h5.7v8.6h-5.7zM1338.9 558.6h5.7v8.6h-5.7zM1117.4 572.1h5.7v5.5h-5.7zM1139 572.1h5.7v5.5h-5.7zM1166 572.1h5.7v5.5h-5.7zM1187.6 572.1h5.7v5.5h-5.7zM1220 572.1h5.7v5.5h-5.7zM1333.5 572.1h5.7v5.5h-5.7zM1112 650.9h5.7v5.5h-5.7zM1122.8 650.9h5.7v5.5h-5.7zM1182.2 650.9h5.7v5.5h-5.7zM1306.5 650.9h5.7v5.5h-5.7zM1112 656.1h5.7v5.5h-5.7zM1155.2 656.1h5.7v5.5h-5.7zM1187.6 656.1h5.7v5.5h-5.7zM1220 656.1h5.7v5.5h-5.7zM1247 656.1h5.7v5.5h-5.7zM1274 656.1h5.7v5.5h-5.7zM1333.5 656.1h5.7v5.5h-5.7z"/>
<path fill="#083838" d="M1052.5 558.6h5.7v8.6h-5.7zM1090.3 558.6h5.7v8.6h-5.7zM1106.5 558.6h5.7v8.6h-5.7zM1252.4 558.6h5.7v8.6h-5.7zM1279.5 558.6h5.7v8.6h-5.7zM1095.7 566.9h5.7v5.5h-5.7zM1225.4 566.9h5.7v5.5h-5.7zM1301.1 566.9h5.7v5.5h-5.7zM1047.1 572.1h5.7v5.5h-5.7zM1322.7 572.1h5.7v5.5h-5.7zM1041.7 650.9h5.7v5.5h-5.7zM1047.1 650.9h5.7v5.5h-5.7zM1074.1 650.9h5.7v5.5h-5.7zM1274 650.9h5.7v5.5h-5.7zM1322.7 650.9h5.7v5.5h-5.7zM1333.5 650.9h5.7v5.5h-5.7zM1063.3 656.1h5.7v5.5h-5.7zM1090.3 656.1h5.7v5.5h-5.7zM1171.4 656.1h5.7v5.5h-5.7zM1176.8 656.1h5.7v5.5h-5.7zM1279.5 656.1h5.7v5.5h-5.7zM1322.7 656.1h5.7v5.5h-5.7z"/>
<path fill="#181818" d="M1057.9 558.6h5.7v8.6h-5.7zM1068.7 558.6h5.7v8.6h-5.7zM1117.4 558.6h5.7v8.6h-5.7zM1128.2 558.6h5.7v8.6h-5.7zM1149.8 558.6h5.7v8.6h-5.7zM1160.6 558.6h5.7v8.6h-5.7zM1176.8 558.6h5.7v8.6h-5.7zM1187.6 558.6h5.7v8.6h-5.7zM1328.1 558.6h5.7v8.6h-5.7zM1344.3 558.6h5.7v8.6h-5.7zM1349.7 558.6h8.7v8.6h-8.7zM1041.7 566.9h5.7v5.5h-5.7zM1068.7 566.9h5.7v5.5h-5.7zM1117.4 566.9h5.7v5.5h-5.7zM1128.2 566.9h5.7v5.5h-5.7zM1139 566.9h5.7v5.5h-5.7zM1160.6 566.9h5.7v5.5h-5.7zM1171.4 566.9h5.7v5.5h-5.7zM1193 566.9h5.7v5.5h-5.7zM1241.6 566.9h5.7v5.5h-5.7zM1257.8 566.9h5.7v5.5h-5.7zM1274 566.9h5.7v5.5h-5.7zM1279.5 566.9h5.7v5.5h-5.7zM1290.3 566.9h5.7v5.5h-5.7zM1317.3 566.9h5.7v5.5h-5.7zM1328.1 566.9h5.7v5.5h-5.7zM1333.5 566.9h5.7v5.5h-5.7zM1338.9 566.9h5.7v5.5h-5.7zM1344.3 566.9h5.7v5.5h-5.7zM1036.3 572.1h5.7v5.5h-5.7zM1057.9 572.1h5.7v5.5h-5.7zM1084.9 572.1h5.7v5.5h-5.7zM1101.1 572.1h5.7v5.5h-5.7zM1133.6 572.1h5.7v5.5h-5.7zM1182.2 572.1h5.7v5.5h-5.7zM1209.2 572.1h5.7v5.5h-5.7zM1225.4 572.1h5.7v5.5h-5.7zM1241.6 572.1h5.7v5.5h-5.7zM1263.2 572.1h5.7v5.5h-5.7zM1268.6 572.1h5.7v5.5h-5.7zM1306.5 572.1h5.7v5.5h-5.7zM1311.9 572.1h5.7v5.5h-5.7zM1338.9 572.1h5.7v5.5h-5.7zM1036.3 650.9h5.7v5.5h-5.7zM1063.3 650.9h5.7v5.5h-5.7zM1079.5 650.9h5.7v5.5h-5.7zM1095.7 650.9h5.7v5.5h-5.7zM1101.1 650.9h5.7v5.5h-5.7zM1117.4 650.9h5.7v5.5h-5.7zM1160.6 650.9h5.7v5.5h-5.7zM1176.8 650.9h5.7v5.5h-5.7zM1193 650.9h5.7v5.5h-5.7zM1220 650.9h5.7v5.5h-5.7zM1230.8 650.9h5.7v5.5h-5.7zM1236.2 650.9h5.7v5.5h-5.7zM1279.5 650.9h5.7v5.5h-5.7zM1295.7 650.9h5.7v5.5h-5.7zM1317.3 650.9h5.7v5.5h-5.7zM1344.3 650.9h5.7v5.5h-5.7zM1349.7 650.9h8.7v5.5h-8.7zM1074.1 656.1h5.7v5.5h-5.7zM1084.9 656.1h5.7v5.5h-5.7zM1101.1 656.1h5.7v5.5h-5.7zM1133.6 656.1h5.7v5.5h-5.7zM1139 656.1h5.7v5.5h-5.7zM1144.4 656.1h5.7v5.5h-5.7zM1182.2 656.1h5.7v5.5h-5.7zM1225.4 656.1h5.7v5.5h-5.7zM1230.8 656.1h5.7v5.5h-5.7zM1284.9 656.1h5.7v5.5h-5.7zM1290.3 656.1h5.7v5.5h-5.7zM1317.3 656.1h5.7v5.5h-5.7z"/>
<path fill="#084848" d="M1074.1 558.6h5.7v8.6h-5.7zM1122.8 558.6h5.7v8.6h-5.7zM1241.6 558.6h5.7v8.6h-5.7zM1301.1 558.6h5.7v8.6h-5.7zM1317.3 558.6h5.7v8.6h-5.7zM1333.5 558.6h5.7v8.6h-5.7zM1079.5 566.9h5.7v5.5h-5.7zM1090.3 566.9h5.7v5.5h-5.7zM1230.8 566.9h5.7v5.5h-5.7zM1311.9 566.9h5.7v5.5h-5.7zM1027.9 572.1h8.7v5.5h-8.7zM1176.8 572.1h5.7v5.5h-5.7zM1203.8 572.1h5.7v5.5h-5.7zM1133.6 650.9h5.7v5.5h-5.7zM1155.2 650.9h5.7v5.5h-5.7zM1311.9 650.9h5.7v5.5h-5.7zM1328.1 650.9h5.7v5.5h-5.7zM1338.9 656.1h5.7v5.5h-5.7zM1349.7 656.1h8.7v5.5h-8.7z"/>
<path fill="#083848" d="M1079.5 558.6h5.7v8.6h-5.7zM1095.7 572.1h5.7v5.5h-5.7zM1193 572.1h5.7v5.5h-5.7zM1193 656.1h5.7v5.5h-5.7z"/>
<path fill="#182828" d="M1084.9 558.6h5.7v8.6h-5.7zM1095.7 558.6h5.7v8.6h-5.7zM1101.1 558.6h5.7v8.6h-5.7zM1112 558.6h5.7v8.6h-5.7zM1133.6 558.6h5.7v8.6h-5.7zM1139 558.6h5.7v8.6h-5.7zM1193 558.6h5.7v8.6h-5.7zM1203.8 558.6h5.7v8.6h-5.7zM1220 558.6h5.7v8.6h-5.7zM1225.4 558.6h5.7v8.6h-5.7zM1257.8 558.6h5.7v8.6h-5.7zM1290.3 558.6h5.7v8.6h-5.7zM1306.5 558.6h5.7v8.6h-5.7zM1322.7 558.6h5.7v8.6h-5.7zM1036.3 566.9h5.7v5.5h-5.7zM1047.1 566.9h5.7v5.5h-5.7zM1052.5 566.9h5.7v5.5h-5.7zM1057.9 566.9h5.7v5.5h-5.7zM1074.1 566.9h5.7v5.5h-5.7zM1101.1 566.9h5.7v5.5h-5.7zM1112 566.9h5.7v5.5h-5.7zM1155.2 566.9h5.7v5.5h-5.7zM1166 566.9h5.7v5.5h-5.7zM1176.8 566.9h5.7v5.5h-5.7zM1182.2 566.9h5.7v5.5h-5.7zM1220 566.9h5.7v5.5h-5.7zM1236.2 566.9h5.7v5.5h-5.7zM1247 566.9h5.7v5.5h-5.7zM1268.6 566.9h5.7v5.5h-5.7zM1284.9 566.9h5.7v5.5h-5.7zM1041.7 572.1h5.7v5.5h-5.7zM1063.3 572.1h5.7v5.5h-5.7zM1068.7 572.1h5.7v5.5h-5.7zM1074.1 572.1h5.7v5.5h-5.7zM1090.3 572.1h5.7v5.5h-5.7zM1106.5 572.1h5.7v5.5h-5.7zM1128.2 572.1h5.7v5.5h-5.7zM1149.8 572.1h5.7v5.5h-5.7zM1160.6 572.1h5.7v5.5h-5.7zM1171.4 572.1h5.7v5.5h-5.7zM1236.2 572.1h5.7v5.5h-5.7zM1247 572.1h5.7v5.5h-5.7zM1274 572.1h5.7v5.5h-5.7zM1084.9 650.9h5.7v5.5h-5.7zM1106.5 650.9h5.7v5.5h-5.7zM1149.8 650.9h5.7v5.5h-5.7zM1171.4 650.9h5.7v5.5h-5.7zM1203.8 650.9h5.7v5.5h-5.7zM1241.6 650.9h5.7v5.5h-5.7zM1263.2 650.9h5.7v5.5h-5.7zM1268.6 650.9h5.7v5.5h-5.7zM1284.9 650.9h5.7v5.5h-5.7zM1290.3 650.9h5.7v5.5h-5.7zM1338.9 650.9h5.7v5.5h-5.7zM1036.3 656.1h5.7v5.5h-5.7zM1047.1 656.1h5.7v5.5h-5.7zM1128.2 656.1h5.7v5.5h-5.7zM1198.4 656.1h5.7v5.5h-5.7zM1252.4 656.1h5.7v5.5h-5.7zM1257.8 656.1h5.7v5.5h-5.7zM1295.7 656.1h5.7v5.5h-5.7zM1301.1 656.1h5.7v5.5h-5.7z"/>
<path fill="#281818" d="M1144.4 558.6h5.7v8.6h-5.7zM1263.2 558.6h5.7v8.6h-5.7zM1187.6 566.9h5.7v5.5h-5.7zM1084.9 577.4h5.7v5.5h-5.7zM1079.5 582.6h5.7v5.5h-5.7zM1284.9 582.6h5.7v5.5h-5.7zM1301.1 582.6h5.7v5.5h-5.7zM1203.8 587.9h5.7v5.5h-5.7zM1333.5 587.9h5.7v5.5h-5.7zM1101.1 593.1h5.7v5.5h-5.7zM1052.5 619.4h5.7v5.5h-5.7zM1252.4 624.6h5.7v5.5h-5.7zM1311.9 624.6h5.7v5.5h-5.7zM1322.7 624.6h5.7v5.5h-5.7zM1279.5 629.9h5.7v5.5h-5.7zM1301.1 629.9h5.7v5.5h-5.7zM1322.7 629.9h5.7v5.5h-5.7zM1052.5 635.1h5.7v5.5h-5.7zM1079.5 635.1h5.7v5.5h-5.7zM1128.2 635.1h5.7v5.5h-5.7zM1225.4 635.1h5.7v5.5h-5.7zM1230.8 635.1h5.7v5.5h-5.7zM1322.7 635.1h5.7v5.5h-5.7zM1052.5 640.4h5.7v5.5h-5.7zM1176.8 640.4h5.7v5.5h-5.7zM1203.8 640.4h5.7v5.5h-5.7zM1209.2 640.4h5.7v5.5h-5.7zM1301.1 645.6h5.7v5.5h-5.7zM1311.9 645.6h5.7v5.5h-5.7zM1149.8 656.1h5.7v5.5h-5.7zM1241.6 656.1h5.7v5.5h-5.7z"/>
<path fill="#082838" d="M1182.2 558.6h5.7v8.6h-5.7zM1274 558.6h5.7v8.6h-5.7zM1322.7 566.9h5.7v5.5h-5.7z"/>
<path fill="#081818" d="M1209.2 558.6h5.7v8.6h-5.7zM1311.9 558.6h5.7v8.6h-5.7zM1063.3 566.9h5.7v5.5h-5.7zM1122.8 566.9h5.7v5.5h-5.7zM1203.8 566.9h5.7v5.5h-5.7zM1209.2 566.9h5.7v5.5h-5.7zM1349.7 566.9h8.7v5.5h-8.7zM1052.5 572.1h5.7v5.5h-5.7zM1144.4 572.1h5.7v5.5h-5.7zM1252.4 572.1h5.7v5.5h-5.7zM1290.3 572.1h5.7v5.5h-5.7zM1295.7 572.1h5.7v5.5h-5.7zM1301.1 572.1h5.7v5.5h-5.7zM1090.3 650.9h5.7v5.5h-5.7zM1128.2 650.9h5.7v5.5h-5.7zM1187.6 650.9h5.7v5.5h-5.7zM1252.4 650.9h5.7v5.5h-5.7zM1257.8 650.9h5.7v5.5h-5.7zM1052.5 656.1h5.7v5.5h-5.7zM1079.5 656.1h5.7v5.5h-5.7zM1106.5 656.1h5.7v5.5h-5.7zM1166 656.1h5.7v5.5h-5.7zM1209.2 656.1h5.7v5.5h-5.7zM1214.6 656.1h5.7v5.5h-5.7zM1268.6 656.1h5.7v5.5h-5.7zM1328.1 656.1h5.7v5.5h-5.7zM1344.3 656.1h5.7v5.5h-5.7z"/>
<path fill="#183848" d="M1214.6 558.6h5.7v8.6h-5.7zM1027.9 650.9h8.7v5.5h-8.7zM1068.7 656.1h5.7v5.5h-5.7zM1095.7 656.1h5.7v5.5h-5.7z"/>
<path fill="#182838" d="M1257.8 572.1h5.7v5.5h-5.7zM1284.9 572.1h5.7v5.5h-5.7zM1041.7 656.1h5.7v5.5h-5.7zM1203.8 656.1h5.7v5.5h-5.7z"/>
<path fill="#481818" d="M1027.9 577.4h8.7v5.5h-8.7zM1063.3 577.4h5.7v5.5h-5.7zM1117.4 577.4h5.7v5.5h-5.7zM1160.6 577.4h5.7v5.5h-5.7zM1166 577.4h5.7v5.5h-5.7zM1225.4 577.4h5.7v5.5h-5.7zM1257.8 577.4h5.7v5.5h-5.7zM1301.1 577.4h5.7v5.5h-5.7zM1322.7 577.4h5.7v5.5h-5.7zM1333.5 577.4h5.7v5.5h-5.7zM1063.3 582.6h5.7v5.5h-5.7zM1209.2 582.6h5.7v5.5h-5.7zM1220 582.6h5.7v5.5h-5.7zM1295.7 582.6h5.7v5.5h-5.7zM1311.9 582.6h5.7v5.5h-5.7zM1317.3 582.6h5.7v5.5h-5.7zM1328.1 582.6h5.7v5.5h-5.7zM1090.3 587.9h5.7v5.5h-5.7zM1101.1 587.9h5.7v5.5h-5.7zM1133.6 587.9h5.7v5.5h-5.7zM1149.8 587.9h5.7v5.5h-5.7zM1230.8 587.9h5.7v5.5h-5.7zM1241.6 587.9h5.7v5.5h-5.7zM1290.3 587.9h5.7v5.5h-5.7zM1027.9 593.1h8.7v5.5h-8.7zM1036.3 593.1h5.7v5.5h-5.7zM1090.3 593.1h5.7v5.5h-5.7zM1176.8 593.1h5.7v5.5h-5.7zM1187.6 593.1h5.7v5.5h-5.7zM1225.4 593.1h5.7v5.5h-5.7zM1241.6 593.1h5.7v5.5h-5.7zM1279.5 593.1h5.7v5.5h-5.7zM1311.9 593.1h5.7v5.5h-5.7zM1322.7 593.1h5.7v5.5h-5.7zM1338.9 593.1h5.7v5.5h-5.7zM1068.7 598.4h5.7v5.5h-5.7zM1027.9 614.1h8.7v5.5h-8.7zM1036.3 614.1h5.7v5.5h-5.7zM1057.9 614.1h5.7v5.5h-5.7zM1068.7 614.1h5.7v5.5h-5.7zM1101.1 619.4h5.7v5.5h-5.7zM1225.4 619.4h5.7v5.5h-5.7zM1041.7 624.6h5.7v5.5h-5.7zM1139 624.6h5.7v5.5h-5.7zM1176.8 624.6h5.7v5.5h-5.7zM1230.8 624.6h5.7v5.5h-5.7zM1257.8 624.6h5.7v5.5h-5.7zM1274 624.6h5.7v5.5h-5.7zM1301.1 624.6h5.7v5.5h-5.7zM1052.5 629.9h5.7v5.5h-5.7zM1133.6 629.9h5.7v5.5h-5.7zM1193 629.9h5.7v5.5h-5.7zM1209.2 629.9h5.7v5.5h-5.7zM1220 629.9h5.7v5.5h-5.7zM1311.9 629.9h5.7v5.5h-5.7zM1338.9 629.9h5.7v5.5h-5.7zM1160.6 635.1h5.7v5.5h-5.7zM1257.8 635.1h5.7v5.5h-5.7zM1274 635.1h5.7v5.5h-5.7zM1333.5 635.1h5.7v5.5h-5.7zM1057.9 640.4h5.7v5.5h-5.7zM1112 640.4h5.7v5.5h-5.7zM1160.6 640.4h5.7v5.5h-5.7zM1171.4 640.4h5.7v5.5h-5.7zM1193 640.4h5.7v5.5h-5.7zM1214.6 640.4h5.7v5.5h-5.7zM1311.9 640.4h5.7v5.5h-5.7zM1322.7 640.4h5.7v5.5h-5.7zM1349.7 640.4h8.7v5.5h-8.7zM1047.1 645.6h5.7v5.5h-5.7zM1057.9 645.6h5.7v5.5h-5.7zM1133.6 645.6h5.7v5.5h-5.7zM1139 645.6h5.7v5.5h-5.7zM1209.2 645.6h5.7v5.5h-5.7zM1274 645.6h5.7v5.5h-5.7zM1295.7 645.6h5.7v5.5h-5.7z"/>
<path fill="#784848" d="M1036.3 577.4h5.7v5.5h-5.7zM1036.3 582.6h5.7v5.5h-5.7zM1084.9 587.9h5.7v5.5h-5.7zM1274 598.4h5.7v5.5h-5.7zM1290.3 624.6h5.7v5.5h-5.7zM1084.9 629.9h5.7v5.5h-5.7zM1112 629.9h5.7v5.5h-5.7zM1128.2 640.4h5.7v5.5h-5.7zM1133.6 640.4h5.7v5.5h-5.7z"/>
<path fill="#781818" d="M1041.7 577.4h5.7v5.5h-5.7zM1095.7 577.4h5.7v5.5h-5.7zM1106.5 577.4h5.7v5.5h-5.7zM1139 577.4h5.7v5.5h-5.7zM1236.2 577.4h5.7v5.5h-5.7zM1274 577.4h5.7v5.5h-5.7zM1149.8 582.6h5.7v5.5h-5.7zM1236.2 582.6h5.7v5.5h-5.7zM1274 582.6h5.7v5.5h-5.7zM1344.3 582.6h5.7v5.5h-5.7zM1349.7 582.6h8.7v5.5h-8.7zM1047.1 587.9h5.7v5.5h-5.7zM1144.4 587.9h5.7v5.5h-5.7zM1155.2 587.9h5.7v5.5h-5.7zM1160.6 587.9h5.7v5.5h-5.7zM1344.3 587.9h5.7v5.5h-5.7zM1349.7 587.9h8.7v5.5h-8.7zM1041.7 593.1h5.7v5.5h-5.7zM1139 593.1h5.7v5.5h-5.7zM1057.9 598.4h5.7v5.5h-5.7zM1106.5 614.1h5.7v5.5h-5.7zM1095.7 619.4h5.7v5.5h-5.7zM1133.6 619.4h5.7v5.5h-5.7zM1144.4 619.4h5.7v5.5h-5.7zM1166 619.4h5.7v5.5h-5.7zM1349.7 619.4h8.7v5.5h-8.7zM1106.5 624.6h5.7v5.5h-5.7zM1112 624.6h5.7v5.5h-5.7zM1182.2 624.6h5.7v5.5h-5.7zM1236.2 624.6h5.7v5.5h-5.7zM1306.5 624.6h5.7v5.5h-5.7zM1095.7 629.9h5.7v5.5h-5.7zM1182.2 629.9h5.7v5.5h-5.7zM1257.8 629.9h5.7v5.5h-5.7zM1041.7 635.1h5.7v5.5h-5.7zM1112 635.1h5.7v5.5h-5.7zM1144.4 635.1h5.7v5.5h-5.7zM1149.8 635.1h5.7v5.5h-5.7zM1182.2 635.1h5.7v5.5h-5.7zM1295.7 635.1h5.7v5.5h-5.7zM1187.6 640.4h5.7v5.5h-5.7zM1257.8 640.4h5.7v5.5h-5.7zM1274 640.4h5.7v5.5h-5.7zM1290.3 640.4h5.7v5.5h-5.7zM1306.5 640.4h5.7v5.5h-5.7zM1095.7 645.6h5.7v5.5h-5.7zM1106.5 645.6h5.7v5.5h-5.7zM1155.2 645.6h5.7v5.5h-5.7z"/>
<path fill="#681818" d="M1047.1 577.4h5.7v5.5h-5.7zM1057.9 577.4h5.7v5.5h-5.7zM1068.7 577.4h5.7v5.5h-5.7zM1122.8 577.4h5.7v5.5h-5.7zM1144.4 577.4h5.7v5.5h-5.7zM1160.6 582.6h5.7v5.5h-5.7zM1166 582.6h5.7v5.5h-5.7zM1214.6 582.6h5.7v5.5h-5.7zM1252.4 582.6h5.7v5.5h-5.7zM1128.2 587.9h5.7v5.5h-5.7zM1247 587.9h5.7v5.5h-5.7zM1257.8 587.9h5.7v5.5h-5.7zM1328.1 587.9h5.7v5.5h-5.7zM1338.9 587.9h5.7v5.5h-5.7zM1068.7 593.1h5.7v5.5h-5.7zM1106.5 593.1h5.7v5.5h-5.7zM1128.2 593.1h5.7v5.5h-5.7zM1144.4 593.1h5.7v5.5h-5.7zM1155.2 593.1h5.7v5.5h-5.7zM1193 593.1h5.7v5.5h-5.7zM1230.8 593.1h5.7v5.5h-5.7zM1284.9 593.1h5.7v5.5h-5.7zM1317.3 593.1h5.7v5.5h-5.7zM1041.7 598.4h5.7v5.5h-5.7zM1041.7 614.1h5.7v5.5h-5.7zM1128.2 619.4h5.7v5.5h-5.7zM1171.4 619.4h5.7v5.5h-5.7zM1176.8 619.4h5.7v5.5h-5.7zM1203.8 624.6h5.7v5.5h-5.7zM1263.2 624.6h5.7v5.5h-5.7zM1027.9 629.9h8.7v5.5h-8.7zM1139 629.9h5.7v5.5h-5.7zM1155.2 629.9h5.7v5.5h-5.7zM1263.2 629.9h5.7v5.5h-5.7zM1284.9 629.9h5.7v5.5h-5.7zM1328.1 629.9h5.7v5.5h-5.7zM1106.5 635.1h5.7v5.5h-5.7zM1155.2 635.1h5.7v5.5h-5.7zM1220 635.1h5.7v5.5h-5.7zM1263.2 635.1h5.7v5.5h-5.7zM1306.5 635.1h5.7v5.5h-5.7zM1027.9 640.4h8.7v5.5h-8.7zM1068.7 640.4h5.7v5.5h-5.7zM1101.1 640.4h5.7v5.5h-5.7zM1106.5 640.4h5.7v5.5h-5.7zM1198.4 640.4h5.7v5.5h-5.7zM1284.9 640.4h5.7v5.5h-5.7zM1295.7 640.4h5.7v5.5h-5.7zM1344.3 640.4h5.7v5.5h-5.7zM1068.7 645.6h5.7v5.5h-5.7zM1187.6 645.6h5.7v5.5h-5.7zM1198.4 645.6h5.7v5.5h-5.7zM1236.2 645.6h5.7v5.5h-5.7zM1263.2 645.6h5.7v5.5h-5.7zM1284.9 645.6h5.7v5.5h-5.7zM1338.9 645.6h5.7v5.5h-5.7z"/>
<path fill="#484848" d="M1052.5 577.4h5.7v5.5h-5.7zM1182.2 582.6h5.7v5.5h-5.7zM1041.7 587.9h5.7v5.5h-5.7zM1155.2 598.4h5.7v5.5h-5.7zM1203.8 645.6h5.7v5.5h-5.7z"/>
<path fill="#682828" d="M1074.1 577.4h5.7v5.5h-5.7zM1187.6 577.4h5.7v5.5h-5.7zM1084.9 582.6h5.7v5.5h-5.7zM1106.5 582.6h5.7v5.5h-5.7zM1193 582.6h5.7v5.5h-5.7zM1166 587.9h5.7v5.5h-5.7zM1171.4 587.9h5.7v5.5h-5.7zM1193 587.9h5.7v5.5h-5.7zM1084.9 593.1h5.7v5.5h-5.7zM1171.4 593.1h5.7v5.5h-5.7zM1063.3 598.4h5.7v5.5h-5.7zM1301.1 608.9h5.7v5.5h-5.7zM1063.3 614.1h5.7v5.5h-5.7zM1301.1 619.4h5.7v5.5h-5.7zM1057.9 624.6h5.7v5.5h-5.7zM1068.7 624.6h5.7v5.5h-5.7zM1084.9 624.6h5.7v5.5h-5.7zM1160.6 624.6h5.7v5.5h-5.7zM1220 624.6h5.7v5.5h-5.7zM1284.9 624.6h5.7v5.5h-5.7zM1290.3 629.9h5.7v5.5h-5.7zM1284.9 635.1h5.7v5.5h-5.7zM1166 640.4h5.7v5.5h-5.7zM1041.7 645.6h5.7v5.5h-5.7zM1117.4 645.6h5.7v5.5h-5.7zM1317.3 645.6h5.7v5.5h-5.7z"/>
<path fill="#581818" d="M1079.5 577.4h5.7v5.5h-5.7zM1101.1 577.4h5.7v5.5h-5.7zM1133.6 577.4h5.7v5.5h-5.7zM1149.8 577.4h5.7v5.5h-5.7zM1193 577.4h5.7v5.5h-5.7zM1203.8 577.4h5.7v5.5h-5.7zM1220 577.4h5.7v5.5h-5.7zM1268.6 577.4h5.7v5.5h-5.7zM1284.9 577.4h5.7v5.5h-5.7zM1311.9 577.4h5.7v5.5h-5.7zM1041.7 582.6h5.7v5.5h-5.7zM1095.7 582.6h5.7v5.5h-5.7zM1101.1 582.6h5.7v5.5h-5.7zM1117.4 582.6h5.7v5.5h-5.7zM1187.6 582.6h5.7v5.5h-5.7zM1263.2 582.6h5.7v5.5h-5.7zM1268.6 582.6h5.7v5.5h-5.7zM1306.5 582.6h5.7v5.5h-5.7zM1322.7 582.6h5.7v5.5h-5.7zM1333.5 582.6h5.7v5.5h-5.7zM1338.9 582.6h5.7v5.5h-5.7zM1027.9 587.9h8.7v5.5h-8.7zM1057.9 587.9h5.7v5.5h-5.7zM1074.1 587.9h5.7v5.5h-5.7zM1122.8 587.9h5.7v5.5h-5.7zM1220 587.9h5.7v5.5h-5.7zM1279.5 587.9h5.7v5.5h-5.7zM1047.1 593.1h5.7v5.5h-5.7zM1160.6 593.1h5.7v5.5h-5.7zM1166 593.1h5.7v5.5h-5.7zM1203.8 593.1h5.7v5.5h-5.7zM1252.4 593.1h5.7v5.5h-5.7zM1027.9 598.4h8.7v5.5h-8.7zM1095.7 598.4h5.7v5.5h-5.7zM1095.7 614.1h5.7v5.5h-5.7zM1047.1 619.4h5.7v5.5h-5.7zM1057.9 619.4h5.7v5.5h-5.7zM1311.9 619.4h5.7v5.5h-5.7zM1333.5 619.4h5.7v5.5h-5.7zM1027.9 624.6h8.7v5.5h-8.7zM1047.1 624.6h5.7v5.5h-5.7zM1166 624.6h5.7v5.5h-5.7zM1187.6 624.6h5.7v5.5h-5.7zM1317.3 624.6h5.7v5.5h-5.7zM1079.5 629.9h5.7v5.5h-5.7zM1090.3 629.9h5.7v5.5h-5.7zM1117.4 629.9h5.7v5.5h-5.7zM1144.4 629.9h5.7v5.5h-5.7zM1176.8 629.9h5.7v5.5h-5.7zM1198.4 629.9h5.7v5.5h-5.7zM1252.4 629.9h5.7v5.5h-5.7zM1274 629.9h5.7v5.5h-5.7zM1063.3 635.1h5.7v5.5h-5.7zM1101.1 635.1h5.7v5.5h-5.7zM1122.8 635.1h5.7v5.5h-5.7zM1133.6 635.1h5.7v5.5h-5.7zM1171.4 635.1h5.7v5.5h-5.7zM1187.6 635.1h5.7v5.5h-5.7zM1236.2 635.1h5.7v5.5h-5.7zM1301.1 635.1h5.7v5.5h-5.7zM1311.9 635.1h5.7v5.5h-5.7zM1328.1 635.1h5.7v5.5h-5.7zM1063.3 640.4h5.7v5.5h-5.7zM1095.7 640.4h5.7v5.5h-5.7zM1220 640.4h5.7v5.5h-5.7zM1252.4 640.4h5.7v5.5h-5.7zM1279.5 640.4h5.7v5.5h-5.7zM1317.3 640.4h5.7v5.5h-5.7zM1063.3 645.6h5.7v5.5h-5.7zM1090.3 645.6h5.7v5.5h-5.7zM1166 645.6h5.7v5.5h-5.7zM1171.4 645.6h5.7v5.5h-5.7zM1252.4 645.6h5.7v5.5h-5.7zM1306.5 645.6h5.7v5.5h-5.7zM1344.3 645.6h5.7v5.5h-5.7z"/>
<path fill="#684848" d="M1090.3 577.4h5.7v5.5h-5.7zM1182.2 577.4h5.7v5.5h-5.7zM1106.5 587.9h5.7v5.5h-5.7zM1074.1 593.1h5.7v5.5h-5.7zM1193 624.6h5.7v5.5h-5.7zM1214.6 629.9h5.7v5.5h-5.7zM1252.4 635.1h5.7v5.5h-5.7z"/>
<path fill="#884848" d="M1112 577.4h5.7v5.5h-5.7zM1074.1 582.6h5.7v5.5h-5.7zM1317.3 587.9h5.7v5.5h-5.7zM1236.2 593.1h5.7v5.5h-5.7zM1220 619.4h5.7v5.5h-5.7zM1284.9 619.4h5.7v5.5h-5.7zM1290.3 619.4h5.7v5.5h-5.7zM1095.7 624.6h5.7v5.5h-5.7z"/>
<path fill="#381818" d="M1128.2 577.4h5.7v5.5h-5.7zM1176.8 577.4h5.7v5.5h-5.7zM1230.8 577.4h5.7v5.5h-5.7zM1306.5 577.4h5.7v5.5h-5.7zM1057.9 582.6h5.7v5.5h-5.7zM1122.8 582.6h5.7v5.5h-5.7zM1198.4 582.6h5.7v5.5h-5.7zM1247 582.6h5.7v5.5h-5.7zM1257.8 582.6h5.7v5.5h-5.7zM1279.5 582.6h5.7v5.5h-5.7zM1176.8 587.9h5.7v5.5h-5.7zM1187.6 587.9h5.7v5.5h-5.7zM1268.6 587.9h5.7v5.5h-5.7zM1295.7 587.9h5.7v5.5h-5.7zM1301.1 587.9h5.7v5.5h-5.7zM1306.5 587.9h5.7v5.5h-5.7zM1349.7 593.1h8.7v5.5h-8.7zM1090.3 614.1h5.7v5.5h-5.7zM1063.3 619.4h5.7v5.5h-5.7zM1079.5 619.4h5.7v5.5h-5.7zM1090.3 619.4h5.7v5.5h-5.7zM1036.3 624.6h5.7v5.5h-5.7zM1122.8 624.6h5.7v5.5h-5.7zM1198.4 624.6h5.7v5.5h-5.7zM1279.5 624.6h5.7v5.5h-5.7zM1333.5 624.6h5.7v5.5h-5.7zM1344.3 624.6h5.7v5.5h-5.7zM1036.3 629.9h5.7v5.5h-5.7zM1041.7 629.9h5.7v5.5h-5.7zM1063.3 629.9h5.7v5.5h-5.7zM1068.7 629.9h5.7v5.5h-5.7zM1101.1 629.9h5.7v5.5h-5.7zM1122.8 629.9h5.7v5.5h-5.7zM1149.8 629.9h5.7v5.5h-5.7zM1171.4 629.9h5.7v5.5h-5.7zM1241.6 629.9h5.7v5.5h-5.7zM1268.6 629.9h5.7v5.5h-5.7zM1317.3 629.9h5.7v5.5h-5.7zM1344.3 629.9h5.7v5.5h-5.7zM1349.7 629.9h8.7v5.5h-8.7zM1027.9 635.1h8.7v5.5h-8.7zM1036.3 635.1h5.7v5.5h-5.7zM1139 635.1h5.7v5.5h-5.7zM1166 635.1h5.7v5.5h-5.7zM1247 635.1h5.7v5.5h-5.7zM1290.3 635.1h5.7v5.5h-5.7zM1317.3 635.1h5.7v5.5h-5.7zM1344.3 635.1h5.7v5.5h-5.7zM1139 640.4h5.7v5.5h-5.7zM1301.1 640.4h5.7v5.5h-5.7zM1328.1 640.4h5.7v5.5h-5.7zM1333.5 640.4h5.7v5.5h-5.7zM1052.5 645.6h5.7v5.5h-5.7zM1079.5 645.6h5.7v5.5h-5.7zM1084.9 645.6h5.7v5.5h-5.7zM1220 645.6h5.7v5.5h-5.7zM1230.8 645.6h5.7v5.5h-5.7zM1247 645.6h5.7v5.5h-5.7zM1290.3 645.6h5.7v5.5h-5.7zM1322.7 645.6h5.7v5.5h-5.7zM1333.5 645.6h5.7v5.5h-5.7z"/>
<path fill="#984848" d="M1155.2 577.4h5.7v5.5h-5.7zM1047.1 598.4h5.7v5.5h-5.7zM1079.5 598.4h5.7v5.5h-5.7zM1198.4 619.4h5.7v5.5h-5.7zM1149.8 624.6h5.7v5.5h-5.7zM1182.2 645.6h5.7v5.5h-5.7z"/>
<path fill="#580808" d="M1171.4 577.4h5.7v5.5h-5.7zM1338.9 577.4h5.7v5.5h-5.7zM1203.8 582.6h5.7v5.5h-5.7zM1052.5 624.6h5.7v5.5h-5.7zM1155.2 624.6h5.7v5.5h-5.7zM1349.7 624.6h8.7v5.5h-8.7zM1295.7 629.9h5.7v5.5h-5.7z"/>
<path fill="#785858" d="M1198.4 577.4h5.7v5.5h-5.7zM1122.8 603.6h5.7v5.5h-5.7zM1193 635.1h5.7v5.5h-5.7zM1084.9 640.4h5.7v5.5h-5.7zM1230.8 640.4h5.7v5.5h-5.7z"/>
<path fill="#384848" d="M1214.6 577.4h5.7v5.5h-5.7zM1106.5 619.4h5.7v5.5h-5.7zM1236.2 640.4h5.7v5.5h-5.7z"/>
<path fill="#680808" d="M1241.6 577.4h5.7v5.5h-5.7zM1295.7 577.4h5.7v5.5h-5.7zM1047.1 582.6h5.7v5.5h-5.7zM1095.7 587.9h5.7v5.5h-5.7zM1068.7 619.4h5.7v5.5h-5.7zM1117.4 619.4h5.7v5.5h-5.7zM1122.8 619.4h5.7v5.5h-5.7zM1117.4 624.6h5.7v5.5h-5.7zM1128.2 624.6h5.7v5.5h-5.7zM1241.6 624.6h5.7v5.5h-5.7zM1057.9 635.1h5.7v5.5h-5.7z"/>
<path fill="#482828" d="M1247 577.4h5.7v5.5h-5.7zM1328.1 577.4h5.7v5.5h-5.7zM1349.7 577.4h8.7v5.5h-8.7zM1155.2 582.6h5.7v5.5h-5.7zM1052.5 587.9h5.7v5.5h-5.7zM1068.7 587.9h5.7v5.5h-5.7zM1112 587.9h5.7v5.5h-5.7zM1338.9 619.4h5.7v5.5h-5.7zM1063.3 624.6h5.7v5.5h-5.7zM1101.1 624.6h5.7v5.5h-5.7zM1171.4 624.6h5.7v5.5h-5.7zM1214.6 624.6h5.7v5.5h-5.7zM1247 629.9h5.7v5.5h-5.7zM1095.7 635.1h5.7v5.5h-5.7zM1209.2 635.1h5.7v5.5h-5.7zM1047.1 640.4h5.7v5.5h-5.7zM1074.1 640.4h5.7v5.5h-5.7zM1090.3 640.4h5.7v5.5h-5.7zM1117.4 640.4h5.7v5.5h-5.7zM1247 640.4h5.7v5.5h-5.7zM1128.2 645.6h5.7v5.5h-5.7zM1160.6 645.6h5.7v5.5h-5.7zM1176.8 645.6h5.7v5.5h-5.7zM1193 645.6h5.7v5.5h-5.7zM1241.6 645.6h5.7v5.5h-5.7zM1349.7 645.6h8.7v5.5h-8.7z"/>
<path fill="#584848" d="M1252.4 577.4h5.7v5.5h-5.7zM1090.3 582.6h5.7v5.5h-5.7zM1322.7 603.6h5.7v5.5h-5.7zM1328.1 603.6h5.7v5.5h-5.7zM1112 619.4h5.7v5.5h-5.7zM1225.4 645.6h5.7v5.5h-5.7z"/>
<path fill="#683838" d="M1263.2 577.4h5.7v5.5h-5.7zM1052.5 582.6h5.7v5.5h-5.7zM1274 608.9h5.7v5.5h-5.7zM1306.5 629.9h5.7v5.5h-5.7zM1268.6 635.1h5.7v5.5h-5.7zM1122.8 645.6h5.7v5.5h-5.7z"/>
<path fill="#480808" d="M1279.5 577.4h5.7v5.5h-5.7zM1317.3 577.4h5.7v5.5h-5.7zM1128.2 582.6h5.7v5.5h-5.7zM1144.4 582.6h5.7v5.5h-5.7zM1117.4 587.9h5.7v5.5h-5.7zM1182.2 587.9h5.7v5.5h-5.7zM1057.9 593.1h5.7v5.5h-5.7zM1268.6 624.6h5.7v5.5h-5.7zM1187.6 629.9h5.7v5.5h-5.7zM1155.2 640.4h5.7v5.5h-5.7zM1112 645.6h5.7v5.5h-5.7zM1268.6 645.6h5.7v5.5h-5.7z"/>
<path fill="#782828" d="M1290.3 577.4h5.7v5.5h-5.7zM1214.6 593.1h5.7v5.5h-5.7zM1106.5 598.4h5.7v5.5h-5.7zM1139 619.4h5.7v5.5h-5.7zM1328.1 619.4h5.7v5.5h-5.7zM1047.1 635.1h5.7v5.5h-5.7zM1214.6 645.6h5.7v5.5h-5.7zM1257.8 645.6h5.7v5.5h-5.7z"/>
<path fill="#382828" d="M1344.3 577.4h5.7v5.5h-5.7zM1139 582.6h5.7v5.5h-5.7zM1198.4 587.9h5.7v5.5h-5.7zM1236.2 587.9h5.7v5.5h-5.7zM1063.3 593.1h5.7v5.5h-5.7zM1133.6 593.1h5.7v5.5h-5.7zM1257.8 593.1h5.7v5.5h-5.7zM1263.2 593.1h5.7v5.5h-5.7zM1268.6 593.1h5.7v5.5h-5.7zM1333.5 593.1h5.7v5.5h-5.7zM1101.1 614.1h5.7v5.5h-5.7zM1182.2 619.4h5.7v5.5h-5.7zM1322.7 619.4h5.7v5.5h-5.7zM1225.4 624.6h5.7v5.5h-5.7zM1247 624.6h5.7v5.5h-5.7zM1328.1 624.6h5.7v5.5h-5.7zM1057.9 629.9h5.7v5.5h-5.7zM1230.8 629.9h5.7v5.5h-5.7zM1236.2 629.9h5.7v5.5h-5.7zM1176.8 635.1h5.7v5.5h-5.7zM1079.5 640.4h5.7v5.5h-5.7zM1144.4 645.6h5.7v5.5h-5.7zM1328.1 645.6h5.7v5.5h-5.7z"/>
<path fill="#685858" d="M1027.9 582.6h8.7v5.5h-8.7zM1133.6 582.6h5.7v5.5h-5.7zM1052.5 593.1h5.7v5.5h-5.7zM1074.1 635.1h5.7v5.5h-5.7zM1117.4 635.1h5.7v5.5h-5.7zM1338.9 640.4h5.7v5.5h-5.7z"/>
<path fill="#380808" d="M1068.7 582.6h5.7v5.5h-5.7zM1252.4 587.9h5.7v5.5h-5.7zM1052.5 614.1h5.7v5.5h-5.7zM1036.3 619.4h5.7v5.5h-5.7zM1074.1 624.6h5.7v5.5h-5.7zM1295.7 624.6h5.7v5.5h-5.7zM1338.9 635.1h5.7v5.5h-5.7zM1122.8 640.4h5.7v5.5h-5.7zM1027.9 645.6h8.7v5.5h-8.7zM1036.3 645.6h5.7v5.5h-5.7z"/>
<path fill="#385858" d="M1112 582.6h5.7v5.5h-5.7zM1338.9 603.6h5.7v5.5h-5.7zM1041.7 619.4h5.7v5.5h-5.7zM1279.5 635.1h5.7v5.5h-5.7z"/>
<path fill="#783838" d="M1171.4 582.6h5.7v5.5h-5.7zM1063.3 587.9h5.7v5.5h-5.7zM1084.9 619.4h5.7v5.5h-5.7zM1225.4 629.9h5.7v5.5h-5.7z"/>
<path fill="#585858" d="M1176.8 582.6h5.7v5.5h-5.7zM1225.4 587.9h5.7v5.5h-5.7zM1311.9 587.9h5.7v5.5h-5.7zM1079.5 593.1h5.7v5.5h-5.7zM1112 598.4h5.7v5.5h-5.7zM1338.9 624.6h5.7v5.5h-5.7zM1166 629.9h5.7v5.5h-5.7z"/>
<path fill="#582828" d="M1225.4 582.6h5.7v5.5h-5.7zM1230.8 582.6h5.7v5.5h-5.7zM1117.4 593.1h5.7v5.5h-5.7zM1198.4 593.1h5.7v5.5h-5.7zM1247 593.1h5.7v5.5h-5.7zM1290.3 593.1h5.7v5.5h-5.7zM1295.7 593.1h5.7v5.5h-5.7zM1301.1 593.1h5.7v5.5h-5.7zM1036.3 598.4h5.7v5.5h-5.7zM1047.1 614.1h5.7v5.5h-5.7zM1074.1 619.4h5.7v5.5h-5.7zM1193 619.4h5.7v5.5h-5.7zM1203.8 619.4h5.7v5.5h-5.7zM1209.2 619.4h5.7v5.5h-5.7zM1247 619.4h5.7v5.5h-5.7zM1079.5 624.6h5.7v5.5h-5.7zM1090.3 624.6h5.7v5.5h-5.7zM1133.6 624.6h5.7v5.5h-5.7zM1144.4 624.6h5.7v5.5h-5.7zM1074.1 629.9h5.7v5.5h-5.7zM1106.5 629.9h5.7v5.5h-5.7zM1160.6 629.9h5.7v5.5h-5.7zM1203.8 629.9h5.7v5.5h-5.7zM1333.5 629.9h5.7v5.5h-5.7zM1198.4 635.1h5.7v5.5h-5.7zM1203.8 635.1h5.7v5.5h-5.7zM1349.7 635.1h8.7v5.5h-8.7zM1182.2 640.4h5.7v5.5h-5.7zM1225.4 640.4h5.7v5.5h-5.7zM1074.1 645.6h5.7v5.5h-5.7z"/>
<path fill="#881818" d="M1241.6 582.6h5.7v5.5h-5.7zM1263.2 587.9h5.7v5.5h-5.7zM1149.8 593.1h5.7v5.5h-5.7zM1047.1 608.9h5.7v5.5h-5.7zM1101.1 608.9h5.7v5.5h-5.7zM1322.7 614.1h5.7v5.5h-5.7zM1160.6 619.4h5.7v5.5h-5.7zM1187.6 619.4h5.7v5.5h-5.7zM1295.7 619.4h5.7v5.5h-5.7zM1344.3 619.4h5.7v5.5h-5.7zM1241.6 635.1h5.7v5.5h-5.7zM1149.8 640.4h5.7v5.5h-5.7zM1263.2 640.4h5.7v5.5h-5.7z"/>
<path fill="#780808" d="M1290.3 582.6h5.7v5.5h-5.7zM1230.8 619.4h5.7v5.5h-5.7zM1214.6 635.1h5.7v5.5h-5.7zM1036.3 640.4h5.7v5.5h-5.7z"/>
<path fill="#280808" d="M1036.3 587.9h5.7v5.5h-5.7zM1079.5 614.1h5.7v5.5h-5.7zM1047.1 661.4h5.7v8.6h-5.7zM1139 661.4h5.7v8.6h-5.7zM1144.4 661.4h5.7v8.6h-5.7zM1149.8 661.4h5.7v8.6h-5.7zM1160.6 661.4h5.7v8.6h-5.7zM1182.2 661.4h5.7v8.6h-5.7zM1187.6 661.4h5.7v8.6h-5.7zM1214.6 661.4h5.7v8.6h-5.7zM1220 661.4h5.7v8.6h-5.7zM1236.2 661.4h5.7v8.6h-5.7zM1241.6 661.4h5.7v8.6h-5.7zM1257.8 661.4h5.7v8.6h-5.7z"/>
<path fill="#386868" d="M1079.5 587.9h5.7v5.5h-5.7zM1149.8 598.4h5.7v5.5h-5.7zM1084.9 614.1h5.7v5.5h-5.7z"/>
<path fill="#885858" d="M1139 587.9h5.7v5.5h-5.7zM1182.2 603.6h5.7v5.5h-5.7zM1047.1 629.9h5.7v5.5h-5.7zM1084.9 635.1h5.7v5.5h-5.7zM1041.7 640.4h5.7v5.5h-5.7zM1241.6 640.4h5.7v5.5h-5.7z"/>
<path fill="#385868" d="M1209.2 587.9h5.7v5.5h-5.7z"/>
<path fill="#983838" d="M1214.6 587.9h5.7v5.5h-5.7zM1095.7 593.1h5.7v5.5h-5.7z"/>
<path fill="#384858" d="M1274 587.9h5.7v5.5h-5.7zM1279.5 645.6h5.7v5.5h-5.7z"/>
<path fill="#487878" d="M1284.9 587.9h5.7v5.5h-5.7zM1112 593.1h5.7v5.5h-5.7zM1182.2 593.1h5.7v5.5h-5.7z"/>
<path fill="#586868" d="M1122.8 593.1h5.7v5.5h-5.7zM1128.2 603.6h5.7v5.5h-5.7zM1279.5 603.6h5.7v5.5h-5.7z"/>
<path fill="#583838" d="M1209.2 593.1h5.7v5.5h-5.7zM1074.1 614.1h5.7v5.5h-5.7z"/>
<path fill="#484858" d="M1220 593.1h5.7v5.5h-5.7zM1187.6 598.4h5.7v5.5h-5.7z"/>
<path fill="#284848" d="M1274 593.1h5.7v5.5h-5.7zM1301.1 598.4h5.7v5.5h-5.7z"/>
<path fill="#486868" d="M1306.5 593.1h5.7v5.5h-5.7zM1290.3 603.6h5.7v5.5h-5.7zM1090.3 635.1h5.7v5.5h-5.7zM1144.4 640.4h5.7v5.5h-5.7z"/>
<path fill="#285858" d="M1344.3 593.1h5.7v5.5h-5.7zM1252.4 598.4h5.7v5.5h-5.7z"/>
<path fill="#888878" d="M1074.1 598.4h5.7v5.5h-5.7z"/>
<path fill="#883838" d="M1084.9 598.4h5.7v5.5h-5.7zM1268.6 608.9h5.7v5.5h-5.7z"/>
<path fill="#686868" d="M1090.3 598.4h5.7v5.5h-5.7z"/>
<path fill="#c8a8a8" d="M1101.1 598.4h5.7v5.5h-5.7z"/>
<path fill="#388888" d="M1117.4 598.4h5.7v5.5h-5.7zM1160.6 598.4h5.7v5.5h-5.7zM1209.2 598.4h5.7v5.5h-5.7zM1257.8 598.4h5.7v5.5h-5.7zM1225.4 603.6h5.7v5.5h-5.7z"/>
<path fill="#48a8a8" d="M1122.8 598.4h5.7v5.5h-5.7zM1344.3 598.4h5.7v5.5h-5.7z"/>
<path fill="#389898" d="M1128.2 598.4h5.7v5.5h-5.7zM1311.9 603.6h5.7v5.5h-5.7z"/>
<path fill="#489898" d="M1133.6 598.4h5.7v5.5h-5.7zM1220 603.6h5.7v5.5h-5.7z"/>
<path fill="#786868" d="M1139 598.4h5.7v5.5h-5.7z"/>
<path fill="#287878" d="M1144.4 598.4h5.7v5.5h-5.7zM1333.5 603.6h5.7v5.5h-5.7z"/>
<path fill="#483848" d="M1166 598.4h5.7v5.5h-5.7z"/>
<path fill="#4898a8" d="M1171.4 598.4h5.7v5.5h-5.7z"/>
<path fill="#284858" d="M1176.8 598.4h5.7v5.5h-5.7z"/>
<path fill="#58c8c8" d="M1182.2 598.4h5.7v5.5h-5.7zM1139 603.6h5.7v5.5h-5.7zM1155.2 603.6h5.7v5.5h-5.7z"/>
<path fill="#488888" d="M1193 598.4h5.7v5.5h-5.7zM1203.8 598.4h5.7v5.5h-5.7z"/>
<path fill="#68f8f8" d="M1198.4 598.4h5.7v5.5h-5.7zM1349.7 598.4h8.7v5.5h-8.7z"/>
<path fill="#78a8b8" d="M1214.6 598.4h5.7v5.5h-5.7z"/>
<path fill="#38a8a8" d="M1220 598.4h5.7v5.5h-5.7zM1290.3 598.4h5.7v5.5h-5.7z"/>
<path fill="#387878" d="M1225.4 598.4h5.7v5.5h-5.7zM1295.7 603.6h5.7v5.5h-5.7z"/>
<path fill="#288888" d="M1230.8 598.4h5.7v5.5h-5.7z"/>
<path fill="#289898" d="M1236.2 598.4h5.7v5.5h-5.7zM1230.8 603.6h5.7v5.5h-5.7z"/>
<path fill="#286868" d="M1241.6 598.4h5.7v5.5h-5.7zM1068.7 635.1h5.7v5.5h-5.7zM1101.1 645.6h5.7v5.5h-5.7z"/>
<path fill="#587888" d="M1247 598.4h5.7v5.5h-5.7z"/>
<path fill="#785868" d="M1263.2 598.4h5.7v5.5h-5.7z"/>
<path fill="#583848" d="M1268.6 598.4h5.7v5.5h-5.7z"/>
<path fill="#18a8b8" d="M1279.5 598.4h5.7v5.5h-5.7z"/>
<path fill="#58f8f8" d="M1284.9 598.4h5.7v5.5h-5.7z"/>
<path fill="#38a8b8" d="M1295.7 598.4h5.7v5.5h-5.7z"/>
<path fill="#58c8d8" d="M1306.5 598.4h5.7v5.5h-5.7z"/>
<path fill="#48a8b8" d="M1311.9 598.4h5.7v5.5h-5.7z"/>
<path fill="#28a8a8" d="M1317.3 598.4h5.7v5.5h-5.7z"/>
<path fill="#28c8c8" d="M1322.7 598.4h5.7v5.5h-5.7zM1133.6 603.6h5.7v5.5h-5.7z"/>
<path fill="#38c8c8" d="M1328.1 598.4h5.7v5.5h-5.7zM1203.8 603.6h5.7v5.5h-5.7z"/>
<path fill="#18b8c8" d="M1333.5 598.4h5.7v5.5h-5.7z"/>
<path fill="#28c8d8" d="M1338.9 598.4h5.7v5.5h-5.7z"/>
<path fill="#e8c8c8" d="M1027.9 603.6h8.7v5.5h-8.7z"/>
<path fill="#f8f8f8" d="M1036.3 603.6h5.7v5.5h-5.7zM1047.1 603.6h5.7v5.5h-5.7zM1052.5 603.6h5.7v5.5h-5.7zM1057.9 603.6h5.7v5.5h-5.7zM1090.3 603.6h5.7v5.5h-5.7zM1095.7 603.6h5.7v5.5h-5.7zM1106.5 603.6h5.7v5.5h-5.7z"/>
<path fill="#f8f8e8" d="M1041.7 603.6h5.7v5.5h-5.7z"/>
<path fill="#f8c8c8" d="M1063.3 603.6h5.7v5.5h-5.7z"/>
<path fill="#f8e8e8" d="M1068.7 603.6h5.7v5.5h-5.7z"/>
<path fill="#f8d8d8" d="M1074.1 603.6h5.7v5.5h-5.7zM1084.9 603.6h5.7v5.5h-5.7z"/>
<path fill="#f8e8d8" d="M1079.5 603.6h5.7v5.5h-5.7z"/>
<path fill="#f8c8b8" d="M1101.1 603.6h5.7v5.5h-5.7z"/>
<path fill="#48c8c8" d="M1112 603.6h5.7v5.5h-5.7zM1241.6 603.6h5.7v5.5h-5.7z"/>
<path fill="#58a8a8" d="M1117.4 603.6h5.7v5.5h-5.7zM1214.6 603.6h5.7v5.5h-5.7zM1306.5 603.6h5.7v5.5h-5.7z"/>
<path fill="#888898" d="M1144.4 603.6h5.7v5.5h-5.7z"/>
<path fill="#78b8c8" d="M1149.8 603.6h5.7v5.5h-5.7z"/>
<path fill="#689898" d="M1160.6 603.6h5.7v5.5h-5.7z"/>
<path fill="#48f8f8" d="M1166 603.6h5.7v5.5h-5.7z"/>
<path fill="#886878" d="M1171.4 603.6h5.7v5.5h-5.7z"/>
<path fill="#08c8d8" d="M1176.8 603.6h5.7v5.5h-5.7z"/>
<path fill="#48e8e8" d="M1187.6 603.6h5.7v5.5h-5.7zM1268.6 603.6h5.7v5.5h-5.7z"/>
<path fill="#8898a8" d="M1193 603.6h5.7v5.5h-5.7z"/>
<path fill="#986868" d="M1198.4 603.6h5.7v5.5h-5.7z"/>
<path fill="#18a8a8" d="M1209.2 603.6h5.7v5.5h-5.7z"/>
<path fill="#38b8b8" d="M1236.2 603.6h5.7v5.5h-5.7zM1247 603.6h5.7v5.5h-5.7z"/>
<path fill="#28b8b8" d="M1252.4 603.6h5.7v5.5h-5.7z"/>
<path fill="#68b8b8" d="M1257.8 603.6h5.7v5.5h-5.7zM1349.7 603.6h8.7v5.5h-8.7z"/>
<path fill="#48b8b8" d="M1263.2 603.6h5.7v5.5h-5.7z"/>
<path fill="#18c8d8" d="M1274 603.6h5.7v5.5h-5.7z"/>
<path fill="#487888" d="M1284.9 603.6h5.7v5.5h-5.7z"/>
<path fill="#48b8c8" d="M1301.1 603.6h5.7v5.5h-5.7z"/>
<path fill="#38d8d8" d="M1317.3 603.6h5.7v5.5h-5.7z"/>
<path fill="#687878" d="M1344.3 603.6h5.7v5.5h-5.7z"/>
<path fill="#f87878" d="M1027.9 608.9h8.7v5.5h-8.7z"/>
<path fill="#d82828" d="M1036.3 608.9h5.7v5.5h-5.7zM1257.8 608.9h5.7v5.5h-5.7zM1317.3 608.9h5.7v5.5h-5.7zM1117.4 614.1h5.7v5.5h-5.7zM1155.2 614.1h5.7v5.5h-5.7zM1176.8 614.1h5.7v5.5h-5.7zM1268.6 614.1h5.7v5.5h-5.7zM1306.5 614.1h5.7v5.5h-5.7zM1344.3 614.1h5.7v5.5h-5.7z"/>
<path fill="#f83838" d="M1041.7 608.9h5.7v5.5h-5.7z"/>
<path fill="#e83838" d="M1052.5 608.9h5.7v5.5h-5.7z"/>
<path fill="#c88888" d="M1057.9 608.9h5.7v5.5h-5.7z"/>
<path fill="#d84848" d="M1063.3 608.9h5.7v5.5h-5.7zM1301.1 614.1h5.7v5.5h-5.7z"/>
<path fill="#f85858" d="M1068.7 608.9h5.7v5.5h-5.7zM1095.7 608.9h5.7v5.5h-5.7zM1230.8 608.9h5.7v5.5h-5.7zM1149.8 614.1h5.7v5.5h-5.7zM1193 614.1h5.7v5.5h-5.7zM1236.2 614.1h5.7v5.5h-5.7zM1290.3 614.1h5.7v5.5h-5.7zM1349.7 614.1h8.7v5.5h-8.7z"/>
<path fill="#882828" d="M1074.1 608.9h5.7v5.5h-5.7zM1166 608.9h5.7v5.5h-5.7zM1155.2 619.4h5.7v5.5h-5.7zM1252.4 619.4h5.7v5.5h-5.7z"/>
<path fill="#b86868" d="M1079.5 608.9h5.7v5.5h-5.7z"/>
<path fill="#d81818" d="M1084.9 608.9h5.7v5.5h-5.7zM1225.4 608.9h5.7v5.5h-5.7zM1182.2 614.1h5.7v5.5h-5.7zM1220 614.1h5.7v5.5h-5.7zM1230.8 614.1h5.7v5.5h-5.7zM1247 614.1h5.7v5.5h-5.7z"/>
<path fill="#982828" d="M1090.3 608.9h5.7v5.5h-5.7zM1133.6 608.9h5.7v5.5h-5.7zM1187.6 608.9h5.7v5.5h-5.7zM1149.8 619.4h5.7v5.5h-5.7zM1268.6 619.4h5.7v5.5h-5.7z"/>
<path fill="#b82828" d="M1106.5 608.9h5.7v5.5h-5.7zM1112 608.9h5.7v5.5h-5.7zM1117.4 608.9h5.7v5.5h-5.7zM1144.4 608.9h5.7v5.5h-5.7zM1193 608.9h5.7v5.5h-5.7zM1209.2 608.9h5.7v5.5h-5.7zM1263.2 608.9h5.7v5.5h-5.7zM1279.5 608.9h5.7v5.5h-5.7zM1349.7 608.9h8.7v5.5h-8.7zM1122.8 614.1h5.7v5.5h-5.7zM1171.4 614.1h5.7v5.5h-5.7zM1257.8 614.1h5.7v5.5h-5.7zM1274 614.1h5.7v5.5h-5.7z"/>
<path fill="#a85858" d="M1122.8 608.9h5.7v5.5h-5.7z"/>
<path fill="#e81818" d="M1128.2 608.9h5.7v5.5h-5.7zM1333.5 608.9h5.7v5.5h-5.7z"/>
<path fill="#f81818" d="M1139 608.9h5.7v5.5h-5.7zM1149.8 608.9h5.7v5.5h-5.7zM1133.6 614.1h5.7v5.5h-5.7zM1187.6 614.1h5.7v5.5h-5.7z"/>
<path fill="#c82828" d="M1155.2 608.9h5.7v5.5h-5.7zM1220 608.9h5.7v5.5h-5.7zM1247 608.9h5.7v5.5h-5.7zM1128.2 614.1h5.7v5.5h-5.7zM1279.5 614.1h5.7v5.5h-5.7z"/>
<path fill="#e82828" d="M1160.6 608.9h5.7v5.5h-5.7zM1236.2 608.9h5.7v5.5h-5.7zM1338.9 608.9h5.7v5.5h-5.7zM1112 614.1h5.7v5.5h-5.7zM1139 614.1h5.7v5.5h-5.7zM1166 614.1h5.7v5.5h-5.7zM1252.4 614.1h5.7v5.5h-5.7z"/>
<path fill="#c81818" d="M1171.4 608.9h5.7v5.5h-5.7zM1311.9 614.1h5.7v5.5h-5.7z"/>
<path fill="#a82828" d="M1176.8 608.9h5.7v5.5h-5.7zM1203.8 608.9h5.7v5.5h-5.7zM1306.5 608.9h5.7v5.5h-5.7zM1344.3 608.9h5.7v5.5h-5.7zM1203.8 614.1h5.7v5.5h-5.7z"/>
<path fill="#d87878" d="M1182.2 608.9h5.7v5.5h-5.7z"/>
<path fill="#f82828" d="M1198.4 608.9h5.7v5.5h-5.7zM1241.6 614.1h5.7v5.5h-5.7z"/>
<path fill="#981818" d="M1214.6 608.9h5.7v5.5h-5.7zM1328.1 614.1h5.7v5.5h-5.7zM1214.6 619.4h5.7v5.5h-5.7zM1236.2 619.4h5.7v5.5h-5.7zM1306.5 619.4h5.7v5.5h-5.7z"/>
<path fill="#b81818" d="M1241.6 608.9h5.7v5.5h-5.7zM1311.9 608.9h5.7v5.5h-5.7zM1328.1 608.9h5.7v5.5h-5.7zM1198.4 614.1h5.7v5.5h-5.7zM1241.6 619.4h5.7v5.5h-5.7z"/>
<path fill="#d86868" d="M1252.4 608.9h5.7v5.5h-5.7zM1322.7 608.9h5.7v5.5h-5.7z"/>
<path fill="#c85858" d="M1284.9 608.9h5.7v5.5h-5.7z"/>
<path fill="#c84848" d="M1290.3 608.9h5.7v5.5h-5.7z"/>
<path fill="#a81818" d="M1295.7 608.9h5.7v5.5h-5.7zM1144.4 614.1h5.7v5.5h-5.7zM1160.6 614.1h5.7v5.5h-5.7zM1214.6 614.1h5.7v5.5h-5.7zM1225.4 614.1h5.7v5.5h-5.7zM1263.2 614.1h5.7v5.5h-5.7zM1274 619.4h5.7v5.5h-5.7z"/>
<path fill="#887878" d="M1209.2 614.1h5.7v5.5h-5.7z"/>
<path fill="#b84848" d="M1284.9 614.1h5.7v5.5h-5.7z"/>
<path fill="#b85858" d="M1295.7 614.1h5.7v5.5h-5.7zM1338.9 614.1h5.7v5.5h-5.7zM1317.3 619.4h5.7v5.5h-5.7z"/>
<path fill="#f86868" d="M1317.3 614.1h5.7v5.5h-5.7z"/>
<path fill="#c87878" d="M1333.5 614.1h5.7v5.5h-5.7z"/>
<path fill="#a84848" d="M1257.8 619.4h5.7v5.5h-5.7zM1149.8 645.6h5.7v5.5h-5.7z"/>
<path fill="#b83838" d="M1263.2 619.4h5.7v5.5h-5.7z"/>
<path fill="#383848" d="M1279.5 619.4h5.7v5.5h-5.7z"/>
<path fill="#485858" d="M1209.2 624.6h5.7v5.5h-5.7z"/>
<path fill="#386878" d="M1128.2 629.9h5.7v5.5h-5.7z"/>
<path fill="#180808" d="M1027.9 661.4h8.7v8.6h-8.7zM1036.3 661.4h5.7v8.6h-5.7zM1041.7 661.4h5.7v8.6h-5.7zM1052.5 661.4h5.7v8.6h-5.7zM1057.9 661.4h5.7v8.6h-5.7zM1063.3 661.4h5.7v8.6h-5.7zM1068.7 661.4h5.7v8.6h-5.7zM1074.1 661.4h5.7v8.6h-5.7zM1079.5 661.4h5.7v8.6h-5.7zM1084.9 661.4h5.7v8.6h-5.7zM1090.3 661.4h5.7v8.6h-5.7zM1095.7 661.4h5.7v8.6h-5.7zM1101.1 661.4h5.7v8.6h-5.7zM1106.5 661.4h5.7v8.6h-5.7zM1112 661.4h5.7v8.6h-5.7zM1117.4 661.4h5.7v8.6h-5.7zM1122.8 661.4h5.7v8.6h-5.7zM1128.2 661.4h5.7v8.6h-5.7zM1133.6 661.4h5.7v8.6h-5.7zM1155.2 661.4h5.7v8.6h-5.7zM1166 661.4h5.7v8.6h-5.7zM1171.4 661.4h5.7v8.6h-5.7zM1176.8 661.4h5.7v8.6h-5.7zM1193 661.4h5.7v8.6h-5.7zM1198.4 661.4h5.7v8.6h-5.7zM1203.8 661.4h5.7v8.6h-5.7zM1209.2 661.4h5.7v8.6h-5.7zM1225.4 661.4h5.7v8.6h-5.7zM1230.8 661.4h5.7v8.6h-5.7zM1247 661.4h5.7v8.6h-5.7zM1252.4 661.4h5.7v8.6h-5.7zM1263.2 661.4h5.7v8.6h-5.7zM1268.6 661.4h5.7v8.6h-5.7zM1274 661.4h5.7v8.6h-5.7zM1279.5 661.4h5.7v8.6h-5.7zM1284.9 661.4h5.7v8.6h-5.7zM1290.3 661.4h5.7v8.6h-5.7zM1295.7 661.4h5.7v8.6h-5.7zM1301.1 661.4h5.7v8.6h-5.7zM1306.5 661.4h5.7v8.6h-5.7zM1311.9 661.4h5.7v8.6h-5.7zM1317.3 661.4h5.7v8.6h-5.7zM1322.7 661.4h5.7v8.6h-5.7zM1328.1 661.4h5.7v8.6h-5.7zM1333.5 661.4h5.7v8.6h-5.7zM1338.9 661.4h5.7v8.6h-5.7zM1344.3 661.4h5.7v8.6h-5.7zM1349.7 661.4h8.7v8.6h-8.7z"/>
</g></g>
<rect x="1044.5" y="622" width="4" height="34" fill="#fff"/>
<text x="1067.5" y="664.3" fill="#fff" transform="rotate(-90 1067.5 664.3)" style="font-size:21px">2 μm</text>
<rect x="1030.9" y="671.3" width="74" height="29" fill="#56bec6"/>
<rect x="1104.9" y="671.3" width="50.1" height="29" fill="#8dc03f"/>
<rect x="1155" y="671.3" width="202.5" height="29" fill="#c6e3ec"/>
<text x="1108.6" y="695.3" fill="#1a1a1a" style="font-size:28.8px">shrink</text>
<text x="1031" y="551.5" fill="#1a1a1a" style="font-size:29.2px;font-weight:bold">Gradual loop size decrease</text>
<text x="952" y="544.5" fill="#1a1a1a" style="font-size:45px;font-weight:bold">f</text>
<text x="994.3" y="592" style="font-size:22.5px">C</text>
<text x="995.6" y="619.9" style="font-size:22.5px">N</text>
<path d="M1019.8 576.8 Q1014.5 580.5 1014.4 586.8" fill="none" stroke="#e02626" stroke-width="3.6" stroke-linecap="round"/>
<path d="M1010.2 592 L1013 587.8 L1018 588.6 L1023 589.8 Q1021.5 596 1019.2 603.4 Z" fill="#1793b3"/>
<path d="M1020.2 603.6 C1017 609 1012.5 615 1014.6 623 C1016.5 630 1021 634 1019.5 641 C1018.5 646 1016.5 650 1016 654.5" fill="none" stroke="#e02626" stroke-width="3.6" stroke-linecap="round"/>
<clipPath id="pcf"><rect x="1029.7" y="704.9" width="327.1" height="91.1"/></clipPath>
<g clip-path="url(#pcf)">
<g fill="#999999" fill-opacity="0.33">
<circle cx="1032.7" cy="793" r="7.8"/>
<circle cx="1038.8" cy="793" r="7.8"/>
<circle cx="1043.6" cy="791.2" r="7.8"/>
<circle cx="1050.6" cy="773.9" r="7.8"/>
<circle cx="1056.8" cy="785.3" r="7.8"/>
<circle cx="1062" cy="769.7" r="7.8"/>
<circle cx="1066.4" cy="792.9" r="7.8"/>
<circle cx="1072.4" cy="785.2" r="7.8"/>
<circle cx="1079.9" cy="783.4" r="7.8"/>
<circle cx="1085.3" cy="793" r="7.8"/>
<circle cx="1090.1" cy="788.5" r="7.8"/>
<circle cx="1094.4" cy="779.2" r="7.8"/>
<circle cx="1100.5" cy="788.1" r="7.8"/>
<circle cx="1104.7" cy="783.3" r="7.8"/>
<circle cx="1111.6" cy="737.8" r="7.8"/>
<circle cx="1117.4" cy="758.9" r="7.8"/>
<circle cx="1124.5" cy="762.7" r="7.8"/>
<circle cx="1131.4" cy="754.9" r="7.8"/>
<circle cx="1136.4" cy="744.4" r="7.8"/>
<circle cx="1141.6" cy="765.4" r="7.8"/>
<circle cx="1149" cy="756.4" r="7.8"/>
<circle cx="1153.2" cy="752.3" r="7.8"/>
<circle cx="1160" cy="751.4" r="7.8"/>
<circle cx="1164.3" cy="743.8" r="7.8"/>
<circle cx="1169.1" cy="733.6" r="7.8"/>
<circle cx="1175.8" cy="752.9" r="7.8"/>
<circle cx="1181.7" cy="755.2" r="7.8"/>
<circle cx="1187.2" cy="750.5" r="7.8"/>
<circle cx="1193.7" cy="740.5" r="7.8"/>
<circle cx="1200.6" cy="738.8" r="7.8"/>
<circle cx="1207.9" cy="780.8" r="7.8"/>
<circle cx="1215.2" cy="737.9" r="7.8"/>
<circle cx="1222.7" cy="745" r="7.8"/>
<circle cx="1228.8" cy="732" r="7.8"/>
<circle cx="1234.2" cy="760.2" r="7.8"/>
<circle cx="1241.4" cy="763.4" r="7.8"/>
<circle cx="1247" cy="793" r="7.8"/>
<circle cx="1252.7" cy="785.8" r="7.8"/>
<circle cx="1256.8" cy="784.8" r="7.8"/>
<circle cx="1263.9" cy="743.2" r="7.8"/>
<circle cx="1269.6" cy="752.3" r="7.8"/>
<circle cx="1275.5" cy="755.2" r="7.8"/>
<circle cx="1281.9" cy="740.9" r="7.8"/>
<circle cx="1286.5" cy="745.6" r="7.8"/>
<circle cx="1294" cy="776.4" r="7.8"/>
<circle cx="1299.8" cy="759.1" r="7.8"/>
<circle cx="1304.2" cy="764" r="7.8"/>
<circle cx="1311.2" cy="775.2" r="7.8"/>
<circle cx="1317.7" cy="780.5" r="7.8"/>
<circle cx="1324" cy="753.4" r="7.8"/>
<circle cx="1329.6" cy="737" r="7.8"/>
<circle cx="1335.5" cy="724.4" r="7.8"/>
<circle cx="1339.7" cy="758.1" r="7.8"/>
<circle cx="1345.2" cy="747.3" r="7.8"/>
<circle cx="1352" cy="728" r="7.8"/>
</g>
<g fill="#e23c3c" fill-opacity="0.3">
<circle cx="1032.7" cy="730.1" r="7.8"/>
<circle cx="1038.6" cy="717" r="7.8"/>
<circle cx="1044.5" cy="721.6" r="7.8"/>
<circle cx="1050" cy="726.9" r="7.8"/>
<circle cx="1054.1" cy="707.9" r="7.8"/>
<circle cx="1060.4" cy="740.8" r="7.8"/>
<circle cx="1064.4" cy="731.2" r="7.8"/>
<circle cx="1070.7" cy="728.1" r="7.8"/>
<circle cx="1074.4" cy="725.9" r="7.8"/>
<circle cx="1078.4" cy="732.3" r="7.8"/>
<circle cx="1083.7" cy="732.9" r="7.8"/>
<circle cx="1089.6" cy="739.8" r="7.8"/>
<circle cx="1095.5" cy="710.4" r="7.8"/>
<circle cx="1100.9" cy="739.3" r="7.8"/>
<circle cx="1107.1" cy="735.2" r="7.8"/>
<circle cx="1112.6" cy="751.2" r="7.8"/>
<circle cx="1119.2" cy="728.8" r="7.8"/>
<circle cx="1123.6" cy="732.6" r="7.8"/>
<circle cx="1128.1" cy="785.1" r="7.8"/>
<circle cx="1134.5" cy="793" r="7.8"/>
<circle cx="1141" cy="762.7" r="7.8"/>
<circle cx="1145.5" cy="780.8" r="7.8"/>
<circle cx="1150.7" cy="793" r="7.8"/>
<circle cx="1155.1" cy="793" r="7.8"/>
<circle cx="1159.1" cy="788.7" r="7.8"/>
<circle cx="1165.2" cy="777.9" r="7.8"/>
<circle cx="1171.1" cy="791" r="7.8"/>
<circle cx="1177.8" cy="785.3" r="7.8"/>
<circle cx="1184.5" cy="759.1" r="7.8"/>
<circle cx="1190.4" cy="770.4" r="7.8"/>
<circle cx="1194.9" cy="763.2" r="7.8"/>
<circle cx="1199.8" cy="773.7" r="7.8"/>
<circle cx="1206" cy="760.2" r="7.8"/>
<circle cx="1209.8" cy="785.5" r="7.8"/>
<circle cx="1214.9" cy="793" r="7.8"/>
<circle cx="1221.2" cy="780.2" r="7.8"/>
<circle cx="1226.6" cy="758.6" r="7.8"/>
<circle cx="1230.9" cy="766.3" r="7.8"/>
<circle cx="1235.8" cy="757" r="7.8"/>
<circle cx="1240.6" cy="763.4" r="7.8"/>
<circle cx="1245.7" cy="763.4" r="7.8"/>
<circle cx="1251.5" cy="785.3" r="7.8"/>
<circle cx="1256.1" cy="763.6" r="7.8"/>
<circle cx="1261.4" cy="753" r="7.8"/>
<circle cx="1268.1" cy="766.4" r="7.8"/>
<circle cx="1272.3" cy="793" r="7.8"/>
<circle cx="1277.1" cy="779.5" r="7.8"/>
<circle cx="1282.7" cy="773.4" r="7.8"/>
<circle cx="1289" cy="783.3" r="7.8"/>
<circle cx="1293.8" cy="760.3" r="7.8"/>
<circle cx="1298.4" cy="764" r="7.8"/>
<circle cx="1302.2" cy="764" r="7.8"/>
<circle cx="1308.5" cy="762.3" r="7.8"/>
<circle cx="1313.5" cy="762.2" r="7.8"/>
<circle cx="1318.1" cy="774" r="7.8"/>
<circle cx="1324" cy="760.1" r="7.8"/>
<circle cx="1329.9" cy="763.5" r="7.8"/>
<circle cx="1335.2" cy="775.6" r="7.8"/>
<circle cx="1340.1" cy="760.2" r="7.8"/>
<circle cx="1346.2" cy="767.4" r="7.8"/>
<circle cx="1351.2" cy="792.9" r="7.8"/>
</g>
<path d="M1030.9 788.5 L1102.5 788.5 L1109.6 748.5 L1133.1 748.5 L1142.5 762.6 L1147.2 762.6 L1153.1 734.4 L1171.9 734.4 L1177.7 748.5 L1231.8 748.5 L1248.2 789.6 L1257.6 775.5 L1269.4 748.5 L1292.9 748.5 L1301.1 761.4 L1318.7 761.4 L1324.6 735.6 L1355.1 735.6" stroke="#6b6b6b" stroke-width="5.8" fill="none" stroke-linejoin="round"/>
<path d="M1032 716.8 L1043.8 720.3 L1055.5 723.8 L1072 723.8 L1076.7 726.2 L1086.1 728.5 L1102.5 728.5 L1110.8 740.3 L1117.8 737.9 L1124.9 742.6 L1128.4 780.2 L1142.5 781.4 L1153.1 790.8 L1161.3 781.4 L1177.7 777.9 L1208.3 779.1 L1229.4 773.2 L1245.9 770.8 L1257.6 773.2 L1264.7 775.5 L1281.1 779.1 L1288.2 766.1 L1302.3 767.3 L1321.1 767.3 L1337.5 767.3 L1349.2 775.5 L1355.1 787.3" stroke="#e02626" stroke-width="5.8" fill="none" stroke-linejoin="round"/>
</g>
<line x1="1104.4" y1="704.9" x2="1104.4" y2="796" stroke="#000" stroke-width="1.8" stroke-dasharray="7 4.5"/>
<rect x="1029.7" y="704.9" width="327.1" height="91.1" fill="none" stroke="#000" stroke-width="1.8"/>
<line x1="1104.4" y1="796" x2="1104.4" y2="787" stroke="#000" stroke-width="1.8"/>
<line x1="1104.4" y1="704.9" x2="1104.4" y2="713.9" stroke="#000" stroke-width="1.8"/>
<text x="1104.4" y="820.5" text-anchor="middle" style="font-size:24.5px">0</text>
<line x1="1258" y1="796" x2="1258" y2="787" stroke="#000" stroke-width="1.8"/>
<line x1="1258" y1="704.9" x2="1258" y2="713.9" stroke="#000" stroke-width="1.8"/>
<text x="1258" y="820.5" text-anchor="middle" style="font-size:24.5px">10</text>
<line x1="1029.7" y1="707.4" x2="1038.7" y2="707.4" stroke="#d0363b" stroke-width="1.8"/>
<text x="1021.5" y="720.1" text-anchor="end" fill="#d0363b" style="font-size:24.5px">5.0</text>
<line x1="1029.7" y1="770.8" x2="1038.7" y2="770.8" stroke="#d0363b" stroke-width="1.8"/>
<text x="1021.5" y="776.9" text-anchor="end" fill="#d0363b" style="font-size:24.5px">2.5</text>
<line x1="1356.8" y1="720.8" x2="1347.8" y2="720.8" stroke="#808080" stroke-width="1.8"/>
<text x="1363.5" y="730.7" fill="#808080" style="font-size:24.5px">5</text>
<line x1="1356.8" y1="788.5" x2="1347.8" y2="788.5" stroke="#808080" stroke-width="1.8"/>
<text x="1363.5" y="800.2" fill="#808080" style="font-size:24.5px">0</text>
<text x="1223.5" y="852.2" text-anchor="middle" style="font-size:28.8px">Time (s)</text>
<text x="973.6" y="755" text-anchor="middle" fill="#d0363b" transform="rotate(-90 973.6 755)" style="font-size:29px">Loop size (kb)</text>
<text x="1399.8" y="750.3" text-anchor="middle" fill="#808080" transform="rotate(-90 1399.8 750.3)" style="font-size:29px">Loop-CTCF</text>
<text x="1435.8" y="750.3" text-anchor="middle" fill="#808080" transform="rotate(-90 1435.8 750.3)" style="font-size:29px">distance (kb)</text>
</svg></body></html>
